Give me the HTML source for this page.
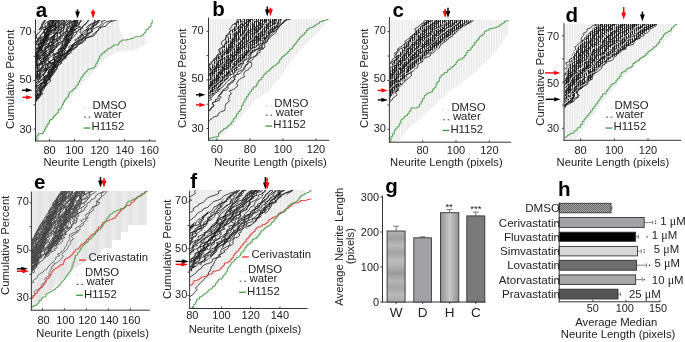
<!DOCTYPE html>
<html><head><meta charset="utf-8"><style>
html,body{margin:0;padding:0;background:#fff;}
svg{display:block;font-family:"Liberation Sans", sans-serif;will-change:transform;}
</style></head><body>
<svg width="685" height="342" viewBox="0 0 685 342">
<defs><pattern id="check" width="2" height="2" patternUnits="userSpaceOnUse"><rect width="2" height="2" fill="#a8a8a8"/><rect width="1" height="1" fill="#666"/><rect x="1" y="1" width="1" height="1" fill="#666"/></pattern>
<linearGradient id="vgrad" x1="0" x2="1" y1="0" y2="0"><stop offset="0" stop-color="#929292"/><stop offset="0.5" stop-color="#c8c8c8"/><stop offset="1" stop-color="#909090"/></linearGradient>
<linearGradient id="hstripe" x1="0" x2="0" y1="0" y2="1"><stop offset="0" stop-color="#b4b4b4"/><stop offset="0.1" stop-color="#a0a0a0"/><stop offset="0.2" stop-color="#b8b8b8"/><stop offset="0.3" stop-color="#a4a4a4"/><stop offset="0.42" stop-color="#bcbcbc"/><stop offset="0.5" stop-color="#b0b0b0"/><stop offset="0.6" stop-color="#9a9a9a"/><stop offset="0.7" stop-color="#b4b4b4"/><stop offset="0.8" stop-color="#a6a6a6"/><stop offset="0.9" stop-color="#bababa"/><stop offset="1" stop-color="#a8a8a8"/></linearGradient>
<clipPath id="c1"><rect x="36" y="20" width="124" height="120.5"/></clipPath><pattern id="s0" x="0.7" width="1.252" height="20" patternUnits="userSpaceOnUse"><rect width="1.252" height="20" fill="#f3f3f3"/><rect width="0.5" height="20" fill="#e6e6e6"/></pattern><clipPath id="c2"><path d="M47 15L44 20L36 35L20 50L0 85L30 110L35.5 103L40 97L45 88L51 78L57 68L64 59L72 50L80 42L90 32L99 23L103 19L107 15Z"/></clipPath><clipPath id="c3"><rect x="209" y="19" width="124.3" height="120.8"/></clipPath><pattern id="s1" x="0.3" width="1.653" height="20" patternUnits="userSpaceOnUse"><rect width="1.653" height="20" fill="#fafafa"/><rect width="0.5" height="20" fill="#dadada"/></pattern><pattern id="k1" width="2" height="20" patternUnits="userSpaceOnUse"><rect width="2" height="20" fill="#f4f4f4"/><rect width="1" height="20" fill="#222"/></pattern><clipPath id="c4"><rect x="389.9" y="20" width="125.3" height="121.7"/></clipPath><pattern id="s2" x="0.1" width="1.670" height="20" patternUnits="userSpaceOnUse"><rect width="1.670" height="20" fill="#fafafa"/><rect width="0.5" height="20" fill="#dadada"/></pattern><pattern id="k2" width="2" height="20" patternUnits="userSpaceOnUse"><rect width="2" height="20" fill="#f4f4f4"/><rect width="1" height="20" fill="#222"/></pattern><clipPath id="c5"><rect x="564.5" y="24" width="120.7" height="115.8"/></clipPath><pattern id="s3" x="1" width="1.685" height="20" patternUnits="userSpaceOnUse"><rect width="1.685" height="20" fill="#fafafa"/><rect width="0.5" height="20" fill="#dadada"/></pattern><pattern id="k3" width="2" height="20" patternUnits="userSpaceOnUse"><rect width="2" height="20" fill="#f4f4f4"/><rect width="1" height="20" fill="#222"/></pattern><clipPath id="c6"><rect x="31.9" y="191" width="122" height="118.7"/></clipPath><pattern id="s4" x="0.8" width="1.097" height="20" patternUnits="userSpaceOnUse"><rect width="1.097" height="20" fill="#ebebeb"/><rect width="0.5" height="20" fill="#e2e2e2"/></pattern><clipPath id="c7"><path d="M64 186L61.1 191L55.6 198.9L48.2 211.7L39 226.4L31.4 241.1L20 262L20 285L31.4 272.4L42.7 259.5L53.7 248.5L64.8 235.6L75.8 220.9L86.8 206.2L98 194L104 191L108 186Z"/></clipPath><clipPath id="c8"><rect x="190.1" y="190" width="121.4" height="118"/></clipPath><pattern id="s5" x="1" width="1.460" height="20" patternUnits="userSpaceOnUse"><rect width="1.460" height="20" fill="#f4f4f4"/><rect width="0.5" height="20" fill="#e0e0e0"/></pattern><clipPath id="c9"><path d="M243 185L237.5 190L226.4 197L208 211.7L189.6 226.4L175 240L175 282L189.6 272.4L200.7 265L215.4 254L230.1 241.1L244.8 230.1L259.5 219.1L274.2 206.2L288.9 193.4L294.5 190L300 185Z"/></clipPath></defs>
<rect width="685" height="342" fill="#fff"/>
<g clip-path="url(#c1)">
<path d="M35 20L118 20L120 30L124 40L140 38L146 34L147 44L134 50L116 52L106 58L95 70L82 84L70 98L60 110L50 124L42 136L38 141L35 141Z" fill="url(#s0)"/>
<g transform="scale(8.0,1)">
</g>
<path d="M-34.1 144l0.7-1.5 1.2-1.5 1.4-1.5 1.8-1.6 0.4-1.3 1.9-1.1-1.6-1.1 4.1-1.9-0.1-1.6 2.4-1.2-0.1-1.1 0.2-1.2 0.9-1.4 1.4-1.5-1-1.6 0.4-1.5 0.1-1.3 4.8-2 0-1.7 0.5-1.3 1.5-1.1-1.8-1.7 3.1-1.4 0.7-2 0.5-1.2-2.9-1.9 3.5-1.4-0.5-1.1 0.1-1.2 0.3-1.1 5.7-1.8-0.1-1.1 0.9-1.1 1.3-1.8 1.8-1.4-0.5-1.2-0.4-1.6-0.1-1.2 1.7-1.2 1.5-2-0.2-1.9-1-1.2 3.9-1.6 1.4-1.1 0.1-1.3 0.2-1.8 1.8-1-0.7-1.1 0.6-1.6-2.2-1.4 3.8-1.5 1.9-1.6-0.1-1.1 1.8-1.9-0.3-1.2 2.3-1.8 0.6-1.9 0-1.9 0.4-1.1 2.3-1 0.7-1.7 1.6-1.3-1.3-1.3 1.2-1.2 0.6-1.2 2.8-1.5-0.5-1.3 2.7-1.9 1.8-1.3 2.4-1.5 1.4-1.3 2.2-1.6 2.3-1.9 0.1-2 0.1-1.6 1.9-1.1 1.5-1.9 1.4-1.7 0.8-1.6 0.6-1.5 0-2-0.9-1.1 1.8-1.9 1.3-1.7-0.4-2 1.3-1.3-0.2-1.9M-27.9 144l-2-1.6 0.8-1.6 3.5-1.6-2.1-1.1-0.9-1.9 1.7-1.7 4.6-1.6 1.4-1.4 0.6-1.8-0.4-1 0.5-1.2 0-1.7 2.6-1.9 2.6-1.3 0.8-1.7 2.1-1.2 2.8-1.6 0.1-1.5-1.1-1.6-1.9-1.2 3.2-2-0.3-1.8 2.7-1.4-2.2-1.1 2.3-1.8 2.7-1.8 0.1-1.1 0.8-1.5 1.9-1.4-0.7-1.6 1.5-1.9 0.8-1.9 1.1-1.1 3.3-1.8 0.4-1.6 0.1-1.3-0.1-1.2 3.4-1.4-0.3-1.2 1.7-1.2 0-1.4-1.4-1.7-0.8-1.9 2.7-1.7 2.5-1.2-2.2-1 1.8-1.2-0.2-1.2 3.3-1.6 0.5-1.6-0.7-1.8 4.5-1.9 1.6-1.7-2.6-1.1 2-1.9-2-1.4 1.1-1.8 0.5-2 2.8-1.2 2.4-1.7-0.8-1.7 4.8-1.2-1.4-2 2.5-1.5 1-1.9 2.3-1.9 2.5-1.4 1.8-1.6-0.6-1 5-1.8 1.4-1.2 0.4-1.3-0.6-1.2 0.6-1.5-1.4-1.7-0.8-1.9 3.3-1.1 0.7-1.2 2-1.8-1-1.6 2.2-1.6-0.1-1.3 4.5-1.9 2.9-1.2M-26.5 144l2.6-1.6 2.8-1.5 4-1.6-0.6-1.5 0-1.4-1.7-1.5 3-1.7 1-1.4 1.5-2-0.4-1.4-1.8-1.2 3.3-1.9 0.6-1.4 2-1.6 2.6-2 1.4-1-0.3-1.2 2.1-1.3-1.1-1.4 0.1-1.7-0.4-1.1 1.2-1.2 0-1.5 2.2-1.5 1.6-1.5 1.6-1.6-2.1-1.7 1.5-1.6 2.2-1.8 3.7-1.8-0.3-1.9 1.9-2 3-1.2-1.2-1.1-0.4-1.3-0.8-1.1-0.8-1.8 3.1-1.1 0.8-1.4 0.5-1.2 4.2-1.7-2.7-1.1 1.1-1.5-0.6-1.7 2.2-1.2 1-1-1-1.6 1.4-1.1 2-1.2 3.5-2 0.2-1.9 0.6-2 0.5-1.4-0.7-1.5-0.3-1.5 2.5-1 1.7-1.7 0-1.5 0.7-1.7 1.8-1.2 3.9-1.5 0-1.8 1.6-1.7-1.1-1.4-2.1-1.6 3.9-1.8 4.4-1.3 0.2-1.8-0.2-1.8 5.1-1.9 1.9-1.7-1.1-1.4 3.4-1.7 1.5-1.4-0.8-1.1 3.1-1.6 2.2-1.2-1.1-1.4-0.8-1.6 0.8-1.4 0.7-2 0.4-1.8 4.7-1.9 1.2-1.8M-21.7 144l1.1-1.2 1.7-1.4 1.4-1.9-3.2-1.5 2.4-1.6 0.5-2 0-1.1 2.6-1.6 1.6-1.9 0.5-1.2 1.9-1.4 4.4-1.7 0.7-1.4-1.4-1.5-0.1-1.3 0.4-1.6 1.3-1.8 2.5-1.3 0.5-1 0.6-1.2-0.3-1.9 5.8-1.7 0.9-2 0.4-1-1.2-1.5 1-2 2.8-1.9-3.7-1.7 3.4-1.9 2.8-1.6 1.6-1.4 1.4-1.2-0.1-1.1-0.9-1.5-0.7-1.2-0.6-1.6 3.4-1.6 3.5-2-1-1.2 2.4-1.1-1.7-1.6 0.8-1.4 3.2-1.6-1.5-1.5-0.7-1.2 4.8-1.3-0.3-1.9 1.3-1 0.6-1.4 1.8-1.7 0.7-1-1.1-1.1-0.7-1.6 0.7-1.4 1.8-1.4 1.8-1.7 0.3-1.1-0.3-1.8 0.1-1.2 2.2-1.5 4.2-1.3 1.4-1.7-0.1-1.5 2.5-1.8-0.1-1.4 1.4-1.1 0.5-1-0.4-1.6 2.6-1.3 3.2-1.8 2-1.6 0-1.1 4.1-1.7 1.1-1.3 1.4-1.7 1.6-1.4 1.2-1.6 2.9-1.9-2.3-1.4 0.3-1.8 2.1-1.4 1.5-2-0.4-1.3 0.1-1.4 2.5-1.4-1.8-1.2M-17.6 144l0.7-1.8 1.4-1.8 1.7-1.9 1.6-1.5-2.3-1.5 1.2-1.7 4.4-1.8 1.9-1.8 2.3-1.1 1.3-1.9-1-1 0.3-1.8 1.3-1.6 2.2-1.8 0.7-1.5-0.8-1.4 1.1-1.9 0.2-1.6 1.4-1.7-1.1-1.4 1.8-1.8 0.5-1.8 5.9-1.9-1.5-1.6 1.4-1.5-0.8-1.5 4-1.4 3.2-2 0.5-1.3 1-1.5 0.4-1.3 0.1-1.3-1.1-1.1-0.7-1.2 0.1-1 3.1-1.9 1.8-1.1 1.2-1.2 0-1.2-1.1-1.2 1.5-1.2 2.4-1.8-1.8-1.3 1.2-1.5 4.1-1.2-2-1.4 3.1-1.5-0.1-1.3 3-1-1.2-1.4-0.4-1.5 1.7-2 1.4-1.7 1.3-1.4 1.5-1.4-1.4-1.6 2.4-1.2 2-1.2-1.1-1.9 2-2 0.6-1.3 1.7-1.7 2.6-1-0.9-1.9 1.8-1 4-1.1-2.6-1.5 3.6-1.6 1.4-1.9 4.4-1.4 3.3-1.9 1.1-1.2-0.9-1.5 0.9-1.9 0.7-1.3 1.5-1.3 0.6-1.5 0-1.6 0.2-1.1 3.4-2 1.2-1.8 0.9-1.4 1.6-1.7 3-1.5 2.3-1M-14.3 144l0.8-1.6 2.5-1.6-0.4-1.3 2.5-1.6 1-1.3 2.4-1.3-2.1-2 0.4-1.3 2.5-1.8 1.1-1.1 0.7-1.7 0.1-1.4 1.2-1.8 1-1.2 2.2-1.2 1.4-1.1-0.8-1.9 2.3-1.6 1.6-1.8-0.7-1.3 2.8-1.5 0.8-1.7 1.6-1.9-1.3-1.6 0.8-1.1 3-1.6-0.7-1.1 2.9-1.8 0.2-1.8 0.8-1.8 0.3-1.9 1.3-1.5 0.3-1.1-2.4-1.6 3.8-1.7 1.3-1.9 2-1.7 1.6-1.2 0.4-1.6 0.1-1.9 0.8-1.4 2-1.9 2.4-1.2-0.7-1.5 0.8-1.6 4.5-2-0.9-1.8 0.2-1.8 1.6-1.3 0.1-1.6 2-1.8 2.1-1.1 1.5-1 3.7-2-2.2-1.6 2.4-1.8-2.6-1.3-0.2-1.1 0.9-1.2 2-1.3 2.3-1.6 2.5-1.3-0.2-1.5 2.9-1.1 3-1.7 3-1.6-2.3-1.4 2.5-1.7 1.2-1.8 0.1-2 3.2-1.8-0.1-1.4 3.2-1.6-0.3-1.5 2.4-1.5-0.2-1 3.3-1.7-0.9-1.6 0.9-1.8 3.1-1.1-1.4-1.1 2.2-1.4 0.2-1-0.4-1.3M-10.8 144l1.7-1.1 3.2-1.9-0.2-1.8 1-1.5-0.1-1.7 2-1.6 0.8-1.8-2.5-1.1 1.7-1 1.7-1.2 2.8-1.1 1.7-1.9-0.7-1.4 1.9-1.5 1.5-1.9-2.3-1.3 3-2 2.2-1.5 2.7-1.9 1.8-1.9 2.8-1.4 0.8-1.4 2.5-2-1.8-1.2 0-1.9 2.5-1.1 1.4-1.3 1.7-1.9-2.2-1.1 2.7-1.7-0.5-1.1-0.1-1.2 3.1-1.2 0-1.2 2.6-1.8-2.1-1.4-1.4-1.5 1-1.3 5.2-1.6-0.6-1.3 0.4-2-0.8-1.4 1.3-1.1 1.3-1.6 2.5-1.8-0.2-1.1 3.1-1.2-1.2-1.3 0.8-1.9 2.7-2 0.8-1.7 1.9-1.4-0.9-1.2 0.1-1.6 0.5-1.6 0.3-1.8 2.4-1.8-1.5-1.7 2.5-1.2 3.6-1.8 2.8-1.2 0.7-1.5-1.3-1.8 1.2-1.2 2.7-1.6 3.8-1.5 1.5-1.7 1.6-1.6 0-1.1-0.4-1 2.2-1.5 1.9-1.2 1.4-1.9-0.8-1.6 1.7-1.2 1.8-1.2 2-1.3 0.4-1.6 1.7-1.6 1.7-1.1 0.3-1.3 0.4-1.1-0.3-1.8 1.3-1.1 3.1-1.2 3.6-2M-4.9 144l2.3-2 1.9-1.7 0.1-1.1 3.2-1.1-1.1-1.4 1.5-1.1 2.1-1-0.4-1.7 0-1.3 2.3-1.2 1.2-1.5-0.7-1.3 0.9-2 0.7-1.4 2.6-1.7 1.2-1.6-1.6-1.9 0.5-1.5 3-1.4 0.4-1.7 1.1-1.3 2.5-1.5 1.1-1.2 1.8-1.4-3.7-1.4 4.5-1.6 1.9-1.9 2-1.1-0.2-1.7 1.6-1 0.3-1.2 2.6-1.9 0-1.7 1.7-1.2-1.3-1.9 3.2-1.7 1.5-1.9 0-1.4 1-1.1-0.5-1.8 2.2-1.5 0.6-1.2 1.2-1.1 1.3-1-2-1.3 1.7-1.1 0.5-1.7 3.2-1.7-0.2-1.2 1.4-1.7-2.2-1.4 3.2-1.2-0.3-1.3 1.5-1-0.9-1.1 0.4-1.8 1.7-1.9 4.1-2-0.4-1.2-0.2-1.9 2.7-1.9 3.2-1.1 0-1.4 1.3-1.4-0.1-1.3 1.6-1.2 0.8-1.4 2.3-1.7 2.6-1.2 1.7-1.4-1.3-1.2 1.1-1.5 4-1.7 1.3-1.4 0.5-1.1 1.7-1.4 0.1-1.6 2-1.3-0.7-1 4.8-1.6-0.1-1.2 0.4-1.5 3-1.6 0.6-1.6 1.9-1.9-0.6-1.7 1.2-1.4 3.2-1.8M-2.8 144l3.7-1-1-1.2 1.3-1.3 2.2-2 1.5-1.2 0.8-1.7 1-1.6 1-1.4 2.8-1.6-1-1.6 0.4-1.8 1.5-2 3.3-1.8 0.3-1.4-0.7-1.6 3-2 0.8-1.6 0.5-1.5 1.3-1.3 1.1-1.8 1.6-1.2 2.2-1.3 2.3-1.2 0.6-1 0.9-1.7-2-1.1 2.8-1.5 2.8-1.2-2.2-1-1-1.3 2.5-1.4 2-1.7 3.4-1.3 0-1.4-2.2-1.8 0.1-1.5 3.4-1.7 1.5-1.8 0.1-1.4 1.5-1.6 1.6-1.1 4-1.5-2.6-1.2-1-1.7 2.5-1.4 1.5-1.9 0.7-1.7 1.7-1.1 0.7-1.8 1.6-2 0.8-1-1-1.5 1.5-1.3 2-1.8-0.2-1.4 2-1.6-2.9-1.4 0.9-1.7 2.5-1.2 5-1.2 2.5-1.2 0.9-1.5 0.6-1 1.6-1.6 1.8-1.2-1.4-1.3 1.4-1.2 3.7-1.1 1.1-1.3 0.5-1.1 2.5-2 1-1.2-0.9-1.4 1.5-1.8 2-1.5 0.7-1.7 1.4-1.9 3.9-1.9 1.2-1.8 1.6-1.8 1.2-1.1 2-1.2 1.6-1.7 0.3-1.3 0.9-1.2 3.5-2 1-1.8M2.2 144l0.1-1.8 2.6-1.8-3.1-1.1 1.8-2 4.2-1.2 3.7-1.9 0.4-1.3-0.8-1.4 3.4-1.8-0.3-1.3 0.1-1.3 1.8-1.9 2.1-1.4 1.8-1.7 3.1-1.5 0.4-1.7 0.7-1.2 0.2-1.3 1-1.5 0.1-1.4 3.4-2 1.2-1.2-0.2-1.7 2.3-1.1 0.7-2-1.1-1.2 2.8-1.2-0.7-1.3-1.5-1.3 0.1-1.2 6.4-1.1-0.8-1.7 2.5-1.2 2.5-1.6-2.1-1.6 0.4-1.5 1.2-1.9-0.6-1.7 2.6-1.4 1.4-1.4 2.8-1.5 1.9-1.5-0.2-1.5-2.6-1.6-0.2-1.1 4.5-1.5 0.2-1.3 2.3-1.8 0.2-1.8 1.9-1.1-0.3-1.3-1-1.8-0.5-1.9-1.4-1.7 3.6-1.1 2.9-1.9 1.5-1.8-0.5-1.4 2.3-1.2 2-1.3 1.8-1.6 1.1-1.8 2.6-1.8 2.5-1.8 0.2-1.9 3.5-1.8 2.3-1.1-1.1-1.1 4.7-1.8 0.8-1.1 2.4-1.9 1.1-1.6 0.9-2-1-1.2 0.5-1.7 1.9-1.2 0.9-1 1.7-1.3 4.1-1.3 0.8-1.6 0.3-1.2 1.3-1.7 1.8-1.1 1.1-1.9 1-1.2" fill="none" stroke="#1c1c1c" stroke-width="0.85" stroke-linejoin="round"/>
<g clip-path="url(#c2)">
<path d="M12.1 144l2-1.4-0.7-1.2 0.2-1.8-0.1-1.4 2.7-1.9 0.8-1.4 0.2-1.6 2.1-1.2 0.2-1.9-1.9-1.7 3.4-1.4 0.2-1.7 0.5-1.1 1.3-1.4 3.2-1.9-0.5-1.3-1.1-1.3 3.8-1.4 2.4-1.2-2-1.5 3.2-1.8-0.8-1.6 0.7-1.9-0.4-1.1 2.4-1.7-1-1.7 4.2-1.9-1.4-1-0.3-1.4 0.6-1.5 3.5-1.6 4.8-2-2.3-1.3-1.2-1.9-0.5-2 0.2-1 2.4-1.7 2-1.2 0.5-1.4-1.3-1.1 2.8-1.1-0.8-1.2-0.1-1.7 2.5-1.3-1.1-1.7 1.5-1.2 1.7-1.8 1.7-2 0.5-1.3 0.3-1.6 1.3-1.7 0.2-1.3 1.3-1.6 2.3-1.1 1-1.3 0.3-1.8 1.7-1.1-2-1.2 1.7-1.4 3.1-1.9 1.2-1.2-1.7-1.9 0.7-1.6 2.5-1.9-0.4-1 1.4-1.2-1.7-1.7 1.1-1.1 1.1-1.1 3-1.3-0.3-1.9-0.1-1 1.1-1.3 1.6-1.1-0.3-1.5 3.4-1.7-2.6-1.5 2.5-1.5-0.5-1.3 1.1-1.8 2.3-1.4-0.7-1.5 2.1-1.4 0.3-1.1 0.1-1.5 0-1.5 1.7-1.1M-8.7 144l2.9-1.5-3.7-1 3.4-1 1.6-1.6-0.5-1.6-0.2-1.4 2.8-1.6-1.9-1.3 1.3-1.7 1.6-1.1 0.9-1.2-2.1-1.8 3-1.4 0.3-1.3 0.5-2 0.6-1.8 2.4-1.9 0.3-1.8 0.5-1.7-0.6-1.1 0.5-1.9 5-1.6 0.2-1.8 2.3-1.6-0.8-1.4 3.2-1.7-1.8-1-2.1-1.8 2.2-1.4 0-1.4 1.2-1.4 1.5-1.7 0.9-1.8-0.1-1.7 0.5-1.1 2.6-1.3-0.4-1.9-1-1.3 2.5-1.8 1.6-1.1-1.3-1.1-0.5-1.4 3.3-1.9 0-1.5-0.3-1.8 1.2-1.1 0.3-1.6 0.7-1.2 1.9-1.3-0.6-1.6 1.2-1.6 0.2-1.8 2.9-1.5-0.3-2 2.9-1.2-0.4-1.3-1.5-1.2 1.9-1.1-0.3-1.7 0.1-1.5 0.7-1.9 0.5-1.9 2.4-1.3 2.3-1.7 1.3-1.9-0.5-1-0.9-1.6 3.5-1.3 3.1-1.8 1.3-1.8 0.1-1.2-2.9-1.2 0.3-1.1-1.5-1.8 1-1.9 0-1.7 5.3-1.7 1.7-1.3-2-1.3 2.7-1.2 0.2-1.3 0.2-1.3 1.3-1.4-0.1-1.3 1.8-1.5M17.2 144l-1.1-1.5-0.5-1.8 2-1.9 1.8-1.8 2-1.9 1-1.4-0.2-1.4 0.7-1.4-2-1.5 2.2-1.6 3.2-1.9 2.7-1.1-1-1.1 2.5-1.9 1-1.1-0.8-2 3.3-1.1 0-1.6 0.2-1.6-0.4-2-1.2-1.8 3.8-1.5 1.4-1.2-0.6-1.5 2.3-1.2-0.9-1.7 1.9-1.1-2.9-1.5 1.3-1.5 1.7-1.2 3.1-1.7 4.4-1.9-1.2-1.9 0.7-1.9 0.3-1.5 0-1.6-0.5-1.6 3.5-1.9 1.8-2 2.2-1 1.6-2 1.6-1-0.6-1.7-2.5-1.5 0.3-1.8 3.6-1 1.4-2-0.9-1.8 1.5-1.4 0.5-1-0.4-1.6 0.2-1.5 3.4-1.5 0.8-1.2-0.5-1.1-1.7-1.3 2.3-1.3 0.5-1.3 0.5-1.5 2.1-1.2 0.1-1.3 0-1.3 3.6-1.6-0.1-1.8 0.8-1.8 1.1-1.2 2.4-2-1.9-1.4 4.1-2 1.5-1.4 1.6-1.8-0.4-1.3-1.6-1.3 1-1.6-0.4-1.8 0.1-1 1.7-1.1 2.3-1.9 1.8-1.9 1.9-1.9-0.2-2-0.2-1.1-2.3-1.2M-28.1 144l-2.3-1.5 3.4-1.3 2.3-2 1-1 1.5-1.1 0.3-1.3 1-1.5-1.9-1.6 0.7-1.5 2.9-1.9 1.1-1.1 0.7-1.3-2.5-1.5 1.3-1.2 3.5-1.3 2.3-1.8-0.2-1.6-0.1-1.8 1.6-2 3.5-1.9 0.1-1.4 0.3-1.1 1.1-1.7 1-1.2 0.3-1.8-0.5-1.5-0.4-1.2 1.2-1 1.6-1.3-0.1-1.6 2.6-1.6-1.3-1.4 3.9-1.5-1.4-1.5 0.7-1.3 1.8-1.9 4.4-1.9 0.3-1.8 1.3-2 0.5-1.3 1.5-1.2 1.2-1.6 1.9-1.3-2.2-1.1-1.2-1.6 2.5-1.5-0.6-1.3-0.5-1 1.5-1.6 0.6-1.7 1.5-1.5-1.4-1.4-0.9-1.3 5.1-1.5 1.9-1.2 0.7-1.8-0.4-1.9-0.4-1.5 2.8-2-0.2-1.5 1.8-1.8 0.6-1.5 1.8-1.2 2.2-1.9-3.3-1.9 3-1.7-0.6-1.8 3.4-1.8 3.1-1.3-0.1-1.2 0-1.5 1-1.4-1.1-1.9 1.5-1.9 1.1-1.7 3.9-1.1-0.7-1.3-0.6-1.2-0.8-2 3.7-1.6 2-1.1 0.5-1.8-2-1.9 3.7-1.6M-3 144l2.1-1 2.1-1.3-0.2-1.6-2.2-1.5 1.1-1.3 2.1-1.7 1.7-1.7-0.3-1.9-0.1-1.9 4.5-1.6-0.4-2-1.5-1.3 0.6-1.5 1.2-1.9-1.5-1.5 2.2-1.2 0.1-1.2 0.8-1.4 2.3-1 0.8-1.6-0.4-1.9-0.2-1.4-2.2-1.3 3.2-1.1 0.5-1.4-0.6-1.6 5.1-1.6-1.2-1.3 2.7-1.5-0.2-1.2 1.2-1.8 0.5-1.5-0.3-1.3-1.5-1.3 0.6-1.8 0.1-1.4 3.4-1.5 2.1-1.9 0.9-1.9 0.3-1.3-0.2-1.7 1.1-1.4 0.7-1.6-0.7-1.6 1.2-1.7 1.1-1.7 2.4-1.1 0.4-1-1.2-1.1 1.8-1.1 1.6-2-1.2-1.6 1.7-1.3 0.3-1.3 1.6-1.2-1.1-1.4 1.8-1.4-0.1-1.8-0.3-1.7 1.9-1.5 0.1-1.4 2.9-1.4 0.2-1.3-1.3-1.5 0.1-1.9 2.2-1.9 1.5-1.9-0.6-1.7 0.9-1.8 3.7-1.9-0.7-1.7-0.5-1.6 1.4-1.2-0.6-2 1.6-1.4 0.9-1.4 1.1-1.7 2.7-1.3 0.8-1.4 0-1.9-2.2-1 0.5-1.9-0.1-1.4 1.1-1.7M7.4 144l-0.9-1.5 3.5-2 2.1-1.4 0.7-1.7-0.7-1.5-0.5-1.6 1-1.6 0.4-1.9 0.1-1.8 2.5-1.4 1.9-1.5 1.7-1.5-0.6-2 0-1.3-0.3-1.3-0.1-1.7-1.3-1.4 1-1.3 3.1-1 0.2-1.4 0.1-1.3 2.2-1.8-0.1-1.2 2.7-1.1 1-1.8-2.7-1.2 1.1-1.1 1.6-1.8-0.2-1.7-0.4-1.7 3.8-1.2-0.7-1.5 2.1-1.8-3.2-1.6-0.8-1.2 1.8-1.2 1.6-2 0.2-1.3 2.5-1.9 0.7-1.9 0.2-1.3 2-1.7 3.6-1.9-1.5-1.2 1.1-1.7-0.3-1.1 0.2-1.8 0.3-1.6 0.5-1 2.8-1.4-0.1-1.8 0.4-1.1 0.7-1.7 0-1.2 2.8-1.7-1.5-1.3 1-1.6-0.2-1.3 1.7-1.3 1.5-1.3 0.1-1.6 2.2-1.2 1.2-1.5-1.9-1.5 3.3-1.8-1.9-1.6-1.3-1.5 0.2-1.4 2.8-1.5-1.7-1.5 1.5-1.9 2.6-1.2 0.5-1-0.2-1.8 0.1-1.2 2.5-1.9-1.3-1.7 0.2-1.7 2.1-1.6 4.3-1.9-0.7-1.8-0.1-1.1 4.1-1.5-2.4-1.5M-11.6 144l0.7-2-0.3-1.4 1.7-1.6 1-2-0.3-1.4-1.8-1.6-1.8-1.2 3.1-1.6-0.6-1.2 2.3-1.4 0.7-1.6 0.5-1.2 1.1-1.6 1.3-1.8 2-1.3-1-1.1 0.2-1.7 3.3-1.7-0.2-1.8 0-1.7 0.1-1.2 0.5-1.2 1.5-1.4-0.5-1.3 1.3-1.8 2-1.6 1.4-2-0.4-1.3-0.2-1.9 2.2-1.2 0.3-1.5-0.9-1.2 0.1-1.9-0.1-1.2 0-1.3 3.8-1.7-1.3-2-1.2-1.3 1.1-1.8 1.3-1.4 0.4-1.4 0.7-1.1 0.2-1.9 2-1.2 1.2-1.6-0.3-1.5 0.8-1.5-1.4-1.2 1.3-1.2 0.7-1.9 1.5-1 2.2-1.9-0.2-1.6-2-1.7 1.9-1 0.1-1.2 3.7-1 0-1.4 2.2-1.1-0.3-1.6 0.2-1.9-0.2-1.3 0.6-1.2 0.7-1.6 0.7-1.2 1.3-1.4-2.1-1.1 0-1.4 3-1.5 0.2-1.2 2.9-1.3-0.9-1.6-3.6-1.4 0.7-1.1 1.2-1.4 0.1-1.7 2.9-1.9 0.8-1.3 1-1.8-1.7-1.9-0.7-1.2 3.9-1.8 2.7-1.1-0.7-1.8-2.7-1.4-0.2-1.9M-10 144l-1-2-0.1-1.1 2.8-1.1 2.9-1.8 0.6-1.3-0.7-1.3 0.2-1.5 2.5-1.8 0.3-1.4 1.8-1.7 2.7-1.2-0.6-1.5-0.2-1-0.3-1 2.3-2 2.5-1.7 0.4-1.2-0.7-1.5-1.8-1.9 1.5-1.4 2.9-1.4-1.2-1.7 2.1-1.1 2.2-1.8 0.5-1.6 2-1.2 0.3-1.2-1.4-1.7 0.9-2 1.8-1 1.3-1.5 0.4-1.8-0.1-1.9 3.3-1.4 1.7-1 0.7-1.2 0-1.1 1.8-1.5 1.6-1.8 1.1-1.4 1.2-1.7-2-1.9 0.7-1.9 2.5-1.6 0.5-1.8 0.7-1.6 1-1.5-0.6-1.3 0.6-1.5 2.8-1 2.2-1.7 0.6-2-0.8-1.5 1.7-1.5-0.3-1.9 0.2-1.5 2.8-1.3 2.5-2 0.4-1.1 0.9-1.7 1-1.4 0.5-1.6-1.1-1.3 2.2-1.4-0.1-1 0.6-1.9 1.3-1.1 1.3-1.9 0.6-1.7-0.7-1.2 2.3-1.1 1-1.9 2-1.8 2.5-1.1 0.3-1.4 0.6-1.9-0.8-1.1 0-1.6 2-1.9 0.6-1.2 1-1.9 0.7-2 0.8-1.7 2-1.9M4.9 144l1.8-2-0.2-1.5 2-1.3 2.5-1.8-2.5-1.3 2.3-1.7 0.9-1.5 0.6-1.2-1.5-1.8 1.5-1.4 2.8-1.3 3.5-1.6-2-1.2-1.7-1.6-0.8-1.8 0.6-1.9 1.5-1.4 0.8-1.4 1.1-1.4 0.6-1.4 2.6-1.8-0.9-1.8 1.1-1.4 0.7-1.4 2.4-1.1-2.4-1.3 2.8-1.3 1.8-1.7 1.8-1.9 1-1.7 1-1.2-0.8-1.5 0.3-1.2 2.3-1.3 2.2-1.7 0.1-1.8 0.1-1.4 0.6-1 0.2-1.8 0.3-1.5 0.7-1.6 1.1-1.4 1.9-1.4 0-1.9 0-1.8 0.8-1.9 0.3-1 0.7-1.1 3.5-1.4 3.4-1.6 0.9-1.9-2.1-1.7 0.2-1.4-2-1.2 0.1-1.5 2.8-1.7-1.3-1.7 1.1-1.9 1.9-1 1.4-1.2 0.4-2 2.5-1.4-0.2-1.6 3-1.3-0.3-1.9 0.1-1.5 0.7-1.1 0-1.3-0.9-1.8 0.5-1.4 2.2-1.5 2.4-1.2 0.9-1.7 0.5-1.2 0.1-1.5 0.7-2 0.3-1.9 1.7-1.8 1.9-2 2.5-1.8-0.2-1.9 0.5-1.2 2.4-1.2-2.7-1.5M-18.5 144l-0.5-1.8 0.3-1.4 2.3-1.4 0.3-1.4-0.8-1.4 2.3-1.5 1.5-1.4 1.3-1.4 0.5-1.4 0.9-1.9 0.1-1.4 0.4-1.3 1.6-1.6-0.1-1.9 1.3-1.1 0.3-1-0.4-1.7 2-1.8 0.9-1.3 0.4-1.8-0.7-1.4-1.3-1.4 2.5-1.2 3-1.9-0.6-1.9 3.1-2 3.4-1.2-0.7-1.8-0.1-1.4-0.8-1.8-0.4-1.9 0.6-1.9 0.9-1.3-2.2-1.3 3.9-1.6 1.7-1.8 0.8-1.7 0.2-1.4 0.7-1-1.1-1.4 0.7-1.6 3.1-1.3 0-1.3-0.6-1.5 1.4-1.1 0-1.3 1.1-1 3.2-1.5-0.7-1.3-0.6-1.5 0.1-1.1-0.9-1.8 0.7-1.3-1-1.8 2.3-1.8 1.3-1.9-0.8-1.5 0.5-1.5 1.4-1.8 4.2-1.9 0.9-1.6 0.4-1.6-0.1-1.5 1.3-1.3 0-1.6 0.4-1.1-0.9-1.8 1.5-1.3 0.8-1.2 2.7-1.7-1.9-1.3 0.4-1.1-1.2-1.1 1.9-1.9 1.4-1.5 3.4-1.3 1.7-1.9-1.9-1.2 1-1.6-0.5-1.1 2.1-1.5-2.6-1.5 0.1-1.9 2.9-1.9 0.1-1.2M-11.7 144l5.1-1.3 0-1 0.4-1.8 1.1-1.8 0.1-1.2 1.2-1.8-0.8-1.1 3.2-2-0.8-1.5 0.7-1.7-1.2-1.3 0.8-1.5 0.5-1.7 2.4-1.1 0.4-1.2 4.1-2-1.5-1.8 1.5-1.9-1.6-1.1 2.9-1.7-2.2-1 1.3-1.1 0-1.9 0.1-2 3.1-1.6 0-1.7 2.9-1.1 0.3-1.9-1.7-1.5-0.1-1.2 3.1-1.5 2.5-1.1 0.2-1.3 0.7-1.2 2-1.7 0-1.9 0.4-1.9 0.6-1.6-1.2-1.3 3.6-1.4 1-1 2-1.7-1.5-1.6 3.4-1.8-0.9-2 2.4-1.5-0.1-1.6-0.7-1.9-0.1-1-1.5-1.8-0.3-1.6 3.9-1.9-2.7-1.4 3.4-1.9 2.2-1.3 2.7-1.4 0.2-1.3 1.7-1.7 0.8-1.4-1.2-1.1 0.4-1.8 2.1-1.3 0.5-1.6 1.8-1.2 0.5-1.9-1.4-1.3 1.5-1.2 2.3-1.6 0.7-1.3 0.7-1.8-1.7-1.6 1.9-1.8 0.5-1.2 3.7-1.7-3.6-1.8 0.2-1.1 1.6-1.6 3.4-1.2 0.1-1.2 0.7-2 1.4-1.7 0.9-1.3 1.8-1.6-1.5-1.3M4.4 144l1.9-1.3 0.7-1.5 3.8-1.1 1.5-1.1-0.6-1.8 0.3-1.7 2.2-1.1-2-1.5 3.2-1.5 0.1-1 2.1-1.5-1.6-1.1 0.5-1.8-0.1-1.7 0.2-1.6 2.6-1.3 1.9-1.3-0.3-1.7 1-1.4 1.3-2 2.9-1.7-0.5-1.1 2.2-1.1 0.4-1.7 0-1.9 1.4-1.2 1.7-1.2 0-1.4 1.2-1.4-0.2-1.8 0.9-1.5 0.9-1.6 2.9-1.9 0.2-1.3 1.2-1.6-2.2-1.3 4.2-1.1-0.8-2 1.8-1.5 0.8-1.9-0.2-1.1 1.3-1.9 1.6-1.3 0.6-1.2-1.4-1.5-0.3-1.1 3.2-1.5 1.4-1.8 0.8-1.3-0.6-1.4 3.1-1.7 0.2-1.6 2.6-1.7-1.2-1.2-0.7-1.2 1.5-1.6 0.3-1.1-0.4-1 4-1.1-0.9-1.9 1.8-1.4 0.6-1.7 1-2 0.7-1.1 1.2-1.1-1.3-1.5 0.9-1.1 0.6-1.1 0-1.6 0.2-1.8 1.9-1.2 2.5-1.5 2.1-1-1.2-1.8 3.6-1.5-1.2-1.8 1.5-1.8 1.9-1.1-3.7-1.7 3.2-1.3 3.8-1.5-2.7-1.7 3-1.9 0.4-1.6-0.7-1.1-1.4-1.5 2.2-1.1 1.9-1.5M-29.5 144l-1.8-1.5 4.5-1.4 1.3-1.6 1.1-1.4 1-1 0.9-1.2 0.2-1.1-2.1-1.8-0.3-1.6 1.4-1.1 4.4-1.6-0.3-1.7 0.1-1.2 2.7-1.4-2.9-1.6 3.4-1.2 0.9-1.5 0.9-1.9 1.1-1 1-1-2.9-1.2 0.6-1 1.4-1.6 1.7-1.9 0.1-1.6 1.6-1.3 0.3-1.9 2.7-1.7 0.1-1.9 1.1-1.6 3-1.3 1.6-1.1-0.2-1.3-0.2-1.1-0.3-1.7-1.3-1.3 4.6-1.8 2.3-1.9-0.4-1.9-0.7-1.6 0.4-1.4 1.4-1.6 3.2-1.8 0.2-1.8 0.6-1.3 1.4-1.5-1.3-1.5-0.7-1.6 1.4-1.5 1.8-1.6 2-1.4 2-1.9-0.1-1.6-0.1-1.5 1.6-1.8 0.8-1.1 1.8-1.2 1.6-1.2 0.4-1.2-1.6-1.6 0-1.5 1.2-1.6 3.1-1.7 0-1.2-0.8-2-0.6-1.6 1.6-1.3-0.1-1.3 3.5-1.8 4.8-1.2-2-1.4-0.2-2 0-1.1-0.7-1 1-1.7 0.1-1.7 3.5-1.6-0.7-1.7 1.5-1.5 0.5-1.1-0.2-1.5 1.7-1.9 2.1-1.5 2.8-1.4 2.7-1.2 0.3-1.7M27.4 144l3.1-1-1.4-1.5-0.6-1.6 1.1-1.3 1.2-1.5 0.1-1.5-1.4-1.5 1.4-1.6 3.6-1.3-0.2-1.3 1.2-1.5 0.5-1.7 0.8-1.5 1.6-1.2-1.2-1.4 2.3-1.3-1.6-1.6 2.6-1.8 2.8-1.3-0.1-1.3 0.1-1.3-0.4-1.7 2.2-1.2 0.2-1.9-0.2-1.4 2.9-1.5-2.3-1.6 1.3-1.7 2.2-1.1 1.2-1.1 1.3-1.8 1.2-1.2 0.9-1.5 0.3-1.1 1.8-1 0.7-1.5-1-2-0.7-1.6 2-1.9 0.8-1.4 4.3-1.5 2.1-1.4-3.3-1.2 1.5-1.3 2-1.6 0.9-1.2 0-1.5 0-1.7 1.4-1.6-3.6-1.3 1.9-2 3.2-1.2 0.9-1.1 0.7-1 0.3-1.1 1.2-1.2 0.7-1.8 1.9-1.7 0.2-2 0.5-1.5 3.1-1.7-1.6-1.3 2.5-1.8 1.5-1.5-0.5-1.1 1.1-2 2.6-1.4-2.7-1.5 0.9-1.7 2.1-1.2 3.5-1.6-0.9-1.3 0.2-1.6 2.7-1.7-1.4-1 1.5-1.2 1.2-1.7 2.3-1.3-1.6-1.6 2.3-1.4 0.3-1.8 0.9-1.5-0.1-1.2 4.7-1.5 0.8-1.7 1.1-1.2-0.5-1.2 0.5-1.9M25.9 144l-1.6-1 2.7-1.8 1.2-1.8 0.7-1.8 2.2-1.8-1.1-1.6 0.2-1-1.3-1.2 1.3-1.5-0.6-1.6 1-1.4-1-1.9 2.1-2 2.3-1.8-1-1.5 3.4-1.3 1.6-1.2-1.9-1.6 0.6-1.5 0.3-1.2 3.5-1.9-0.8-1.3 1.9-1.4 0-1.7-2-1.8 3.2-1.7 0-1.5-0.3-1.6 3.5-1.4-1.7-1.6 0.4-1-2.7-1.3 2.8-1.1 3.8-1.9-0.8-1.3 0.6-1-0.2-1.3-0.4-1.9-0.9-1.9 1.3-1.2 1.6-1.3 1.6-1.5-0.4-1.7 1-1.1 1.4-1.6 0.2-1.6-0.5-1.9-1.2-1.8 1-1.1 0.2-1.3 1.8-2 5-1.7 0.5-1.4-0.4-1.2-1.8-1.9 1.3-1.6 2.5-1.4-0.7-1.4 0.1-1.2 2.4-1.1 0.2-1.8 1.6-1.4-1.4-1.6 1.6-1.3-0.6-1.9 2.7-1.2-1.1-1.2 1.3-1.7 1.2-1.4-0.8-1.3 1.1-1.4 0.4-1.1-0.9-1.7 3.8-1.5-0.9-1.7 3.1-1.8-2.7-1.4 1.9-1.6 0.5-1.4 2.5-1.6-1-1.1-2.8-1.4 1.8-1.6 0.3-1.2 0.2-1.6 2.7-1.4M-22.3 144l1.1-1.3 2.7-1.7 1.4-2 0.7-1.7-0.7-1.5-1.3-1.1 2.1-1 2-1.2 0.6-1.3 0.7-1.5 1.1-1.8 1.3-1.7 1.2-1.1 1.3-1.3-1.6-1.8 1.1-1.3 1.4-1.1-0.3-1.8-0.4-1.1 2.4-1.2 3.9-1-1.6-2 0.7-1.6-1-1.4 0.7-1.2 0.8-1.7 1.5-1 2.3-1.8 0.4-1.5 3.5-1.5-0.4-1.3 0.2-1.1 3.2-1-1.3-1.5-1.4-2 1-1.1 0.4-1.4 0.9-1.7 1.2-1.3 0.8-1.5 1.1-1.4 1.3-1.3 2.2-1.7 2.3-2-0.1-1.6-1.5-2 0-1.3 3.5-1.1 0.6-1.4 3-1.8-1.9-1.8 1.2-1.1 3.1-1.7-0.6-1.5 0.2-1.5 1.6-1.2 0.6-1.8 1.1-1.6 0.7-1.8 0.7-2-0.3-1.1 1.7-1.2 1.6-1.3 1.5-1 0.1-1.7 0.3-1.9-1.7-1.4 3.6-1.7 1.3-1.5-1.2-1.3 1.6-1-0.6-1.6 2.2-1.2 1-1.7 1.4-1.7 1-1.3 1.8-1.8 1.2-1.4 0.3-1.8 0.2-1.1 2.8-1.9-1.4-1.2 2.6-1.7 0.8-1.3 1.9-2 0.8-1.7M21.2 144l-2.9-1.9 3.7-1.6 1.4-1.6 0-1.9-1.2-1.9-0.7-1.5 2.6-1.8 2-1.6 0-1.9 0.6-1.8 1.1-1.6 2.3-1.7-0.7-1.7 1.6-1.7 1.7-1.5-0.9-1.2 1.5-1.7-0.4-1.6 0.8-1.8 1.6-1.7-2.5-1.1 0-1.3 2-1.8 2.3-1.2 0-1.1-1.5-1 0-1.5-0.2-1.1 1.1-1.3 2.3-1.2 2-1.4-0.6-1.6-0.4-1.6 1-1.2 0-1.6 1.8-1.8-0.8-1.9 2-2-0.5-1.2 2-1.7 1.2-1.1-2-1.6 3.9-1.8-0.5-1.5 1.5-1.1 0.8-1.1-1.1-1-0.8-2 3.2-1.5 1.8-1.9 0.6-1.7 0.7-1-0.9-1.7 0.8-1 0.7-1.8 2-2-1.3-1.1-1.8-1.7 1.8-1.7 1.7-1.5 1.3-1.1-0.5-1.5 4.1-1-0.4-1.8 0.3-1.9-1.8-1.2 0-1.4 2.6-1.4 1.9-1.3-0.1-1.6-0.5-1.5 2.3-1.3-1.2-1.2 2.2-1.5-0.3-1-1.8-1.2 1.1-1.2 0.2-1.6 3-1-0.8-1.9 0.9-1.3 3.1-1.6 0.9-1.2 0.5-1.4 0-2M-13.9 144l0.2-1.2 1.2-1.6 1.4-1.7 1.8-1.9-2.5-1.2 0.2-1.3 1-1.6 2.1-1.6 2.1-1.1-0.2-1 0.8-1.9 3.4-2 2.7-1.6-2.4-1 1.1-1.3-0.1-1.1 0.6-1.4 0.8-1.5 3.8-1.9-0.5-1.5-1.5-1.7-0.4-1.8 3.3-1.4-0.6-1.1 1.3-1.8-2.1-1.2 2.1-1.6 1.2-1.9-0.8-1.8 3.8-1.7-0.3-1.6-2.1-1.6 1.8-1.3 0.7-1.2 2.1-1.7 2.4-1.6 0.6-1.6 0-1.4-0.6-1.1 2.3-1.7 0.9-1.6-0.3-1.6 0.3-1.6 3-1.9-0.2-1.9 3-1.6-4.7-1.1 2.9-1.2 4.4-1.9-3.1-1.3 2.2-1.7 3.7-1.6-2.5-1.1 1-1.9 3.2-1.8-1.1-1.3 3.9-1.8 1.4-1.9 0.4-1.8-0.4-1.9-1.1-1.1 0.7-1.2 2.7-1.3 1.6-1.2 0.7-1.8-4.5-1.1 1.7-1.4 1.7-1.5 1.1-1.9 1.1-1.8-0.3-1.5 2.2-1.9 1.2-1.6 1.5-2 1.2-1.4-1.5-1.8 0.4-1.1-0.6-1.2 0.8-1.1 1.2-1.1 2.9-1.3 2.2-1.2 0.9-1.9 0.5-1.7M-4.2 144l-1.3-1.6 0.3-2 1.7-1.1 2.3-1.6 0.7-1.2-0.3-1 2.7-1.9 1.7-1.5 0.5-1-1.9-1.2 3.1-1.6 1.7-1.1-1.6-1.3 1.9-1.6 0.4-1.9 2.2-1.3-0.1-1.7 1.5-1.2 1.3-1.4-0.8-1.8 0.3-1.5 0.9-1.4 2.9-1.7 1.2-1.3-0.4-1.3 1.7-1.5 0.2-1.1 1.6-1.2-0.8-1.8-1.8-1.1 1.5-1.2 3.6-1.9 1-1.8 0.2-1 0.6-1.4 0.9-1.3 1.3-1.1-0.3-1.3 1.3-1.2 0.1-1.5 1-1.2 5.6-1.7-3.6-1.7 4.2-2-0.5-1.6 0.6-1.6 3.5-1.5-4.7-1.8 3.5-1.2-0.1-1.1 3-1.2-0.9-1.7 3.8-1.7-0.5-1.3-1.7-1.7 0.7-1.6 2.1-1.9-0.4-1.8 0.5-1.2 2.2-1.1 4.3-1.4-0.9-1.8 0.9-1.5 0.4-1.7 1.2-1.3 0.8-1.6-1.5-1.1 2.4-1.8 1.3-1.4 0.2-1.7 1.7-1.1-1.1-1.2 1.5-1.8 0.3-1.9-0.3-1.9 3.8-1.8-0.6-1.5 2-1.8 1.2-1.8 0.3-1.6 0.9-1.7 1.3-1.9 0.5-1.8-0.3-1.4 3.5-1.8M-0.8 144l1.2-1.6-0.4-1.4-1.5-1.3 2.3-2 4-1.9-2.8-1.8 3.3-1.7 1.6-1.5 1.3-1.1-0.8-1.2-0.6-1.1 1.5-2 0.7-1.6 1.6-1.1-0.2-1.6 0.6-1.5 2.1-1.5 0.7-1.2 0.8-1.8 2.3-1.4 0.5-1.3 0-1.6 0-1.7 3.4-1.3 1.4-1.7 0.9-1.5-0.2-1.6 0.8-1.6 0.8-1.8 1.9-1.7 0.7-1.2 0.8-1.6 1-1.9-1.1-1.9 1.7-1.8 3-2-0.5-1.9-0.4-1.4 1.2-1.1 2.5-1.6-1.2-1.7-0.6-1 3.4-1.2 2.2-1.9 0.9-1.4-0.3-1.4 0.7-1.8 3.6-1.6 1.4-1.7 0.3-1.9-0.8-1.4 6.4-1.6-3.5-1.7 0.7-1.4 0.2-1.3 2-1.7 1.4-1 1.4-2-1-1.8-1.3-1.2 3.7-1.5 0.4-1.1 1.4-1.1 1.1-1.5 0.6-1.2 0.8-1.9 1.4-2-0.3-1.2 1.8-1.9 0.6-1.6 3.3-2-1.8-1.3 3.8-1.8-1.4-1.9 1.4-1.8-1.6-1.4 3.5-1.6-0.6-1 2.6-1.5-1.4-1.4 1.7-2 0.2-1.7M19.6 144l2.6-1 0.3-1.3 2-1.7-1.2-1.8-1.1-1.1 0.3-1.3 4.3-1.7 2.5-2-0.7-1.8-0.6-1.8 2-1.8 2-1.9 1.6-1.7 2.1-1.8 3-1.7 0.3-1.2 1.4-1.6-0.1-1.2-0.6-1.8 2.4-2 1.5-1.5-1.5-1.9 1.3-1.3-0.4-1.8 3.9-1 2.2-1.9-0.2-2-1.4-1.3-0.1-1.1-1-1.8 2.2-1 1.7-1.2 3.4-1-1.6-1.1 1.9-1.8 0.8-1.9 2.7-1.3-0.6-1.8-0.1-1.5-0.9-1.4 2.3-1.7-1.6-1.4 2.1-1.6 2.3-1.2 2-2 3.1-1.4-3-1.7 1.2-1.3-0.2-2 0.5-1.5 0.5-1.6 0.7-1.2 1.8-1.7 2.4-1.8 2.3-1.2-0.9-2 1.8-1.9 2.3-1.8-1-1.2 2.4-1.3 1.2-1.5 2-1.5-0.6-1.1-0.5-1.2-0.6-1.4-0.1-1.5 3.4-1.6-0.3-1 1.5-1.6 1.4-1.5-2.6-1.7 2.1-1.7 2.2-1.7 0-1.2 3-1.2-2.6-1.9 1.2-1 1.5-1.5 3.7-1.6 2.1-1.6-0.6-1.4-0.2-1.8 1.2-1.9M-5.4 144l-1.4-1.8 0-1.6 1.3-1.2 2-1.4-0.8-2-0.2-1.8 1.4-1.4 2.3-1.9 0.4-1.9-0.1-1.7 3.5-1.4-1.6-1.7 1.8-2 0-1.8 1.9-1.8 2.6-1.6 1.1-1.3 0.7-1.7 1-1.2-2.8-1.3 0.6-1.6 1.9-1.7-0.2-1.4 2.4-1.7 3.4-1.9 2.7-1.9-0.1-1.2-2-1.1-0.5-1.2-0.6-1.6 1.3-1.5 1.9-1.6-1.2-1.7 0.2-1.9 2.5-1.1-0.9-1.1 2.6-1.2 0.9-1.9 2.7-1.5 1-2 1.1-1.6-0.5-1.4 1.5-1.9-0.6-1.4 0.7-2 0.8-1.1 0.6-1.5 2.5-1.3-0.1-1.9 0.9-1 4.5-1.4-1.7-1 1.1-1.5-1-1.4 1.9-1.5-2.1-1.2 1-1.6 0.3-1.7 1.9-1.9 0.3-1.2 2.4-1.4 0.9-1.2-0.8-1.5 2-1.6 1.2-1.2-0.3-1.5-2-1.9-0.2-1.2 2.9-1.3-1.3-2 2.3-1 0.6-1.4-0.9-1.5 2.7-1.9 0.2-1.7 4.2-1.5 2.3-1.9-0.1-1.9 2.2-1-1.3-1.5 1.7-1.4-2.4-1.5 2.4-1.7M-4.5 144l2.2-1.5 1.4-1.8-0.4-1.3 2.3-1.5-0.6-1-1.1-1.6 0.5-2 1.7-1.3 0.6-1.3 0.6-1.7-0.5-1.9 1.5-1.1 2.6-1.6-1-1.8 3.6-1.6-1.4-1.7 0-1.5 2.3-2 0.1-1.3 0.5-1.3-1.8-1.1 1.9-1.7 0.4-1 2.3-1.6-1-1.5-1.9-1.4 1.1-1.6-0.7-1.8 3.6-1.7 1-1.5 2.6-2 2-1.7 0.5-1.4-0.8-1.6 3.6-1.5-0.9-1.8 2.9-1.6-4.2-1.5 2.7-1.6-0.7-1.5 2.1-1.3 0.2-1.4 1-1.4-0.3-1 0.3-1.9 0.6-1.3 2.6-1.3-1-1.7 3.6-1.1 0.6-1-2.4-1.3-0.3-1.6 2.3-1.3-1.3-1.6-1-1.2-0.5-1.6 1.5-1.5 3.7-1.8 0.2-1.4-0.3-2 1-1.8-0.5-1.6 1.8-1.2 3.7-1.4 0.3-1.8 2.6-1.8-1.2-1.1 0.7-1.3 0-1.9 1.2-1.8 1.2-1.7 1.9-1.7-0.3-1.2-0.1-1.8 0.4-1.4 2.7-1-2.1-1.7 1.7-1-0.1-1.7 0.1-1.8 0.6-1.2 2.1-1.7 1.5-2 1.1-1.4M-14.7 144l0.7-1.8-0.5-1.6 3-1.4 1.7-1.4 2.4-1.6-0.2-2 0.4-1.6 0.6-1.5-0.7-1.5 0.8-1.8-0.1-1.6-2.1-1.4 1.1-1.6 3.4-1.4-0.1-1.8 1.7-1.1-0.1-1 0.5-1.4 0.6-1.4 0.4-2 1.1-1.1-0.9-1.2 1.1-1.7 1-1.1 0-1.7-3.4-1.2 2.4-1.8 3.6-1.3 1.7-1.4-0.2-1.4-1.5-1.9 2.8-1.5 0.5-1.4-1.1-1.4 4.4-2 1.8-1.7-2.5-1.7 1.5-1 1.8-1.7-0.6-1.8-1.3-1.7 2-1.4-1-1.2 1.7-1.1 1.7-1.5 1.1-1.8-0.5-1.4 3.3-1.6 1-1.3 1.5-1.9-0.4-1.9-1.6-1.7 2.3-1.9 1.8-1.9-1.1-1 1.3-1.9 1.2-1.7 1.4-1.4-1.3-1.6 1.7-1 1.5-1.4-0.7-1.2 3.6-1.2-1.5-1.4-1.3-1.3 4-1.9 1.7-2-2.1-1.1 2.4-1.9 2.2-1.4-1.2-1-0.4-1.9 0.2-1.2-0.3-1 0.6-1.3 4-1.8 0.7-1.9 0.9-1.4 0.6-1.3 2-1 0.1-1.6 0.4-1.2 1.8-1.5-1.8-1.4 0.6-2M-4.5 144l0.3-1.5-0.3-2 2.1-1.7-0.6-1.9 3.1-1.5 0.3-1.9-1-1.4 1.6-1.5 2.1-1.8 0.2-1.8 0.7-1.5 1.9-1.9 0.8-2-1-1.1 1.4-1.3 1.9-1.4 0.3-1.3 1.2-1.2 0.1-1.9 0.9-1.5 0.3-1.3 1.6-1.8-1.1-1.9-0.2-1.8 0.7-1.5 2.5-1.4-0.7-1.1 3.5-1.7 1.3-1 0.6-1.5 0.6-1.2 2.1-1.6 1.9-1.7-1.4-1.1 1.4-1 0.8-1.2 2-1.3 2-1.4-0.6-1.4-0.9-1.5-2.7-1.1 2.8-1.5 0.2-1.3 0.5-1.5 1.2-1.7-0.9-2 3.7-1.9-0.4-1.8 2.8-1.2 3.5-1.4-0.7-1.1-0.6-1.2 2.1-2 2.7-1.2-1.8-1.8 2.1-1.7 0.8-1.7 2.1-1.2-0.5-1.2-0.7-1.4-0.2-1.2 0.7-1.3 0-2 2.1-1 2.4-1.3 1.2-1.2 1.1-1.1 1.6-1.7-1.3-1.3 1.4-1.5 0.6-1.6 0.8-1.6-0.4-1.3-0.2-1.1 2-1.1-1.2-1 0.6-1.3 0.8-1.9-0.6-1 1.6-1.2 1.1-2 1.5-1.7-0.1-1-0.7-1.7 4.6-1 1.6-1.8 2.3-1.3M-27.3 144l1.2-1.3 1.6-1.5 0.9-1.1-0.2-1.7 1.9-1.3-1.2-1.5-0.7-1.8 0.6-1.1 0.2-1.8 0.6-2 1.5-1.5 0.3-1.3 1-1.7 6-2-1.7-1.6-1.3-1.8-0.9-1.8 2-1.7 1.6-1.2 0.5-1.6 1.1-1.6-0.9-1.2 1.3-1.4 1.4-1.5 0.8-1.7 0.5-1.4 1-1.6 1.7-1.5 1.4-2-1.7-1.1-0.1-1.5 1.4-1.1-0.6-1.7-0.5-1.2-0.8-2 1.1-1.2 1.4-2-0.5-1.1 2.7-1.4 0.9-1.8 0.8-1.1 1.8-2-1.7-1.2 1.7-1 1.5-1.6 0.4-1.3-0.9-2 1.2-1.3 1.1-1.3 1.3-1.7-0.1-1.4 0.7-1.7-0.2-1.3 3.5-2 1.7-1.6-0.1-1.7-1.7-1 2.8-1.5-0.1-1.2-0.9-1.2 2.3-1.7-1.1-1 0.2-1 2.3-2-1.8-1.1-1.6-1 1.1-1.9 2.7-1.8 0-1.6 0.3-1.6 1.8-1.1-2-1.7 4.1-1.6-0.5-1.7 6.5-1.4-2.3-1.1-5.1-1-1-1.4 3-1.3 1.1-1.3 0.3-1.4 4-2 0.2-1.9 1.5-1.2-2.2-1.5 0.6-1.8M-24.1 144l0.3-1.1 2.3-1.8 0.3-1.7 1.4-1.8-0.1-1.2 0.2-1 0-1.7 0.7-1.2 0.7-1.4 2.6-1.6 0.6-1.8 1.7-1 2.1-1.1 0.6-1.9-0.6-1.7 2.3-1.6-0.3-1.4 0.3-1.9 3.9-1.3 0.4-1.4-2.7-1.2 2.6-1.7 0.2-1.5 0.5-1.7-0.6-1.4 0.5-1.2 0.8-1.7 1.5-1.1 0.6-1.9 1.2-1.8 1.7-1.2 3.2-1.2-1-1-1.4-1 0.8-1.6 1.9-1.8 0.6-2 0.3-1.4 1.4-1.3 0.6-1.2 2.7-1.2 0.3-1.3 0.9-1.9-0.4-1.5 1.5-1.9 0.6-1 0.2-1.3-1.1-1.5 2.6-1.6 2.3-1.7 0.7-1.3-0.2-1.4 1.1-1.2 2.3-1 0.8-2 0.6-1.6 2-1.5-0.3-1.3-1.1-1.3 0.9-1 3.9-1.5-1.7-1.7 0.6-1.4 0-1.5 2.4-1 1.3-1.4 0.9-1.5 2.2-2-2.9-1.4 1.4-1.3 0.2-1.4 1.7-1-1.4-2 2.7-1.1-1.1-1.6 2.2-1.4-0.2-2 0.7-1.9 3.1-1.4 1.7-1.9-0.8-1.4-0.1-1.3-0.2-1.6 2-1.6 1.4-1.4 1-1.7-1.5-1.3M2.5 144l-0.3-1.2-2-1.2 1.8-1.4 2.3-1.9 0.6-1-1-2 2.4-1.9 4.2-1.3 0.3-1.9-0.1-1.4 0.6-2 2.9-1.6-0.6-1.3-2.6-1.2 1.7-1.5 1.7-1.6 1.7-1.2-2.8-1.3 2.8-1.3 0.9-1.2-2.3-1.3 2-1.3 2-1 1.3-1.6 2.1-1.8-1.5-1.5 0.9-1.7 2.4-1.9 0.8-1.8 1.5-1 0.9-1.1 0.4-1.2 3-1.8-2.9-1.5 0.5-1.6 0.2-1 1.7-1.5 1.7-2 2-1.6-0.3-1.6 2-1.5 3.2-2-0.1-1.5-1.9-1.9 2-1.1-0.7-1.2-0.1-1.5-0.4-2 1.3-1.6 3-1.2 0.3-1-0.1-1.5 1.6-1.4 2.1-1.1-0.8-1.2-0.4-1.6 0.7-1.8 3.5-1.5-0.9-1.6-0.3-1.2-2.2-1.8 2.7-1.1 2.1-1.6 0.7-1.9-0.4-1.6-0.2-1.7 1.7-1.1 1.7-1.5 1.2-1.6 3.6-1.9 1.4-1.7 2-1.9-1-1.6-1.5-1.5 2-1.3-0.5-1.8 1-1.5 2.8-1.7-1.7-1.7 2.3-1.3 0.7-1.1 2.2-1.5 1-1.7 1-1.5-1-1.5M-6.7 144l1-1.3 1.5-1.7-0.2-1.3-1.4-1.9 0.7-2 2.1-1.7 5.4-1.9 0.8-1-1.7-1.2-0.7-1.5 3.1-1.4 0.3-1.1-1.2-1.1 2-1.7 1.5-1.5 1.6-1.1-1.7-1.1-1-1.9-0.6-1.7 1.5-1.2 2.6-1.8-0.8-2 1-1.9 0.6-1.6 2.5-2 1.8-1.1 2.8-1-1.9-1.2 0.3-1.4 0.3-1 0.3-1.3 0.5-1.1 0.2-1.6 0-1 1.4-1.9 0.5-1.2 4-1.1-1.4-1.4 0.8-1.2 1-1.5 0.6-1.3 0.5-1.4 3-1.4-2.2-1.6 0.2-1.9 1-1.6-0.4-1.1 1.7-1.8 1.6-1.7 2.6-1.5-0.2-1.5 3.2-1.9-1.4-1.5 0.5-1.4-2.1-1.4 0.7-1.7 1.6-1.3 1.7-1.2 5.1-1.1-0.3-1.2 2.1-1.7 0.5-1.3 0.5-1.7-1.1-1.7-1.9-1 2.2-1.8 0.1-1.4 3.9-1.9-0.6-1.9 2.1-1.1-2.3-1.2 2.5-2-2.3-1.9 3-1.1 2.9-1.1 0.2-1.4-2.7-1.4 0-1.4-2.3-1.6 3.5-1.4 3.1-1.6 1.5-1.7 3-1.6-1.8-1.6 0.4-1-0.5-1.5-0.6-2M2.5 144l4.1-1.9 0.6-1.1 0.7-1.7-0.3-1.5 0.4-1.6 1.8-1.1 2.9-1.2-2.8-1.1-1.5-2 2.9-1.9 1.5-1.1-1.1-1.6 1.6-1 4.1-1.6 1.2-1.1 0.6-1.5-3.7-1.8 2.1-1.8 4-1.5-0.8-1.5 0.4-1.4-0.7-1.8-0.5-1.9 4.6-1.8 2.4-1.5 1.5-1.8-0.4-1 2.3-1.9 0.1-1.6-0.9-1.4 2.9-1.6-0.4-2 2.5-1.4-2.4-2 2.1-2 1.5-1 0.6-1.5 3-1.6 1.3-1.7-1.3-1.4 0.7-1.1 2.9-1.3-0.6-1.5 2.2-1.8-1.8-1.4 1.3-1.5 2-2-1.2-1.1 3.6-1.3 1.4-1.9 0.3-1.4 1.3-1.7-2.4-1.8 2.3-1.2 1.1-1.4 1.9-1.4 1-2-2.5-1.9 7.5-1.8-1.9-1-0.3-1.3 1.4-1.7 1.6-1-0.1-1.3 1-1.1 3.2-1.4 0.7-1.3 1.5-1.4-0.3-1.2-3-1 3.6-1.9-0.6-1.5 0.6-1.9 1.1-1.8 3.3-1.1-0.9-1.5 2-1.3-0.2-1.5 0.3-1.1-1-1.8 2.1-1.7 1.3-1.2 2.1-1.8-1.7-1.7 1.7-1.3M10.2 144l2.8-1.7 0.5-1.5-0.4-1.8 0.4-1.3 1.3-1.4 2.3-1.9 0.7-1.6-0.1-1.6-0.7-1.8 3.1-1.6 2.2-1.2-3.9-1 2.2-1.5 1.5-1.8 1.2-1.5 0.9-2 0.6-1.9 4.2-1.7-1.1-1.6-0.3-1.4 1.5-1.9 2.4-1.1 0.3-1.5 0-1.6 2.7-1 2.5-1.9 1.3-1.8-0.6-1.8-0.9-1.6 0.6-1.1-1.7-1.2 3.8-1.4 1.8-1.7-2.2-1.1-0.5-1.2 2.3-1.9 1.6-1 2.1-1.8 3.1-1.4-0.4-1.1-1.5-1.2 0.1-1 2.6-1.4 0.4-1.6 0.8-1.9 0.1-1.4-1.9-1.6 2.7-1.8 2.5-1.5 1.9-2 0.2-1.6-0.2-1.3 2.3-2-0.1-1.4 1.3-1.8 1.1-1.1-0.5-1.3-1.2-1 4.8-1.4-0.1-1.3-0.4-1.7 1.7-2 0.7-1.8 1.7-1.8-1.3-1.1 0.3-1.7 1.3-1.7 0.2-1.2 3.7-1.9 1.8-2-0.4-1.4 0.4-1.5 1.3-1.4-0.9-1.9 4.2-1.9 3.7-1.6-3.3-1 2.1-1.6-0.2-1.3 1.9-1.2-1.1-1.6 2.5-1.6-0.7-1.5-0.8-1.5M8.7 144l1.1-1.6-0.4-1.3-0.1-1.3 1.1-1.5-0.3-1.1 2.3-1.1-1.4-1.8 1-1.8 0.2-1.4 0.4-1.2-0.8-1.9 1.4-1.6 2.4-1.1 2.3-1.6-0.2-1.3-1.3-1.5 1.3-1.8-0.5-2 0.6-1.2 2.5-1.5-2.4-1.6 1.8-1.2-0.6-1.5-1.3-1.2 1.1-1.4 2.3-1.5 1.6-1.9 3.6-1.9-1-1.5 0.8-1.5-0.5-1.9 1.6-1.8-2-1.2 0.7-1.5 0.4-1.3 1-1.6 2.4-1.8-1.8-1.2 0.7-1.2 0.1-1.9 2.6-1.5 1.1-1 0.5-1.6 1.3-1.9-1-1 3.3-1.7 1.3-1.2-0.6-1.9-1.9-1.4-1.5-1-0.6-1.6 1.2-1.6 3.9-1.3 2.4-1.1 1-1.4-0.4-1.2-2.6-1.7 2-1.3-2.4-1.7 5.4-2-0.6-1.2 2.3-1.4 0.1-1.6-0.1-1.7 0.2-1.8 1.8-1.2 1.4-1.6 0.9-1.4 0.1-1.6-1.5-1.2 5.7-1.3 0.6-1.5-1-1.8 0.7-1.2-1.1-1.4-1.3-1.3 0.9-1.1 3.4-1.2 0.4-2-1-1 2.8-1.8 0.2-1.5-0.5-1.4 0.4-1.8 1.8-1.8 0.4-1.9M-13.4 144l-1.1-1.2 0.8-1.1 0.1-1.4 0.8-1.9-0.3-1.4 1.5-1.6 1.1-1.2 4.2-1.3 0.1-1.9-2.2-1.5 1.8-1.8 3.6-1.4-2.7-1.3 2.1-1.6 0.2-2 0.4-1.5 0.3-1.4 2.3-1.6 4-1.4-0.9-1.6-1.3-1.7 1.2-1.7-0.5-1.4-0.1-1.6 2.5-1.5 1.8-1.8 1.2-1.1 1.3-1.5 3.1-1.2-0.9-1.5-1.6-1.1 0.4-1.2 0.1-1.9 0.8-1.2 2.9-1.3 1.6-1.3 1.1-1.8 1.8-1.3-0.9-1.4 0-1.4 1.2-1.4 0.6-1.6-0.2-1-0.3-1.9 3.6-1.9 1.3-1.3 2.1-1.3 1.2-1.5-0.8-1.4 1-1.2 3-1.9-1.7-1.3 1.1-1.4 0.1-1.4 0.1-1.3-0.3-1.6 0.5-1.7 3.2-1.4 2.5-1.2 0.2-1.7-0.6-1.8-1.1-1.8 3.9-1.1 1.6-1.5-0.5-1.9-0.7-1.4-0.2-1.7 1.3-1.8-1-1.2 3-1.6-1.2-1.2 5.9-1.5 0.1-1.7-1-1.2 0.2-1.6 3.9-1.8-3.2-1.6 1.1-1.6 1.4-1 4.2-1.9-0.8-1.2 1-1.6 1.8-1.8 2.7-1.9-0.4-1.8M18.8 144l-0.4-1.2 1.7-1.4 1.5-1.2 1.2-1.2 0.7-1.4 0.3-1.1 1-1.1 1.8-1.3-0.4-1.1 0.9-1.5 1.3-1.9 0.2-1.7-0.1-1.2 2.2-1.9 0.5-1.8-1.7-1.8 1.3-1.3-1.7-1.7 1.8-1.4 0.3-1.9 0.6-1.4 1.6-1.2 0.6-1.4 0.3-1.5 0.8-1.6 0.7-1.2 2-1 3.2-2 0.3-1.7-1.9-1.9-0.2-1.5 0.8-1.5 1.9-1.6 3.8-1.8-1.3-1.6-0.8-1.2 0.7-1.9 0.1-1.7 2.3-1.9 2.4-1.5 0.6-1.4 0.1-1.1-0.9-1.2 0.7-1.5 1.9-1.5-1-1.9 0.4-1.8 1.7-2 0.9-1.8 0.4-1.8-1.1-1.6 4.1-1.2-0.9-1.3 1.3-1.5 1.7-1.6 2-1.2-0.4-1.6 1.4-1.9-0.2-1.1 0.7-1.9-0.5-1.5-0.2-1.7 0.3-1.5 2.2-1.2 1.1-1.5 1.2-1.2-0.8-1-0.2-1.6-0.7-1.5 0.8-1.9-0.7-1.8 1.9-1.3 2.7-1.6-0.1-1.4 1.8-1.2 0.8-1.6-0.5-1.1 0.3-1.6 0.6-1.8 2.2-2-0.5-1.9 1-1.6 1.6-1.3 1.1-1.4M-9.3 144l1.1-1.4-1.7-2 3.3-1.9 1.9-1.9-0.1-1.1 0.3-1.2 1.2-1.9-0.5-1 1.4-1.1-0.5-1.6-0.8-1.4 2.9-1.9-1.3-1.1 2.9-1.7 0.8-1.7 0.9-1.2 2.1-1.6-1.1-1.6 0.9-1.3-2.9-1.5 1.7-1.7 2.2-1.9-1.4-1 4.2-1.6 1.2-1.4 2.1-1.7-2.4-1.7-0.7-1.4-0.1-1.3 0.6-1.7 3.2-1.8 1.6-1.7 0.2-1.2-0.5-1.8 1.6-1.2 2.6-1.9-0.6-1.7 1.2-1.7 3-1.5 3.7-1.7-1.8-1.5-0.2-1.3-0.8-1-0.9-1.3 1-1.2 2.6-1.7 0.9-1.3 2.6-1.8 0.9-1.7 0.4-1.1-0.1-1.7-0.1-1.2 3.4-1.9 0.7-1.8-0.9-1.7 3.2-1.9-1.6-1.6-0.2-1.9 1-2-0.1-1.1 0-1.5 3.2-1.5 1.6-1.2 2.8-1.6 0.2-1.7 1.2-1.2-1.3-1.1 1.7-2-0.6-1.1 0.9-1.9 1.4-1.1-0.7-1.3 0.5-1.1 0.8-1.7 0.9-1.5 3.2-1.7 2.1-1.1-2.2-1.8 0.5-1.9 1.5-1.5 0.5-1.9 0.3-1.7-0.7-1.8M8.8 144l1.3-1.6-2.4-1.1 0.6-1.2 1.2-1.3-3.1-1 5.2-1.4-0.1-1.2 2.8-1.1-0.8-1.1 1.2-1.7 3.9-1.1 0.9-1.8-1-1.6-0.2-1.2 0.4-1.4-0.2-1.5 2.5-1.1 0.4-1.4 2.4-1.8-0.2-1.5 0.3-1.8 1-1.2 1.4-1.4 0.9-1.9 1.5-1.8-0.6-1.3 2.8-2 0.7-1.3-1.3-1.8-2.4-1.9 5-1.7 0.1-1.2 1.1-1.5 4.5-1.8-1.8-1.1-0.7-1.7 0.9-1.2 1.1-1.4 0.4-1.4 2.7-1.5-0.2-1.1 1.1-1.7 0.5-1 1.2-1.8 1.1-2-0.7-1.4 2.9-1.8 1.3-1.5-1-1.1 1.4-1.2 0.3-1.6 1.5-1.5-0.4-1.2 1-1.7 2.7-1.6 0.6-1.8 0.9-1.3-1.9-2 0.8-1.7 2.6-1.1 0.9-1.3 3.7-1.8-0.1-1.6-1.2-1.6 2.9-1.4 0.6-1.9 1.5-1.5-0.8-1.2-0.4-1.2 1.6-1.1 3.1-1.3-1-1.4-0.8-1.3 1.4-1.6-0.7-1.3 0-1.2 0.3-1.3 1.8-1.9 0.6-1.8 2.7-1.8 2.4-1.5 1.3-1.1 0.7-1.7-1.9-1.1 3.7-1.4 0.5-1.7 0.1-1.2M-26.8 144l3.1-1.6-1.3-1.5-0.1-1.4 1.6-1.8 0.7-1.5-1.1-1.3 2.9-1.2 1.7-1.5 1-1.4-0.8-1.4-0.1-1.2 1.6-1.5-2.6-1.4 2.1-1.4-2.4-1.6 2.3-1.6 1.3-1.9 2-1.2 1.8-1.8 1.1-1.9-0.5-1-0.9-1.3 2.1-1.9-0.2-1.2 4.1-1.5 0.8-1.3 0.6-1.3-0.2-1.6-1-1.1-1-1.9 2.5-1.9-0.7-1.3-0.1-1.7 2.3-1.2 2.1-1.2 1.3-1.9-0.2-2 0.9-1 0.4-1.1-1.2-1.4 0.5-1.2 0.3-2 2.3-1-0.3-1.4 1-1.5 3.7-1.5 0.6-1.6-2.2-1.8 0.2-1.1 1.7-1.6 1-1.2-0.6-1.4-0.3-1.4 3.2-1.5-1.6-1.8 3.3-1.8 2.8-1.4-2.7-1.3 1.1-1.5-0.4-1.9 1.2-1.3-0.6-1.9 1.2-1.9 1.2-1.6-0.1-1.6 4.1-1.4-0.2-1.5 2.1-1.6 0-1.1-1.2-1.2-1.9-1.7 2.8-1.4 0-1.6-2.1-1.1 1.2-1.1 2-1.8 0.8-1.4 1.4-1.2 0.5-1.4 1.6-1.3 1.5-1.7 1.1-1.7 0.4-1-2.6-1.2 3.6-1.1 0.8-1-2.2-1.6M-7.9 144l2.2-1.8 1.1-1.5-0.8-1.4 0.4-1.9 1.4-1.2 0.9-1.9 0.4-1.1 2.6-1.9-2.5-1.1 1.5-1.5 4-1.7-0.4-1.3-2.1-1.3 1.1-2 2.1-1.8-0.8-1.7 2.2-1.9 0.2-1.2 2.5-1.4 0.3-1.8-0.1-1.3-1.4-2 1.6-1.6 1.6-1.9 3.3-1.2 2.2-1.5 0.6-1.5 2.6-1.6-2.4-1.9 1.3-1.5 1.7-1.1-0.4-1.4 0.3-1.8-1.8-1.6-0.4-1.2 1-1.3 3.7-1.4 1.3-1.5-0.7-1.2-1.8-1.2-1.3-1 0.9-1.1 1.1-1.8 1-1 5.5-1.4 1-2-2-1.7-0.2-1.2 0.8-1.9 2.5-1 1.4-1.1-0.1-1.5 0.7-1.8-0.6-1.6 2.1-1.9 2.3-1.6 0-1.7 0.3-1.2 2-1.4-1.5-1.2 0.2-1.6 5-1.7-1-1.9 0.9-1.8 1.6-1.1-1.9-1.9 1-1.6 0.8-1.2 2.4-1.2 0.6-1 0.5-1.5 1.1-1.8-1-2-0.5-1.2 2-1.4 0.5-1.4 1.1-1.2 1.7-1.8 1.5-1.3 0-1.7 0.4-1.4 0.2-2 0.7-1.2-0.6-1 3.1-1.6M-6 144l-1.2-1.6-0.8-1 2.8-1.9-1.5-1 2.6-1.3 3.6-1.3-0.1-1.4 1.9-1.1-0.8-1.5-1.5-1.2 1.8-1.5 2.8-1.8 0.7-1.3-0.3-1 1.9-1.8-1.1-1.6-0.7-1.5 2.5-1.7 0.3-1.8 1.3-1.5-0.5-1 2.6-1.9 2.5-1.5-0.8-2-0.1-1.9 1.5-1.7-1.8-1.8 3.1-1.6 3.4-1.8-0.5-1.9 0.4-1.2-0.6-1.9 1.3-1.8 0-1.2 1.1-1.6 2.4-1.9 0.8-1.9 1.1-1.8 3.7-1.6-1.3-1.2 1.4-1-2.8-1.1 5.3-1.6-2.8-1.9 2-1.9-0.5-1.7 1.6-1.8-1.2-1.9 4.2-1.7-1.5-1.9-0.1-1.2 2.5-1 2.8-1.3-3.5-1.5 2.7-1.5 1.8-1.9-1.6-1.3-1-1.5 1.8-1.4 0.5-1.4 2.4-1.2 1.2-1.8 0.1-1.8 1.3-1.5-1.3-1.3-0.5-1.3 3.4-1.3-1.5-1.7 2.4-1.4 1.2-2 2-1.7 1-1.8 2.3-1.9 1.1-1.9 2.4-1.6-2.4-1.2 1.1-1.1-0.3-1.9-0.8-1.9 3.2-1.2 1.8-1.6 1.1-1.1 3.4-1.4M7.2 144l-1.2-1.8 1.4-1-1.7-1.4 2.6-1.2-0.1-1 1-1.1-0.5-1.1 1.7-1.3 2.3-1.7 0.6-1.5 1.5-1.2-0.5-1.5-0.4-1.9 0.9-1.5 1.8-2-0.8-1 1.1-2 1.5-1.4-1.1-1.8 3.5-1.9 1.6-1.7-1.7-1.1 0.9-1.6 3.5-1.9-0.7-1.5-0.3-1.6 1.2-1.6 0-1.2-0.4-1.8 0.5-2 1.7-1 0.2-1.3 3.3-1.6 0.4-1.3-0.9-1.8 0.1-1.8 1.4-1.9 0.1-1.5-0.3-1 1.8-1.6 0.9-1.8-1.9-1.1 0-1.5 3.6-1.9 1.5-1-0.7-1-2.5-1.6 2-1.8 2.5-1.5-1.8-1.5 0.7-1.3 0.1-1.8 3.8-1.6 3-1.6-0.4-1.7 0.5-1.2 1.2-1.6 1.3-1.4-0.5-1.2 2.1-1.9 1-1.7 0.7-1.8-1.1-1-1.7-1.3 1-1 2.6-1.7 1.4-1 1.7-1.1-1.5-1.6 1.4-1.4 0.8-1.3-3-1.6 2.3-1.7 0.5-1.4 1-1.1-2.3-1.1 1-1.4 0.7-1.1 0.9-1.4 3.6-1.9-1.2-1.1 0.8-1.4 0.4-1.1 1.6-1.7 1.4-1.3-0.4-1.2 0.4-1.2-1.6-1.9M-5.3 144l0.9-1.9 0.2-1.4 1.3-1.5 1.2-1.2 0.4-1.4 1-1 1.8-1.1-2.1-1.6-0.3-1.4 0.6-1.6 3.8-2-0.9-1.2-1.3-1.2 0.1-1.1 2.1-1.6 0.4-1.8 4-1.7 0.2-1.2 2-1.9-1.7-1.8 0.7-1.5 3.3-1.8 0.2-1.5 0.5-1.6-0.3-1.5 1-1.9 2.5-1.3-0.7-1.8-0.3-1.1-1.5-1.4 3-1.9 2.3-1.6 1.2-1.9-1.2-1.1 1.3-1.6 1.3-1.2 0.5-1.6 0.8-1.4-0.5-1.6 2.7-2 0.2-1.2 0-1.4 2.8-1.2-0.1-2 1.1-1.6 0.2-1.2 1.1-1.6-1-1.8 0.1-1.6 0.8-2 1.4-1 3.8-1.5-1.9-1.7-0.4-1.2 1.6-1.4 2.2-1.8 0-1.2 0.7-1.6-2.3-1.4 2.9-1.9 0.5-1.1-1.2-1.7 1.6-1.1 0.8-1.1-0.9-1.9 0.5-1.4 1.2-1.9-0.8-1.3 2.5-1.4 4.4-1.4 1.7-1.5-0.1-1.5 0.7-1.3-1.5-1.2 1.6-1.7 2.6-1-1.3-1.1-0.1-1.4 0.1-1.9 2.1-2 0.9-1.9-0.1-1.3-2.2-1 0.6-1.5 4-1.1 2.1-1.6M-15 144l0.5-1.8-0.2-1.6 1.4-1.4-2.3-1.7 1.2-1.1 2.4-1.9 0.3-1.4 3.7-1.6 0.2-1.5 0.5-1.1-0.8-1.4 1.7-1.4 4.7-1.3-1.1-1.2 0.7-1.9 1.6-1.8 2.1-1.5-0.8-1 0.4-1.4 0.2-1.7 1.2-1.2 1.1-1.7-1.8-1.2 4.6-1.1 2.7-1.1-1-1.6-1.5-1.5 2.3-1.8-0.3-1.2 2.6-1.1-2.2-1.1-1-1.8 0.7-1.4 6.8-1.8 0.9-1.6 0.7-1.7-0.1-1.4 0.2-1.7 1.9-1.5 1.1-1.2-2.8-1.4 1.4-1.2 0.9-1.2 1.5-1-0.2-1.5 3.1-1.5 0.1-1.1 1.2-1.1 4.1-1.9-2.3-1.7-0.5-1.6 1.7-1.3-1.4-1.9 3.3-1.3-0.2-1.3 0.2-1.5 3.8-1.2 1.5-1.1-1.7-1.9 2.1-1.3 1.5-1.9 4.9-1-2.2-1.8 3.6-1.6-3.2-1.7 0.3-1.3 1-1.4 0.7-1.3 1.6-1.1 1.5-1.1-1.5-1.5 3-2-0.9-1.6-0.6-2 3.5-1.4 0.1-1.5 1.4-1.2 0.1-1.3 4.1-1.5 0-1 2-1.1-2.1-1 0.6-1.2 1-1.3 1.3-1.3 0.7-1.7 0.5-1.2 0.9-1.8 4.8-1.9M16.5 144l0.2-1 0.7-1.3 0.7-1.3 0.4-1.2 1.9-1 1.7-1.5-0.4-1.1-1.1-1.2 1.1-1-1-1.6 3-1.5-2.2-1.8 1.3-1.5 0.5-1.9 2.8-1.5 0.9-2 3.4-1.3 1.9-1.4-2.1-1.6 0.7-1.3-2-1.9 1.7-1.6 3.5-1.3-2.4-1.1 0.7-1.1 0.4-1.8 0.1-1.5 1.5-1.6 2.8-1.3 0.5-1.9-2.3-1.6 2.3-1.1 0.6-1.2 1-1.1-1.1-1.8 2-1.2 2.4-1.9-0.4-1.2 0.4-1.3 2.4-1.7 1.9-1.8-1.3-1.8 1.6-1.6 0.7-1.3 0-1.1 2.8-1.7-2.3-1.5 0.7-1.7 0.1-1.4 2.9-1.6-1.3-1.1 1.9-1.8 3-1.3-0.8-1.6 1.1-1.5 1.4-1.3 0.2-1.5 0.6-2-0.2-1 2.4-2-0.4-1.3 2.2-1.6-0.1-1.9 0.1-1.9 3.1-1.9 1.6-1.9 0.7-1.9-0.9-1.6 1.5-1.8-1.4-1.9-1.1-1.6 4.4-1.4 1.4-1.1-0.6-1.8 1.3-1.9-1.7-1.3-0.3-1.6 3.7-1.3 0.8-1.4 0.1-1.8 0.2-1.6-0.7-1.2 1.2-1.9 0.8-1.1 2.7-1.2M0.5 144l0.5-1.1 1.1-1.3 1.1-1.1 1.4-1.4-0.2-1.7 1.9-1.3-0.8-1.4 0.8-2 1.8-1.2-0.8-1.1-0.1-1.1 1.1-1.4-1-1.3 2.9-1.4-1.1-1.9-2.3-1.4-2.6-1.4 0.9-1 4.1-1.7-0.1-1.1 0.6-2 4.7-1.5-1.4-1.1 0.5-1.3 2.5-1.9-1-1.7-1.4-1.7 2.7-1.6 2-2-2.7-1 2.5-1.5 1.7-1-1.3-1.9 1.9-1.8 1.1-1.8 0.1-1.1-2.8-1.5 0.3-1.3 2.4-1.2 2.4-1.7 0.7-1.6 3-1.3 1.6-1.2 0.1-1.9 2.8-1.7-2.9-1-2-1.1 1-1.4 0.4-1.2 4.7-1.5-1.3-1.4-2.3-1.8 1.1-1.8 2.1-1.5 0.2-1.7 3.5-1.1-1.6-1.3 0.6-1.1 2-1.3-0.5-1.6-0.3-1.1-1-1.6 0.6-1.8 1.2-1.4 1.6-1.1-0.5-1.1-0.4-1.5 3.2-1-0.4-1.2 1-1.5 2-1.9-1.5-1 1.7-1.7 1.5-1.6-1.2-1.9 0-1.1 0.2-1.8 2.1-1.5 0.3-1.7 0.6-1.8 2.1-1.7-1.5-1.6-0.9-1.3 4.3-1.3-0.1-1.9 2.1-2-0.5-1.6M-0.3 144l0.8-2 4.3-1.9 0.7-1.2-2.4-1.1-1.6-1.2-0.2-1.3 1.9-1.8 1.2-1.7 2.2-1.3 1.9-1 4.2-1.9-0.3-1.9-4.1-1.9-0.9-1.1 1.5-1.4 2.2-1.6 1.1-1.9 1.3-1.3 2.5-1.8-0.2-1.1 0.6-1.8 0.3-1.5 2.7-1.4 0-1.9-0.6-1.4 2.3-1.1-0.2-1.4 1.7-1.9 0-1.5-1.3-1.3 2.3-1.3 2.6-1.3 0-1.1-0.2-2-1.2-1.3-2-1.2 2.4-1.9 3.8-1.5-0.1-1.5-1-1.4 3.4-1.7-0.4-1.5 2.2-1.4 2.3-1.3 0.8-1.4-0.7-1.3-1.6-1.6-0.1-1.2 2.3-1.2 1.9-1.4 1.2-1.8-0.2-1.7 0.2-1.2 1.3-1.2 0.8-1.8-0.4-1.9 0.8-1.1 3.4-1.2-0.7-1.4 1.1-1.3-0.7-1.3 1-1.5 0.6-1.4-1.5-1.6 2-1.8 2.2-1.9 3.2-1.2 0.8-1.1-0.5-1.5 0.7-1.5-0.5-1.1-1.5-1.4 0.7-1.5 3.7-2 0.5-1.3 1-1.9-0.5-1 2.1-1.6 1.4-1.2 2.1-1.8-0.8-2 1.2-1.3 2.1-1.1-2.3-1.2-0.5-1.9 2-1.6M15.7 144l0.8-1.7 1.9-1.2 2.7-1.5 3.3-1.9-2.2-2 0.4-1.9 0-1.8 1.2-1.9 1.4-1.9 1.4-1.1 0.2-1.4 0.6-1.3 1.7-1.8-3.8-1.1 2.4-1.8 0-1 0.8-1.1 5.4-1.9-3.7-1 0.1-1 2.1-1.2-3.4-1.9 3.2-1 4.2-1.5 1.9-1.9-3.5-1.1 4-1.6-1.9-1.4-0.2-1.8-1.8-1.1 0.7-1.1 0.5-1.3 3.3-1.8 4.1-1.5 1-1.2-0.2-1.8 0.1-1.7 0.3-1.4-0.4-1.1-0.4-1.1 1.2-1.1 1.2-1.5-2-1.4 1.7-1.3 3.4-1.4 0.8-1.7 0.6-1.6 1.9-1-2.4-1.4-0.3-1.1 2.1-1.4 0.8-1.4 0.6-1.1 0.7-1.1 1.5-1.2-1.9-1.1 0.1-1.3 0.5-1.7 1.4-1.9 2.3-1.5 1.5-1.1 0.9-1.3-1.2-1.5-2.1-1 3.2-1.9 4.7-1.5-1.7-1.1 0.2-1.8 2.2-1.5 0.8-1.2 3.5-1.9-1-1.4-3.1-1.4 1.7-1.8-0.5-1.9 1.7-1.4 3.6-1.8-1.7-1.2 0.3-1.8 3.5-1.1-1-1.3-1.7-1.9 2-1.9 1.7-1.1 0.1-1.5 0.7-1.7 0.7-1 1-1" fill="none" stroke="#1c1c1c" stroke-width="0.85" stroke-linejoin="round"/>
</g>
<path d="M-47.5 144l0.6-1.4 2.2-1.5 1.3-1.2 2.8-1.4 1.2-2 1.3-1.1 0.1-1.7 3-1.9 2.9-1.3 3.8-2-0.3-1.9 1.5-1.3 3.2-1.4 4.4-1.8 1.8-1.6 0.8-1.8 3.5-1.7-0.2-1.3 1.9-1.4 1.8-1.9 4.4-1.7 1.5-1.6 2.8-1.7 2-1.9 1.4-1.9 2.8-1.1 0.7-1.7 2.6-1.2 5.5-1.9 0.6-1.1 0.7-1.4 1.3-1.1 2-1.1 1-1.3 3-1.6 0.6-1.9 2.4-1.4 0.6-1.3 0.8-1.3 4.4-2 1.2-1.7 3.3-1.7 5.1-1.7-0.8-1.1 3-1.8 1.5-1.4 0.2-1.2 2.6-1.5-2.6-1.2 2.5-1.1 3.2-1.1 3.8-2-2.8-1.8 4.5-1 3.2-1.1 4.5-1.8 1.6-1.3 0.1-1.6 2.3-1.8-0.2-1.3-0.7-1.2 6.3-2 2.5-1.9 1.8-1.4 0.7-2 3.1-1.6 1.7-1.6 1.2-1.4 2.1-2 5-1.9 1.7-1.3 1.5-1.1 1.1-1.3 3-1.9 0.3-1.5 0.4-1.3 6.9-1.4 0.9-1.8 1.9-1.3 1.2-1.1 5.3-1.6 5.9-2 5.6-1.3 4.6-1.2" fill="none" stroke="#1c1c1c" stroke-width="0.8" stroke-linejoin="round"/>
<path d="M-60.9 144l0.4-1.3 3.5-1.8 5.1-1.1 1.8-1 2.6-1.3-0.8-1.2 1.5-1.6 2.9-1.4-1.2-1.6 4.1-1.6 2-1.9 3-1.5 2.6-1.8 3.2-2 2.1-1.8 3.1-1.8 2.8-1.6-0.1-1.6 4.1-1.9 1.4-1.9 6-1.3-2.4-1.3 2.9-1.1 2.9-1.9 0.1-1.4 3.7-1.8-0.3-1 2.4-1.5 4.9-1.9 2.7-1.2 1.2-1.7 2.4-1.7-0.8-1.2 1.1-1.6 6-1.2 1.3-1.1 1.4-1.1 0.5-1.4 1.1-1 4.1-1.2 1.6-1.3 0.3-1.5 4.9-1.5 1.3-1.2 0-1.6 4.4-1.9 2.1-1.4 2.7-1.3 2-1.7 3.9-2-1.7-1.2-1.1-1 1.3-1.1 2.4-1.4 6.1-1.8 2.6-1.8 2.1-1.7 2.6-1.8 3.1-1.9 4.4-1.9 1.1-1.3-0.8-1.7 3.8-1.8 1.6-1.2 1.6-1.1 0.4-1.7 5.3-1.9 1.5-1.8 2.1-1.4-1.2-1 2.4-1 6.9-2 0.1-1.3 2.1-1.2 0-1.5 2.4-1.9 1.7-1.7-0.1-1.1 2.1-1.8 1.8-1.7 1.3-1.4 5.1-1.3 3.6-1.8 0.7-1 6.9-1.4" fill="none" stroke="#1c1c1c" stroke-width="0.8" stroke-linejoin="round"/>
<path d="M-19.9 144l-0.1-1.2 1.9-1.3-1.2-1.2 1.7-1.6 0.6-1.8 4.6-1.4 0.5-1.6 0.8-1.9 1.1-1.1 3.2-1 0.1-1.4 2.4-1.2 2.5-1.5 1.6-1.6 1.5-1.4-1.9-1.1 1.4-1.9 3.2-1.6 4.9-1.6 0.7-1.8 0.8-1.1-1.2-1.1 2-1.8 1.8-1.7 2.3-1.9 3.5-1.4 1.5-1.9-0.4-1.1-0.5-1 3.3-1.2 2.4-1.5-0.2-1.3-1.3-1 2.8-1.4 3.7-1.4 0.5-1.7 2.4-1.8-0.9-1.3 3.7-1.3 0.2-1.2 2.1-1.5 2.1-1 3.2-1.6 0.6-1.5-0.2-1.2 1-1.3-0.5-1 2.7-1.4 1.6-1.4 0.8-1.9 3.5-1.5 1.4-1.5-0.2-1.1 0.7-1.2 2.6-1.2-0.1-1.2 1.2-1.7 1.3-1.2 3.2-1.8 0.9-1.3 2.4-1.5 0.3-1.3 0.5-1.6 3.2-1.5 1.3-1.9-0.6-1.2 1.4-1 1.5-1.3 3-1.7 0.4-1.1 2.7-1.8 2.1-1.7-0.3-1.6-0.3-1.9 4.8-1.3 2-1.4 0.8-1.4 1.6-1.7 1.4-1.4 0.9-1.8 2.4-1.3 4.1-1.7 1-1.3 2-1.5-1.3-1.8 3.6-1.1 3.3-1.6-1.1-1.3 2.7-1.8" fill="none" stroke="#1c1c1c" stroke-width="0.8" stroke-linejoin="round"/>
<path d="M-8.3 144l0-1.7 2.1-1.9 2.6-1.5 0.4-1-0.1-1.4 2.3-1.9 2.5-1.9 2.2-1-0.9-1.1 1.3-1.7 3-2-1.5-1 4.5-1.5 4.6-1.6-0.2-1.6 0.3-1.9 0.3-1.3 3.6-1.8 0.7-1.8-1.9-1.4 2.5-1.6-0.2-1.2 1.9-1.9 2-1.2-0.7-1.5 2.5-1.4-0.5-1.2 2.6-1.4 1.3-1.2-1.1-2 2.4-1 1.8-1.3-0.4-2 2.5-1.4 0.8-1.5-1.3-1.5 4.3-2 2.7-1.6 0.3-1.3 0.1-2 5.4-1.1-2.3-1.2-1-1.1 3.1-1.2 1.5-1.5 2.6-1.2 1.6-1.2 2.4-1.9-2.1-2 2.7-1.9-0.1-1 2.5-1.1 0.7-1.4 0.7-1.7 1.6-1.4 1.1-1.7 1-1.4 2.2-1.7 2.4-1.8 0.7-1.9 1.3-1.2 1-1.8 0.3-1.3 0.4-1.4 2-1.1-1.3-1.4 1.8-1 2.3-1.8 3.3-1.8 1.7-1 2.7-1.3 2.7-1.7 0.2-1.1 0.4-1.1 1.3-1.1 4.8-1.4-1.1-1.2-0.6-1.2 2.1-1.8 0.1-1.5 0.5-1.2 2.6-1.1 2.6-1.5-0.5-1 2.4-1.7 1.3-2 1.9-1.5" fill="none" stroke="#1c1c1c" stroke-width="0.8" stroke-linejoin="round"/>
<path d="M5.1 144l0.7-1.6 2-1.8 2.7-1.7-0.2-1.1 0-1.3 1.8-1.8-0.2-1.7 0.1-1.2 1.2-2 1.3-1.8 1.7-1.2 2.8-1.9 1.6-1.6 2.3-1-0.8-1.9 0.7-1.5 1-1.8-0.8-1.8 2-1.3-0.6-1.3 4-1.9 2.6-1.2-1-1.1 1-1.8 1.2-1.4 1.3-1.1-0.2-1.3-0.9-1.1 1.9-1.2 2.2-1.7 0.2-1.3-0.4-1.2 2.3-1.3 2.6-1.6-1-1.1-0.5-1.5 1.3-1.2 0.7-1.4 3.7-2 0.2-1.5 1.1-1.1-1.3-1.2 1.1-1.4 3.2-1.9 0.9-1.8 1-1.5 1.6-1.5-0.8-1.7 3.1-1.7-1.1-1 3.1-1.8-0.4-1.2 0.4-1.9 4.1-1.6-0.4-1.5 0.5-1.3 1.8-1.1 2-2-1.7-1.2 0.2-1.9 1.9-1.2 3.7-1.9 1.1-1.5-0.4-1.9 1.1-1.4 4.8-1.7 1.1-1.9-1-1.5 2.4-1.6 1.9-1.8-0.3-1.2 3.6-1.9 3.1-1.5 0-1.3 1.5-1.6 2.1-1.5 0.8-1.1 1.2-2-0.2-1.6 2.5-1.5 2.4-1.9 2.2-1.7-0.6-1.8 1.2-1.1" fill="none" stroke="#1c1c1c" stroke-width="0.8" stroke-linejoin="round"/>
<path d="M33.2 144h1.3v-2.1h1.2v-2.4h1.3v-3.9h1.2v-2h1.3h1.2h1.3h1.2v-2h1.3v-2.1h1.2v-2.7h1.3v-2.3h1.2v-1.5h1.3v-3h1.3v-0.6h1.2v-0.8h1.3v-2.3h1.2v-0.9h1.3v-1.4h1.2v-1h1.3v-3.7h1.2v-0.1h1.3v-1.3h1.2v-3.1h1.3v-2.8h1.2v-2h1.3v-1.9h1.2v-1h1.3v-3.1h1.2v-2h1.3v-0.7h1.2v-0.9h1.3v-1.5h1.2v-0.7h1.3v-2.2h1.3v-1.2h1.2v-2.6h1.3v-2h1.2v-2.6h1.3v-1.5h1.2v-2h1.3v-1.2h1.2v-1.4h1.3v-1.6h1.2v-0.9h1.3h1.2v-0.6h1.3h1.2v-0.7h1.3v-1.3h1.2v-2.8h1.3v-2.3h1.2v-2.5h1.3v-2.9h1.3v-1.4h1.2v-1.6h1.3h1.2v-1.8h1.3v-0.5h1.2v-1.6h1.3v-0.8h1.2h1.3v-1.2h1.2v-0.6h1.3v-1.5h1.2h1.3h1.2h1.3v-1.5h1.2v-1.6h1.3v-0.9h1.2v-0.9h1.3h1.2h1.3h1.3v-0.6h1.2h1.3v-0.3h1.2v-0.6h1.3h1.2v-0.8h1.3v-0.9h1.2h1.3h1.2v-0.2h1.3h1.2v-1h1.3v-0.4h1.2v-1.5h1.3v-1.2h1.2v-2.8h1.3v-0.3h1.2v-1.7h1.3v-1.2h1.3v-3.2h1.2v-3.6h1.3v-1.9h1.2v-3.4" fill="none" stroke="#3d9a3d" stroke-width="0.9"/>
</g>
<line x1="35.5" y1="19.3" x2="35.5" y2="141.5" stroke="#333" stroke-width="1"/>
<line x1="35" y1="141" x2="156" y2="141" stroke="#333" stroke-width="1"/>
<line x1="33.5" y1="129.1" x2="35.5" y2="129.1" stroke="#333" stroke-width="0.9"/>
<line x1="33.5" y1="104.8" x2="35.5" y2="104.8" stroke="#333" stroke-width="0.9"/>
<line x1="33.5" y1="80.5" x2="35.5" y2="80.5" stroke="#333" stroke-width="0.9"/>
<line x1="33.5" y1="56.3" x2="35.5" y2="56.3" stroke="#333" stroke-width="0.9"/>
<line x1="33.5" y1="32" x2="35.5" y2="32" stroke="#333" stroke-width="0.9"/>
<text x="31.7" y="34.8" font-size="11" text-anchor="end" fill="#222" >70</text>
<text x="31.7" y="82.9" font-size="11" text-anchor="end" fill="#222" >50</text>
<text x="31.7" y="132.9" font-size="11" text-anchor="end" fill="#222" >30</text>
<line x1="49.5" y1="141" x2="49.5" y2="139" stroke="#333" stroke-width="0.9"/>
<text x="49.5" y="153.7" font-size="11" text-anchor="middle" fill="#222" >80</text>
<line x1="74.5" y1="141" x2="74.5" y2="139" stroke="#333" stroke-width="0.9"/>
<text x="74.5" y="153.7" font-size="11" text-anchor="middle" fill="#222" >100</text>
<line x1="99.6" y1="141" x2="99.6" y2="139" stroke="#333" stroke-width="0.9"/>
<text x="99.6" y="153.7" font-size="11" text-anchor="middle" fill="#222" >120</text>
<line x1="124.6" y1="141" x2="124.6" y2="139" stroke="#333" stroke-width="0.9"/>
<text x="124.6" y="153.7" font-size="11" text-anchor="middle" fill="#222" >140</text>
<line x1="149.7" y1="141" x2="149.7" y2="139" stroke="#333" stroke-width="0.9"/>
<text x="149.7" y="153.7" font-size="11" text-anchor="middle" fill="#222" >160</text>
<text x="99.8" y="166.1" font-size="11.2" text-anchor="middle" fill="#222" >Neurite Length (pixels)</text>
<text transform="translate(13.7,79.3) rotate(-90)" font-size="11.4" text-anchor="middle" fill="#222">Cumulative Percent</text>
<text x="35.8" y="16.6" font-size="20.5" text-anchor="start" font-weight="bold" fill="#000" >a</text>
<line x1="77.5" y1="9.4" x2="77.5" y2="12.1" stroke="#000" stroke-width="1.5"/>
<path d="M75.1 11.6L79.9 11.6L77.5 18.6Z" fill="#000"/>
<line x1="93.1" y1="9.4" x2="93.1" y2="12.1" stroke="#f00" stroke-width="1.5"/>
<path d="M90.7 11.6L95.5 11.6L93.1 18.6Z" fill="#f00"/>
<line x1="22" y1="90.2" x2="26.4" y2="90.2" stroke="#000" stroke-width="1.4"/>
<path d="M25.9 88.1L25.9 92.3L32.4 90.2Z" fill="#000"/>
<line x1="22.5" y1="97.3" x2="26.6" y2="97.3" stroke="#f00" stroke-width="1.4"/>
<path d="M26.1 95.2L26.1 99.4L32.6 97.3Z" fill="#f00"/>
<text x="92.5" y="108.7" font-size="11.4" text-anchor="start" fill="#222" >DMSO</text>
<rect x="84.2" y="107.4" width="1" height="1" fill="#9c9"/><rect x="88.7" y="107.4" width="1" height="1" fill="#9c9"/>
<text x="94" y="117.8" font-size="11.4" text-anchor="start" fill="#222" >water</text>
<rect x="84.2" y="116.6" width="1.7" height="1.1" fill="#454"/><rect x="88.7" y="116.6" width="1.7" height="1.1" fill="#454"/>
<text x="91.5" y="130.3" font-size="11.4" text-anchor="start" fill="#222" >H1152</text>
<rect x="83.6" y="127.4" width="6.8" height="1.3" fill="#3d9a3d"/>
<g clip-path="url(#c3)">
<path d="M208 19L326 19L326 24L318 32L305 45L295 56L282 75L268 92L255 100L245 112L236 122L226 132L216 141L208 141Z" fill="url(#s1)"/>
<path d="M243.5 14L239.5 19L231.6 31L223.5 47.2L215.5 60L211 66.4L197.5 90L197.5 108L206 100.2L215.4 90.6L228.2 77.7L241.1 63.2L253.9 50.4L266.8 37.5L278.1 24.6L281.3 19L284.5 15Z" fill="url(#k1)"/>
<g transform="scale(8.0,1)">
</g>
<path d="M163.6 143.3l-0.4-1.1 0.9-1.1 2.5-1.8-0.2-1.7 0.8-1.6 0.7-1.2 2.1-1.9 1.1-1 0.5-1.7-0.9-1.3 3-1.1 1.7-1-0.7-1.1 1.7-2 0.4-1.4 0-1.2 2.5-1.1 1.1-1.7 0.6-1.8-1-1.4 2.1-1.5 2.5-1.4 0.5-2-0.1-1.9-0.2-1.4 1.1-1.7 0.6-1.2-0.9-1.4 2-1.5 1.9-1-0.2-1.5 0.3-1.3 2.4-1.7 0.1-1.1 1.1-1.7 0.8-1.1 2.3-1.6-0.6-1.1 1.1-1.2 2.2-1.5 0.1-2 1.6-1.1-0.5-1.2 1.1-1.8 0.6-1.3 0.6-1.7 1.6-1-2.2-1.1-0.1-2 3.7-1.5 1.5-1.8 0.6-1.8 0.6-1.5 0.8-1.5 1.3-1.9 2.5-1.9 2.2-1.9 1.8-1.3-0.4-1.7 1.2-1.7 1.5-1.2 0.3-1.7 0.4-1.9 1.2-1.4 2.5-2-1.7-1.6-0.3-1.9 0.8-1.8 3.1-1.9 0.2-1.8 0.8-1.4 1.2-1.7 1.2-1.7 2-1.9-1.4-1.9 2.4-1.6 0-1 0.6-1.4 4.6-1.7-0.3-1.5 0.4-1.6 0.6-1.7 2.1-1.4 0.7-1.3M163.8 143.3l0.4-1.3-0.4-1.7 2.1-1.9 1.8-1.5 1.9-1.4 2.1-1.4-1.5-1.2 3.3-1-0.5-1.4 1.2-1.4 1.3-1.2-0.6-1.7-1-1.2 2.2-1.8-1.4-1.3 2.9-1.8-0.9-1.3 1.5-1.3 0.2-1.7-0.6-1.6 1.9-1.7 3.9-1.3 0.2-1.5 1.8-1.1-0.3-1.2 0.7-1.1 0.7-1.8 4.2-1.6 1.4-1.4-2.5-1.3-0.6-1.1 0-1.6 1-1.8 2.9-1.3 0.3-1.4 2.2-1.4 1.3-1.8 1.2-1.2 0.3-2 1-1.9 1.6-1.8-0.3-1.8 2.8-1.3 2.3-1.8-0.3-1.2-0.1-1.3 0.7-1 1.3-1.7 0.6-1.3 1.1-1.4 0.1-1.8 0.6-1.7-0.2-1.5 2.4-1.7-0.2-1.8 1.9-1.5 0.6-1.6 2.5-1.5 0.6-1.7 3.9-1.5-1.2-1.9-1.7-1.7 0.9-1.4 3.4-1.7 1.5-1.9 0.8-1.1 0.6-1.1 0.5-1.2-0.2-1.1-0.2-2 1.9-2-1.9-1 3.5-1.2 0.3-1.2 0-1.8 2.4-1.3 2.3-1.2 1.5-2 0.9-2-2.4-1.3 3.4-1.3 0.2-1.7 1.1-1 2.7-1.7 0.9-1.9-0.3-1.4M165.3 143.3l0.1-1.2-0.3-1.6 0.9-1.2 0.8-1.4 1-1.6 1.6-1.9 0.2-1.4 1.1-1.1-0.6-1.2 0.7-1.6 1.2-1.3-0.7-1.4 5.9-1.3-0.5-1.5 1.1-1.4 0.1-1.2 2.1-1.3 0.5-2 2.1-1.6-1.4-1.4 1.1-1.1 2.2-1.7 1.5-1.8 0.6-2 0.2-1.4 1.7-1.3-0.1-1.2 0.3-1.6 0.5-1.5-0.6-2 3.4-1.4 0.3-1.4 3.5-1.8-1.5-1.2 1.5-1.5 0.1-1.7 0.6-1.3 4.4-1.3 0.9-1.8 2.8-1.4-1.3-1.2-0.3-1.8 1.5-1.3 1.1-1.4 0.6-1.1 0.9-1.3 1.4-1.8-1.2-1.4 1.9-2 1.3-1.1 3.5-1.9-1.1-1.9 0.6-1.2 1.7-1.9-0.3-1.8-0.8-1.3 1.8-1.1 3.1-1.6 3.4-1.9-0.1-1.6 0.7-1.5 0.3-1.4 1.6-1.9-1.2-1.5 1.3-1.9-0.5-1.5 1.8-1.4 4.3-1.9 0.7-1.6 1.3-1.6 0.1-1.4 0.7-1.8-0.7-1.8 2.8-1.6-0.6-1.4 2-1.3 1-1 2.2-2 1.4-1.1-0.4-2 1-1.8 2.1-1.9 0.6-1.4 0.9-1.7M165.3 143.3l1.4-1.8-1.7-1.2 1-1.8 1.5-1 0.9-1.6 1.7-1.5 0.1-1.4 2.7-1.6 3.1-1.5-0.9-1.3-0.6-1.9 3.5-1 1.3-1.4-1-1.7 2.6-1.2 1.6-1-2.9-1.2 2.2-1.7 1.1-2-0.3-1.9 4.2-1.3 1-1.9-0.8-1.7 0.8-1.2 1.7-1 1.4-1.9-1.2-2 1.3-1.4 0.6-1.8-1.5-1.9 2.4-1.6 1.9-1.5 2.2-1.5 1.8-1.4-0.2-1.1 0.7-2 0.4-1.7 1.6-1.4 3.9-1.2-0.6-1.7 1.8-1.6 1.3-1.2-0.6-1.3 0.2-1.2-1.3-1.8 2.3-1.1 2.8-1.1-0.1-1.7 3-1.6 2.7-1.5-0.1-1.9 0.7-1.5 0.6-1.3-0.7-1 0.4-1.2 4.5-1.9-0.6-1.7 0.9-1.8 0.9-1.1 2.1-1.9 2.4-1.2 0.1-1 0.6-1.7 0.6-1.2 2.1-1.4-1.7-1.6 0.9-1.1 1.6-1.8 1.6-1.9 0.5-1.9 1-1.2 0.8-1.9 0.1-1.2 0.1-1.7-0.8-1.2 1.1-1.8 3.2-1.5 1.2-1.9 1.8-1.9 0.6-1.3 1.6-1.7 0.1-1.8 1.8-1.5 0.6-1 2.5-1.2M163.2 143.3l0.2-1.9 3.2-1.7 3.1-1.7 1.1-1.1-1.1-1.5-0.8-1.8 1.1-1.3 3.3-1.1 0.2-1.8 1.9-1.3 0.9-1.8 0.9-1-2.3-1.1-0.8-1.1 2.2-1.4 2.9-1.4 0.1-1.1 1.7-1 2.5-1.2-0.3-1.9 1.2-1.9-0.1-1.1 1.1-2-0.4-1.1 1.9-1.8 1.5-1.2 1.5-2 0.8-1 0.8-1.8 2.5-1.1-0.8-1.2 1.3-1.2 0.5-1.1 1.3-1.1 2.9-1.5 0.9-1.8 1.1-1.7 0-1.4 2.8-1.4 0.6-1-1.4-2-2.2-1.1 5-1.9 0.4-1.6-1.1-1.6 2.5-1.6 0.1-1.5 2.9-1.6 1.4-2-0.1-1.7-0.1-1.2 2.2-1.7 1.6-1.1 1.8-1.6-1.8-1.2 1.2-1.4 0.9-1.2 1.3-1.5 1.2-1.2 1.1-1.9 0.8-1.5-0.2-2 3-1 1.7-2 1.7-1.8 3.1-1.5-0.8-1.5 0.1-1.7 3.2-1.7 0.5-1.7-0.6-1.8 0.9-1.2 1.4-1.2 0.9-1.9-0.4-1.1 2.4-1 1.1-1.5-0.5-1.1 1.7-1.1 0.9-1.7 0.9-1.6 2.8-1.7 0.2-1.2 3.1-1.2-2.6-1.5 2.3-1.9 0.2-1.7M162.9 143.3l-0.3-1.6 2.9-1.4-0.7-1.1 3.5-1.5 1.6-1.6 0.7-1.3 2.7-1.5 1.6-1.3-0.8-1 1.6-1.6 2.9-1.9 1-1.8-1.4-1.5-0.6-1.2 3.3-1-0.8-1.4-0.9-1.6 1.8-1.1 2.1-1.8 2.4-1.6-0.2-1.9 0.7-1.8-0.9-1.3 1.6-2 0.8-1.1 2.5-1.9 3.1-1.4-0.8-1.4 1.1-1.7 0.6-1.3 1.7-1.2-0.3-1.3 2.3-1.7 1-1.7 1.3-1.2-1-1.8 3.6-1.6 1.9-1.1 1-1.6-0.3-1.4 0.2-1.7 0.2-1.4 1.6-1.9 0.7-1.7-0.3-1.9 0.6-1.2 2.8-1.3 0.5-1.1 2.9-1.2-1.3-1.2 2.2-1.7 2.2-1 0.3-1.6-0.6-1.6-0.7-1.2 2.9-1.3-0.1-1.8 1-1.7 3.1-1.3-0.9-1.5 0.9-1.7 3-1.3 0.3-1.5 4.1-1.6-1.1-1.6 0.8-1.2 0.1-1.6 2-1.5-0.5-1.1-0.1-1.4 3.5-1.2 0.3-1.3-0.1-1.1 1.2-1.9 1.2-1.7 2.1-1.1-2-1.2 1-1.4 2.3-2 2.3-1.8 0.7-1.4 2.4-1.6 1.5-1.3 1.1-1.6 1.4-1.6 2.1-1.4 0.1-1.5M163.3 143.3l0.6-1.4 0.6-1.3 0.5-1.2 1.8-1.9 1.7-1.9 0.5-1.8 2.5-1.6-2-1.1 3.8-1.8 0.5-1.3 1.9-1 0.1-1.1-0.8-1 2.2-1.9 4-1.7 2.2-1.9 1.9-1.8-1.6-1.7 4.8-1.7-0.6-1-1.5-1.5 0.4-1.3 0.7-1.5 2.9-1-0.3-1.4-0.2-1 2.9-1.5 0.3-1.7 2.6-1.4 0.4-1.8 1.4-1.6-0.2-2 3.9-1.9-1.5-1.4 3-1.3-1-1.6 3-1.6 0.3-1.1 1-1.5 2.1-1.1 0.1-1.4-1.3-1.1 3.1-2 1-1.7-0.7-1.6-0.8-1.1 2.3-1.5 3.3-1.4 1.1-1.7-0.9-1.4 2.8-1.6 2.8-1.3 1-1.5-1.6-2 0.4-1.7 1.9-1.8 3.2-1.6 0.8-1.7 1.7-1.4-1-1.9 0.7-1.3 0.3-1.3 3.9-1.3 1.7-1.3 0-1.3 2.1-1.5 1.2-1.9 0.8-1.8 1.6-1.8 0.8-2-0.3-2 2.6-1.3 0.3-1.1 0.2-2 1.7-1.4-0.2-1.9 1.7-1.8 1.1-1.1 1.3-1.6 1-1.4-0.2-1.1 2.5-1.2 0.6-1.8 2-1.4 2.8-1.8M164.1 143.3l-0.7-2 1.2-1.5 1.8-1.7 0.7-1.1 2.2-2 1.8-1 1-1.7 0.9-1.9-0.6-1.1 1.7-1.3-0.7-1.3 2.2-1.2 2.4-1.3 0.5-1.1 2.2-1.9 0.4-1.5 0.9-1.9 1.9-1-0.6-1.1 0.9-1.9 1.5-1.4 2.4-1.2 0.4-1.5 0.4-1.5 1.5-2 0.6-1.7 3.1-1.1 2.2-1.7-0.8-1.6 0.9-1.9 2.2-1.5-1.1-1.3 1-1.8 3.4-1.9 0.6-1.9 0.4-1.2 1.4-1.8 2.1-1.6 0.8-1.4 0.2-1.5 2.3-2 2-1.4 0.8-1.1 1.3-1.6-0.7-1.1 0-1.3 1.7-1.8-0.2-1.3 0.5-1.5 0.5-1.7 4.2-1 4.1-1.5 0.8-1.5 1.1-1.9-0.5-1.3 0.7-1.3 0.3-1.5 0.7-1.1 2.3-1.2-2.2-1.9 0.4-1.5 4.6-1.7 0-1.7-1.3-1.5 2.1-1.3-1.1-1.2 2.9-1.4-0.6-1 2.7-1.8 2-1.1 0.3-1.4 1.7-1.8 4.8-1.1-3-1.4 2-1 0.7-1.4-0.1-1.7 1.4-1.2 1.4-2-1.1-1.2 1.8-1.4-0.5-1.3 2-1.4 1.1-1.6 0.3-1.7 2.3-2M163.4 143.3l-0.6-1.7 1.4-1.1 0.4-1.1 2.3-1.9 2.8-1.4 0-1.1 2.9-1.6 1.1-1.7 1.5-1.9 0.4-1.5-0.6-1.4 2.7-1.1-1.3-1.7 0.5-1.2 0.8-1.3 2.9-1.3 0.9-1.7 1.6-1 1.1-1.3 0.2-1.9 0.9-1.2 2.1-1.5 1.5-1.4 1.2-1.2-0.5-1.7 1.2-1.3 1.9-1.2 1.1-2 0.7-1.7 2.6-1.9-0.5-1.1 3.5-1.1 1.6-1.8 0.3-1.7 0.1-1.5 2.5-1.1 0.4-1-1-1.4 3.4-1.3-0.2-1.2 0.6-2 3.3-1.9 0.1-1.2 0.2-1.2 0-1.7-0.7-1.2 1.3-1.3 3.6-1.8 2.1-1.1 0.9-1.2 0.7-1.6 1.8-1.8-2.3-1.2 0.7-2 3.3-1.7 1-1.3 2.6-1.3 2-1.7-1.4-1.1 2-1.8-2.5-1.2 1.9-1.9 3.3-1.2-0.2-1.2 2.6-1.3 0.4-1.6 2-1.6 1.8-1.3 0.7-1.4 3.1-1.7 0.5-1 1.2-2 0-1.3 1.1-1.7 1-1.8 1.1-1.9 0.6-1.4-0.6-1.3-0.9-1.7 2.6-1.3 1.9-1.1 2.1-1.8-0.4-1.3 1.6-1.8 2.6-1.9-0.2-1 1.7-1.5M164.8 143.3l0.2-1.8 0.8-1.4-0.4-1.9 2.5-1.4 0.9-1.6 1.9-1.9-0.8-1.2 0.2-1.4 1.8-1.2 2.4-1.6-0.2-1.2 1.6-1.1 2.7-1.6 4.1-1.5 1-1.9-0.5-1.2 3.5-1-2.2-1.2 2.5-1.1 0.4-1.5-1-1.4 1.6-1.7 0.1-1.2 2.4-1.7 1.2-1.6 2.1-1.4 1.7-1.1-0.2-1.8 1.4-1.9 1.6-1.8 1.7-1.6 0.6-1.2 1.2-1.8 2.7-1.9 2.5-1.1-1.1-1.1 0.5-1.4 1.3-1.4-0.7-1.9 1.8-1.2 3.9-1.4-0.8-1.1 1.2-1.7 2.1-1.4 2.6-1.9 0.1-1.1 1.5-1.2-0.1-1.9 0.7-1.2 0.6-1.3 2.9-1.8-2.7-1.4 1.2-1.5 3.2-1.4-0.3-1.4 2.1-1.8 1.9-1.3 1.5-1.3-0.2-1.1 1.5-1.1 0-1.9 2.2-1.4 2-1.7 2.6-1.5-2.2-1.5 3-1.1-1.2-1.6 2.2-1.5-0.1-1 1.1-2 2.4-1.9-0.1-1.9 3.1-2-1.6-1.5 2.1-1.1 2.3-1.7 2.6-1.8 2.1-1.1-0.5-1.9 0.3-1.9 0.5-1.1 1.9-1.9 0-1.3 1.7-1.9 2.1-1.3 1.6-1.7M162.3 143.3l1.4-1.6 1.2-1.8 2.7-1.1 2.1-1.9 2.2-1.7-1.6-1.6 4.2-2-0.4-1.1-0.6-1.3 2.3-1.5-0.1-1.9 0.4-1.9 1.5-1.1 5.4-1.1 0.9-1.4 1.8-1.4 2.7-1.9-1.3-1.3 2-1.7 0.1-1.4 1-2 1.1-1.5 3.3-1.2 0.8-1.7 1-1.4-0.3-1.1-0.3-1 1.8-1.7-0.6-2 2.4-1.1 2.4-1.7 3.4-1.5-0.9-1.4 1.7-1.7 1.3-1.5 1.3-1.4 1.2-1.3 1.9-1.7-0.5-1 0-1.5 1-1.8 3.5-1.1 0.8-1.3 0.5-1.7 1.1-1.9 0.1-1.6 1.4-1.7 1.9-1.8 1-1.9 1.9-1.8 4.2-1.2 0.3-1.2-1.6-1.3-0.4-1.6 2.6-1.2 0.2-1.2 1.9-1.8 2.3-1.2 0.6-1.5 0.7-2 2.1-1.5-0.2-1.4 2.3-1.6 1.1-1.1 0.5-1.2 2.1-1.9 0.3-1 1.4-1.6 0-1.9 1.3-1.8 1.1-1.6-0.6-1.2 1.6-1.1 2.7-1.8 2.7-1.8 1.1-1.5 0.7-1.5 4.7-1.8 0.3-1.8-3-1.8 1.3-1.8 0.9-1.3 1.4-1.4 1.2-1.7M163.7 143.3l1.4-1.3 0.8-1.6 2.2-1.9 0.7-1.4 0.2-1.3 1.1-1.2 3.1-1.9 1.4-1.5-0.6-1 1.3-1.9 2.5-1.7-0.1-2 1.2-1.2 0.8-1.1 2.4-1.5 0.8-1.1 1.8-1.1-0.2-1.7 3.3-1.8 0.1-1.7 1.3-1.6 1-1.3 4.1-1.9 1.8-1.9-0.5-1.8 1.8-1.6 0.2-1.2-1.8-1.1 4.8-1.6-0.1-1.3 0.6-1.6 1.5-1.7 0-1.4 2.4-1.2 1.6-1.3 1.9-1.9 0.6-1.7-0.6-1.4 4-1.6 1.7-1.5-0.1-1.3 0.3-1.1 2.9-1.1 1.2-1.5 1.1-1.1-2.1-1.6 2-1.3 0.1-1.1 1.4-2 2.8-1.6-0.3-1.7 0.6-1.2 1.9-1.7 3-1.5 0.2-1.7 3.1-1.1-0.1-1.2 0.6-1.7 0-1.3 2.2-1.1 1.7-1.3 1.1-1.2 0.1-1.4 0.5-1.1 1.4-1.2 0.1-1.8 1-1.6 2.2-1.6 1.8-1.5 3.3-1.2 0.2-1.7 0.5-1.7 1.7-1.8-0.4-1.2 4.1-1.6 0.1-1.8-0.4-1.1 3-1.3-1.7-1.1 2.6-1.5 1.2-1.8 0.3-1.5 1.6-1.8 1.3-1.5 0.2-1.1 1.5-1.4 1.3-1.2M162.7 143.3l1.2-1.7 1.5-1.1-0.1-1.8 1.9-1.4 0.7-1.7 3.1-1.3 2.9-1.9 0.7-1.6 1.5-1.2-0.2-1.5 2.2-1.6 1.1-1.4 1.7-1.6 0.2-1.2 0.8-1.4 1.8-1.3 1-1.9 1.7-1.3 3-1.9 1.9-1.6 2.6-1.2-0.2-1.8-2.1-1.9 1.5-1.7 0.7-1.9 3.3-1.3 0.4-1.6 1.1-1.4 1.2-1.2 2.3-1.6 3.2-1.9 3.4-1.7 1.1-1.1 1.7-1.2-0.4-1.3-1.2-1.1 2.4-1.3-1.1-1 2.9-1.8 2.4-1.9-0.6-1.3 2.2-1.3-0.6-1.6 0.7-1.7 2.6-1.6 1.4-1.2-1.3-1.3 1.6-1.6 1.9-1.1-0.2-1.3 3.7-1.6 0.8-1.9-0.1-1.4 2-1.9 1.9-1.2 3.6-1.7-0.1-1.9 1.6-1.2-0.1-1.4 1.9-1.3 0.4-1.8 1-1.2-1.5-1.5 3.3-1.7 1-1.6 2.1-1.3 1.5-1.6-0.7-1.1 2.6-1.4 2-1.7 2.9-1.7-0.4-1.2 0.8-1.7 0.9-1.2 0.8-1.6-0.9-1.4 3.2-1.4 2.7-1.7-1.4-1.8 3-2-0.3-1.1 1.9-1.1 1.9-1.5 0.9-1.5 1.2-1.3-0.8-1.1M162.8 143.3l0.5-1.4 2.4-1.8-0.5-1.9 1-1.9 1.5-1.1-1.2-1.2 0.8-1.8 2.6-1.5 3.2-1.8 2.7-1.6 2.7-1.4 1.3-1.1 2.5-1.9 0-2 0.4-1.4 0.7-1.9 2.3-1.7 3.7-1.8 1.2-1.8 4.1-1.5 2.2-1.9-1.5-1.1 1.3-1.5 0.9-1.1 2.1-1.2 1.8-2 1.4-1.7-1.2-1.5 3.3-1.4 0.5-1.2 0.8-1.9 2.4-1.6-3.5-1.4 4.6-1.8-0.1-1.2-0.1-1.3 0.8-1.1 2-1.4 3.5-1.7 2-1.8 0.8-1.8 0.1-1.4 3.6-1.3 0-1.5-0.3-1.3-0.9-1.9 2.9-1.9 5.4-1.7 1.7-1.8 2.2-1.9-1.1-1.7-0.8-1.4 1.7-1.8-0.2-1.6 0.7-1.8 3.7-1.7-0.5-1.9 4-1.2-1.6-1.5 2.7-1.7 2.6-1.3 2.4-1.4-0.8-1.3 2.8-1.7 2.1-1.1 1.4-1.5 1.5-1.8 2.3-1.7 0.2-1.6-0.3-1.6 1.6-2 1.6-1.8 0.4-1.2 0.5-1.1 0.6-1.6 3.3-1.7 1.3-1.6 0-1.1-0.1-1.4 1.5-1.3 1-1.9 2.9-1.1M161.7 143.3l2.1-1.2 1.1-1.7 2.5-1.3 1.1-1.5 2-1.8 1.3-1.6-1.2-1.3 2.5-2 1.8-1.6 3.6-1.8 1-1.3-1.5-1.2 2.4-1.8 1.5-2 2.1-1.7 0.4-1.4 0.8-1.5 1.6-1.6-0.5-1.6 0.3-1.3 1.6-1.4 5-1 2.8-1.9 1.5-1.5 1.5-1.5-0.8-1.7 1-2 1.9-1.4 2.7-1.9-0.4-2 4.5-1.7 1-1.8-0.6-1.6 1-1.2 2.8-1.6 2-1.3-0.3-1.1 3.3-1.5 0.2-1.3 1.2-1.1 1.4-1.8 0.9-1.6 0.9-1.5 1.3-1.2-0.3-1.2 2.6-2 1.5-1.7 0.9-1.9 2.1-1.2 0-1.4 0-1 1.1-1.4 1.3-1.6-0.7-2 4.2-1 3.4-1.3 1.2-1.4 0.7-1.3 2.2-1 2.6-1.7 0.9-1.6-0.1-1.5 0.3-1.4 0.3-1.7-0.1-1.3 0.7-1.7 1.1-1.9 3.6-1.9 3.5-1.8-0.9-1.6 1.4-1.1 2.1-1.7-1.6-1.3 0.5-1.9 4-1.9 0.4-1.4 0.8-1.8 4.2-1.1 3.5-1.8-2.9-2-2.1-1.7 2-1.2 0-2M164.1 143.3l-1.1-1 4.4-1.2-1.4-1.4 1.1-1 0.4-2 3.4-1.9 2.1-1.5 1.4-1-0.2-1.4 1.5-1.4-2-1.2 1.7-1.8 1.8-1.1 3.8-1.2-0.5-1.5 2.6-1.7 3.9-1.8 0.1-1.9 1.5-1.7 1.4-1.9-0.1-1.8 2.6-1.6 1.9-1.4 1.4-1.9 3-1.3 0.3-1.6 2.3-1.6 3.5-1.2-1.3-1.4 0.9-1.2 0.1-1.8 1.8-1.1 0.1-1.8 3.7-1.1 2.4-1.8-1.6-1.2 0.2-1.5 2.8-1.6 2.3-2 2-1.6 0.8-1.1 2.2-1.7 1.1-1.3 0.8-2 1.9-1.5 2.4-1.8-0.4-1 2.2-1.9 0.9-1.3-0.3-1.8 1.7-1 1.1-1.3 0.6-1 0.5-1.7 1-1.1 2.1-1.6 2.1-1.2 1.9-1.9-1.6-1.4 1.3-1.4 2.5-2 2.2-1.2-0.8-1.2 1.9-1.8 1.1-1.3 1.7-1.4-0.1-2 1.3-1.4 3.7-1.4 3.5-1.4-1-1.1 1.8-1.3 0.4-1.1 0.4-1.9 1.5-1.3 1.1-1.6 1.4-1.2 0.9-1.5 2.2-1.4 1.1-1.9 1.3-1.5 0-1.7 0.2-1.8 0.7-1 0.6-1.2 2.6-1.1 1-1.9M161.3 143.3l3.4-1.2 2.6-1.5-0.2-1.8 3.7-1.7 0.2-1.1 0-1.5-0.2-1.7 2.5-1.9 2.5-1.8 3-1.4 0.3-1.3 0.1-1.7 4-1.2 1.3-1.6 2.8-1.3 2.3-1.2 0.7-1.9 0.5-1.4 0.9-1.5 0.4-1.1 1.3-1.6 0.2-1.1 4.1-1.5-0.1-1.3-1.1-1.8 2.3-1.9 3.6-1.4 3.3-1.8 2.8-1.9-2.2-1.3 1.2-1.5 3.2-1.5 2.3-1.6 0.4-1.9-0.6-1.2 0.8-1.2 2.4-1.6-1.1-1.2 2.7-1.8 2.5-1.4 0.7-1.8 2.9-1.8 0.3-1.8 1.1-1.8 3.6-1.7-1-1.4 2-1.5 3-1.6 0.2-1.8 1.7-1.5 0.1-1.2 1.4-1.9 1.2-1.8 0.6-1.7 2-1.2 4.1-2 0.3-1 2.4-1.4 0.5-1.7 0.5-1.5 1.2-1.8-0.1-1.2 1.6-1.6 1.4-2 1.7-1.2-1-1.3 4.1-2 2.9-1.7-2.9-1.2 4.4-1.1 0.3-1.9-0.2-1.4 4.6-1.1 0.3-1.6 1.4-1.8 0.1-1.6-0.2-1.1 2.5-1.4 1.5-1.6 1.7-1.8 1.5-1 0.3-1.7-0.1-1.9M161.6 143.3l1.5-1.6 2-1.7 3.2-1.3 1-1.3-1.9-1.9 3.8-2 1.5-1.2-0.4-1.1 0.7-1.5 2.7-1.9 2.4-1.5 1.5-1.9 3.6-1.8 0.6-1.8 2.1-1.6 0.2-1.3 3.4-1.1 2-1.3 0.8-1.2 2.9-1.7-1.4-1.8 0.3-1.9 5.2-1.4 1-1.2-0.2-1.1 1.9-1.5 0.9-1.3-1.1-1.1 1.1-1.6 1.5-1.8 2.9-1.1 3-1.8 2.5-1.6 0.7-1.5-0.8-1.2 2.7-1.8 0.9-1.4-0.1-1.5 1-1 1.5-1.2 1.2-1.4 1.7-1.6 1.8-1.6 3.2-1.6 0.4-1.9-0.4-1.3 3-1.7 1.7-1.4-1.2-1.5 1.5-1.1 1.8-1.4 0.6-1.2 3.6-1.8 1.1-1.5 3.3-1.8 0.9-1.8 0.2-1.7 1.6-1.6 0.8-1.5 1.4-1.9 2.4-1.9 2-1.7 1.2-1.6-0.3-1.8 1.7-1.4 2.5-1.8 0.9-1.9 2.9-1.4 2.1-1 0-1.7 0-1.1 1.9-1.3 2.5-2-0.4-1.5 0.4-1.1 1.8-1.5-0.1-1 4-1.5 1.3-1.8 0.4-1.2-1.2-1.3-0.4-1.9-0.2-2 2.5-1.2M161.3 143.3l1.6-1.1 2.6-1.2 1-1.7-1.3-1.2 2.8-1.3 1.9-1.2 2-1 0.4-2 2.1-1.2 3.5-1.3-0.9-1.4 0.1-1.4 1.2-1.8 1.5-1 2.7-1.9 3.6-1.7 0.5-1.8-0.6-1.2 2.9-1.5 1-1.8 0.5-1.5 2.1-1.7 2.9-1.5 1.6-1.5 1.2-1 0.6-1.7 2-1.6 0.6-1.7 0.9-1.7 3.8-1.6-0.7-1.5 4.6-1.4 1.5-2 1.3-1.4 0.4-1.2-0.5-1.4 3.4-1.3 2.6-1.7 0.9-1.4 1.1-1.7 3-1.9-0.1-1.2 1.1-1.6 1.5-1.2 2.2-2 2.4-1.2-0.6-1.5-1.9-1.5 3.9-1.7 1.6-1.4 2.3-1.8-0.6-1.5 1.4-1.9 1.4-1.9 2.1-1.5 1.7-1.8 2.5-1.7-1.1-1.2 1.4-1.1 2.4-1.4 2.3-1.6 2.1-1.7-1.2-1.2 2.1-1.1 2.5-1.7 3.6-1.6-1.9-1.6 1.9-1.6 1.5-1.3-0.5-1.6 2.7-1.7 1.9-1.4 2.2-1.4-0.8-1.8 2.9-1 0.1-1.3 3.8-1.4 0.9-1.9-1.2-1 1.1-1.7 3.3-1.3-1.1-1.2-0.1-1.6 2.1-1.8 0.4-1.5 2.2-1.4M159.8 143.3l4.2-1.6-1-1 3.1-1.1 3-1.8 1.4-1.1-1.4-1.9 3.3-1.5 4.3-1.9 0.6-2 2.8-1.6-0.8-1.4 2.9-1.6 1.3-1.4 2.2-1.5 0.7-1.8 1.9-1.4-1.4-1.3 4.3-1.7 0.2-1.4 1.3-1.4 1.8-1.6 1.1-1.2 1.8-1.6 2.9-2 1.3-1.9-0.8-1 3.4-1.2 1.7-1.9 0-1.3 2.2-1 0.1-1.3 2.6-1.2 2.5-1.6-0.2-1.5 1.6-1 0.6-1.5 2.6-1.4-0.3-1 3-1.4 0.1-2 1.2-1.6 2-1.9 1.2-1.5 2.6-2 0.3-1.5 1.8-1.5-0.4-1.6 2.9-2-1.8-1 5.5-1.4 0.9-1.5 0-1 1.7-1.3 3.2-1.1-3-1 1.3-1.2 4-1.8-0.2-1.4 0.5-1.5 2.7-1.6 1.3-1.3 0.7-1.1-0.3-1.3 2.7-1.2 0.7-1.7 4-1.1 0.3-1.4 2.1-1.9 1.6-1.7 1.1-1.8 1.5-1.2 1.1-1-0.9-1.2 2.8-1.7 0.1-1.5 1.8-1 1.2-1.7 3.4-1.9 2.5-1.3 0.5-1.9-1.5-1.8 4.1-1.5-1.7-1.6-0.2-1.5 3.1-1.8 1.2-1 2.4-1.9M161.4 143.3l2.3-1 1.9-1.5-1.9-1.9 4.2-1.8 2.1-1.3 2.9-1.7 0.5-1.7 0.4-1.9 2.1-1.5 1.1-1.1 1.8-1 0.9-1.7-0.2-1.6 4.3-1.5 3.3-1.9 1.6-1.6-0.7-1.6 2.5-1.5 3.1-1.5 3.2-1.9 3.3-1.9-0.3-1.1 1.1-1.9 1.6-1.3-0.5-1.5 1.7-1.7 1.7-1.3 1-1.4 2.9-1.5 0.5-1 0.8-1.5 2.8-1.9 1.3-2 2.2-1.5 2.5-1.2-0.3-1.2-1.4-1.6 1.3-1.2 3.8-1.9-1.6-1.5 4.2-1.8 2.3-1.4 0.7-1.8-1.4-1.1 5.6-1.8 2.6-1.6-0.9-1.3 2.1-1.2 0.5-1.9 1.5-1.5 1.8-1-0.6-1 3.2-1.3 0.2-1.5 1.4-1.3 1.9-1.9-0.6-1 1-1.4 2-1 2.1-1.6 0.6-2 2.6-1.7 2.8-1.2 3-1.8-1.1-1.6 1.8-1.3 2.8-1.2 2.6-1.6-1.1-1.5 0.4-1.4 0.6-1.1 2.4-1.6 0.9-1.7 1.2-1.3 2.7-1.4 0.9-1.4 1.1-1.6 1.4-1.9 2.1-1.1-1.1-1.3 0.6-1.5 1.6-1.8 0.5-1.9 2.3-1.9-1.2-1.1M162.2 143.3l2.2-1.2 0.8-1.8-0.5-1.1 3.2-1.9 1.8-1.1 2.2-1.9 0.8-1.7 3.3-1 0.7-1.9 2.9-1.2 1.4-1.9 2.3-1.9 1.3-1.5-2.3-1.6 2.3-1.4 2.4-1.8 0-1.8 1.4-1.5 4-1.8 2.7-1.3 2.6-1.2 0.7-1.5-0.1-1.6 0.2-1.2 3-1.4 3-1.2 2.7-1.9 1.9-1.1 2.6-1.6-1.6-1 2.4-1.8 1.8-1.9 0.6-1.3 3.7-1.9-0.6-1.2 2.8-1.5 0.6-1.2 1.8-1 0.7-1.3 1.6-1.2 0.6-1.4 1.9-1.9 2.2-1.3 0.2-1 2.2-1.6 1.7-1.1-0.4-1.6 0-1.4 0.9-1.2 2.1-1.3 3-1.6 1.8-1.2-0.2-1.8 1.9-1.5 0.1-1.4-0.3-1.5 3.2-1.8 2.9-1.5-0.6-1.1 1.8-1.2-1-1.7 2.9-1.8 1.3-1.7 5.1-1.5 3.1-1.1-0.5-1.1 0.7-1.7 1.1-1.2 3.9-1.8 0.5-1.7 0.6-1.2 0.6-1.9 2-1.8 1.2-1.7 1.6-1.4 1.8-1.3 2-1.9 0.1-1.7-0.2-2 1.4-1.6 2-1.3-0.2-1.2 0.5-1.5 1.9-1.7 0.4-1.4 4.2-1.4" fill="none" stroke="#1c1c1c" stroke-width="0.8" stroke-linejoin="round"/>
<path d="M163.6 143.3l0.1-1 4.4-1.3 0.1-1.5 2.2-1.9 0.9-1.3 0.1-1.9-0.2-1.5 3.2-1.3 0.3-1.6-1-1.9 0.9-1.9 1.4-1.9 0-1.4 3.2-1.2-1.6-1.8-0.2-1.2 2.4-1.1-0.6-1.7-0.4-1.5 2.2-1.1 1.8-1-1-1.5 5.2-1.8-0.6-1.5 2.8-1.4 0.7-1.7 0.6-1.3 0.7-1.1 0.8-1.6 0.6-1.2 1.7-1-0.2-1.5 0-1.3 0.9-1.4 3.1-1.4 0-1.4 0.3-1.6 3.4-1.5-0.6-1.2 1.7-1.6-0.5-1.1-0.3-1.4 2.4-1.4 0.1-1.3 2.4-1.8 0.1-1.6 0.3-1.8-0.9-1.1 3.7-1.4 0.6-1.1 0.6-1 1.6-1.5 1.6-1.4-1-1-0.1-1.5 2.6-1.2-0.3-1.5 1.4-1.4 2.9-1.6 0.6-1.3-0.1-1.2-0.2-1.1 2.2-1.9 1-1.4 1-1.1-1.5-1.2 1.5-1.1 1.2-2-0.1-1.7 3.4-1.8 0.8-1.7 0.2-2 2-1.4 0.1-1.4 0.1-1.9-0.3-1.5 2-1.2 2.2-1.1 0.6-1.7-0.4-1.8 1.1-1.6 1.7-1.2 0-1.3 3.3-1 0.3-1-0.6-1.5 0.1-1.2 1-1.1 1.1-1.8M163 143.3l2.9-1.3-1.2-1.4 0.4-1.4 3.3-1.1 1-1.1 2.6-1.7-3.1-1.4 3.3-1 0.1-1.8 1.9-1.9 1.8-1.5 2.4-1.4 1.1-1.1-0.4-1.9 1.8-1.7 2.1-1.7 1.6-1.3 1.4-1.6 0.1-1.5-0.5-1 1.3-2 1.6-2 2.3-1.9 1.8-1.1 0.5-1.8 1.2-1.5 1.2-1.2-0.4-1.3 2.1-1.5 0-1.1-0.4-1 3.2-2 1.8-1.9-0.4-2 1.8-1.7 2.4-1.9-0.5-1.4 2.9-1.2 0.5-1.4 1.7-1.3-1.6-1.9 3.4-1.4-0.2-1.3 1-1.8 0.9-2 2.3-1.1 1.1-2 2.3-1 1.9-1.5-0.9-1.6-0.8-1.2 3.3-1.9 1.3-1.7 1.2-1.4-0.4-1.4 1.1-1.7-0.2-1.2-2.2-1.1 4.4-1.4 1.4-1.3 2.5-1.9 0-1.6 1.3-1.6 2.2-1.6-0.3-1.7 1.5-1.3 0.3-1.4 3.2-1.7 0.9-1-0.2-1-0.4-1.6 2.7-1.4 2-1.5 0.1-1.6 1.3-1.1 0.7-2 0.4-1.6 1.3-1.8 2.6-1.9-1-1.8 1.8-1.1 3-1 0.1-1.6 0.6-1.8 0.8-1.3M161.3 143.3l3.3-1.7 2.5-1.9 0.8-1.9 0.7-1.6 0.2-1.1 1.5-1.8 3.9-1.5 0.5-2 2.1-1.2-0.3-1.3 2.6-1.6 1.2-1.1 1.7-1.3-1.4-1.6 2.9-1.2-0.3-1.4 1.3-1.7 2.1-1.9 3.8-1.6 2.3-1.1 0.8-2 0.9-1.4 0.1-1.8 3.3-1.8-0.8-1.6 0.9-1 4.3-1.9-2.5-1.2 3.4-1.8 3.6-1 0.5-1.7 0.8-1.5-0.3-1.1 0.3-2 3.2-1.9-0.6-1.5 2.6-1.7 0.8-1.1 2.4-1.1 1.2-1.3 1.5-1.3 1.6-1.4 0.7-1.6-1.4-1.4 2.6-1.4 1.6-1.3 1.6-1.2-0.8-1.1 2.1-1.5 2.6-1 0-1.1 0.9-1.1 2-1.3-0.6-1.5 1.3-2 1.2-1.7 2.7-1.5 1-1.9-0.9-1.5 1.7-1.1 3.2-1.2 0.3-1.1 2-1.6 2.3-1.8 0.5-1.6 0-1.7 1.1-1.6-0.8-1.4 2.2-1.7 2.9-1.8 0.8-1.8 1.2-1.8 1.7-1.3 1.9-1.6 2.9-1.9 0.2-1.1 1.8-2 1.4-1.8-0.1-1.9 4.2-1.4-0.8-1.3-0.3-1.5 0.5-1.1-1.4-1.3 1.2-1.9M164.1 143.3l-0.3-1.3 2.4-1.3 0.6-1.3 2.2-1.9-1.1-1.3 1.4-1.2 2.2-2 1.7-1.9 1.9-1.6 1.2-1.4 1.6-1.4 2.3-1.8 1.1-1.2 0.4-1.7 4.5-1.6-1-1.9 3.7-1.6 2.5-1.9 2.2-1.9 2.4-1.6 1.9-1.7 3.2-1.7-2-1.8 2-1.3 1.8-1.8 0.8-1.7 1.8-1.4-1.5-1.6 3.6-1.5 3.4-1.2 0.1-1.2-0.2-1.4 4.2-1.4-1.7-1.4 3-1.6-0.9-1.4 2.7-1.4 0.1-1.7 2.4-1.5 2.7-1.1 0-1.5 0.4-1.1 3.4-1.9 1.6-1.5 0.4-1.5 1.5-1.5-0.6-2 3.6-2 1.3-1.7 3-1.9 0.3-1.6 3.2-1.5 1.1-1.6 1-1.1 1.8-1.3 1-1.3 0.7-1.5 2.1-1-0.5-1.4 2.4-1.7-0.1-1.5 5.9-1.4-1.2-1.6-0.7-1.3 2.6-1.4 1.3-1.4 5.3-1.7-2.4-1.3-0.5-1.1 2.2-1.7 2.7-1.5-1-1.7 1.2-1.5 1.8-2 2.3-1.8 2.2-2 3.7-1.6 0.4-1.4-0.5-1.5 1.5-1.9 1.2-1.7-1.1-1.5 0.1-1.5" fill="none" stroke="#fff" stroke-width="0.8" stroke-linejoin="round" opacity="0.9"/>
<path d="M181.8 143.3l1.8-1.3 1.4-1.1 3.2-1.6 1.1-1.3 3.3-1-0.1-1.7-0.5-1.4 1.2-1.1 3-1.9 3.2-1.7 1.8-1.9 1.5-1.9 1.2-1.6 1.7-1.2 2.9-1 1.5-1.8 2-1.1 1.3-1.7 4.7-1.2 0-1.8 2.4-2 4.5-1.6-0.6-1 1.2-1-0.6-1.7 0.8-1.3 0.1-1.5 2.6-1.7 0.9-1.9-0.7-1.2 0.4-1.5 0.7-1.1-0.5-1.1 2.1-1.3-0.4-1.6-1.6-1.6 4.5-1.6 2-1.8 1.9-1.4-0.3-1.3-1.1-1.7 1.7-1.3-0.2-1.1 1.6-1 2.2-1.6 2.9-1.5-0.8-1.9 0.5-1.6 0.4-1 0.8-1.2 3.1-1.2 0.5-1.4 2.5-1.8 0.2-1.8 0.3-1.4-2.7-1.4 2.7-1.5 1.3-1.9 0.9-1.7 3.2-1.5-0.6-1.2 3.4-1.8-0.6-1.8 1.6-1 2.8-1.3 1-2-0.7-1.5 0.8-1.8 2.1-1.3 0-1.9 2.7-1.4 0.2-1 1.6-1.3 2.1-1.7 2.2-1.7 0.3-1.1-0.2-1.7 1.7-1.3 1.1-2 2.2-1.4 0.9-1.3 2.7-1.9 1.3-1.7 0.8-1.4 2.8-1.7 1.5-1.7" fill="none" stroke="#1c1c1c" stroke-width="0.8" stroke-linejoin="round"/>
<path d="M192.6 143.3l1.6-1.1 0-1.4 2.6-1.7 0.7-1.9-2.1-1.4 0.4-1.4 2.7-1.5 1.1-1.2-0.4-1.8 2.5-1.1 0.5-1.1 1.9-1.8-0.1-1.2-0.3-1.4 1.3-1.8 0.4-1.4-0.8-1.9 0.9-1.5-0.5-1.5 0.8-1.1 1.5-1.1-0.4-1.6 3.3-1 0.9-1.4 0.6-1.8 2.2-1.8-1.3-1.6-0.1-1.1 3.4-1.7-0.7-1.2 2.9-1.1 0-1.9 0.6-1.6 2.8-1.2 0.5-1.6 0.3-1.4 1.6-1.9 3-1.6 0.3-1.5 0.8-2 5-1.7 0.4-1.5 1.6-1.4-1.3-1.4 0.8-1.7 2-1.5 3.4-1.1 1.6-1.7 1.4-1.5 1.6-1.6 0.6-1.9 1-2 2.1-1-1.5-1.5 1.5-1.9 1.7-1.3 1.1-1.5-0.2-1.4 0-1.4 0.7-1.7 3.3-2 0.9-1.3 4.4-2-0.3-1.3 1.1-1.5 1.8-1.2 0.1-1.6 1.8-1.4 1.2-1.3-1-1.9 2.9-1.7 0.9-1.4 0.8-2 1.2-1.1 3.9-1.9 1.5-1.8 3.7-2 0.2-1.6 3.3-1.5 0.2-1.7 3.1-1.6-0.5-1.6 1.3-1.6 2.4-1.4" fill="none" stroke="#1c1c1c" stroke-width="0.8" stroke-linejoin="round"/>
<path d="M179.4 143.3l1.8-1.8 0-1.6 5.4-1.2 0.5-1.6 0.3-1.7-0.6-1 1.2-1.3 3.9-1.4-0.4-1 0.8-1.2 1.8-1.6 1.7-1.9-0.2-1.6 1.2-1.3 2.3-1.6 3.7-1.3 0.1-1.4 1.3-1.8 1.4-1.5 0.4-1.2 2.4-1.8-0.2-1.1 1.3-1.6 1.4-1.6 2.7-1.7 0.1-1.4-1.6-1.8 2.3-1.4 4.8-1.4 0.2-1.8 1.9-1.4-2.5-1.3 1.4-1.8 0.5-1 1.1-1.9 4.8-1.4 2-1.7-1.2-1.2 1.2-1.2 1.1-1.4 0.8-1.9 1.1-1.2 3.1-1.7 0-1.1 0.4-1.6 0.6-1.7 2.1-1.8-0.6-1.1 2.6-1.3 3.8-1.5-0.3-1.3 1.7-1.3 0.1-1.6 2.4-1.2 1.3-1.9-1-1.1 0.5-1.2 1.2-1.1 3.2-1.5 3.1-1.9 1.3-1.7 0.1-1.4 1.6-2 4.4-1.7-1-1.7-0.2-1.3 0.3-1.6 0.5-1.4 0-1.6 1.5-1.6 2.7-1.2 1.5-1.3 0.8-1.8 0.3-1.5 3-1.8 4.1-1.8 1.7-1.6 0.6-1.6 1.4-1.7 2.3-1.8 0.6-1.2 2.6-1.9 4.1-1 3.5-1.7 2.7-1.2-0.7-1.1" fill="none" stroke="#1c1c1c" stroke-width="0.8" stroke-linejoin="round"/>
<path d="M201.9 144.2h1.7v-1.6h1.6v-2h1.7v-0.7h1.6v-1.1h1.7v-0.9h1.6v-0.1h1.7v-0.7h1.6v-0.1h1.7v-0.4h1.7v-3.4h1.6v-1.6h1.7v-1.2h1.6v-1.6h1.7v-0.6h1.6v-1.4h1.7v-1.7h1.6v-1h1.7v-2.5h1.6v-2.9h1.7v-1.7h1.6v-3.1h1.7v-2.3h1.6v-2h1.7v-4.1h1.6v-3.5h1.7v-2.9h1.7v-2.7h1.6v-2.4h1.7v-2.4h1.6v-2.1h1.7v-2.1h1.6v-1h1.7v-2.4h1.6v-3.1h1.7v-1.3h1.6v-2.1h1.7v-2.4h1.6v-1.6h1.7v-1.8h1.6v-0.8h1.7v-1.8h1.6v-1.5h1.7v-1.5h1.7v-0.8h1.6v-1.5h1.7v-1.3h1.6v-2.9h1.7v-2.4h1.6v-1.2h1.7v-1.3h1.6v-1.4h1.7v-1.9h1.6v-1.8h1.7v-1.1h1.6v-2.6h1.7v-1.9h1.6v-2.2h1.7v-2.1h1.7v-2.5h1.6v-1.2h1.7v-1.2h1.6v-2.1h1.7v-2.2h1.6v-1.7h1.7v-1h1.6v-0.3h1.7v-0.9h1.6v-1.3h1.7v-1.2h1.6v-0.3h1.7v-2h1.6v-0.2h1.7v-0.9h1.6v-0.2h1.7v-0.7h1.7v-0.8h1.6v-0.7h1.7v-2.3" fill="none" stroke="#3d9a3d" stroke-width="0.9"/>
</g>
<line x1="208.5" y1="17.5" x2="208.5" y2="140.8" stroke="#333" stroke-width="1"/>
<line x1="208" y1="140.3" x2="329.3" y2="140.3" stroke="#333" stroke-width="1"/>
<line x1="206.5" y1="128.5" x2="208.5" y2="128.5" stroke="#333" stroke-width="0.9"/>
<line x1="206.5" y1="104.2" x2="208.5" y2="104.2" stroke="#333" stroke-width="0.9"/>
<line x1="206.5" y1="79.9" x2="208.5" y2="79.9" stroke="#333" stroke-width="0.9"/>
<line x1="206.5" y1="55.6" x2="208.5" y2="55.6" stroke="#333" stroke-width="0.9"/>
<line x1="206.5" y1="31.3" x2="208.5" y2="31.3" stroke="#333" stroke-width="0.9"/>
<text x="203.7" y="34" font-size="11" text-anchor="end" fill="#222" >70</text>
<text x="203.7" y="82.4" font-size="11" text-anchor="end" fill="#222" >50</text>
<text x="203.7" y="132.3" font-size="11" text-anchor="end" fill="#222" >30</text>
<line x1="216.8" y1="140.3" x2="216.8" y2="138.3" stroke="#333" stroke-width="0.9"/>
<text x="216.8" y="152.5" font-size="11" text-anchor="middle" fill="#222" >60</text>
<line x1="249.9" y1="140.3" x2="249.9" y2="138.3" stroke="#333" stroke-width="0.9"/>
<text x="249.9" y="152.5" font-size="11" text-anchor="middle" fill="#222" >80</text>
<line x1="282.9" y1="140.3" x2="282.9" y2="138.3" stroke="#333" stroke-width="0.9"/>
<text x="282.9" y="152.5" font-size="11" text-anchor="middle" fill="#222" >100</text>
<line x1="316" y1="140.3" x2="316" y2="138.3" stroke="#333" stroke-width="0.9"/>
<text x="316" y="152.5" font-size="11" text-anchor="middle" fill="#222" >120</text>
<text x="270.5" y="165.7" font-size="11.2" text-anchor="middle" fill="#222" >Neurite Length (pixels)</text>
<text transform="translate(185.8,78.3) rotate(-90)" font-size="11.4" text-anchor="middle" fill="#222">Cumulative Percent</text>
<text x="212.3" y="16.2" font-size="20.5" text-anchor="start" font-weight="bold" fill="#000" >b</text>
<line x1="267.3" y1="6.5" x2="267.3" y2="10" stroke="#000" stroke-width="1.5"/>
<path d="M264.9 9.5L269.7 9.5L267.3 16.5Z" fill="#000"/>
<line x1="270.5" y1="7.7" x2="270.5" y2="9.7" stroke="#f00" stroke-width="1.5"/>
<path d="M268.1 9.2L272.9 9.2L270.5 16.2Z" fill="#f00"/>
<line x1="196" y1="94.8" x2="199.5" y2="94.8" stroke="#000" stroke-width="1.4"/>
<path d="M199 92.7L199 96.9L205.5 94.8Z" fill="#000"/>
<line x1="196" y1="104.9" x2="199.8" y2="104.9" stroke="#f00" stroke-width="1.4"/>
<path d="M199.3 102.8L199.3 107L205.8 104.9Z" fill="#f00"/>
<text x="274.2" y="106.7" font-size="11.4" text-anchor="start" fill="#222" >DMSO</text>
<rect x="265.9" y="105.4" width="1" height="1" fill="#9c9"/><rect x="270.4" y="105.4" width="1" height="1" fill="#9c9"/>
<text x="275.7" y="115.8" font-size="11.4" text-anchor="start" fill="#222" >water</text>
<rect x="265.9" y="114.6" width="1.7" height="1.1" fill="#454"/><rect x="270.4" y="114.6" width="1.7" height="1.1" fill="#454"/>
<text x="273.2" y="128.3" font-size="11.4" text-anchor="start" fill="#222" >H1152</text>
<rect x="265.3" y="125.4" width="6.8" height="1.3" fill="#3d9a3d"/>
<g clip-path="url(#c4)">
<path d="M389 20L508 20L508 34L495 53L472 75L450 91L430 110L408 129L398 142L389 142Z" fill="url(#s2)"/>
<path d="M430.5 16L427 20.5L416.7 30.5L405 45.5L396.3 57.5L391.5 65L377.5 88L377.5 112L386.9 104.7L389.2 99L394.9 91.4L400.6 84.7L404.4 80L411.7 69.1L426.4 56L441 44.2L455.6 32.5L470.2 22.3L471.7 20L474.5 16Z" fill="url(#k2)"/>
<g transform="scale(8.0,1)">
</g>
<path d="M339.5 145.2l-0.2-1.8 1.8-1.2 1.9-1.3 2-1.7 1.2-1.2-2.1-1.3 2.6-1.6 0.4-1 1.8-1.9 1.5-1.8-1.6-1.8 2.3-1.9 0.5-1.9 1.5-1.4-0.4-1.5 0.8-1.3 2.1-1.1 2.4-1.9-2.7-1.7 2.4-1.5 1.1-1.7 2-1.4 1.8-1.6-1.1-1.2 2-1.4-0.1-1.1 1.3-1.3 0.6-1.2 1.7-1.6-0.4-2 3.2-1.9 1.7-1 2-1.9 0.4-1.6 1.2-1.9 0.5-1.9-0.3-1.8 0.8-1.4 0.6-2 1.3-1.6 0.4-1.6 0.5-1.6 1.2-1.7 1.3-1.3 2.2-1.7 0.6-1.1 1.3-1.7 0.4-1.5 0.8-1.5 1-1.3 1.2-2 0.4-1.1 2.1-1.6-0.8-1.1 1.7-1.9 0.1-1 2.9-1.9-1.1-1.5 1.9-1.3-1.7-1.1 2.7-1.7 0.7-1.3-0.4-1.2 2.1-1.6 2.7-1.3 0.8-1.2 1.6-1.4 0.9-1.1-0.9-1 2.6-1.8 2.7-1.5 0.1-1.4 2-1.1 2.5-1.9 1.2-1.2-0.5-1.3 0.6-1.1-1.2-1.4 3.9-2 0.5-1 2-1.8 2.8-1.3-0.2-1.2 1.2-1 3.5-1.1-0.8-1.5 2-1.8M339.7 145.2l-0.3-1.9 3-1.6 0.3-1.5 2.7-1.6-2-1.2-0.6-1.1 2-1.5 2.8-1.3 0.5-1.1 2.7-1.1 0.2-1.1 3.6-1.7-4.2-1.8 0.1-1.4 0.7-1.7 2.3-1.3 1-1.3 1-2 2.1-1.8 1.5-1.5 0.8-1.2 1.7-1.4 0.5-1.8-2.2-1.9 4.7-1.7 0.7-1.5 2.6-1.9 0.6-1.6 1.4-1.4-0.4-1.2 0.7-1.8 2-1.2 1.1-1.3-1.1-1.9 1.5-1.8 0.8-1.3-0.7-1.4 4.5-2 0.3-1.1 0.8-1.8 0.9-1.5 0.8-2 2.2-1.6-0.2-1.2 0.6-1.5 0.5-1.7 1.5-1.1-1.6-1.7 3.3-1.7 3-1.1-1.5-1.8 0.4-1.9-0.2-1.6 2.2-1.6 2.3-1.7 2.7-1.6 0.8-1.7 0.8-1.5-1.9-1.3 0.7-1.9 2.4-1.4-0.7-1.9 3.7-1.3 3.1-1.7-0.5-1.4-0.1-1.1 2.3-1.8 3-1.8 0.5-1.4 1.1-1.5 0.4-1.3 0.6-1.1 2.8-2 1.6-1.2 0-1.2 2.5-2 1.2-1.1 0.1-1.1 2-1.1 0.7-1 0.9-1.3 3.1-1.5-0.2-1.7 2.3-1.7-1.5-1.2 0.8-1M339 145.2l2.5-1.8 2.4-1.4 0.1-1.4 1.6-1.6 1.1-1.6-0.1-1.7 0.2-1.1 0.9-1.8 1.6-2 3.2-1.2 1-1.3 0.5-1.1-0.8-1.7 0.7-1.7 0.6-1.3 2.1-1 1.5-1.9 1.2-1.8-0.3-1.8 1.6-1.1-0.2-1 1.2-1.2 2.7-1.9 0.9-1.7 2.5-1.8 1.4-1.5 2-1.7-1.4-1.6-0.9-1.7 1.7-1.9 1.1-1.6 1.5-1.8 0-1.3 1.8-1.6 1.7-1.4-0.8-1.5 0.3-1.8 2.6-1.8 1.2-1.7-1.4-1.5 2.6-1.6 2.3-1.4 1-1.5 0.4-1.4-1.2-1.7 2.4-1.2 0-1.7 2.1-1.1 1.6-1.4-1.1-1.6 3.5-1.4 1-1.4-0.3-1.8 0.8-1.8 1.8-1.2 1.2-1.9-1.5-1.6 3.5-1.5 3.4-1.5 1.2-1.7 1.1-1.2 1.4-2 0.3-1.8 1.2-1.9 0.7-1.2 0.2-1.9 2.2-1.2-0.9-1 1.8-1.6 4.1-1.9-0.8-1.7 1.7-1.2 2.9-1.5 1.6-1.1 1.2-1.5 1.7-1-1.3-1.1 0.8-1.9 3.2-1.6 1.8-1.7 1.9-1.6 1.5-1.2 1.3-1.6-1.1-1.5M339.6 145.2l-0.5-1.2 1.9-1.6 2.4-1.4 1.9-1.8 1-1.2 0.9-1.7-0.2-1.7 1.3-1.5 2-1.5 0.8-1.8 1-1.8 0.2-1.6 1.8-1.4 1.1-1.7 2-1.9 3-1.4 0.6-1.1-1.6-1.4 0.2-1.9-0.8-1.2 1.5-1.5 0.6-1.7 3.3-1.9 1.4-1.4 0.6-1.9 3.4-1.7-1.4-1.6 2.8-2 1.8-1 0-1.6 0-1.8 1.6-1.5 1.8-1.5 1.5-1.4 0.9-2-0.1-1.5-0.4-1 1.7-1.6 1.9-1.7 3.8-1.6-0.7-1.1-1.2-1.1 3.1-1.8-2.2-1.7 2.5-1.1 1.7-2 0.9-1.8 0.3-1.7 0.5-1.9 1.6-1.5 2-2 0.8-1.1 2.2-1.8 1.6-1.9-1.5-1 2.6-1.7 3.9-2-0.8-1.1-0.7-1.1 0.6-1.8 2.2-1.6-0.7-1.1 3.1-1.8 1.4-1.2 0.4-1.2 1.5-1.3 1.7-1.6 1.5-1.4 1.9-1.2 1.8-1.7-0.2-1.4 0-1.4 2.1-1.2 0.3-1.2-0.3-1.1 2.5-1.2 1.1-1.8 1.4-1.6 1.6-1.6-0.6-1.4 2.7-1.1 4.4-1.2-0.6-1.8 3.4-1.9 1.5-1.1M338.6 145.2l2.5-1.5-1.5-1.2 1.1-1.5 1.6-1.4 2.3-1.3 2.6-1.8 0.2-1.3 1.5-1.4-0.2-1.1 1.7-1.4 1.1-1.2 1.8-1.6 0-1.3 1.7-1.6 1-1.6 0.1-1.5 2.1-1 1-1.2 1.2-1.1 2-1.8 0.1-1.2 0.6-1.2-1.9-2 1.1-1.3 1.8-1.1 0.9-1.4 1.5-1.8 1.2-1.4 4.3-1.6 1-1.3-0.8-1.6 1.9-1.4-1.3-1.5 1.6-1.3-1.2-1.6 1.1-1.9 1.9-1.3 3-1.3 2.9-1.5-0.3-1.1 1.6-1.8 0.2-1.9-0.6-1.4 0.2-2 2.6-1-1.9-1.5 2.3-2 0.6-1.7 4.2-1.9-1.2-1.1 1.9-1.3 0.8-1.3 0-1.5-1.9-1 3.1-1 3.4-1.1-1.3-1.5 0.8-1.3 3.5-1.6 0.2-1.5 0.2-1.4 2.8-1.8 0.3-1.8 1-1.9 1.2-1.1 0.9-1.7 2.6-1 1-2 3-1.6 0.7-1.3 2-1.4 0.1-1 1.4-1.9 2-1.2 0-2 1.2-1.5 1.9-1.6 0.1-1.7-0.8-1.1 2.4-1.6-0.2-1.3 5.6-1.9 1.9-1.3 2.2-1.6 2.1-1.3-0.1-1.5 1.4-1.1 3.2-1.5-0.6-1.2M340 145.2l2.1-2 1.7-1.3 1.3-1.6 1.6-1.5-0.5-1.4-1.1-1.2 0.9-1.5 1.9-1.4 4.3-2 0-1.6-0.4-1.1-0.9-1.1 0.7-1.7 3.6-1.7 0.5-1.4 2.5-1.2-0.5-1.6 2.5-1.7 0.9-1.3 1.2-1.4 0.4-1.5 1.4-1.6 3-1.1-1-1.4-0.2-1.5 1.6-1.7 0.7-1.4 3.8-1.4 2.6-1.7-0.1-1.7-0.9-1.2-0.5-1.5 2.5-1.9-0.1-1.4 3.4-1.8-1.4-1.6 0.8-1.9 2.4-1.1 1.3-1.5 2.1-1.5 0.2-1.1-0.1-1.9 1.9-1.5 2.4-1.2 0.4-1.2 3.9-1.5-1.3-1.4 1.1-1.3 0.8-1.2 1-1.1-0.9-1.9 1.3-1.2 2.3-1.7-1.7-1.2 1.5-1.5 0.6-1.3 1.4-1.1 1.3-1 0.3-1.7 1.4-1.1 1.3-1.8 3.5-1.6-1.5-1 1.1-1 2.1-1.9-0.5-1.1-0.5-1.7 2.5-2 2-2 1-1.2 2-1.6 5.5-1.3-0.7-1.7 3.8-1.5-1.4-1 1.8-1.9 1.1-1.3-2-1.3 2.8-1.2 1.7-1.6 2.8-2 1.1-1.9 4.5-1.5 2.6-1.7-0.6-1.3-0.9-1.1 1.9-1.2 2.3-1.6M339.4 145.2l0.9-1.5 0.3-1.3 1.7-1.7 2.3-1.6-1.7-1.4 1.1-1.9 5-1.8 0.5-1.4 2.1-1.9 1.5-1.5-0.7-1.2 0.5-1.2 3.2-1.7 1.5-1.3 1.8-1.9 1.7-1.7 0.6-1.3-0.2-1.1-0.5-1 1.4-1.6 2.4-1.4 0.3-1.2 2.4-1.2-1.4-1.1 4.7-1-0.4-1.3 2.1-1.5 0.5-1.2 1.2-1.7 1.3-1.3 1.1-1.5-0.5-2 0.9-1.7 1.8-1.8 1.9-1.8 1.6-1.3 1.8-1.6-2.6-1.1 0.6-1.2 3-1.9 0.6-1.7-1.8-1.5 2.3-1.4-0.1-1.8 1-2 2-1.2 0.9-1.5 2.3-1.6 0.3-1.7-0.1-1.6 3.3-1.7 0.1-1.8 1.2-1.2 1.4-1.9 0.1-1 0.8-1.1 3-1.8 1.9-1.1-1.1-1.2 2.5-1.6 1-1.4 0.5-1.2-0.1-1.4 1.2-1.9 0.9-1.3 0.6-1.2 0.9-1.3 3.3-1.6 1.8-1.1 2-1.1 2.7-1.8-1.1-1.2 2.4-1.6 0.9-1.2-0.1-1.6 0.9-1.2 2-1.5-0.8-1.4 3.2-1.4 2.1-1.6 2.3-1.1-0.5-1.1 2.9-1 1.4-1.6 1.4-1.6 2.1-1.7-1-1.4 3.4-1.9M338.3 145.2l3.5-1.5 0.6-1.8 1.2-1.3-1.6-1.9 1.3-1.8 3.4-1.7 2.4-1 1.3-1.4 3.3-1.1 0.2-1.4 0.4-1.7-1.7-1.4 2.2-1.7 1.4-1.2-0.3-1.6 3.7-1.5-0.1-1 1.3-1.9 1.1-1.8 2.1-1.9 0.5-1.8 3-1.1 1.5-1.5 0.3-1.7 0.2-1.3 1.4-1.8 1.5-1.5 1.8-1.5-0.7-2 0.1-1.7 2.1-1.3 2.4-1.6 0.9-1.4 0.8-1.4 0.5-1.7 1.7-1.1 1-1.7 0.3-1.7 1.1-1.4 0.2-1.9 2.7-1.9 1.9-1.5-0.5-1.9 2.2-1.6 1.5-1.3-0.6-1.2 0.6-1.3 2.5-1.1 0.2-1.2 1.5-1.6 1.6-2 0.5-1.7 1.9-1.7 0.3-1.2 2.3-1.6 2.8-1.3 0.7-1.5 2.3-1.1 0.7-1.6 0.2-1.5 0-1.1 0.6-1.2 0.8-1.6 0.4-1.8 2.8-1-0.1-1.5 3.2-1.4 3.5-1.7-1.3-1.8 3-1.7 0.2-1 0.8-1.8 3-1.9 2.8-1.4 1.9-1.1-0.7-1 0.7-1.7 0.9-1 3.2-1.7 1.2-1.7 1.4-1.9 1-1 2-1.8-1.4-1.4 3.3-1.3 1.3-1.6M338.7 145.2l1.1-1.3-0.6-1.4 1.8-1.4 2.5-1.5 3-1.8 0.5-1.5 1.5-1.7-0.2-1.9 3.8-1.8 0.8-1.6-0.4-1.2 1.8-1.3 3.8-2-1-1.3 2.6-1.5 0.3-1.6 2.9-1.2 0.2-1.5 1.4-1.8 2.9-1.4-2-1.9 2.7-1.8 0.4-1.2 1.1-1.1 3.8-1.9-1.9-1.5 0.8-1.1 0.1-1.3 1.4-1.8 2.5-1.9 3.8-1.7 0.2-1.9 0.6-1.2 0.5-1.7 0.1-1.7 3.1-2 0.2-1.7 4.6-1.8-1.3-1.3 1.4-1.4-1.2-1.8 3.7-1.3-0.2-1.4 2.7-1.1 0.5-1.2-2-1.1 3.5-1.4 1.2-1.9 0-1.1 0-1.9 2.1-1.2 0.5-1.6 1.6-1.5 0.2-1.8 1.8-1.8 1.2-1.4 2.6-1.3 1.1-1.8 1.1-1.5 2.3-1.7-0.9-1.1 2.6-1.9 2.8-1.9 1.4-1.4 2.7-1.8 1.4-1.3 0-1.6 2.1-1.8 0.6-1.9 2.2-1.2 0.4-1.3 2.3-1.9 1.2-1.5 2.1-1.1-0.6-1.5 3.3-1.3 2.2-1.3 2.4-1.1 1.6-1.2 1.1-1.3-0.6-1.7 3.1-1.3 0.6-1.4-1.6-1.8 1-1.7M338.9 145.2l-0.3-1.3 3.1-1.6 0.5-1.9 4.1-1.7 1.9-1.2-0.4-1.9 2.4-1.5 0.1-1.9 2.7-1.8 3.1-1.2-0.7-1.5 2-1.3 0.4-1.3-0.1-1.5 2.5-1.2 2.5-1.4 1-1.5 0.2-1.3 0.6-1.8-0.6-1.2 4.4-1.4-1.4-1.7 1.9-2 4.3-1.9 0-1.2 1-1.5 1.2-1.9 1.6-1.5 0.6-1.6 3.1-1.3-0.3-1.5 0.8-1.9 0.5-1.6 4-1.8-2-1.6 1.3-1.2 1.5-1.4 1.1-1.6 2-1.6-0.7-1.7 0-1.7 3-1.1 0.3-2 0.6-1.7 1-1.4 3.5-2 1.4-1.6-0.2-1.9 1.5-2 1.1-1.9-0.6-1.5 3.1-1.6 1.2-1.9 1.9-1.9 0.6-1.2 1.5-1.1 1.2-1.5 2.5-1.8 1-1.6 1.2-1.3 1.1-1.8 1.1-1.3 1.7-1.9 2.5-1.7 1.7-1.6 0.8-1.5 3.3-1.3 1.6-1.7 2-1.5 0.5-1.7 1.7-1.8 1.4-1.9 3.3-1.2 1.3-1.3 2.4-1.4 2.2-1 0.9-1.3 1-1.7 0.2-1.7 2.5-1.1 1.9-1.8-1.5-1.1 3.1-1.3M341.2 145.2l3-1.8-1.6-1.2 2.1-1.9 1.8-1.7 0.8-1.5 2.4-1.3 0.8-1.9 0.6-1.8 1.8-1.2 4.9-2 0.7-1.5-1.5-1.3 0.8-1.5 0.7-1.3 1.6-1.8 1-1.1 3.8-2 2.7-1.8-0.2-1.2 1.7-1.2 1.6-1.2 0.5-1.8 1.6-1.8 3.1-1.8-1-1.1 2.2-1.5-2.2-1.6 2.6-2 1.6-1.5 0.3-1.9 0.6-1-0.2-1.7 1-1.3 0.5-1.2 0.1-1.5-0.4-1.8 1.7-1.7 3.3-1.3 2.3-1.3 0-1.1 3.2-1 0.4-1.1-0.6-1.8 1.8-1.4 0.9-1.7-0.7-1.6 0.5-1.3 1.6-1.5-0.1-1.9 1.7-1.5 2.8-1.4 1.1-1.8 2-1.7 2.5-1.9 0.6-1.9 1.5-1.2 1.4-1.6 1.9-1.6 4.1-1.9 0.9-1.1 0.7-1.2 1.2-1.3 0.6-1.4 2.4-1.8 0.8-1.3 2.7-1.7 1.6-1.8 0.3-1.6-0.1-1.6 2.4-1.4-0.8-1.4 3.3-1.6 2.8-1.9 0.2-1.3 2.3-1.5 1.1-1.4 3.9-1.5 2.7-1.8 0.6-1.3-0.1-1.1 1.2-1.7 2.8-1.8-0.6-1.8-0.3-1.3M339.2 145.2l-0.5-1.3 2.5-1.4-1.5-1.3 5.4-1.7-0.9-1.1 2.8-1.5 3.5-1.8-0.8-1.9 2.2-1.1-0.6-1.2 2.4-1.5 0-1.6 1.2-1 2.8-1.8 1.9-1.6 1-1 0.4-1.5 1.3-1.9 0.4-1.3 2.1-1.4 2.9-1.4 1.3-1.4 1.9-1.5 1.4-1.4 4-1.6 1.4-1.3-1.8-1 3.5-1.1 1.3-1.7-2.5-1.6-1.2-1.5 2.3-1 2.4-1.7 0.5-1.2 0.9-1.8 2-1.1 2-1-2.2-1.1-0.3-1 1-1.2 1.5-1.8 1.5-1.3 3-1 1.6-1.9 2.3-1.9-0.3-1.8 0.1-1.4 0.7-1.2 0.6-1.2-0.5-1.7 0.4-1.7 1.2-1.9 2.2-1.8 2.7-1.2 1.8-1.9 0.9-1.4 2.3-1.7 1.4-1.3 2.8-1.7 0.4-1.3-1.2-1.4 2.1-2 1-1 1.7-1.7 1.9-1.9 2.1-1.1 2.3-1.6 2.1-1.7 0-1 2.1-1.2 3-1.4-2.5-1.5 1.7-1.1 2-1.3 2.9-1.9-0.7-1.2 4.5-1.9-0.1-1.7 3-1.6 3.6-2 0.7-2-0.6-1.4 3.8-1.9 1.9-1.8 1.4-1.5 0-1.8 2.5-1.8M336.5 145.2l2.6-2 4.2-1.9 1.4-1.7 2.5-1.8-0.2-1.4 2.2-1.1-0.3-1.9 1.9-1.3 3.1-1.7 2.1-1.2 0.6-1.4-2.6-1.6 2.7-1.1 4.5-1.9 0.9-1.5 2.5-1.3 0.8-2 2.4-1.6 1.7-1.3 1.6-1.4 1.3-1.3 0.7-1.3-0.2-1.4 3.1-1.2 2.8-1 0.7-1.6 1.7-1.8-0.9-1.6-0.9-1.9 1.1-1.5 2.5-1.9 0.8-1.7-0.8-1.7 3.6-1.2-0.8-1.7 2-2 0.9-1.9 2.7-1.7-0.4-1 0.8-1.3 0.7-1 1.2-2 2.9-1.2 0.5-1.2-0.2-1.6 0.1-1.4 3.9-2 0.1-1.6 1.3-1.8 1.7-1.9 1.1-1.8 0.1-1.1 3.8-1.8-0.8-1.2 0.4-1.3 2.3-1.9 0.7-1.1 1.2-1.6 3.8-1.7-0.5-1.5 0.1-1.8 1.9-1.4-0.8-1.5 3.7-1.8 3.1-1.7 3.9-1.2 0-1.6 4.3-2 1.7-1.9 0.3-1.3 1.9-1.7-0.1-1.1 0.9-1.6 4.6-1.7 1.6-1.9-0.6-1.1 3.2-2 3.2-1.3 0.9-1.9 0.6-1.4 4-1.6-1.2-1.6 0.1-1.4M339.4 145.2l-0.5-1.1 3.6-1.9 0.1-1.3 2.7-1.8-1-1.6 4.6-1.8 0.6-1.4 1-1.1 3.6-2-1.4-1.1 0.4-1.4 2.6-1.4 0.3-1 4.8-1.3 1.4-1.5 1.7-1.8 1.8-1.7-0.8-1.1 1.8-1.1 2.4-1.3 0.1-1.1 0.7-1.7 3.3-1.8 1.6-1.2 1.5-1.5-1.4-1.5 3.7-1.8 1.3-1.8-0.5-1.5-0.3-1.4 3-1.3 1.2-1.4 1.3-1.4 0.8-1.9 2.6-1.5 0.7-1 0.4-1.7 0.8-1.2 1.2-1.4 0.3-1.1-0.3-1.8 2.3-1.8 1.2-1.9-0.9-1.4 2.2-1.1 1.2-1.3 1-1.8 1.6-1.5 0.8-1.3 2.7-1.7-1.3-1-0.2-1.6 1.8-1.4 0.1-1.8-0.1-1.2 3.6-1.3 2.4-1.2 0.5-1.7 3.9-1.6-1.2-1.2 3.8-1.7 1.6-1 0.8-2 1-1.6 0.2-1.2 1.3-1.7 3.2-1.6 3.4-1.9 2.8-1.9 2-1.1 2.3-2 0.2-1.6 0.4-1.5 2.6-2 1.6-1.1 2.9-1.4 0-1.2 2.1-1.9 2.4-1.4 0.9-1.3 2.1-2 3.6-1.6 3-1.3-1.3-1.6 0.9-1.4-0.1-1.1 1-1.4M338.5 145.2l0.2-1.1 3.4-1.9 0-1 3.3-1.5 0.3-1 2.3-1.2 0.4-1.5-0.1-1.6 1.4-1.4 0.9-1 3.3-1.8 2.1-1.3 1.2-1.6 1.9-2 1.3-1.4 2.4-1.9 2.7-1.9 1.1-1.8 3.3-1.5 1.4-1.9 1.3-1.8-0.1-1.9 2.3-1 1.7-1.3 2.3-1.5 3.2-1.9 0.7-1.2-1.3-1.6 0-1 1.5-1.4 0.3-1.8 1.3-1.8 1.5-1.3-0.4-1.7 1.1-1.1 1.1-1.4-0.1-1.4 2.8-1.3 1.5-1.5 1.9-1.3 3-1.4-1.7-1.2 3.2-1.4-1.8-1 2.1-1.4-0.8-1.2 1.2-1.3 1.1-1.1 1.7-1.7 0.4-1.4 0.8-1.8-1-1.3 2.1-1.7 1.9-2 3.4-1.7 1-1.2-1.2-1.5 1-1.2 3.7-1.3 2.2-1.7 2.1-1.6-0.4-1.6 3.4-1.5 2.8-1.9 1.1-1.3 1.8-1.4-0.9-1.3 2.9-1.6 4.4-1.1 0-1.2 0.4-1.2-0.5-1 2-1.9 2.5-1.5 2.6-2-0.9-1.9 2.1-1.7 4.6-1.9 0.9-1.1 1.4-1.3 4.2-1.7 0.8-1.8 2.6-1.6 2.8-1.6 1.1-1.9-1-1.2 2.1-1.7M337.5 145.2l1.8-1.9 5-1.8 1.6-1.6 0.3-1.6 3.1-2 0.4-1.7 2.2-1.9 2.6-1.9 1.4-1.7-0.5-2 3.6-1.6 0.8-1.6 3-1.8 2.5-1.7 0.4-1.1 3.2-1.9 1.6-1.4 2.7-1.8 1.5-1.6 1.2-2 2.2-1.4-0.7-1.3 4.4-1.2 1.7-1.1 0.2-1.1-0.1-1.8-0.7-1.8 1.2-1.5 3.2-1.7 1.2-1.8-0.1-1.1 2.1-1.3 0.8-1.7 3.4-1.8 0.2-1.4 0.1-1.9 1.6-1.3 0.9-1.3 0.5-1.6 1.1-1.7 4.9-1.2 0.5-1.3-1.4-1.2 0.4-1.9 0.2-1.1 0.2-1.4-0.5-1.5 1.7-1.8 1.7-1.7 0.7-1 1.1-1.5 1.6-1.6 1.9-1.3 3.5-1.3 1.5-1.9 1.6-1.8 3.1-1.7 1.3-1.6 1.9-1.1-0.1-1.5 1.1-1.8 2-1.9 1.2-1.3 2.6-1.5 3.6-1.9 0.2-1.2-0.3-1.6 2.7-2 1.4-1.9 1.5-1.4 4.8-1.9 2.5-1.9 0.1-1.2 1.4-1.2 0.6-1.4 2.1-1.5 4.5-1.6 1.5-1.9-0.3-1.6 1.1-1.2 2.2-1.1 1.7-1.3-0.1-1.3M338.6 145.2l2.4-1.1 0.4-1.1-0.3-1.5 1.8-1.3 2.3-1.1 1.1-1.7 3.3-2 2.3-1.2 2.8-1.8 0.6-1.2 0.6-1-1.3-1.3 2.4-1.9 1.3-1 3.3-1.6 0.5-1.8 1.3-1.4 4.1-1.7 2.1-1.7 1.3-1 1.6-1.9 3.3-1.6 1.9-1.2 1.6-1.1-3-1.2 4.1-1.8-1.5-1.9 2.1-1.1 2.3-1.1 0.2-2 0.4-1.2 1.6-1.1-1.4-1.2 1.4-1.3 2.5-1.6-1.4-1.5 0.6-1.2 0.5-1.2 3.2-1.4 0.8-1.5 2.5-1.1 0.8-1.5 1.3-1.7 2-2 1.9-1.6 0.4-1.9-0.4-1.4 0.9-1.5 1.8-1.9 1.5-1.8 3.4-2-1.3-1.7 0.9-1.2 2.3-1.3 3.1-1.6 2-1.7 2-1.7-2.7-1.4 1.9-1.6 2.2-1.1 1.8-1.3 0.6-1.6 0-1.4 4.5-1.5 1.1-1.3 0.2-1.3 3.9-1.8-0.1-1.2-0.7-1.3 3.5-1.3 2.7-1.1 2-1.6 0.8-1.5 2.1-1.9 2.4-2 1.9-1.7 1.2-1.1 2.2-1.2 3.1-1.8 2.1-1.4 0.2-1.7 4.5-1.2 0.9-1.5 0.8-1.2-0.5-1.5 2.2-1.5 0.7-1.9 2.4-1.7M337.5 145.2l2.3-1.5 2.4-2 4-1.7 0.2-1.7 1.8-1.2 0-1.4 0.7-1.6 3.3-1.5 1.2-1.8 3-1.6 0.9-1.4 2-1.2 3.2-1.3-0.8-1.1 4.4-1.3 1.3-2 0.7-1.4 0.2-1.5 3.2-2-0.7-1.2 2.6-1.2 2-1.3 0.5-1.4 3-1.1 1.3-1.1 0.8-1.3 3.4-1.6-1.2-1.3-1.2-1.8 2.4-1.6 2.6-1.1-0.8-1.5 0.8-1.4 2.1-1.6 0.4-1.1 1.8-1.8 0.5-1.2-0.7-1.4 1-1.8 2-1.3 0.4-1.4 2.8-1.9 1.8-2 0.6-1.5 3.1-1.7 2.6-2 0.6-1.8 0.4-1.2 1.7-1.9-0.8-1.2 0.9-1.9-1.5-1.3 2.1-1.7 2.7-1.6 2.7-1.4 0.7-1.7 3-1.9 1.3-1.8 1.1-1.3 0.6-2 1.8-1 3.4-1.5 4-1.7 0.6-1.2 1.8-1.9 1.3-1.1 1.7-1.8 3.3-1.2 1.1-1.6 2.1-1.6 1-1.1 1.9-1.4 0.3-1.1 2.1-1.4 2.2-1.9 1.9-1.6-0.3-1 3.6-1.7 0-1.8 2.4-1.4 2.7-1.9 0.8-1.7 2.2-1.5 1.6-1.5 0.9-1.1 0.1-1.1M339.9 145.2l2.2-1.8 0.1-1.6 1.9-1.2 2.3-1 0.5-2 2.2-1.8 1.5-1.8 0.8-1.4 2.2-1.6 1.4-1.5 4.1-1.5 1.9-1.1 3.5-1.6-0.2-1.9 2.3-1.5 2.1-1.4 2.6-1.5 0.5-2 1.3-1 2.2-1.3 0.1-1.8 1.7-1.5 2-1.8 2.6-1.3 4.4-1.8-0.8-1.1-0.4-1.4 1.5-1.9 0-1.6 0.4-1.6 1.5-1.9 3-1.6 0-1.3 3.5-1.6-0.3-1.2 0.2-1.1 1.8-1.9 1.5-1.3-0.3-1.4-1.2-2 1.8-1.1 2.1-1.9 0.4-1.2 2.3-1.5 1.6-1.5 2.7-1.9-0.3-1.6 0.6-1.4 0-1.3 1.7-1.7 0.6-1.8 2.7-1.5 1.1-1.2 2.9-1.8 1.3-1.4 0.6-1.4 2-1.8 2.9-1.9 1-1.2 3.1-1.9 2.3-2 1.1-1.1 0.8-1.3 2-1.6 1.2-1.2 2.2-1.8 1.7-1.1 1.4-1.9 3.2-1.5 1-1.6 2.4-1.8 1.2-2 2.7-1.7 5.2-1.9 1.7-1.5 0-1.3 2.7-1.8 1.6-1 2.5-1.2 1.7-1.8 1-1.6-1.7-1.8 2.7-1.9M337.1 145.2l1.9-2 1.4-1.4 5.4-1.8 0-1.4 1.9-1.2 1.4-1.4 1.9-1.1-0.4-1.1 1.2-1.2 1.9-1 1.7-1.3 3.1-1.6 1.7-1.9 1.8-1.5 0.9-1.2 1.7-1.6 1.6-1.2 3.2-1.6 1.4-1 0.9-1.3 1.4-1.2 1.7-1.8 3.4-1.8 1.5-1.9 2.1-1.7 1-1.4 1.5-1 2.8-1.2-0.5-1.9 0.8-1.3 0.4-1.6 3-1.4-2-1.2 0-1.3 1.9-1.8 1.1-1.1 1.4-1.1 1.1-1.4 3.7-1.7 0.1-1.1-0.1-1.2 0.1-1.5 0.5-1.1 1.7-1.4-0.5-1.2 1-1.6 1.6-1.3 1.3-1.5 1.2-1.6 2.5-1.7 1.9-1.5-1.9-1.6 3.2-1.6 0.3-1.7 3-1.8 2.2-1.2 1.1-1.6 5.5-1.6-1.2-1.2-0.9-1.6 1.7-1.2 2.4-1.6 1.7-1.5 3.1-1.7-1.4-1 0.6-1.1 4.2-1.8-0.8-1.5 3.9-1.8 3.6-1.8 1.2-1.3 2.6-1.7 1.7-1.6 1.5-1 1.6-1.5-1.5-1 5.4-1.9 0.2-1.4 0.5-1 2.3-1.5 2.8-1.1 0.5-1.7 2.7-1.8 5.8-1.1 0.8-1.9 0.1-1.7 2.4-1.7-0.5-1.5 1.8-1.7M338 145.2l1.1-1.8 0.6-1 3.7-2 3.8-2-1.6-1.3 2.8-1 3.4-1.5 0.8-1.5 1.1-1.3 2.8-1.8 1.9-1.4 1.6-1.7 2-1.9 2.9-1.9 2.1-1.4 3.7-1.7 0.8-1.2 1-1.9 2.9-1.5 1.9-1.3-0.5-1-0.3-1 1.4-1.3 1.5-1.1 2.9-1.3 0.2-1.3 2.3-1.6 3-1.3-0.4-1.7 0.3-1.6 1-1.9 0.7-1.1 1.9-1.7 0.8-1.1 2.3-1.9 0.4-1.1 2.1-1.5 0.9-1.3-0.5-1.4 3.3-1.5 1.7-1.2 0.8-1.6 1.2-1.9 0.7-1.6 1.1-1.2 1.1-1.8-1.5-1.5 2.2-1.6 3.2-1.2-0.3-1.4-0.4-1.4 1.9-1.7 1.7-1.2 2.4-1.9 0.8-1.1 4-1.9 0.4-1.6 0.5-1.1 0.7-1.6 3.1-1 0.4-1.4-0.3-1.4 5.3-1.7 1.6-1.1 1-1.7 3.7-1.9-0.9-1.1 0.7-1.9 1.5-1.5 2.9-2 3.6-2 0.4-1.3 1.8-1.4 3.3-1.9 3.1-1.5 1.5-1.2 1.4-1.3 3.6-1.1 0.3-1.2 2.2-1.9 3.5-1.8 1.3-1.7 2.6-1.7 1.3-1.6 0.9-1.7 0.7-1.1M336.9 145.2l0.5-1.2 2.7-1.7 0.3-1.2 3.5-1.1 2.9-1.3 2.1-2 1.1-1.9 2.8-1.5 2.6-1.8 2.9-1.6 3-1.3 2.1-2-0.8-1.4-0.6-1.7 2.3-1.7 5.5-1.4 1.3-1.4 1.2-1.3 0.9-2 2.3-1.6 1.7-1.3 0.8-1.4 1.3-1.1 3.4-1.1 2.6-1.5 1.6-1.5 1.9-1.8 0.9-1.9 0.9-1.6 1.9-1.1-0.1-1.4 2.7-1.8 2.1-1.7-0.9-1.1-0.6-1.9 2.6-1.1-0.1-2 0.7-1.9 0.3-1.3 3.2-1.9 2.1-1.8 1.7-1.9 2-1.4 1.7-1.9 1.6-1.1-0.2-1.5-0.1-1.7 2.4-1.6 0.4-1.7 3.7-1.6 0-1.3 0.3-1.1 0.8-1.8 3.8-1.9 0.4-1.6 1.5-1 2.6-1.5 3.5-1.7-0.8-1.3 2.9-1.1 1.5-1.2 0.6-1.5 2.1-1.5 3-1.3-0.7-1.2 1.7-1-0.2-1.1 2.5-1.3 1.8-1.3 2.7-2 1.2-1.9 3.8-1.8 0.2-1.2 1.9-1.3 2.1-1.9 0.8-1.7 1-1.3 2.1-1.2 2.1-1.7 4.2-1.7 4-1.9 2-1.5 0.8-1.6 0.6-1.6 1.4-1.1" fill="none" stroke="#1c1c1c" stroke-width="0.8" stroke-linejoin="round"/>
<path d="M340.3 145.2l2.4-1.9-0.7-1.2 2.4-1.6 0.3-1.4 1.5-1.3 0.7-1.1 0.1-1.9 1.1-1.8 2.6-1.4 2.9-1.4 0.2-1.8-0.3-1.6 0.8-1.4 1.1-1.4 2.9-1.2-1.3-1.4-1.1-1.4 2.8-1.4 0.7-2 3-1.7 1.7-1.1 0.6-1-0.4-2 2.3-1.4-0.4-1.3 2.5-1.5 0-1.2-0.1-1.7 1.4-1.7 0-1.1 1.2-1.1 2.6-1.7-1.2-1.2 1.6-1.5 0.1-1.5 2-1.8 1.5-1.1 2.2-1.1 0.6-1.4 1.8-1.8 1.2-1.3-0.3-1.6 0.7-1.9 2.6-1.5-0.9-1.9 0.3-1.1 2.8-1.6-1.1-1.8 2.1-1.1 0-1.7 0.4-1.5-0.7-1.2 2.6-1.8 0.6-1.3 2.9-1.8 0.5-1.4 2.1-2 0.6-1.6 2.2-1.2 1.3-1.9 0.9-2 1.4-1.9 0.8-1.3 0.3-1.2 1.2-1.2 2.9-1.5 0.8-1.1-0.1-1.4 0-1.6 4.1-1 0.9-1.2 0.9-1.7 0.6-1.1-0.6-1.4 2.3-1.8 2.8-1.7-2.1-1.2 2.5-1.3 1.9-1.2-0.1-1.9 2.8-1.2 3.2-1.5 0.8-1.4 3.9-2-1.4-1.4 2.5-1.5 0.6-1.1M340.2 145.2l-1.3-2 2.7-1.4 3.6-2 1.8-1.4 1.4-1.1 0.5-1 0.7-1.3 1.7-1.2 1.9-1.7-2.7-1.5 2.9-1.8 2-1.1 2.5-1.5 0.6-2 2.8-1.6 1-1.6 2.1-1.9 3-1.8-0.9-1.3 2-1.7-0.6-1.9 2.1-1.2 1.6-1.2 2-1.4 1.8-1.8-0.9-1.5 1.8-1.4 0.8-1.8 0.2-1.2 2.6-1.2 2.1-1.9 0-1.5 2.3-1.8 0.9-2 1.3-1.7 2.1-1.7-1.4-1.3-0.6-1.4 1.7-1.2-1.2-1.8 1.6-1.1 1.2-2 2.9-1 0.8-1.5-0.3-1.8 1.2-1.2 1.5-1.9 0.9-1.3 1.3-1.5-0.9-1.7 2.3-1.3 2-1.1 0-1.1 1.5-1.7 0-1.1 3-1.2 0.4-1 1.4-2 2.3-1.4 1.3-1.8 1.1-1.3 1.1-1.4 2.1-1.4 1.4-1.4 3.5-1.2-0.7-1.6 1.3-1.5 0.2-1.8 2.4-2 1.6-1.4 1.4-1.5 3.4-1.7 1.8-1.8 0.7-1.8 0.3-1.3 1.2-1 1.9-1.2 4.1-1.8 3.6-1.7-1.5-1.7 3.5-1.9 1.2-1.6-0.6-1.5-0.6-1.1 4.4-1.4M338.8 145.2l1.8-1.7 1.1-1.6 2.5-1.8 3-1.6 0.7-1.6 2.4-1.8 1.2-2-0.5-1 1-1.8 4.7-1.5 1.5-1.7 1.2-1.2 2.3-1.8 1.3-1 1.9-1.3-1.1-1.5 2.4-1.7 2.5-1.4 0.5-1.9 3.3-1.5 1.8-1.8-1-1.6 3-1.5 2.7-1.9 2.7-1.9-0.5-1.5 2.1-1.3-0.9-2 0.2-1.5-0.4-1.1 2-1.7 3.8-1.9-0.5-1.7 0.7-1 1.6-1.8 1.3-1.7 0.8-1.2 2.5-1.2 1.2-1.9 6.7-1.7-2-1-1.9-1.8 2-1.2-0.7-1.2 0.3-1.3 2.4-1.5 1.6-1.4 2.1-1.1 0.2-1.4-0.7-1.1 1-1.9 1.5-1.8 2.3-2 1.2-1.4 2.6-1.6 1.5-1.2 3.8-2 0.7-1.6 0.3-1.2 2-1.3 1.5-1.3 0.9-1.6 1.6-2 2.3-1.6 1.3-1.7 1.4-1.2 3.5-1.9 0.3-1.6 2.2-1.4-1.9-1 3.2-1.3 1.6-1 0.6-1.7 3.5-1.2 1.4-1.6 1-1.8 4.1-1.1 1.3-1.2 2.8-1.8 1.9-1.1 1.2-1.9 1.3-2-0.3-1.2 3.2-1.4 0.5-1.3M337 145.2l2.3-1.4 1.8-1.9 1.4-1.6 1.2-1.1 2.7-1.2 2.2-1.2 1.3-1.6 3.1-1.6 2.8-1.8-0.8-1.8 3.7-1.2 2.2-1.6 1.3-1.6 1.6-1.3 2.5-1.7 3.1-1.4 0.9-1.1 1.3-1.2 0-1.6 2.1-1.6 0.9-1.3 1.8-1.3 1.1-1.2 4.5-1.9 1.6-1.2 0.4-1.7 2.3-1.9 2.8-1.9-1.2-1.8-0.1-1.4 3.8-1.9-0.4-1.5 1.6-1.3-0.5-1.4 2.2-1.5 0.5-1.9 1-1.4 1.9-1.6 3.2-1.6 3.1-2-1-1.5-1.7-1.1 0.3-1.2 4.8-1.7-0.6-1.6-0.3-1.9-0.4-1 3.2-1 0.9-1.4 1.6-1.1 3.5-1.6 1.7-1.9-0.2-1.9 1.2-1.7 3.4-1.5 2-1.8 1.6-1.8-0.6-1.1 2.3-1.6 2.2-1.9 2-1.8 3.8-1.4 0.5-1.2 3.8-1-0.3-1.9 1.5-1.2 1.6-1.9 1.8-1.1 0.3-1.6 1.3-1.1 2.6-1.4 3.1-2 1.8-1.6 1.8-1.6 1-1.4 2.5-1.3 2.9-1.1 3.7-1.9-0.2-1.1 1.9-2 1.8-1.8 1.2-1.5 4-1.7 0.9-1.2 0.4-1" fill="none" stroke="#fff" stroke-width="0.8" stroke-linejoin="round" opacity="0.9"/>
<path d="M387.5 181.6h1.7v-39.7h1.7v-5.2h1.6v-2.7h1.7v-3.9h1.7v-2h1.7v-1.5h1.6v-3h1.7v-3.9h1.7v-1.3h1.6v-2h1.7v-1h1.7v-1.9h1.6v-2.4h1.7v-3.2h1.7h1.7h1.6h1.7v-1h1.7v-2.7h1.6v-2.6h1.7v-3.1h1.7v-3h1.6v-1.4h1.7v-1h1.7v-0.7h1.7v-0.5h1.6v-2.8h1.7v-1.4h1.7v-4h1.6v-2.2h1.7v-4.2h1.7v-1.9h1.6v-1.1h1.7v-1.7h1.7v-0.3h1.7v-2.6h1.6v-0.8h1.7v-1.5h1.7v-1.3h1.6v-1.4h1.7v-2.5h1.7v-2h1.6v-1.1h1.7h1.7v-1.7h1.7v-1.8h1.6v-2.9h1.7v-2.2h1.7v-0.6h1.6v-2.3h1.7v-2.2h1.7v-2.8h1.6v-1.7h1.7v-1.9h1.7v-2.5h1.7v-0.8h1.6v-1.7h1.7v-2.6h1.7v-0.8h1.6v-0.5h1.7v-1.5h1.7h1.6v-0.6h1.7v-0.3h1.7v-0.6h1.7v-0.5h1.6v-1.6h1.7v-1.1h1.7v-0.9h1.6v-1.7h1.7v-0.2h1.7v-1.5h1.6v-0.8h1.7v-0.4h1.7v-0.4h1.7v-1.2" fill="none" stroke="#3d9a3d" stroke-width="0.9"/>
</g>
<line x1="389.4" y1="17" x2="389.4" y2="142.7" stroke="#333" stroke-width="1"/>
<line x1="388.9" y1="142.2" x2="511.2" y2="142.2" stroke="#333" stroke-width="1"/>
<line x1="387.4" y1="129.3" x2="389.4" y2="129.3" stroke="#333" stroke-width="0.9"/>
<line x1="387.4" y1="104.9" x2="389.4" y2="104.9" stroke="#333" stroke-width="0.9"/>
<line x1="387.4" y1="80.5" x2="389.4" y2="80.5" stroke="#333" stroke-width="0.9"/>
<line x1="387.4" y1="56" x2="389.4" y2="56" stroke="#333" stroke-width="0.9"/>
<line x1="387.4" y1="31.6" x2="389.4" y2="31.6" stroke="#333" stroke-width="0.9"/>
<text x="386" y="34" font-size="11" text-anchor="end" fill="#222" >70</text>
<text x="386" y="82.4" font-size="11" text-anchor="end" fill="#222" >50</text>
<text x="386" y="132.3" font-size="11" text-anchor="end" fill="#222" >30</text>
<line x1="422.6" y1="142.2" x2="422.6" y2="140.2" stroke="#333" stroke-width="0.9"/>
<text x="422.6" y="154" font-size="11" text-anchor="middle" fill="#222" >80</text>
<line x1="456" y1="142.2" x2="456" y2="140.2" stroke="#333" stroke-width="0.9"/>
<text x="456" y="154" font-size="11" text-anchor="middle" fill="#222" >100</text>
<line x1="489.4" y1="142.2" x2="489.4" y2="140.2" stroke="#333" stroke-width="0.9"/>
<text x="489.4" y="154" font-size="11" text-anchor="middle" fill="#222" >120</text>
<text x="446.4" y="165.7" font-size="11.2" text-anchor="middle" fill="#222" >Neurite Length (pixels)</text>
<text transform="translate(368,78.3) rotate(-90)" font-size="11.4" text-anchor="middle" fill="#222">Cumulative Percent</text>
<text x="392.6" y="16.6" font-size="20.5" text-anchor="start" font-weight="bold" fill="#000" >c</text>
<line x1="445.1" y1="9" x2="445.1" y2="11.6" stroke="#f00" stroke-width="1.5"/>
<path d="M442.7 11.1L447.5 11.1L445.1 18.1Z" fill="#f00"/>
<line x1="448" y1="7.8" x2="448" y2="11.6" stroke="#000" stroke-width="1.5"/>
<path d="M445.6 11.1L450.4 11.1L448 18.1Z" fill="#000"/>
<line x1="377.7" y1="90.4" x2="381.9" y2="90.4" stroke="#f00" stroke-width="1.4"/>
<path d="M381.4 88.3L381.4 92.5L387.9 90.4Z" fill="#f00"/>
<line x1="377.7" y1="99.9" x2="381.9" y2="99.9" stroke="#000" stroke-width="1.4"/>
<path d="M381.4 97.8L381.4 102L387.9 99.9Z" fill="#000"/>
<text x="451.4" y="110.7" font-size="11.4" text-anchor="start" fill="#222" >DMSO</text>
<rect x="443.1" y="109.4" width="1" height="1" fill="#9c9"/><rect x="447.6" y="109.4" width="1" height="1" fill="#9c9"/>
<text x="452.9" y="120.4" font-size="11.4" text-anchor="start" fill="#222" >water</text>
<rect x="443.1" y="119.2" width="1.7" height="1.1" fill="#454"/><rect x="447.6" y="119.2" width="1.7" height="1.1" fill="#454"/>
<text x="450.4" y="132.7" font-size="11.4" text-anchor="start" fill="#222" >H1152</text>
<rect x="442.5" y="129.8" width="6.8" height="1.3" fill="#3d9a3d"/>
<g clip-path="url(#c5)">
<path d="M565 24L672 24L672 34L660 46L645 58L630 70L618 84L606 98L594 114L584 128L576 139L565 139Z" fill="url(#s3)"/>
<path d="M602.5 19L597.5 24L585.9 35.5L577.1 47.2L568.3 69L552.5 95L547.5 125L561.5 109L565.8 103.7L572.1 101.6L575.3 95.3L578.5 90L586.9 82.6L597.4 70L610.1 59L630.5 44.3L645.2 32.6L656.9 24L660.5 20Z" fill="url(#k3)"/>
<g transform="scale(8.0,1)">
</g>
<path d="M520.3 143.3l-0.2-1.9 1.6-1.3 3.5-1.7-0.4-1.3-0.2-1.8 1.6-1.1 3.4-1.3 0.1-1.3-1.8-1.1 0.9-1.6 0.8-1.6 0.9-1.2 1.5-1.2-1.8-1.9 4.4-1.5 2-1.6-1.4-1.1 0.7-1.6 0.5-1.1 0.8-1.9 1.5-1.4 1.5-1.2-0.7-1.1 2.5-1.9 1.1-1 1.9-1.7 0.9-1.1-0.5-1.5-0.6-1.4 0-1.5 2.4-1.1 1.3-1.5 3.6-1.9 0.6-1.1 1.2-1.6-1.5-1-2.1-1.4-0.5-1.4 1.5-1.2 3-1.3 2.9-1.5-0.1-1.3 0.9-1.3 0.2-2 1-1.9 1.2-1.4 1.3-1.1 1-1.2 3-1.3-2.7-1.2-0.4-1.3 1-1.8 3-1.6 0.8-1.9-0.8-1.8-1-1.4 4.2-1.6-0.6-1.7 3.5-1.6 0.7-1.3-1.2-1.3 0.9-1.3 0.7-1.7-0.1-1.1 1.8-1.6 0-1.3-0.7-1.4 1.8-1.4 1.3-1.2 2-1.7 1.6-1.2-0.4-1.7 0.3-1.9 1.2-1.7 1.5-1.4-1.2-1.2 3.9-1.9 0.3-1.1-0.1-1.5 3.6-1.1 1.5-2 3.9-1.9-1.7-1 2.6-1.8 2.7-1.4M522.6 143.3l0.6-1.8-0.3-1.5 1.4-2 0.3-1.2-0.5-1 2.7-2 5.1-1.9 0.3-1.9-1.2-1.5 1-1.3 0.4-1.2 1.8-1.9-0.9-2 2.4-1.5 0.1-1.9-0.3-1.1 2.8-1.8-0.3-1.4-1.2-1.4 5-1.2 1.1-1.5-0.1-1.4 0.8-1.2 0.8-1.2 3.2-1.3 0.6-1.1-1.5-1 0.6-1.7-0.2-1.7 2.1-1.5 3.3-1.6 0.7-1.7 1.4-1.7-1.1-1.4 0.4-1.7-0.9-1.4 2.2-1.3 1-1.2 1.2-1.8 2.6-1.3-0.5-1.1 0.7-1.6 0.1-1.6 2.4-1.4 1-1.8 0.3-1 1-1.1 2-1.6-0.1-1.4 0.2-1.5 0.4-1.3 0.4-1.9 1.3-1.8 1.3-2 1.1-1.3 1.4-1.9 1.4-1.8 0.6-1.1-0.5-1.4 2.5-1.6 1.2-1.4-0.1-1.8-0.2-1.8 1.3-1.9 2.5-1.2 0.4-1.5-0.4-1.5 2.4-1.2-0.2-1.8 1.3-1.1 0.9-1.5 1.9-1.3 1.2-1.4 1.3-1.5 2.2-1.7 0.4-1.9 4.2-1.4-2.4-1.3 4-1.7 3.1-1.7 0.8-1-0.1-1M522.4 143.3l1.2-1.5-1.8-1.9 3.3-1.5 3.6-1.4 0.1-1.3-1.2-2 1.9-1.7 0.7-1.9 0.7-1.6 0-1.2 2.8-1.3 2.9-1.1-1.3-1.3-0.3-1.2 0.8-1.2 1.3-1.8 0-1.6 3.8-1.6 0.7-1.2 0-1.8 3.1-1.8-0.4-1.5 1.5-1.5-0.6-1.2 1.4-1-0.4-1.8 4.1-1.6-0.3-1.9 1.3-1.5-0.6-1.2 4.1-1.6-0.2-1.3-0.5-1.5 1.5-1.5 1.5-1.8 0-1.2-0.5-2 2.2-1.9-0.1-1.4 2-1.3 0.6-1.7 2.4-1.5 0.4-1.8-0.4-1.9 3.5-2-0.4-1.4 1.7-1.4-0.3-1.8 0.9-1.3 1.2-1.8-1.3-1.3 1.9-1.8 0.9-1.9 0.7-2-1.2-1 3.8-1.9 1.3-1.6-0.3-1 1.1-1.3 0.4-1.3 1.5-1.5 2.5-1.1-0.6-1.1 0.2-1.2 1.6-1.5-0.1-1.5-0.1-1.8 0.1-1 4.8-1.6 0.5-1-1-1.1 2-1 2.5-1.7 1.2-1 2.3-1.7-1.2-1.4 3.9-1.2 0.7-2 2.7-1.4-0.2-1.8 2.1-1.5-0.2-1.3M524 143.3l0.6-1.3 0.6-1.2-1.1-1.3 2.9-2 0.2-1.5-1.5-1 4.9-1.5 0.7-2 0.2-1.1 0.5-1-2.6-1.8 1.8-1.6 2.8-1.1 2.7-1.4 1.9-1.6 0.4-1.4-0.5-1.8 0-1.7 0.5-1.7 3.6-1.9 0.9-1.9 2.8-1.3-1.2-1.6 1.6-1.1-0.4-1.4 2.9-1.9 1.2-1.2 0.9-1.9 1-1.5 0.4-1.5-0.5-1.2 0.6-1.3 1.2-1.6 1.1-1.8 0.4-1.5-0.7-1.1 2.3-1 2.5-1.6 0.2-1.4 1.8-1.6 1.7-1.7 0.9-1.5 1.2-1.5 1.2-1.8 2.1-1.6-2.2-1.2 2.2-1.1 0.1-1.6 1-1.4 0.6-1.2 1.1-1.5 2.9-1.9-2.3-1.2 0.2-1.8 3.1-1.5-1.9-1.7 3.6-1.5 1.5-1.8 1.8-1.2-1.7-1.4 2.1-1.6 0.5-1.3 0.2-1.4 1.1-1.2 1.4-1.9 0.1-1-0.1-1.9 4.2-1.8 2.3-1.2-0.2-1.1 2.4-1.6 0.4-1.6 1.8-1.4-0.7-1.9 1.1-1.5 2.4-1.1 2.3-1.7-0.1-1.2 1.7-1.2-1.1-1.3 3.4-1.8 1.8-1.5 2.6-1.3M523.6 143.3l0.5-1.2 0.4-1.4 0.7-1 3.4-1.6 0.3-1.6 1.7-1.5 0.3-1.9 1.4-1.3 0.8-1.5 1.7-1.7 1.2-1.3 0.7-1.9-2.2-1 2.6-1.1 0.5-1 4.1-1.2 0.3-1.4-0.2-1.3 0.4-1.1 2.2-1.8-1.8-1.1 1.6-1.6-0.3-1.8-1-1 1.8-1.4 3.5-1.1-0.3-1.3 1.8-1.7 2.4-1.7-1.6-1.6 2.3-1.5 0.8-1 1.4-1.8 1.7-1.1-0.6-1 1.7-2 0.3-1.5 0.8-1.3 1.4-1.9 0.7-1.2 1.4-1.3 1.1-1.9 1.1-1.1 2.3-1.7 1.5-1.9-2.5-1.3 1.8-1.5 4.7-1.3-3.4-1.2 3.6-1.9 0.4-1.3 1.3-2 0.1-1.4 0.5-1.5-0.4-1.1 3.2-1.2 1.5-1.5-1.2-1.2 1.2-1.5-0.5-1.3 0.4-1.7 1.4-1.9 0.5-1.5 3.9-1.8 0.8-1.1 1.8-1.1-1-1.1-1-1.4 1.1-2 3-1.6 0.6-1.2 1.7-1.9 2.7-1.4-0.6-1.4 1.2-1.7 2.6-1.6-1.3-1.1 1.4-1.8 5.7-1.6-1.1-1.2 1.8-1.5 0.4-1.4 1.9-1.8 1.9-1.3 2.2-1.8M524.4 143.3l-0.5-1.6 0.8-1.4 1-1.1 0.8-1.5 2.7-1.5 0.7-2 0.8-1.7 1.3-1.3 2.1-1.9-1.8-1.8 2.5-1.5 0.2-1.2-0.8-1.6 1.6-1.3 1.9-1.3 3-1-0.1-1.5 0.5-1.7-0.3-1.3 0.6-1.5 1.4-1.2 1.2-1.6 0.6-1.1 3.7-1.7 0.4-1.9-0.4-1.7 2.8-1.5 4.6-1.9 1.6-1.2-3.9-1.3 0.1-1.8 0.6-1.8 0.2-1.3 1.2-1.1 1.4-1.4 2.5-1.8 1.4-1.9-1.2-1.2 2.1-1.7 2.2-1.4 0.8-1.8 1.9-2 0.4-1.4 0.3-1.1 2.2-1.2 1.5-1.4-1.2-1.3 2.9-1.1 1.6-1.3 0.8-1.5 1.5-1.1-1.8-1.5 1.2-1.2 1.5-1.7-0.1-1.1-0.7-1.3 3.1-1-1.4-1 0.7-1.2-1.1-1.7 4-1.2 1.1-1.6 1.3-1.9 0.7-1.9-0.5-1.7 1.8-1.2 2.1-1.3-0.1-1.4 1.5-1.3 2-1.8 0.4-1.6 0.2-1.1 0.6-1.2 0.3-1.8 1-1.3 3.4-1.1 0.1-1.3 3.6-1.4 3.7-2-0.6-1.3 4.6-1.9-0.4-1.6 1.5-1.7 3.6-1.9M523.6 143.3l-0.1-1.9-1.5-1.1 3.6-1.7 0.6-1 3.8-1.3 0.1-1.4 2.9-1.8 1.1-1.6 0.1-2 1.7-1.3-0.5-1.5 1.2-1.4-0.9-1.1 0-1.3 4.4-1.4 0.2-1.7 2.4-1.6 0.1-1.6 0.3-1.9 2.4-1.7 0.4-1.7-0.2-1.3 1.5-1.7-0.2-1.3-1-1.1 2.8-1.8 0.8-1.8 4.3-1.8-0.1-1.4 1.1-1.1 1.8-1.5 4-2-0.2-1.3 0.9-1.9 1.8-1.3-3.9-1.4 2.8-1.8 1.9-1.7 1.3-1.3 2.7-1.8-1.7-1.4 0.7-1.1 2.4-1.5 0.8-1.1 0.9-1.2 0.7-1.5 3.4-1.1-0.2-1.5-0.6-1.9 0.2-1.7 1.7-1 3.1-2-1.5-1.2 2.3-1.6 1.5-1.7 0.7-1.7-0.4-1.7-0.3-1.8 1.6-1 1.8-1.2-0.6-1.7 3.3-1 1.7-1.5 0.3-1.6 1.8-1.9 0-1.5 0.6-1.7 2.3-2 1.3-1.2 0.8-1.7 4-1.7-0.3-1.5 1.4-1.6 0.9-1.9 5.4-1 1.4-1.7 0.3-1.1 1.8-1.3 0.8-1.1 0.6-1.5 0.5-1 2.6-1.6M524.9 143.3l2.3-1.9 1.9-2 1.5-1.1 0.1-1.3-1.6-1.7 1.2-1.5 1.8-1.7 0.8-1.6 1.7-1.3 2.5-1.8 1.3-1.7-0.8-1.8 2.4-1.2-0.1-1.3 0.6-1.5 1.6-1.7 1.3-1.8 1.7-1.8 0.8-1.8 0.3-1.6 1-1.3 2.9-1.2 0.2-1.1 0.7-1.1-1.9-1.1 2.4-1.5 2.8-1.4 0.3-1.3 2.3-1.7 0.9-1.2 1.3-1.3 1.1-1.2 1.8-1.8-1.5-1.2-0.7-1 1.5-1.1 1-1.5 1.3-1.7-1.1-1.1 3.4-1.4 2.4-1.8-0.7-1.2 0.5-1.4 0.7-1.2 1.6-1 1.6-1.4-0.9-1.6 2-1.5 1.5-1.1 1.7-1.6 1.5-1 0.2-1.8 1.1-1.4 0.5-1.2-1.3-1.5 1.8-1.5-0.7-1.5 0.4-1.5 3.2-1.8 1.8-1.8 0.7-1.1 1.9-1.1 0.2-1.5-0.8-1.4 2.3-1.6-1.2-1.2 2.5-1.5 1.7-1.5 2.9-1.4 0.3-1.1 0.9-1.3 1.5-1-0.1-1.4 2.2-1.8 0.8-1.7 1.6-1.3 2.5-1.5 1.8-1.6 2.6-1.3 3.4-1.6-0.4-1.8 1-1.8 2.9-1.9 1.6-2M524.4 143.3l3.6-1.6 1.1-1.2 1.5-1.3 0.9-1.2-0.9-1.1 0.8-1.1 0.1-1.9 1.4-1.2 2.5-1.7 0.5-1.5-1.1-1.5 3.4-1.1 0.7-1.7 0.6-1.1-0.5-1.3 1.2-1.2 1.8-1.1-1.9-1.3 1-1.8 0.4-1.9 2.7-1.6 3-1.5 0.4-1 1.7-1.8 1.1-1.2 1.5-1.6-0.3-1.7 1.7-1 0.4-1.5 0.9-1.7 2.7-1.5-1.4-1.5 2.4-1.9 2.1-1.9 0.2-1.3 1.5-1.6 1.8-1.7 0.8-1 0.8-1.5 2.6-1.6-3.1-1.5 2.6-1.6 1.5-1.1 0.1-1.9-1.8-1.2 3.7-1.8 4.1-1.8-0.8-1.7 0.9-1-0.4-1.1 1.7-1.1 1.2-1.3 2.3-1.8 0.7-1.9-0.3-1.6 2-1.5 2.7-1.6 1.8-1.4 0.2-1.3 1.1-1.6 1.6-1.9 2.4-1.9 1.7-1.5-2.1-1.7 0.9-1.8 1.8-1.4 1.6-1.4 2.1-1.5 2.2-1.9 1.1-1.9-1.2-1.3 3.8-1.6 2.9-1.9 1.5-1.2 2.5-1.8 1.1-1.7-3.3-1.6 0.9-1.2 4.3-1.6 3.5-1.6 1.1-1.6 1.9-1.5M525.1 143.3l0-1.3 1.5-1.6 1.1-1.8 4.7-1.2 0.1-1.9-0.2-1.1 1.5-1.7 0.7-1.6-1.1-1 3.9-1.8 0.1-1.3-1-2 1.8-1.6 1.5-2 1.4-1 1.4-1.1 2.7-1.9 0.2-1.1 2.5-1.5 0.9-1.4 0.3-1.3-0.5-1.9-0.2-1.2 3-1.9 0.4-2 0.8-1.5 4.3-1.1 2.6-1.7 2.6-1.7 0.7-1.8-1.7-1.6 0.8-1.2-1.5-1.5 1.2-1 3.3-1.7 2.7-1.8 0.1-1.3 0.4-1.3-0.4-1.4 3.7-1.7-2.3-1.3 2.6-1.5 2-1.6 0-1.5 3.1-1.8-1-1.3 2.5-2 1.3-1.6 1.8-1.2-1-1.4 0.7-1.3 1.5-1.2 2.1-1.1 0.7-1.3 0.2-1.8 0.6-1.6 2.2-1.1 0.8-1.8 2.7-1.8-0.8-1.6 2.9-1.9-0.7-1.5 1.9-1.1 1-1.8 1-1.2 3.3-1.8 0.1-1 5-2 0.7-1.5 1.1-1.9 2.1-1.5 1.5-1.9 1-1.7 3.5-1.1-1.6-1.5 0.8-1.5 3.2-1.3 2.5-1.3 2-1 1.4-1.1 0.4-1.1-1.7-1.2 1-1.8M527.2 143.3l-1.5-1.5 2.4-1.7 2-1.8 0.3-1.5-0.5-1.3 4-1.7 3.8-1.8 0.5-1.1 1-1.3-1.3-1.8-1.6-1.2 3.2-1.1-0.2-1.3 2.8-1.3 1.8-1.4-1.5-1.2 1.1-1.5 2.6-1.4-0.2-1.7 3.8-1.7 0.9-1.3-2-1.5-1.1-1.8 3.3-1.6 2.9-1.6 2.5-1.6-0.2-1.9 4.6-1.7-0.9-1.4-0.1-1.6-0.1-1.6 0.9-1.2 1.3-1.2 0-1.8 4.5-1.8 1.4-1.7 1.1-1.1 0.4-1.9 0.6-1.6 2.3-1.9-0.6-1.7 2.3-1.1 1.5-1.5-1-1.2 0.7-1.2 2.3-1.4 0.8-1.4 3-1.8 0.7-1.1 2.1-1.5 0.3-1.1 0.7-1.6-0.3-1.3 0.7-1.5 1.7-1.1 2-1.3 0.4-1.5-0.4-1.1 0.6-2 2.4-1.2 2.1-1-1.9-1.7 2.7-1.2 2.3-1.3 2-1.1 0.3-1.3 1.4-1.4 2.1-1.2 1.3-1.3-1.4-1.9 1.4-1.2 0.4-1 2.6-1.3 3.5-1.2 1.3-1.7 0-1.1-0.6-1.3 5.7-2 0.2-1.2 1.1-1.1 2.9-1.9 0.6-1.5 2.4-1.1 1.5-1.8 0.8-1.3M529.2 143.3l-0.6-1.7 2.2-1.4 0.1-1.4 1.5-1.1 0-1.9 0.9-1.8 2.9-1.6-0.6-1.2 1.9-1.8 2.1-1.3 3.2-2 0.3-1.8 0.7-1.1 1.6-1.3-1.6-1.3 1.9-1.9 0.4-1.1 1.8-1.9-2.2-1.2 3-1.8 0.4-1.7 2.1-1.1 3.2-1.8 1.1-1.2 2-1.3 0.4-1.8 0.9-1.5 2-1 1.4-1.7-0.1-1 0.1-1.8 3.9-1.6-2.1-1.9 2.1-1.6-0.3-1.4 2.1-1.5 0.3-1.5 3.5-1.5 0.6-1.1 2.7-1.8 0.8-1 0.9-1.1 1.5-1.5-0.3-1.2-0.5-1.3-0.1-1.7 2.9-1.6 1.9-1.9 1.5-1.4 0.8-1.9 0.6-1.2 2.4-1.2-1.1-1.8 0.7-1.3 2.6-1.8 1.5-1.4 0.7-1.5 0.3-1.8 1.3-1 1.3-1.5 0.3-1.4 2.8-1.5 1.7-2 2.3-1.2 0.6-1.4 1.6-2 1.6-1.7 2.4-1.2 1.2-1.3 0.5-1.8-2.5-1.5 4-1.9 2.4-1.1 3-1.8 1.5-1.2 1.4-1.7 1.9-1.1 0.5-1.6 2.3-1.2 2.6-2 1.1-1.2 3-1.2M527.9 143.3l0-1.4 2.6-1.9-0.9-1.4 1.4-1.4 0.6-1.9 3-1.2 0.9-1.3-1.5-1.8 1.5-1 1.1-1.1 2.3-1.6 0-1.4 2.3-1.6 2.6-1.7 0.1-1.8 3.1-1.4-0.3-1.2 2.5-1.9 0.3-1.5 0.8-1.2-0.6-1.1-0.8-1.5 1.5-1.8 2.2-1.7 2.1-1.4 2.8-1 0.8-1.5 2.3-1.6 1.7-1.3 2.8-1.3-2.2-1.7 1.4-1.5 3-1.2-0.2-1.1-2.3-1.7 1.4-1.2 4.2-1.7-0.8-1.5 1.3-1.6 0.5-1 2.6-1.1-0.5-1.2-0.6-1.3 2.6-1.9 2-1.2 4.1-1.3-2.1-1.1 0.8-1.5 1.1-1.3 3.3-2 0.9-1.5 2.2-1.8-1.7-2 1.6-1.6 0.6-1.1 1.4-1.4 1.2-1.4 3.5-1.8 1.7-1.3-0.2-1.4 0.8-1.7-0.1-1.2 3.1-1.3 0.1-1.8 1.8-1.8 0.7-1.1 3.7-1.5 0.9-1.6 1.2-1.7 2.6-1.4 0.3-1.2 2.7-1.2-0.3-1.3 2.8-1.5 2.3-1.7 0.3-1.4 2.1-1.9 2.1-1.7 3.3-1.5 1-1 1.1-1.9-0.2-1.3 1.1-1.1 3.7-1.7M528.1 143.3l1.3-1.8 0-1.3 1.6-1.5 0.3-1.4 3.2-1.8 1.9-1.4 1.3-1.4 1-1.1 0.5-1.1 1-1.3 1.6-1.8-0.7-1.7 0.5-1.2 0.9-2 3.4-1.8 1.4-1.7 1.8-1.7 2.6-1.7 0-1.3 1.1-1.1 0.1-1.1 0.6-1.2 0.9-1.6 2.6-1.6-1.3-1.5 1.6-1.9 4.5-1.9 1.5-1.6 1.8-1.6 1.7-1.9 1.8-1.6-0.1-1 0.7-1.4 1.3-1.6-0.8-1.9-0.5-1.8 0.6-1.9 2.9-1.3-0.5-1.2 1.6-1.6-0.8-1.5 5.6-1.2-2.1-1.6 0.3-2 1.7-1 2.6-1.8 2.4-1.9 0.1-1.5 3.6-1.3 0.2-1.7 0.5-1.3 2.8-1.8 1.9-1.4 0.8-1.1 0.9-2 0.4-1.2-0.4-1.1 3.3-1.6 4.2-1.2 1.9-1.3 1.8-1.5 0.3-1.2-0.9-1.1-0.3-1.9 0.4-1.1 3-1.5 1.7-1.7 2.9-1.2 1.8-1 0.1-1.8 1.2-1.6 2.1-1.4 0.2-1 3.1-1.7 3.4-1.6 3.1-1.2 0.6-1.3-0.1-1.4 1.6-1.6 4.3-1.3 0.8-1.5-0.9-1-0.2-1.4M527 143.3l3.5-1.9 0.2-1.3 0.3-1.1 2.1-1.6-0.5-1.6 0.8-1.6 1.2-1.2 2.2-1.7 1.2-1.9 3-1.5 0.9-1.9 1.1-1.5 2.3-1.6 0.4-1.8 0.9-1.3 1.7-1.9 0.8-1.8 2-1.2 3.2-1.7 0.4-1.3 1.1-1.4 1.6-2-0.8-1.4 3.5-1.4-0.8-1.9 4.6-1.4-0.9-1.3 0.3-1.5 1.5-1.3 2.4-1.5 0-1.3 0.8-1.9-1-1.5-0.5-1.5 5.3-1.4 3.1-1.3-0.1-1.8 0.9-1.5 1.9-1.5-0.3-1.6 2.1-2-0.5-1 3.5-1.6 2.4-1.9-0.9-1.3 1.1-1.7-0.7-1.9 1.4-1.8 1.1-1.4 3.2-1.4 0.5-1.8 1.1-1.4 2.2-1.5 0.7-1.7 1.5-1.8 1.6-1.8 2.2-1 2.5-1.1 2.3-1.8 0.3-1.9 2-1.9 1-1.8 2.9-1.2 3.3-1.4-1.7-1.3 6.2-1.9-0.8-1.5 3.7-1.7 0.7-2 0.6-1.6 2.6-1.2 1-1.9 3.1-2 3-1.9 1.6-1.6 1.4-1.4 1.4-1.2-0.9-1.7M528.6 143.3l-0.3-1.1 5.1-1.8-0.6-1.5 0.2-1.4 3-1.4 2.4-1.9-0.9-1.8-0.4-1.1 1.2-1.5 3.3-1.7 1.2-2 2.9-1.2-0.5-1.3-1.3-1.1 2.3-1.8 0.2-1.5 0.4-1.2 3.2-1.3 0.2-1.1 2.4-1.4-0.1-1.1 0.4-1.9 3.1-2 1.2-1.1 0-1.8 1-1.3 1.7-1.8 1.8-1.1 2.3-1 3.2-1.4 1.1-1.6-0.4-1.6 0.3-1.7 0.5-1.4 0.9-1.4 1.1-1.7 3.5-1.6 1.9-1.4 0.6-1.7 0.8-1.5 0.4-1.3 1.4-1.4 0.6-1.6 0.6-1.4 2.1-2 0.8-1.6 1.8-1.7 1.2-1.9 0.8-1.5 1.3-1.4 3.3-1.7 2.7-1.6 0.5-1.8-0.1-1.5 1.6-1.5 2-1.1 2.7-1.3 1.4-1.9-0.1-1.8 2.2-1.1 0.4-1.6 1.1-1.4 1.8-2 1.5-1.8 3.9-1.9 4-1.4 1-1.6 2.5-1.5 1.1-1 2.9-1.6 0.1-1.9 1.9-1.5 3.3-1.6 1-1.2-0.5-1.3 0.6-1.3 1-1.1 2.5-1.8 1.1-1.6 4-1.3-0.7-1.2 3.8-2M530.8 143.3l0.3-1.9 1.2-1.3 0.9-1.4 1.8-1.2 0.4-1.5 2.7-1.3 0.6-1.9-1-1.4 2.9-1.9 0.7-1.1 0.5-1.4 0.4-1.5 0-1.8 3.7-1.4-1.4-2 1.9-1 3.6-1.9 1.6-2 0.7-1.9 0.1-1.1 2.7-1.4 1.3-1.4 0.1-1.3 0-1.3 2.2-1.4 0.6-2 3.8-1 2.9-1.7 2.2-1.9-0.4-1.2 1.4-1 1.1-1.8 1.7-1.7-1.3-1.2-1.3-1.1 3.1-2 2.5-1.6 1.3-1.8 3.2-1.7 2.7-1.9 0.7-1.8 0.6-1.4 0.3-1.2 0-1.7-0.4-1.2 2.3-1.5 1.2-1.4 1.7-1.8-0.3-1.8 1.6-1.7 3.5-1.5 1.9-1.4 2.4-1.9 2.1-1.2-0.4-1.1 2.4-1.3 1.8-1.2-0.1-1.3 1.8-1.6 2-1.7 1.9-1.9 3.8-1.5 1.1-1.1-1.9-1.1 3.1-2 1.7-1.8 1.3-1.1 4.6-1.8 1.3-1.8 0.9-1.1 0.2-1.2 0.6-1.3 2.2-1.8 3.2-1.6 1.7-1.3 0.5-1.2-0.3-1.6 2.3-1.1 3.7-1.5 1.1-1.7 1.5-1.4 3-1.8M529.2 143.3l2.2-1.1 0.2-1.3 0.5-1.8 0.4-1.3 3.2-1.5-0.4-1.3 2-1.2 3.1-1.1 2.4-1.1 0.4-1.9 0.4-1.4 2.2-1.9 0.4-1.3-0.7-1.5-0.6-1.7 1.9-1.7 0.9-1.8 2.3-1.8 1.8-1.6 3.3-1.4 1.2-1.7 2.2-2 2.7-1.7-0.5-1.3 1-1.9 0.7-1.8 4-1.1 0.5-1.8 2.4-1.9-0.1-1.5 2.2-1.9 0.9-1.6 2.1-1.6-0.6-1.4 1.5-1.5-0.2-1.2 3.8-1.7-0.2-1.7 0.1-1.3 1.4-1.7 3.1-1.2 0.6-1.6 2.8-1.7 2-1.4 0.1-1.8 0.6-1.5 0.1-1.1-1.7-1.1 3-1.1 0.2-1.9 0.4-1.1 4.8-1.8 0.9-1.6 1.2-1.7 1.7-1.2 1.2-1.9-0.5-1.4 3.9-1.8 3.5-2 2.9-1.8 4.3-1.5-0.9-1.5 0.9-1.5 3.1-1 1.9-2 2.9-1.7 2.9-1.1 0.1-1.4 1.5-1 1.5-1.4 1.7-2-1-1.4 3.1-1.8 1.7-1.8 2.1-1.4 4-1.2 2.2-1.6 0.5-1.9 2.7-1.7-0.1-1.7M531.4 143.3l-0.1-1.8 3.4-1.8 2.1-1-0.2-1.8 0.1-1.2 0.5-1.5 1.3-1.3 0.3-1.4 2.7-1.2 0.6-2 3.9-1.5 1.1-1.1-0.8-1.4 2.2-1.8 1.8-2 3-2 2.4-1.9 1.1-1.7-1.7-1.5 3.5-1.7 1.5-1.4 1.8-1.6-0.9-1.1-0.2-1.7 3.6-1.4 1-1.5 3.6-1.6 1.5-1.6 0.8-1.1-0.6-1.1 2.6-1.5-1.4-1.8 1.6-1.4 2.3-1.2-0.5-2 2.1-1.7 2.3-1.8 3.4-1.9 1.1-1.6 1.6-1.1 1.2-1.9 0.2-1.6-0.3-1.5 3-1.6-0.2-1.9 0.1-1.1 3.1-1 3-1.4-2.5-1.9 1.4-1.6-0.4-1.9 2.9-1.7 1.2-1.4 2.4-1.6 2.2-1.7 2.9-1 1.2-1.2-0.2-1 4.8-1.5 0.6-1.1 1.8-1.1 0.7-1.4 4.3-1.7 1.4-1.7 0.4-1.9 2.3-1.4 1-1.7 1.3-1.7 3-1.3 2.8-1.5 0.1-1 3.1-1.8 4.6-1.1-1.2-1.9 0.9-2 3.1-1.6 1.1-1.9 3.2-1.1 1.2-1.2 2.1-1.5-1.5-1.8M530.4 143.3l2.1-1.2-0.6-1.5 4.2-1.5 0.5-1.8 0.2-1.5 1.6-1.3 2.8-1.9-1.2-1.2-0.1-1.1 3.6-1.4 1.9-1.9 4.3-2 0.1-1-0.2-1-0.4-1.7 0.3-1.5 1.2-1.8 3.2-1.2 2.7-1.4 0.1-1.5 0.8-1.2 1.1-1.7 3.1-1.8 0-1.7-1.1-1.4 3.9-1.1 1.6-1.9 2.1-1.4 2.9-1.9 0.9-1.1 1.6-1.5 0-1.8-1.5-1.9 1.8-1.9 0.3-1.5 3.8-1.1 2.1-1.2 0.8-1.1 0-1.1 1.8-1.1 0.1-1.5 2.8-1.6 2.1-1.2 0.7-1.8 1.5-1.9-0.6-1.7 0.1-1 2.5-1.8 2.3-1.3 2.4-1.9 3-1.8-0.6-1.3-1.1-1.3 0.8-1.7 4.8-1.4 1.4-1.2-2.2-1.7 4.3-1.8 2-1.9 2.5-1.7 3.4-1.2 2.3-1.7 2.2-1.2 1.9-1.2 0.5-1.9 0.9-1-0.1-1 2.2-1.9 2.7-1.5 2.2-1.7 1.4-1.1 2.4-1.6 3.7-1.8 1.3-1.4 3.4-1.2 0.7-1.5 0.4-1.3 0.7-1.4 1.7-1.3 1.6-1.4 2.3-2 0.3-1.3 0.9-1.9M531.6 143.3l1.3-1.3 2.6-1.9 1.4-1.1 0.3-1.2 1.9-1.4 0.6-1 2.5-2 0.2-1.1 1-1.2 1.1-2 0.1-1.1 2.6-1.3 0.9-1.6-0.3-1.6 1.9-1 1.8-1.3 2.4-1.7 0.6-1.6 1.4-1.2-0.8-1.3 0.2-1.8 0.9-1.4 1-1.5 1.5-1.8 4.5-1.6 3-1.4-1.5-1.6 2.9-1 5.7-1.7-0.6-1.1 0.4-1.9 0.1-1.3 0-1.7 0.5-1.7 1.5-2 0.8-1.8 2.2-1.6 1.2-1.9 2.4-1.5 0.5-1.8 4.1-1 0.3-1.5 2.1-1.7 0.3-1.7 0.5-1.7 1.6-1.2 1.6-1.6-0.7-1.2 0.9-1.7 1.3-1.4 2.5-1.8 1.5-1.2 3.6-1.7 0.6-1.2 1.8-1 2.8-1.7-0.9-1.4 2.3-1.7-0.2-1.1 4.7-1.7 0.5-1 1-1.1 3.1-1.4 1.1-2 1.8-1 0.9-1.1 2.4-1.8 3.4-1.8 0.7-1.1 1-1.6 3.6-1.7 0.2-1.7 1.2-1.9 4.3-1.3 0.4-1.1 0.7-1.3 2.7-1.1 2.1-1.1 0.4-1.1 4.2-1.6 2.5-1.8-0.9-1.8 2.1-1.6 0.1-1.7M533.8 143.3l2.2-1 0.5-1.5 0.1-1.2-0.8-1.1 1.8-1.3 3.2-1.7-1.1-1.1 2.9-1.5-1.5-2 4-1.8 0.9-1.2 1.4-1.3 1.9-1.9 0.7-1.3 3.2-1.6 1.9-1.1 0.3-1.7 0-2 1.7-1.7 1.7-1.5 0-1.7 3-1.9 1.8-2 0-1.6 1.8-1.1 1.1-2 3.7-1.4 1.4-1.3 0-1.3 1.7-1.5 0.5-2-0.2-1.1 0.5-1.5 0.5-1.3 2.9-1.1-0.3-1.2 4.3-1.3 0.4-1.2 0.8-1.9 1.3-1.1 0.3-1.5 1.7-1.5 2.3-2 2.6-1.7 1.2-1.3 1.8-1.8 1-1.4 0.2-2 2.6-2 0.4-1.1 0.8-1.4 1.1-1.5 1.2-1.3 4.2-1.8-0.2-1.4 2.2-1.6 1.4-1.8 2.9-1.3 2-1.5 4.2-1.3 1.1-1.9 1.4-1 4-1.7-1.3-1.1 0.6-1.5 5-1.5 1.4-1.7 1.8-1 3.7-1.2-0.3-1.8 2.1-1.8 2.4-1.6 1.7-1.9 2.2-1.2-1.4-1.2 2.4-1.1 5.1-2 0.4-1.5 3.9-1.8 3-1.3-0.2-1.4-0.8-1.2M531.8 143.3l1.7-1.2 4.7-1.7 1.6-1.6 0.3-1.8 0.9-1.8 1.1-1.5 1-1.4 2.9-1.6 0.8-1.6 0.3-1 2.3-1.9 1.2-1.7-0.7-1.7 0.8-1.9 3.9-1.3 2.6-1.8-0.9-1.3 1.4-1 0.9-1.7 2-1.8 3.1-1.6-0.9-1.8 2.2-1.4 0.3-1.8 1.7-1.3 0.8-1.6 3.8-1.1 0.4-1.2 0.9-1.7 5.4-1.3-0.5-1.5-0.5-1.7 0.4-1.4-1.4-1.2 0.4-1.1 2.3-1.2 2.5-2 2.1-1.5 2.7-1.8 0.8-1.6 1.5-1.7 3.9-1.3-0.6-1.7-0.9-1.9 1.7-1.6 1.3-1.2 1.8-2 0.7-1.3 2.3-1.9 2-1.1 2.5-1.8 1.6-1.3 0.9-1.7 1.4-1.2 1.4-1.8 2.7-1.8 2.6-1.5 3-1.3-0.3-1.8 2.9-1.3 3.1-2 2.6-1.1 2.1-1.8 1.7-1.7 1.6-1.6 3.1-1.3 0.9-1.9 5.8-1.4-2.6-1.4 0.2-1.3 2.7-1.5 1.6-1.4 1.9-1.1 3-2 0.5-1.6 3.3-1.2 3.3-1.6 2.5-1.4 2.7-2-0.2-1.7M533.5 143.3l1.1-2 3-1.7 1.6-1.7 1.2-1.7 0.5-1.7 1.8-1.9 0.6-1.6 0.1-1.1 1.9-1.2 1.3-1.2 0.7-1.1 1.8-1.3-0.6-1.1 2.3-1.2 2.1-1.5 0.4-1.9 1.3-1.2 2.6-1.3 0.9-1.1 0-1.7 1-1.7 1.4-1.4 2.2-1.7 2-1.9 1.3-1-0.2-1.4 3.8-1.2 2-1.4 2.8-1.6 0.1-1.2 2.3-1.2 0.7-1.9 2-1.1-2.5-1.8 0.3-1.1 1.1-1.8 1.1-1.4 2.4-1.3 2.4-2 3.1-1.5 0.5-1.5 0.1-1.6 2.6-1.6-0.3-1.2 2.2-1.4-0.1-1.5 0.5-2 4.3-1.6 1.4-1.4 2.2-1.5 1.1-1.2 0.1-1.4 0.8-1.4 2.6-1.2 1.1-1.2 1.4-1.2 4.1-1.2 1.9-1.7-0.6-1.3 3.2-1.5 0.1-1.5 2.7-1.1 1.4-1.5 1.9-1.8 3.6-1-0.9-1.6 1.9-1.4 6.2-1.7 0.3-1.3 0.8-1.1-0.5-1.5 4.1-1.5 0.8-1.5 5.2-1.8-0.5-1.3 3.6-1.4 1.4-1.2 0.8-1.1 1.1-1.7 3.3-1.7 2.4-1.6 0.5-1.2 0.4-1.2-1.2-1.5 5.8-1.1" fill="none" stroke="#1c1c1c" stroke-width="0.8" stroke-linejoin="round"/>
<path d="M519.9 143.3l2.1-1.9-0.7-1 3.4-1.6 1-2 0.1-1.9 1.4-1.1 2.1-1.8 0.2-1.7 1.1-2-2.2-1.2 1.5-1.8 0.6-1.2 1.4-1.3 1.8-1.7 1.5-1.9 0-1.1 0.7-1.3 0.2-1.4 2.1-1.6 2.1-1.8 3-1.5-1.7-1.4 0.8-1.2 4.2-1.3-0.7-1.7 0.6-1.9 0.6-1.9 1.3-1.9 1.8-1.3 1.7-1.8-0.5-1.1 1.2-1.8 0.3-1.5 2.2-1.1 0.9-1.7 0.2-1.5 0.2-1 1.1-1.8 3.3-1.9 1.6-1.7-0.1-1.4 0.9-1.2 3.2-1.4 0-2 0.4-1.3-0.6-1.6 0.8-1.2 0.5-1.9 0.1-1.8 0.2-1.6 1.7-1.1 0.5-1.3 3.4-1.7-0.8-1.2 0.1-1.8-0.3-1.5-0.2-1.2 1.8-1.1-0.5-1.1-0.4-1.8 3.2-1.5 0.3-1.5 0.8-1.9 2.4-1.5 0.7-2 2.1-1.1 1.7-1.3-0.1-1.1-0.5-1.5 0.5-1.8 3.5-1 0.4-2 0-1.6 3-1.5 3-1.9 0-1.1 2.2-1.1 1.7-1.9 0.8-1.6 4-1.4 1.2-1.5M527.4 143.3l-0.7-1.6-0.4-1.1 1.2-1.7 1.1-1.9 0.6-1.2 1.7-1.3-1-1.2 1.2-1.6 3.4-1 0.5-1.1 1.2-1.1 1.4-1.6 0.8-1.6-0.4-1.2 0.7-1.2 3-1.9 0.5-1.8 2.5-1.4 2.2-1.1 0.9-1-1.8-1.1 0.3-1.4 2.9-1.5 1.2-1.1-2.9-1.2 1-1.1 3.1-2-0.2-1 0.2-1.1 3.6-1.1 2-1.2 0.4-1.1 2.3-1.9 0.9-1.5-1.5-1.4 0.7-1.5 1.3-1.1 2.3-1.5 1.9-2 0.6-1.7 2-1.7-2.7-1.5 3-1.8 2.2-1.2 0-1.2-0.4-1.1 1.7-1.8 0.6-1.1 2.4-1.7 1.7-1.2 1.6-1.2-0.2-1.4-1.1-1.3 5.3-1.8 0.7-2 0.4-1.5 0.1-1.6 0.1-1.1 4.2-1.7 0.2-1.1 0.7-1.5 0.9-1.8 0.6-1.1 0.9-1.7 0.4-1.3 0.8-1.6-0.2-1.4 3.9-1.1 1.9-1.7 2.1-1.1 1.3-1.8 0.2-1.5 0.5-1.1-0.3-1.2 1.2-1.4 1.9-1.2-0.4-1.2 3-1.9 3.2-1.9 3.1-1.4 1.4-1.9 0-1.7 1.6-1.8 2.8-1.7 1.4-1.5 4.2-1.8M529.3 143.3l1.9-1.1 3-1.5-1.9-1 2.3-1.6 1.6-1.9 0.1-1.5 2.2-1.9 1.9-2 0.8-1.7 0.9-1.8 2.2-1.3 2.7-1.4-1.3-1.1 1.5-1.6 0-1.1 0.8-1.5 2-1.2 2.9-1.1-1-1.7 3.8-1.8 0-1.3 0.9-1.2 0.7-1.2 1.4-1.1-0.6-1.8 4-2 1.8-1.1 3.5-1.9-1.3-1.8 2-1.4 0.1-1.6-1.4-1.9 3.8-1.5 0.5-1.3 1-1.7 1.3-1.7-0.4-1.5 2.1-1.7 1.1-1.3 1.4-1.3 0.1-1.7 1.7-1.9 3.5-1.3-0.1-1.6 0.7-1.9 0.5-1.8 3-1-1-1.5 4.4-2 1.8-1.1-0.7-1.3 3.1-1.8 0.7-1.4 0.8-1.5 2.7-1.9 1-1.5 0.7-1.4 4.5-2 1.1-2 1.2-1.3 3.9-1.2-0.6-2 1.5-1.1 1.2-1.8 2.6-1 1.6-1 1.6-1.9 1.6-1.6 1.1-1.6 2.5-1.2 2.3-1.4 1.4-1.5 1.9-1.8 1.7-1.2 2.3-1.2 0.2-1.9 3.3-1.4 2.4-1.5 0.9-1.9-0.4-1.9 3.9-1.7M531.8 143.3l0.8-1.7 0.3-1.7 2-1.5-0.7-1.8 2.2-1.2 1.7-1.1 2-1.7 0.6-1.9 2.5-1.8 1.2-1.7 0.6-1 2.8-1.8 2.1-1.1 0.9-1.6 1.1-1.6 2.7-1.8 1-1.9-0.8-1.7-1-1.8 1-1.4 2.7-1.5 1.6-2 4.1-1.7-0.2-1.9 2.6-1.4 2.2-2 2.7-1.5-2.1-1.5 4.2-1.6-1.9-1.8 2.7-1 2-1.9 0.8-1.3 2-1.7-0.8-1.1 2.7-1.1 2.9-1.3 2.7-1.5 0.2-1.6 1.2-1.4-0.8-1.3 0.4-1.6-0.7-1.1 2.1-1.4 2.9-1.8 3.9-1.5 1.2-1.1-0.4-1.5 3-1.5 2.2-1.6 0.9-1.8 2.8-1.3-1.3-1.9 2.2-1.3 0.6-1-0.4-1.9 5.4-1-1-1.5 3.9-1.7 2.9-1.9-1.3-1.3 3.6-1.4 1.8-1.2 0-1.3 2.8-1.2 0.6-1.7 1.9-1.3 0.3-1 0.3-1.3 6-1.8-1-1.1 0.1-1.1 4.1-1-0.5-1.8 2.9-1.1 2.2-1.9 2.5-1.3-0.2-1.2 2.2-1.2 1.1-1.7 2.8-1.5 0.9-1.1 2-1.4" fill="none" stroke="#fff" stroke-width="0.8" stroke-linejoin="round" opacity="0.9"/>
<path d="M558.7 143.7h1.7v-1h1.7v-2.9h1.7v-2.3h1.6v-0.6h1.7v-1.6h1.7v-0.8h1.7v-1.2h1.7h1.7v-2.3h1.6v-0.7h1.7v-2.4h1.7v-0.7h1.7v-2.7h1.7v-2.9h1.7v-2.5h1.7v-2.1h1.6v-1.5h1.7v-2.4h1.7v-2.3h1.7v-2.4h1.7v-2.3h1.7v-2.2h1.7v-2.6h1.6v-2.1h1.7v-2.5h1.7v-2.8h1.7h1.7v-2.7h1.7v-1.9h1.6v-2.3h1.7v-2.3h1.7v-1.1h1.7v-0.7h1.7v-2.7h1.7v-1.8h1.7v-2.1h1.6v-3.5h1.7v-1h1.7v-0.7h1.7v-2h1.7v-1.2h1.7v-0.1h1.7v-1.3h1.6v-3h1.7v-1.2h1.7v-1.1h1.7v-0.8h1.7v-1.9h1.7v-1h1.6v-1h1.7v-1.2h1.7v-1.9h1.7v-1.9h1.7v-1.3h1.7v-1.1h1.7v-1.5h1.6v-1.2h1.7v-1.7h1.7v-2.2h1.7v-2.9h1.7v-2.4h1.7v-2.4h1.7v-1.7h1.6v-0.8h1.7v-0.8h1.7v-1.1h1.7v-2.5h1.7v-1.9h1.7v-1.3h1.6v-1.4h1.7v-0.7h1.7v-1.1h1.7v-2.3" fill="none" stroke="#3d9a3d" stroke-width="0.9"/>
</g>
<line x1="564" y1="23.2" x2="564" y2="140.8" stroke="#333" stroke-width="1"/>
<line x1="563.5" y1="140.3" x2="681.2" y2="140.3" stroke="#333" stroke-width="1"/>
<line x1="562" y1="128.3" x2="564" y2="128.3" stroke="#333" stroke-width="0.9"/>
<line x1="562" y1="105.2" x2="564" y2="105.2" stroke="#333" stroke-width="0.9"/>
<line x1="562" y1="82.1" x2="564" y2="82.1" stroke="#333" stroke-width="0.9"/>
<line x1="562" y1="58.9" x2="564" y2="58.9" stroke="#333" stroke-width="0.9"/>
<line x1="562" y1="35.8" x2="564" y2="35.8" stroke="#333" stroke-width="0.9"/>
<text x="559.2" y="39.6" font-size="11" text-anchor="end" fill="#222" >70</text>
<text x="559.2" y="87.1" font-size="11" text-anchor="end" fill="#222" >50</text>
<text x="559.2" y="131.6" font-size="11" text-anchor="end" fill="#222" >30</text>
<line x1="580.6" y1="140.3" x2="580.6" y2="138.3" stroke="#333" stroke-width="0.9"/>
<text x="580.6" y="153.8" font-size="11" text-anchor="middle" fill="#222" >80</text>
<line x1="614.3" y1="140.3" x2="614.3" y2="138.3" stroke="#333" stroke-width="0.9"/>
<text x="614.3" y="153.8" font-size="11" text-anchor="middle" fill="#222" >100</text>
<line x1="648" y1="140.3" x2="648" y2="138.3" stroke="#333" stroke-width="0.9"/>
<text x="648" y="153.8" font-size="11" text-anchor="middle" fill="#222" >120</text>
<text x="612.9" y="166.3" font-size="11.2" text-anchor="middle" fill="#222" >Neurite Length (pixels)</text>
<text transform="translate(543.8,76) rotate(-90)" font-size="11.4" text-anchor="middle" fill="#222">Cumulative Percent</text>
<text x="565.6" y="21.9" font-size="20.5" text-anchor="start" font-weight="bold" fill="#000" >d</text>
<line x1="623.7" y1="7.1" x2="623.7" y2="12.9" stroke="#f00" stroke-width="1.5"/>
<path d="M621.3 12.4L626.1 12.4L623.7 19.4Z" fill="#f00"/>
<line x1="642.4" y1="11.6" x2="642.4" y2="15.1" stroke="#000" stroke-width="1.5"/>
<path d="M640 14.6L644.8 14.6L642.4 21.6Z" fill="#000"/>
<line x1="545.1" y1="72.9" x2="554.6" y2="72.9" stroke="#f00" stroke-width="1.4"/>
<path d="M554.1 70.8L554.1 75L560.6 72.9Z" fill="#f00"/>
<line x1="545.8" y1="99.3" x2="554.6" y2="99.3" stroke="#000" stroke-width="1.4"/>
<path d="M554.1 97.2L554.1 101.4L560.6 99.3Z" fill="#000"/>
<text x="614.5" y="108.7" font-size="11.4" text-anchor="start" fill="#222" >DMSO</text>
<rect x="606.2" y="107.4" width="1" height="1" fill="#9c9"/><rect x="610.7" y="107.4" width="1" height="1" fill="#9c9"/>
<text x="616" y="117.8" font-size="11.4" text-anchor="start" fill="#222" >water</text>
<rect x="606.2" y="116.6" width="1.7" height="1.1" fill="#454"/><rect x="610.7" y="116.6" width="1.7" height="1.1" fill="#454"/>
<text x="613.5" y="130.3" font-size="11.4" text-anchor="start" fill="#222" >H1152</text>
<rect x="605.6" y="127.4" width="6.8" height="1.3" fill="#3d9a3d"/>
<g clip-path="url(#c6)">
<path d="M31 191L147 191L147 225L128 225L128 232L121 232L121 240L112 240L112 248L104 248L98 256L85 262L72 270L60 282L48 292L40 300L33 310L31 310Z" fill="url(#s4)"/>
<g transform="scale(8.0,1)">
</g>
<path d="M-6.1 313.2l0-1.2 3.3-1.9-0.3-1.7 1.1-1.9-0.1-1.3 0.3-1.7 1.5-1.3 2.2-1.8-2.1-1.2 0.5-2 1.4-1.4 2.6-1.4 1-1.4 1.9-1.6-1.2-1.4 2.4-1.8 0.3-2 0.6-1 1.3-1.9 0.3-1.7-0.4-1.5 2.1-1.9 0.9-1.1 1.5-1.4-1.1-1.4 2.6-1.5 3.2-1.4-1.9-1.2 2.7-1.3-1-1.9 1.6-1.1 0.7-1.9-1.3-1.1-0.5-1.5 3.9-2 0.6-1.7 1.4-1.9 1.7-1.9 1.6-1.5 0.7-2 0.5-1.8-1.7-1.6 2.4-1.6 1.1-1.7 1.2-1-0.2-1.3 0-1.4 1.1-1.6-0.4-1.3 2.9-1.8-1.4-1.9 1.3-1 0.7-1.4 2.4-1.6 2.1-1.9 2.1-1.4-1.2-1.3-0.7-1.3 0.4-1.3 2.9-1.1 3.3-1.7 0.4-1.1-1.7-1.4 1.9-1.9 1.2-1.3-0.6-1.8 1.3-1.9 1.3-1.4 1.2-1.7-0.5-1.2-0.3-1.6 0.3-1.6 2-1.4 0.4-1.2 1.5-1.1 1.3-1.6 2.2-1.7 0.3-1.8 4.7-1.9-0.4-1.7 1.3-1.1 1-1.3M-7.5 313.2l1.2-1.7 0.3-1.6 0-1.2-0.4-1.8 3-1.5 0.4-1.2 2.9-1.8 1-1.4-0.5-1.9 2.5-1.5-0.9-1.5 1.7-1.6-1.6-1.4 3.9-2 1.1-1.3 0.6-1.3 2-1.9 2.5-2-0.5-1.6 0.6-1.4 1-1.5-0.4-1.8-0.1-1.4 0-1.2 1.1-1.9 3-2 0.5-1.6 1.3-1.2-0.4-1.8 2.1-1.7 0.5-1.6 4.1-1.5 1.8-1.2-2.7-1.1 1.2-1.9 0.4-1.5 3-2 2.1-1.2 3.9-1.2-2.7-1.6-0.6-1.8 2.1-1.6 0.4-1.8-0.4-1.7 2.6-1.4-1.5-1.7-0.7-1.4 5.1-1.3 1.3-1.7 0.7-1.2 0.7-1.7 2.2-1.1-0.5-1.7-0.6-1.2 0.1-1.3 1.3-1.2 2.1-1.8 0.4-1.5 2.7-1.7-0.3-1.5 1.6-1.8-1.3-1.6 4.2-1.8 0.7-1.2-1-1.4 2.3-1.6 0.1-1.6 2.3-1.6 0.5-2 1.1-1.8 2-1.9-1.2-1.4 2.4-1.1-0.3-1.1 2.6-1.6 1-1.6 0.5-1.8 1.9-1.4 1.8-1.8 0.8-1.3 3.3-2M-9.2 313.2l2.9-1.5 2.4-1.8-0.5-1.5-0.9-1.5 1.9-1.4 3.7-2 2.6-1.9-1.7-1.7 2.5-1.5 1.4-1.2 0.6-1.9-0.7-1.9 1.3-1.8 0.1-1.2 1.8-1.2 0.2-1.4-0.4-1.8 2.9-1.6 2.4-1.4-0.7-1.7 0.4-1.7 0.9-2 2.6-1.9 1.2-1.2-1-1.1 0.4-1.2 1.1-1.4 0.8-1.7 3.9-1.6-3.9-1.9 3.4-1.4 1.6-1.2-0.1-1.8 2.8-1.7 2.5-1.5-0.2-1.6 0.4-1.2 2.5-1.4 1.3-1.6-1.5-1.8 1.9-1.4 1.2-1.9 0.6-1.2 1.2-2 1.4-1.3 0.5-1-0.1-1.7-0.3-1.7 1.7-1.1-0.7-1.7 5.2-1.2-1.7-1.4-1.4-1.4 1.6-1.4 3.4-1.6-0.5-1.4 1.2-1.9 0.7-1.5 0.5-1.3 2.6-1.8 0.7-1.6 1-1.2-1-1.3 1.1-1.5 0.3-1.5 4.6-1.2-1.6-1.4-1-1.4 2.1-1.6 1.9-2 0.9-1 0.6-1.3 3.1-1.6-1.4-1.3 1-1-0.7-1.9 1.1-1.1 0.9-1.9 3.2-1.9-1-1 0.8-2 0.9-1.2 5.3-1.5M-8.8 313.2l2.8-1.9 1-1.2 1-1.9 0.1-1.9 3.7-1.6 3-1.7 0.2-2-1.2-1.9 2.1-1.1 1-2 0.6-1.1-1-1.1 1.3-1.2 0.5-1.9-0.6-1 1.2-1.3 1.5-1.2 1.8-1.7 1.7-1.9 2.5-1.9 1.4-1-0.3-1.8 3-1.4-0.1-1.6-0.3-1.1 1.1-1.7 1.4-1.3 1.7-1.3 0.1-1.1 2.9-1.9-1.6-1.7 3.7-1.4-1.5-1.4 0.9-1.5 1.8-1.7 1.9-1.3 0.6-1.4 2.3-1.1-1.7-1.4 1.7-1.2-1.7-1.6 2.9-1.2 2-1.4-1.9-1.8 1.8-1.9 2.3-1.2 0.8-1.7 0.1-1.2 1.7-1.8 2.7-1.9-0.1-1.7-0.6-1.7 1.6-1.6 2.7-1.9 1-1.1 0-1.8 1.8-1.9 1.2-1.8 0.7-1.3 5.3-1.8-0.3-1.2-0.9-1.6 1.8-1.8 0.6-1.1 0.7-1.2 0.3-1.3 2.6-1.9 0.6-1.8 1-1.9-0.1-1-0.2-1.8 2.3-1.7 0.9-1.8 4.5-1.3 0.3-1.8 0.5-1.6 0.5-1.8 1.6-1.9 3.9-1.9-1.3-1 1.5-1.5 1.8-1.5M-8.5 313.2l-1-1.4 3.5-1-1-1.5 1.8-1.3 1.3-1.4 1.7-1.6-0.7-1.1 1.3-1.4 1.9-1-0.1-1.3 3.3-2 0.3-1.2 1-1.1-0.9-1.3 3.4-1.3 1.8-2-0.1-1.8 3-1.3 0.9-1.6 1.1-1.7 1-1.7-1-1.9 2.1-1.2-2-1.1 3.4-1.2 1.5-1.5 1.4-1.8 2-1.2-1.1-1 1.1-1.3 2-1.7 1.7-1.4 1.7-1.7-0.3-1.4 0.9-1.3 0.4-1.2 1.4-1.1 1.8-1.9 1.3-1.9-0.6-1.3 1.2-1.1 0.1-1.3 2.9-1.6 0.6-1.3 1.6-1.7 1.9-1.6 2.2-1.5 0.5-1.5 2.1-1.6 1.9-2-2-1.3 0.5-1.5 3.3-1.8 2.7-1.8-0.9-1.8 0.8-1.5 1.9-1.5 0-1.5 1-1.9-0.4-1.4 3.7-1.4 1.7-1.8 0.6-1 0.3-1.5-0.5-1.7 0.6-1.7 2.1-1.7 4.7-1.9-1.9-1.9 0.8-1.3-1.4-1.5 3.8-1.9 2.7-1.7 1.4-1.2 1.1-1.1 1.5-1.3-1.7-1.4 0.6-1.4 3.5-1.6 0.6-1.6 3.8-1.3 3.1-1.7-1.6-1-0.2-1.6-0.9-1.2M-7.6 313.2l3.1-1.5 0.6-1.9 3.2-2-0.9-1.3 1.5-1.1 0.7-1.2-0.5-1.2 2.9-1.9 0.5-1.1 2.1-1.4 1.7-1.3 1.8-1.6 1.3-1.2 0.4-1.7 1.1-1.6-2.1-1.1 0.8-1.5 1.3-1.7 1.6-1.8 2.2-1.9 1.6-1.6 0.1-1.7 1.5-1.4-1.9-1.4 1.9-1.4 3.3-2 0.8-1.5 2.1-1.2 1.7-1-0.6-1.8-2.1-1.7 1.3-1.9 6-1.2 2.5-1.9-1.1-1.8 1.1-1.2-0.1-1.2 1.9-1.1-1.2-1.4 3.3-1.1 2.8-1.6 1.4-1.3-1.2-1.1 0.5-1.9 2.8-1.9 0.6-2 3.5-1.2 0-1.1 0.4-1.5 0.9-1.3-1-1.1 1.4-1.5 1.4-1.9 1.4-1.1 1-1.1-0.3-1.5-0.1-1.5 1.8-1 2-1.7 2.2-1.7-0.5-1.2-1.4-1.4 4-1.6-1.6-1.5 2.2-1.7-0.6-1.9 2.5-2 3.9-1.9 3.3-1.6 1.5-1.9-2.2-1.8 2.9-1.7 0-1.3-1.3-1.5 0.4-1.6 2.2-1.5 0.1-1.2 1.8-2 1.1-1.8 3-1.5 2.8-1.6-1-1.3 0.8-1.7M-5.1 313.2l2-1.9-0.1-1.5 0.1-1.7-0.8-1.3 2.2-1.5 2.8-1.6 2.8-1.7 1.2-1.7 2-1.5 1.2-1.5 2.5-1.6 1.2-1.3-0.9-1.4-0.2-1.4 1.5-1.1 2.2-1.1 0.8-1.4-2.4-1.3 4.4-2-1-1.2-1.3-1.9 3.2-1.5 1.2-1.7 1.6-1.3 0.8-1.8 1.3-1.2 2.6-1.5 1.2-1 1.3-1.1 2.6-1.7-2.9-1.4 0.8-1.4 1.1-1 2-1.4 0.3-1.2 2.2-1.4-0.1-1.3 3.1-1.3 3.4-1.9-0.8-1.8 0.8-1.6 1.4-1.6 3.7-1.9-1.3-1.6 4.6-1.9-0.3-1.7 1.9-1.9 1.2-1.2 1.1-1.9 3-1.8-1.7-1.7 1.6-1.6-0.5-2 3.7-1.3 0.9-1.5-1.1-1.9 1.7-1.2 1.2-1.4 0.9-1.1 1.5-1.7 0.7-1.8 0.8-1.6 1.7-1.9 2.2-1.7 1.7-1.3 3-1.4 0.7-1.4-0.6-1.2 1.5-2-2.1-1.5 2.8-1 2.5-1.7 0.7-1.7-0.3-1.7 0.7-2 2.3-1.8 1.2-1.1 1.8-1.4 2.3-1.1 1.6-1.3 2.4-1.9 1.6-1.7-0.9-1.1M-6.6 313.2l0.3-1.1 0.9-1.4 2.5-1.4 0.8-1.8 0.5-1.4 3.3-1.9 0.5-1.3-1.4-1.2 3.5-1.1 1.1-1.5 0.8-1.7 0.9-1.1 2.6-1.4 1.2-1.2 1.9-1.9 0.2-1.9 1.5-1.6 1-1.5-0.7-1.3 1-1.1 1.9-1.2-0.2-1.2 2.1-1.5 1.5-1 1.4-1.2-1.2-1.4 2.2-1 3-1.2 0.1-1.3 1.2-1.8-0.4-2 0.9-1.4 2.2-1.9-0.4-1.1 1.2-2 2-1.6 2.8-1.4 1.7-1.1 1.1-1.9 3.6-1.4 1.9-2 0.4-1.1 0-1.5 1.4-1.4 1.8-1.9-0.1-1.5 1.4-1.7 0-1.5 0.6-2 1.6-1.6 1-1.2 1.4-1.9 4.7-1.8 0.4-1.1-0.5-1.4-0.7-1.1 3.1-1.5 1.3-1.7-0.1-1.8 3.7-1.4-0.6-1.1 2.8-1.7 0.5-1.1 1.1-1.1-0.8-1.9 0.3-1 1.4-1.8 1-1.4 2.2-1.1 0.1-1.5-1.2-1.7 4.9-1.3-0.8-1.7 1.9-1.9 3.6-1.6-1.9-1.1 2.9-2 4.7-1.9-0.9-1.2-1.5-1.9 2.3-1.6 3.8-1.5 4.6-1.9-2.9-1.3 2.3-1.5M-5.6 313.2l2.1-1.7 1.5-1.7-0.5-1.7 2.5-1.4-0.5-1.7 0-1.9 5.2-1.6 0.8-1.1 1-1.7 1.1-1.9 1-1-0.4-1.5 0.3-2 3.8-1.4 0.3-1.4 2.9-1.5 2.4-1.6 2-1.2 1.3-2 2.7-1.9 0-1.8-0.6-1.8 0.7-1.4 1.3-1.8 4.7-1.9-0.6-1.7 2.4-1.3 0.8-1.5 0.8-1.3 2.2-1.2 0.5-1.5 0.5-1.9 0.9-1.2 0.7-1.1 2.2-1.3 1.6-1.3-1.1-1.7 3.2-1.3 1.9-1.2 0.9-2 0.3-1.9 3.2-1.1 1.4-2-0.1-1.3 1.4-1.5 1.7-1.5 1.5-2 1.3-1.9 3.8-1.5 0.3-1 0.5-1.6-1.5-1.1 1.1-1.5 1.8-1.2 2.1-1.6 2.8-1.3-3-1.2 0.9-1.9 0.4-1.4 2.4-2-0.6-1.5 2-1.5 3.3-1.7 1.8-1.8 1-1.1 1-1.8-0.9-1.1-0.7-1.9 1.9-1.4 2-1.4 0.3-1.1 4.3-1.6 1.4-1.5 1.2-1.7 1.7-1.4 0.8-1.9 0.2-1.3 4-1.6 1.2-1.3 2.7-1.9 1.5-1.3 1.4-1.7M-6.5 313.2l3-1-2.2-1.2 2.8-1.3 2.3-1.1 2.8-1.2 1.2-1.8 0-1.6-0.6-1.6 3.4-1.9 0.8-1.5 3-1.6-2.6-1.2 3.1-1.4 0.6-2 1.4-1.2 2.7-1.5-1.3-1.6 6.5-1.9 0-1.3 1.2-1.3 1.2-1.8 3-1.4 1.1-1.7 0.1-2 1.5-1.2 1.9-1.9 4.1-1.9-0.4-1.6 0.3-1.8 2.8-1.8-0.7-1.8 2.5-1.6 0.2-1.4 2.5-1.1 1.5-1 0.8-1.6 1.9-1.2 2.9-1.8 0.4-1.7 1.8-1.8 4.1-1.4-0.5-1.6 2.9-1.2-1.2-1.2-0.3-1.2 3.4-1.3 2.1-1.9 1.6-1.5-1.6-1.4 3.5-1.7-2.9-1 0.7-1.2 3.9-1.1-1.9-1.7 3.5-1.8 1.9-1.8 1.4-1.5 0.1-1.7 0.5-1.6 4.5-1.5-0.4-1.7 1.2-1.9-0.5-1-2-1.3 2-1.9-0.2-1.1 3.7-1.4 2.4-1.2 1.9-1.5-0.7-1.3 2.7-1.9 0-1.9 0.7-1.6 2.8-1.1 0.7-2 3.9-1.6 0.8-2 0.4-1 2.2-1.4 4.3-1.8 1.6-1.7 2.7-1.3 0.2-1.7" fill="none" stroke="#444" stroke-width="0.8" stroke-linejoin="round"/>
<g clip-path="url(#c7)">
<path d="M30.7 313.2l-2.2-1.6 1.7-1.2 0.4-1.5-1.2-1.7 2.3-1.2 0.4-1.8-0.3-1.2 4.5-1.6-1-1.3-0.1-1.1-0.8-1.3 2.5-2-1.3-1 3-1 0.2-2-0.3-1.4-0.1-1.3-2.1-1 2.4-2 0.1-1.7 0.4-1.4 3.4-2-2.6-1.4-0.1-1.8 0.7-1.2 0.4-1.2 0.4-1.4 2.8-1.1-0.6-2 2.9-1.2-0.6-1.5-1-1.7 1-1.4 2.3-1.5 1.1-1.9 1.6-2-2.2-1.6 0.8-1.3 0.3-1.3 1.2-1.8 2.3-2-3.3-1.8-0.1-1.3 2.2-1.5 0.8-1.6 2.4-1.7 0.3-1.6 4.6-1-0.9-1.9-1-1.2-2.7-1.5 0.2-2 0.6-1.5 1.3-1.1 2.4-1.3-0.3-1.1 0.9-1.7 1.9-1.5 0.1-1.8 1.6-1.7-0.3-1.6 0.6-1.2-1.6-1 0.1-1.3 0.9-1.5 0.3-1.9 0.4-1.9 2.5-1.4 0.6-1.6 1-1.9 0.2-1.1 0.3-1.4 0.5-1.8 1.1-1.5-2.3-1.6 3.2-1.2-1-1.8-0.6-1.4 2.2-2 0.1-1.6-0.5-1.4 0.3-1.2 1.1-1.4 4.7-1.7M13.4 313.2l-0.1-1.4-1.2-1.4 1.9-1.1 0.1-1.3 2.3-1.6 1.4-1-0.4-1.8 0.1-1.5 0.9-1.3 3.7-1.8-2.1-1.4 0-1.1 1.2-1.2 0.5-1.9 0.4-1.9 1.6-1.4 1.9-1.3-0.1-1.2-1-1.2-0.7-1.4 1.3-1.9 2-1.1-0.5-1.4 1.7-1.5 1.1-1.3-0.3-1.5 0.7-1.6 0.2-1.4 0.7-1-0.4-1.3 1.5-1.3-1-1.4 0.7-1.7 3.3-1.8-1.2-1.9 1.7-1.4 2.3-1.4-2.3-1.9 2-1.7 0.3-1.7 0.9-1.8 0.1-1.4 0.9-1.8 1.3-1.3 0.3-1.6 1.6-1.2-0.5-1.7 1-1.7 0.9-1.2-1.3-1.9 0.9-1.7 0.6-1.1 0.5-1.5 2.1-2 0.3-1.3-1.6-1.3 1.8-1.1 1.5-1.2 0.8-1.9 0.4-1.1-1.6-1.5 2.6-1.4-0.5-1.5 0.5-1.9-0.6-1.9 0.4-1.7 3.9-1.6 0.7-1.3-1.3-2 1.7-1.9 0.7-1.5-1.1-1.4 0.9-1.3 1.3-1.8-1.1-1.5 3-1.3 1.9-1.7 0.2-1.3 0.7-1.4 0.7-1.6-1.2-1.9 0.7-1 3.2-1.2-0.4-1.4 4.4-1.8M6.4 313.2l2.3-1.1-0.2-1.9 0.7-1.2 0.2-1.3-2.5-1.6 0.8-1.4 2.5-1.7 1.3-1.7 0.3-1.7 2.2-1.3 0-1.7 0.3-1.8-0.4-1.4 0.6-1.2 1.1-1.8-0.2-1.7 1.2-1.7 2.8-1.7-0.8-1.8-0.1-1.5 1.2-1.9-0.3-1.4-0.8-1.5 2-1.1-0.2-1.6-0.1-1.9-0.6-1.7 1.8-1.8 3.4-1.2 0.6-1.2 0.9-1.8 1.4-1.8-1-1.2-0.4-1.4 2.4-1.1 1.8-1.2-2-1.5-0.3-1.6 0.6-1.1 1.2-1.1 1-1 1.9-1.5 2.8-1.6-0.9-1.6 2.9-1.5-2.7-1.5 0.1-1.4-0.2-1.8 1.7-2 0.5-2 0.5-1.6 2.4-1.4 0.4-1.7 0.1-1.6 0.5-1.4 0.3-1.5-0.1-1.5 1-1.1 1-1.8 3.6-1.9 0.7-1.8-1.4-1.3-1.7-1 0.4-1.1 1.1-1.2 1.4-1.9-0.7-1.2 2.5-1.1-1.7-1.3-0.8-1.1 2.4-1.5 0-1.3 1.3-1.3-2.9-1.8 3.4-1.4 0.4-1.5 1.6-1.6 1.2-1.1-0.6-1.6 0.8-1.6-0.3-1.6 1.2-1.3-0.5-1.6 1.2-1.2 0.5-1.1M-7.2 313.2l2.6-1.8 1.6-1.8 2.2-1.6 2-1.7-0.4-1.9-0.9-1.8 0.4-1 0.5-1.3 0.6-1.8 0.4-1.7 1.6-1.7 1.5-1.2 0.2-1.8 1.1-1.9 1.6-2 1.9-1.9-0.4-1.5-1.3-1.3 1.1-1.1 2.1-2 0-1.2-1.7-1.9 3.4-2 1.7-1.4-1-1.3 2-1.5-1-2 0.3-1.3 3.2-1.5 2.4-1 0.2-1.3 0.2-1.2-0.1-1.1 3.1-1.1 1-1.3-2.7-1.3 1.5-1.8-0.9-1.1 0.1-1.3 0.8-1.8 1-1.7 0.1-1.6 1.3-1.2-1.3-1.4 2.5-1 1.6-1.4 1.1-1-0.8-1.1 0.9-1.1 0.8-1.5 1.6-1-0.4-1.3 2.2-1.5-1.2-1.3 1.8-1.8 1-1.8 0.8-1.7 0.8-2-0.3-1.3 3.2-1.2-2.6-1.3 4.1-1.3 0.2-1.8 0.7-1.7 0.2-1.1 2.8-1.7 0.1-1.9-0.7-1 1.4-1.9 0.3-1.9 2-1.3 0.6-1.8 1.2-1.7-0.3-1.3 3.1-1.4-0.7-1.8-0.5-1.4 4.7-1.3-0.6-1.4-0.3-1.2 1.6-1.6 3.5-1.2-0.9-1.1-1.3-1.4-0.3-1.1M3.9 313.2l-0.3-1.2 2.3-1.7-1.2-1.2 3.2-1.6 0.2-1.4-0.6-1.1 3.4-1.3-1.6-1.1 2.5-1.4-3.4-1.1 4.6-1.2 0.8-1.1-1-1.9 0.3-1.6 2.1-2 0.2-2-0.5-1.3-1.2-1-0.2-1.8 2-2 0.4-1.4 0.8-1.1 1.7-1.7 2.1-1.7-0.1-1.2 1.5-1.5-1.9-2 2.4-1.9 0.2-1.2 3.1-2 0.1-1.9 1.7-1.6-0.9-1.7 2.8-1.6-0.3-1.6-0.7-2-0.4-1.1 1.7-1.3 3-1.9-1.7-1-3.2-1.6 3.9-1.6-0.9-1.7 1.2-1.6-0.9-1.8 1.9-1.1-0.9-1.4 3.1-1 2-1.2 2.2-1.8-0.3-1.1 0.3-1.8-1.1-1.9 1.7-2-0.9-1.2 2.9-1.5 1.7-1.6-0.6-1.5 0.8-1.8 1-1.2 2.5-1.8 1.1-1.9 0.2-1.2 4-1.6-2.7-1.4-1.9-2 0.1-1 1.8-2 0-2-0.1-1.5 0-1.5 2.9-1.6-0.5-2 1.4-1.6 0.1-1.7 0.7-1.2 3.5-1.6-2.6-1.7 2.6-1.9 0.4-1.3 1.8-1.7-0.3-1.4M17.2 313.2l3-1.3 1.4-1.4-1.5-1.2 0.9-1.8 3-1.1-1.9-1.3 1.9-1.8 1.3-1.2-2.1-1.8 2.4-2 0.5-2 1.9-2-0.7-1.7 3.7-1.9 0.4-1.5 0.4-1.2 0.3-1.9-0.4-1.1 1.3-1.4 0.5-1.8 2.7-1.6 0.3-1.2-1.1-1.4 0.3-1.3-1.5-1.3 3.4-2 0-1.4-0.8-2 0.9-1 1.9-1.5 2.8-1.7 1.4-1.8-1-1.3 0.4-1.3-0.2-1.2 2.1-1.9-0.5-1.3 1.7-1.2 2.7-1.8-0.2-1.3 0-1.9 0.6-1.8 0.1-1.3 2.7-1.2-1.1-1 1.7-1.4 1.6-1.8 1.4-1.2 2.2-1.2-0.5-1.6 0-1.5-2-1.1-0.5-1.4 1.9-1.2 1.9-1.8-0.1-1.2 3-1.9 0-1.5 1.1-1.8-0.4-1.8 1.1-1-0.6-1.9 0.8-1.5-0.5-1 0.2-1.6 1.3-1.2 1.5-1.2 0.8-1.7 0.1-1.4-1.2-1.1 1.7-1.7 1-1.8 2.9-1.8 1.5-1.6-0.9-1.7 1.3-1.5 0.3-1.7 0.4-1.8 1.3-2 1.6-1.4 0.8-1.2 0.1-1.1-0.1-1.8M19.4 313.2l-1.1-1 0.8-1.2 0.5-1 1.3-1.8 1-1.2 0.4-1 2-1.3-0.9-1.2 0-1.4 0.4-1.9 1-1.1 0.4-1.1 2.1-1.8-0.2-1.9-0.2-1.2 3.2-1.7-0.5-1.6 2.2-1.3 0-1.4-0.5-1.4 0.5-1.1-0.1-1.5 2.3-1.2 1.5-1.5 2.3-1.4-4-1.8 0.3-1.8 0.9-1.2 3.6-1.3-0.9-1.5 0.5-2 5.3-1.6 0.8-1.9-1.4-1.8 0.4-1.4 1-1.3 0.1-1.9-0.6-1.8 1.9-1.2 1.1-1.7-0.3-1.1 0.8-1.5 1.6-1.1 0-1.1-0.9-1.4 1.9-1.3 0.7-1.2 0.7-1-0.6-1.5 1.5-1.5 1.8-1.7-1-1.8 1.1-1.1 0.9-1.1 2.5-1.6-1.9-1.1-0.8-1.7 1.3-1.6 0-1.6 2.5-1.7 0.7-1.4 2.6-1.4-0.4-1-0.1-1.5 1.1-1.8 2-1.6-0.5-1.9 1.5-1.3-0.3-1.7 3.2-1.3-1.5-1.4 2-1.8 0.1-1.2 3.2-1.9-2.7-1.2 0.3-1.1 1.6-2 2.8-1.5-2-1.9 1.6-1.2 1-1.2 0.5-1.4-0.3-1.8 1.8-1.9 2.2-1.2-0.4-1.5M4.3 313.2l0.9-1.6 1.6-1.5 1.8-1.3-0.1-1.3 1.8-1.9-1.8-1.8 1.7-1 2.7-1.2-0.1-1.3 0.2-1.6 1.6-1.7-0.6-2 0.1-1.9-1-1.7 0.5-1.1 1.1-1.9 2.4-1.2 1.3-1.6 2.7-1.8 0.3-1.5-0.9-1.1-0.4-1.8 0.3-1.4 4.2-1.7 0-1.3 0.8-1.6 1.8-1.6 3.4-1.6-2.4-1 0-1.8 0.5-1.1-1.8-1.5 1.9-1.1 1.5-1.9 0.2-1.3 1.4-1.9 0.8-1.5 0.3-1.1 0.8-1.1 0.7-1-0.9-1.8 1.5-1.6 1.1-1.1 1.5-2 3.5-1-0.6-1.6 0.1-1.2 2.9-1.4 0.2-1.3 1.2-1.2-4.1-1.6 1.1-1.1 1.9-1.1 1.2-1.1 1.8-1.5 1.4-1.1 0.6-1.8 2.2-1.3-1.2-1.6 0.3-1.7 2.1-1.3 3.6-1.5-2.5-1.3 3.3-1.7-0.4-1.5-1.1-1.5 0.3-1.9 0.8-1.3 0.6-1.3 2.1-1.6 0.1-2 1.2-1.5 3.8-1.6-3.6-1-0.8-1.5 1-1.3 2.8-1 2.9-1.8-2.1-1.1 2.6-1.5 1.7-1.1 0.5-1.6-0.1-1.8 0.4-1.4 0.8-1.1-1-1.2 2-1.6M18.3 313.2l0.6-1.2 0.6-1.4 0.9-1 0.3-1.3-0.3-1.4 0.9-1.2 2.7-2 0.5-1.4-3-1.6 1.8-1.9 0.8-1.2-2-1.1 3.2-1.7-0.4-1.4 0.3-1.7-0.2-1.2-0.1-1.8 1.8-1.6 1.8-1.3 3-1.3-0.9-1.2 0.7-1.2-0.2-1.9-0.2-1.2 0.7-1.2 1-1.4 0.4-2-1.8-1.2 1.3-1.2 1.2-1.4-0.7-1.1 2-1.5 0.9-1.3 1.4-2 2.4-1.8-2.5-1.1 0.9-1.4-0.7-1.4 2.1-1.1 0.9-1.7 0.1-1.8-0.8-1.1 1.6-1.9-1.2-1.2 1.2-1.6 1.2-1.5 2-1.7 1-1.3-0.8-1.9 0.9-1.8 0.5-1.3 0.3-1 0.2-1 1.9-1.5-1-1.6 1.1-1.9-1.6-1.2-0.8-1.1 1.5-1.8 2.1-1.3-0.4-1 2.3-1.5-0.6-1.5 0.4-1.5 0.8-2-0.1-1.6 1.4-1.9 1.1-1.4-1.1-1.6-0.1-1.8 0.5-1.2 1.7-1.7-0.4-1.5 2.3-1.4 2.4-1.7 0.5-1.2 0.2-1.3 0.8-1.1 2.3-1.4-1.7-1.8 0.3-1.8-0.2-1.6 1-1.3 3.4-2-0.3-1.8-1-1.1M9.9 313.2l1-2-2.2-1.4 0.3-1-0.5-1.3 0.3-1.1 2.2-1.8 1.3-1.8 0.9-1.6 0.4-1.6 2.1-1.2 1.1-1.3 0.5-1.8-1.4-1.5-1.2-1.5 4.3-1.9-0.7-1.7 3.8-1.4-3-1.2 3.6-1.8 1.1-1.3-1.7-1.1 2.3-2 0.6-1.7-1.4-1.5 1.7-1.1 0.1-1.7 1-1.4 2.7-1.2-3.2-1.8 2.8-1.8-0.5-1.3-2.1-1.3 1.5-1.7 2.1-1.6 0.2-1.1 2.3-1.7-1.6-1.2 3.8-1.7 1.3-1.6-0.9-1.8 1.3-1.3 0.2-1.5 1.3-1-0.4-1.6 1.1-1 2.8-1.9 0.3-1.5 0.1-1.5-1.7-1.1 0.7-1.9 2.3-1.1-0.5-1.8 2.6-1.8 1-1.1 0.6-1.5-1.5-1.3 1.9-1.9-0.5-1-0.2-1.1 1.3-1.4 0.8-1.4 0.2-1.9 3.8-2 0.8-1-2.3-1.3 1.1-1.2-0.4-1.6 4.3-1.4 0.3-1.2 0.2-1.6-1.7-1.5 0.9-1.6 3.2-1.7-1.7-1.8-0.2-1.9 3-1.9 3.5-1.8 0.9-1.7-2.4-1.7 2.7-1.5 0.2-1.6 2.1-1.7-1.5-1.2-1.7-1.4M22.3 313.2l-1.7-1.8-1.5-1.4 3.6-1-1.4-1.6 3.1-1.9-0.6-1.9-2.3-1.6 3.7-2 0.6-1.5 3.2-1 2.1-1.5 0.3-1.6-0.4-1.9-0.2-1.3 1.5-1.5 2.2-1.6-2.6-1.2 1-1.2 1.9-1 0.7-1.5 0.6-1.4-0.1-1.6 0.6-1.4 0.8-1.4 0.3-1.3 1.9-1.3 1.6-1-1.5-2 0.1-1.9-0.2-1.8 4.3-1.2 1-1.7-2.6-1.2 0.8-1.4-0.7-1.1 3.7-1.2 0.5-1.3 0.8-1.4-0.3-1.6 1.1-1.7 0.1-1.4-0.5-1.7 2.3-1-1-1.6-1.1-1.5 1.6-1.7 3.4-1.3 1.1-2 1.4-1.4-1.9-1.1 2.4-1.9 0-1.9 4-1.2 0.2-1.2-0.7-1.6-0.6-1.5-2-1.3 1.4-1.3 0.6-1.3 1.9-1.3-0.3-1 3.5-2 0.3-1.7 1-1.3 0-1.7-4.2-1.3 5.4-1.7-0.7-1.9 1.4-1.2 1.4-1.4 1.9-1.3 1.8-1.6-1-1.4 1.1-1.1 1.5-1.9 0.3-1.8 0.9-1.8 0-1.6 1.6-1.7-1.1-1.3 1.2-1.7 4.2-1.7-1.8-1.1 1.4-1.3-0.5-1.5M30.7 313.2l-0.2-1.8-1-1.6-0.2-1.7 2.6-1.1 1.3-1.9-0.6-1.8 3.7-1.6 1-1.1-1.3-1-0.4-1.4 2.3-1.8 1.3-1.9-0.4-2 2.2-1.5-1.8-1.6 2-1.6 0.4-1.2 2.3-2 0.8-1.4 0-1.1 0.2-1.5-0.1-1 1.1-1.7 3.5-1.6-1.1-1.9-0.3-1.7 2-1.9 2-1.1-1.7-1.4 2.3-1.1-2-2 3.3-1.4 2.2-1.3 0.3-1.1 1-2 0.7-1.2-0.1-1.4-0.4-1.6 0.7-1.9-0.1-1.1 1.4-1.9 2.2-1.3 0.9-1.1 1.2-1.6 2.2-1 0.7-1.5-2.5-1.1-0.4-1.5 1.2-1.4 2.8-1.3 1.6-1.1-1.9-1.8 3.5-1.9-1.8-1.7 1.6-1.2 1.4-1.9-0.3-1.8 2.5-1.2 0.4-1.6 1.2-1.7-0.1-1.9 1-1.4-0.8-1.9 3.1-1.7-2.6-1.3 3.2-1.7 1.5-1.8 0.2-1.7-1.1-1.2 3.3-1.7 1.5-1.9-1.6-1.6 2.5-2 1.7-1.8 1.7-1.9 0.4-1.6-0.6-1.9 0.1-1.4 3.9-1.5 2.2-1.8-1.5-1.6M-6.2 313.2l0.3-1.4 1.2-1.7-1.6-1.2 2.4-1.3-0.4-1.6 4.7-1.5-0.5-1.8 0.7-1.2 1.3-1.6 0.1-1.6 1.7-1.8-1.2-1.9 0.4-1.3 1.1-1.4 0.6-1.6 2.5-1.7 1.4-1.9 0.9-1.8 1.9-1.2-0.4-1.8-2.5-1 2.9-1.1-2-1 1.7-1.2 0.2-1.7-0.2-1 1.8-1.6 0.1-1.6 2.8-1.8 1-1.8 2.4-1.7 0.1-1.3 0.2-1.8 0.9-1.7 1.3-1.9 2-1.7-1.3-1.8 2.8-1.5-1.1-1.1 1.3-1.4 0.9-1.6-1.1-1.6 0.8-1.4 1-1.6 0.7-1.9 2-1.2 1.6-1.1 1.4-1.9-1.2-1.4 3.1-1.6-0.2-1.1 1.9-1.2 0-1.6 1.4-1.3 1.1-1.2-1.6-1.2-2-1.5 3.8-1.7 1.3-1.6 1.1-1.2 0.4-1.6-1.3-2 1-1.1 0.8-1.8 1.9-1.1-1-1 2.4-1.4 1.6-1.4-0.2-1.8 2-1.9 0-1.7-0.1-1 0.4-1.5 1.8-1-1.1-1.2 1.4-1.9 1.6-1.4 0.6-1.8-0.1-1.3 0.3-1.3 3.3-2 2.1-1.6 1.4-1.1 0.6-1.9M5.4 313.2l0.8-1.2 1.7-1.5 0.6-1.7-1-1 2.7-1 1.1-2-1.6-1.6 0.5-1.7 0.8-2 2.1-1.1 2.1-1.3 1.4-1.5-2-2 1.8-1.2 1.6-1.8 0.4-1.2-1.3-1.9 1.9-1.5 1.2-1.1 2.1-1.8 0.4-1.1 0.7-1.1 1.2-1.8-1.3-1.4 2.8-1.3 0.5-1.3 1.4-1.9 1.5-1.5 2.1-1.2 0.8-1.1-1.7-1.4-0.5-1 3.6-1.6 3.7-1.3-0.3-1.5-2.2-1.1-0.9-1.5 1.9-1.9 0.7-1.7 0.3-1.7-0.7-1.7 2.8-1.7 1.7-1.7 0.2-2 1.1-1.4 2.7-1.7-1.2-1.1 0.9-1.2-0.8-1-1-1.4 2.7-1.1-0.6-1.4 1.5-1.1 0-1.9 1-2 1.6-1.5 1.1-1.3 0.5-1.5 2.6-1.7-0.4-2 3.5-1.8-1.5-1.3 3.5-1.4 0.2-1.8 0.3-1.3 1-1.8-0.7-1.1 0.2-1.7 0.8-1.1 1.3-1.1-0.8-1.1 4.4-1.5 0.3-1.5-0.1-1.5 2.5-1.2-2.2-1.6 0.1-1.5 2.7-1.8 0.9-1.2 0.2-1.4-0.2-1.4 2.8-1.8 1-1.7-0.7-1.4 0-1.3-0.3-1.1M5.3 313.2l-1.1-1.4 2.7-1.4 0.1-1.1 1.9-1.8-1.1-1.6 0.9-1.4-1.6-1.5 0.7-1.2 2.8-1.8-1.2-1.4 0-1.2 1.3-1.2-1.8-1.4 2.5-1.7-0.7-1.1 1.6-1.3 1.7-1.2 1.1-1.5-0.3-1.5 0.6-1.8-1.2-1.3-0.5-1.9 4.4-1.2-0.9-1.8-2.6-1.6 2.8-1.4-0.9-1.5 0.1-1.5 3.2-1.6 0.8-1.7 1.1-1.3 0-1.7 2-1.5-0.1-1.8 0.5-1.5 0.7-1.3-2.1-1.2 1-1.7 3.3-1.8-2.1-1.6 1.3-1.2-0.1-2 2.3-1.7 0.7-1.1 3-1.4 1.2-1.1-2.4-1.6-0.9-1.5 0.3-1.8 1.9-1.4 1.3-1.4-2.1-1.6 2.6-1.6 0.3-1.9-0.5-1.9 1-1.8 1.2-1.9 1.8-1-0.7-1.8 0.7-1.2 1.5-1.8 0.8-1.2-0.9-1.4 1.4-1.5 0.6-1 2.2-1.2 0.3-1.4-1.1-1.5 1.9-1.2-1.8-1.8 1.6-1.6 1.2-1.4 0.6-1.8-1.7-1.7 2.3-1.3 0.6-1.1-0.6-1.6-1.1-1.2 2.6-1.2-0.8-1.1 0.2-1.9 0.5-1.8 1.1-1.9-0.6-1.2 3.7-1.5M6.1 313.2l-1.2-1.2 0.5-1.2 2.4-1.3-1.7-1.7 0.8-1.7 1-1.1 1.8-1.7 2.7-1.6-1.9-1.5 1.5-1.4 0.7-1.5 0.4-1.6 1.1-1.6-0.1-1.9-0.1-1.8 0.5-1.4 0.3-1.5-0.5-1 6.1-1.7 0-1.7 2.1-1.3-2.3-1.3 2.1-1.4-0.3-1.9-0.5-1.7 3.3-1.6 0.9-1.3-0.2-1.4 0.6-1.2 3.8-1.9-2.7-1.6 1.7-2-0.8-1.5 1.9-1.9 1.3-1.6-0.7-1.9 1.3-1.4 2.3-1.8 1.3-1.5-1.6-1.7-1-1 2.3-1.3 0.4-1.2 1-1.6 1.2-1.5 1.6-1-2.4-1.2 2.1-1.9 1.7-1.5-1.7-1 3.7-1.6-0.4-1.1-0.6-1.5 2-1.1 1.1-1.3-0.7-1.2-0.2-1.9 1.1-2-1.9-1.1 2.8-1.9 2.4-1.8-2.1-1.9 0.9-1.9 1.4-1.4 0.4-1.4-0.2-1.3 3.1-1.5 0.7-1.1 0.4-1.8-0.2-1.3-0.3-1.1 3.1-1-0.6-1.2 1.4-1.7 1.1-1.1-0.3-1-0.5-1.7 0.7-1.5 0.7-1.1-1.5-1.2 3.6-2 1.8-1.7 1.9-1.7 2.2-1.8-1.3-1.1M4.9 313.2l0.5-1.8-0.2-1.1 2.6-1.5-0.1-2 2-1.2 1.8-1.9-1.7-1.3 1.6-1.9 1.6-1.2 0.1-1.3 0.2-1.8-0.3-1.5 3.4-1.2 1.4-1.4-1.3-1 1.4-1.5 0.7-1.6-0.6-1.8 0.8-1.7 0.4-1.2-0.6-1.4 1.8-1.9-0.8-1.1 0.6-1.6-0.4-1.8 2.3-1.8 0.4-1.1 0.6-1.2 2.9-1.4 2.3-1.4-1.3-1.5 1.2-1.2 1.1-1.3-0.5-1.2 1-1.6 0.2-1.4-0.6-1.6 0.3-1.2-0.4-2 2-1.6 2.1-1.1 1-1.1 1.7-1.3-0.2-1.9 0.8-1.7 0.9-1.2-1.1-1.1 0.5-1.9 1.7-1.7 1.5-1.4 1.3-1.3 0.7-1.4 3.3-1.8-1.5-1.5 0.1-1.9 1.9-1.3-1.1-1.4-1.5-1.2-0.1-1.7 0.2-1.5 0.1-1.3 2.2-1.8 2.1-1 1.1-1.2-3.2-2 4.9-1.9 0.9-1.4 2.3-1.5 1.1-1.2 2.8-1.9-1.7-1.2-2-2-1.6-1.4 1.1-1.1 3.2-1.2 0.7-1.9-0.8-1.4 1.5-1.9 0.1-1.5 1.7-1.8-0.2-1.4 0.1-1.3 1.5-1.7 1.8-1.8M26.6 313.2l0.8-1.1 0.7-1.8-3-1.5 1.6-1.3 1.9-1.7 2.2-1.7 2.6-1.3-2.4-1.5 0.4-1.1 2-1.9-0.8-1.3 1.2-1.6-0.6-2-0.9-1.9 2.2-1.4 2.5-1.7-1-1.7 2.8-1.4 2.9-1.5 1.8-1-1.2-1.3-2.2-1.2 2.4-1.5 2.2-1-1.4-1.4 1.1-1.5 0.5-1.2-2.9-1 0-1.4 3-1.9 4.1-1.5-1.9-1.4-0.2-1.4 1.8-1.6 2.8-1.6 0.1-1.5-1.4-1.9-1.5-1.5 0.1-1.8 2.6-1.7 1.6-2 0.1-1.9 3.5-2-1.2-1.4-1-1-0.2-1.6-2.4-1.4 2-2-0.3-1 3.4-2 2.7-1.4-0.5-1.4-0.4-1.4-0.3-1.5 3.7-1.6-0.4-1.7 0.1-1.2-0.2-1.5 0.8-1.9 5.5-2-1.7-1.6-1.5-1.8-0.4-1.6 2.6-1.9 1.2-1.1 0.5-1.6-0.4-1.4 0.2-1.8 1.5-1.9-0.2-1.7-0.2-1.5 2.7-1-0.2-1.4-0.5-1.4 3.2-1 0-1.2-0.9-1.3 0.8-1.3 2.6-1.8 0.2-1.9-0.6-1.9 3.7-1.7M31.7 313.2l3.2-1.7-0.4-1.5 0.5-1.2-1.1-1.8-0.3-1.3 0.1-1.7 0.4-1.8 1.7-1.7 1.9-1.5-1.6-1.1 1-1.2 0.8-1.3-0.2-1.2 2.2-2 0.4-1.1 3.5-1.6-1.8-1.6-1-1.9 0.4-1.6 2.3-1.6 2.5-1.8 1.5-1.9-2.7-1.5 4.1-1.6 1-1.6-1.3-1.8 0.8-1.8 2.8-1.4 0.7-1.9-2.4-1.4 1.3-1.5 0.2-1.2 3.4-1.5 1.5-1.9 0.5-1.7-1.3-1.8-1.1-1.8 2.4-1.6 2.8-1.7-0.8-1.4 1-2 1.4-1.4 2.2-1.6 0.6-1.5-1.6-1.5 2.4-1.1 1.3-1.5-0.2-1 1-1.1 0.3-1.3 2.3-1.7 2-2-3.5-1.1 1.3-1.5-0.9-1.3 1.5-2 3.1-1-0.8-1.8 2.1-1.6-0.3-1.2-0.4-1.4-0.4-1.1 0.5-1.6 1.2-1.2 2.2-1.9 0.1-1.8-1.4-1.3 3-1.6-0.1-1.9 0.2-1.6 1.7-1.7-1.3-1.7 1.4-1.5 1.2-1.1 3.3-1.8 1.5-1.5 1.5-1.3 1-1.7-1.3-1.2-1.8-1.1 2.9-1.6-1.6-2M12.4 313.2l0.8-1.5 0.9-1.5 1.5-1.1-0.5-1.8 0.1-1 3.5-1.3-2.2-1.8-1.2-1.8-0.4-1.1 2.6-1 1.8-1.9-0.4-1.3 1.2-1.6 0.5-1.5 2.1-1.5 0.6-1.4 0.6-1.2 0.3-1.3 2.6-1.4-1.1-1.7 1.3-1.4-2.2-1.2-0.1-1.5 1.5-1.1 0.5-1.8-2.1-1.4 2-1.5 0.4-1.4 1.4-1.3 2.1-1.5-0.3-2-0.9-1.1 2-1.6-1.2-1.5 3.1-1.4 3.8-1.8-2.1-1.4 0.1-1.4 0.8-1.9 2.2-1.4 0.8-1.2-2.1-1.4-1.7-1.3 2.9-1.2 2.7-1.1-0.4-1.1-0.4-1.4 0.5-1 1.1-1.4-1.6-1.4 1.5-1.6-0.9-1 3.5-1.5-0.3-1.6 0.4-1.2 0.6-1.9 0.6-2 2.1-1.2-0.4-1.2-2-1.1 1.6-1.1-0.4-1 0.1-1.4 2.4-1.3 0.4-1.1-0.3-1.5-1-1 2-1.2-1.2-1.3 2.2-1 1.9-1.4 2.3-1.4-1.5-1.4-3.2-1.2-1.8-1.1 2.7-1.2 2.6-1.5 3.9-1.6-3.2-1.2 1.7-1.1-0.4-1.9 0.3-1.6 2.3-1.5 0.1-1.7 0.4-1.3-0.2-1.6 0.7-1.3 0.9-1.7 0.4-1.6 0.1-1.3M30.6 313.2l2.6-1.4-0.8-1.1 1.3-1.8-1-1.2 1.4-1.4 1-1.6 2.4-1.5 0.4-1.5-0.9-1.5 0.5-1.2-0.9-1.7-1.1-1 2.5-1.2 3.5-1.7-0.8-1.9-0.7-1.2-0.1-1.3 4-1.8 0.3-1.7 1.1-1.9 1-1.4-1.7-1.6-0.2-1.9 2.4-1.4 2.2-1.6-3.7-2-1.3-1.2 2.1-1.2 1-1.7-0.4-1.8 1.1-1.7 0.3-1.7 1.1-1.8 1.3-1.9 1.2-1.4 2.1-1.5-0.5-1.1-2.4-1.5 3.1-1.1-1.1-1.6 0.6-1.2 1.9-1.7 1.3-1.9 1.9-1.6-2.3-1-0.8-1.7 1.9-1.2 1-2 0.3-1.1 2.8-1.6-1.2-1.3 1.9-1.5 0.6-1.7-0.2-1.2 1.7-1.2-1.2-1.4 0.3-1.8 0.8-1.5 1.4-1.5-0.1-1-0.2-1.3 0-1.4-1.2-1.4 3.6-1 1.8-1.4-1.3-1.5-1.9-1.2 1.5-1.5 1.3-1.3-0.6-1.3 2.4-1.5-0.6-1.3 3.5-1.2-1.4-1.1 0.8-1.2 1.5-1 1.7-1.8-1-1.7 1.8-1.9 0.8-2-1.6-1.3 1.4-1.2-0.5-1.7-0.9-1.4 1.4-1.6 0.4-1.9M0.8 313.2l-0.9-2 0-1.1 2.5-1.2-1.9-1.9 2.8-1.7 2-1.5 2.2-1.3 0.8-1.4 0.6-1.7-0.9-1.5 1.9-1.5 0.8-1.6 1-1.3 0.4-1.1-1.1-1 0.9-1.6 0.3-1.5 0.3-1.4-0.2-1.5 0.2-1.1 1.9-1.1-1.6-1.3 2.3-1.6 2.2-1.7 3.2-1.5 0.1-1.2-1.5-1.3 0.8-1.7 1.6-1.6 1.8-1.5-0.4-1.5-0.2-1.4 3.9-1.9 0.2-1.8 0.2-1 0.6-1.7 0.5-1.2 1-1.1-0.9-1.5 2-1.8 0.5-1.1 3.8-1-0.5-1.8-2-1.6 1.9-1.6 1.7-1.7-0.6-1.1 0.2-1.6 1.7-2-0.6-1.3 2.7-1.4 0.1-1.9 1.2-1.4 0.7-1.7 1.1-1.6 1.5-1.9 1.4-1.8 1.3-1.9-0.2-1.4 1.3-1.4 0.5-1.8 3.4-1.9-1.9-1.6-2.4-1.4 3.3-1.5 1.7-1.8-1.1-1.2 2.7-1.4-1.3-1.4 1.3-1.7 2.5-1.7-0.2-1.2 0.9-1.4 1.1-1.1 2.3-1.9 0.1-1.5-0.5-1.4 1.3-1.9-1.2-1.1 4.9-1.5-0.6-1.7-1.3-1.1 0-1.8 4.1-1.4M10.7 313.2l0.5-1.7-1.2-1.6-0.3-1.3 2.3-1.9 2.6-1.4 0.9-1.5 0.5-1.6 0.3-1.2 1.3-1.3 2.8-1.8 0.1-1.2-0.1-1.7-0.2-2 2-1.9 0.1-1-0.7-1.5 2-1.6-1.5-1.2 4.8-1.3-1.6-1.6 2.3-1.4-0.6-1.1 1.7-1.9-0.1-1.7 0.1-1.2-0.9-1.3 0.3-1.1 1.8-1.1 1.4-2 1.3-1.1 0.8-1.2-0.6-1.6 1.8-1.3-1-1.5 0.5-1.5 1.3-1.3 1.3-1.8 0.3-1.1 1.9-1.4 0.1-1.2 1.1-1.6 1-1.8-0.9-1.2 1-1.2 3.4-1.1-2.7-1.4 0.9-1.6 0.8-1.9-0.3-1.9-0.6-1.1 3.8-1.5-1-1.1-0.9-1 1.8-1.4 2.8-1.9 2.3-1.4-0.7-1.7-0.8-1.3 1.7-1.1 0.8-1.2-1.7-1.9-0.1-1.3 0.2-1.8 0.9-1.2 2.4-1.5 2.4-1.8 2.3-1.3-1.7-1.3 2.3-1.5-0.1-1.5 1.5-2-0.2-1.8-0.8-1.2 1.6-1.6-0.5-1.4 0.6-1.3 1.2-1.4-0.3-1.3 2.7-1.7-1-1.7-0.1-1.4 1.7-1.4 2.7-1.1 0.2-1.5 1.9-1.7 1.9-1.3M17.5 313.2l0.4-1.3 2-1.5-2.1-1.2 1.9-1.7 1.6-1.5 0.6-1.5-0.3-1.4 2.2-1.4-0.2-1.7 1.5-1.1 0.1-1.7 2.2-1.3 1.8-1.8-1-1 2.6-2 0-1.9 1.4-1.6 0.8-1.2-0.9-1.2 2.7-1.9 0.7-1.3 2.7-1.5-0.3-1.3-1.4-1.7 2.3-1.7 0.9-1.7 0.5-1.7-1.9-1 2.3-2 1.7-1.1-0.8-1.2 4.4-1.2-0.4-1.8-0.4-2-0.3-1.4 0.2-1.7 0.7-1.9 0-1-0.2-1.7 2.2-1.7 1.5-1.7 1.6-1.8 1.9-1.6-0.7-1.5 1.4-2 0.1-1.7 2.5-1.3 0.2-1.6 1.7-1.5-0.8-1.4 0.9-1.2 1.9-1.7 0.9-1.3-0.6-1.4 2.7-1-1.6-1.1 1.1-1.9 2.5-1.7 1.5-1.9-2.2-1.4 1.8-1.7 0.7-1.8-1.4-1.4 0.1-1.9 3.9-1.2 3.6-1.8 0.8-1.8 0.1-1.8 1.2-1.8 1.7-1.3 1.3-1.4 0-1.9-0.4-1 2-1.7 0.6-2 0.8-1.4 0-1.1 1.3-1.6 2.4-1.1-3.1-1 1.1-1.3 3-1.9 0.2-1.8M12.8 313.2l2.3-1.3 1.5-1.3-0.3-1.5 1.1-1.9-3.5-1.8 3-1.6 2.4-1.3 0.6-1.6-1.9-1.9 1.5-1.9 3.1-1.2 0.6-1.9-0.8-1.8 0.9-1.6 2.1-1 0.8-1.6 0.1-1.1-1.2-1.4-1.5-1-0.4-1.3 1.2-1.1-0.8-1.8 1.6-1.5 4.4-1.8 1.5-1.3-1.8-1.1 0.6-1.4 2.9-1.6 0.7-1.4-1.2-1.9 2.8-1.1-0.7-1.6 1.6-1 0.1-1.8-0.4-1.7 1.2-1.1 1.2-1.7-0.1-1.9 1.4-1 1-1.9 1.6-2 1.1-1.9 0.8-1.4 0.3-1.8 0.4-1.8 1.7-1.6-0.9-1.2 2.1-1.8-0.9-1.6 1.2-1.4 0.5-2-0.5-1.6 1.3-1-0.5-1.3 2.5-1.2-0.8-1.5 1.5-1.6 1.3-1.8 1.5-1.7 0.8-1.2-0.5-1.1-1-1.1 1.2-1.8 0-1.4 1.9-1-0.6-1.6-1-1 2-1.1 1.9-1.7 2.2-1.1-0.2-1.2-1-1.3-1.6-1.4-1.1-1.2 3.3-1.3 2.6-1.6 0.3-1.6 0.7-2 1.5-1.9-0.3-1.3 0.3-1.4 0.6-1.3 1-1.2 2-1.1-0.8-1.8M3.9 313.2l1.9-1.8 3.9-1.1-1.4-1.7 0-1.9 0.5-1.7 2.7-1.7 0.6-1.6 2.3-1.4 2.4-1.1-0.8-2-1.9-1.7 1.7-1.1-0.5-1.5 0.7-1.8 1.2-1.4 1.2-1.5 0.7-1.3 0-1.9 0-1.4 1.4-1.3 1.5-1.2 0.6-1.5 0.8-1.1 0.1-1.7 1.2-1 1.6-1.9 0.8-1.9 0.1-1.3 2.6-1.9-0.6-1.5-0.2-1.5 3.5-1.6 0.1-1.9-0.4-1.8 2.9-1.1-0.9-1.9 1.4-1.9-0.1-1.3 1-1.1 3-1.6 0.7-1.3 2.2-1.2-1.2-1.5 0.9-2-1-1.1 1.1-1.2 0.6-1.2-0.8-1.7-0.5-1.9 2.8-1.1 1.2-1.4 1.3-1.3-0.6-1.6 1.1-1.5 0.4-1.8-0.6-1.6 1.3-1.2 2.1-1.5-0.8-1.6 0.1-1.6 1.4-1.7 2.1-1.9 1-1.7-1-1.5 1.6-1.6 0-1.9 2-1.6 1.6-1.8 0.8-1.5 1.8-1.4-1.4-1.5 1.8-1.2-0.2-1.5-0.8-1.4-0.4-1.5 2.6-1.3-0.4-2 3.1-1.6-0.8-1.2 1-1 1.9-1.4 0.4-1.3-0.8-2M37.2 313.2l-0.2-1.1 1.8-1.5 0.3-1.8 1.6-1.9-1.3-1.5 1.3-1.1 2.4-1.8 4.4-1.6-2.4-1.9-0.1-1.6-1.3-1.7 0.5-1.8 1.8-1.9 2.6-1.5 1.5-1.2-1.7-1.5 1.8-1.1-1.6-1.5 2.1-1.4 0.3-1.6-2.4-1.2-1.4-1.8 1.4-1.6-0.2-1.1 2.5-1.2-0.8-1.1 2.2-1.3 1.3-1.8 1.7-1.3 0.2-1.6-0.6-1.9-2.3-1.6 2.2-1.6 0.9-1.1 2.1-2 0.2-1.9-0.3-1 0.9-1.2 1.4-1 0.2-2 2-1.5-2.1-1 0.7-1.7-2.6-1.8 3.4-1.7-0.4-1 3-1.2 3-1.8-0.7-1.7 3.4-1.9-0.1-1.1 0-1.7-1.6-1.8 1.4-1.6-1.8-1.7 1.9-2 2.5-1.2 1-1.8 0.3-1.6-1.4-1.3 2.9-1.4-2.2-1.2-0.8-1.5 2.7-1.7 0.2-1.3 1.3-1.7-1-1.7-1-1.2 1.5-1.4 1.4-2 1.3-1 0.4-1 1.1-1.3 0.5-1.1 1-1.7-0.2-1.1-0.2-1.5 0.1-1.1-1.2-1.8 1.9-1.2 2.3-1.3-2.7-1.8 1.1-1.1 0.6-1-1.4-1.5M-3.6 313.2l0.2-1.7 1.2-1.6 0.2-1.4-0.5-1.4 1.1-1.3-0.3-1.3 1.5-1.9 2.4-2 0.1-1.6-1.5-1.5 2.8-1.3-0.9-1.2-1.6-1.2 0.9-1.5 2.2-1.7 3.2-1.8 0.2-1.4 1.1-1.9-0.5-1.4 0.9-1.1 0.8-1.7 2.3-1.9 0.2-1.7 1.7-1.2 0.4-1.9 1-1.4 1.6-1.4-2.8-1.5 1.7-1.5-1.6-1.3 1.2-1.9 0.4-1.2-0.4-1.8 0.7-1.8 4.1-1.1 0.7-1.6-2.2-1.3 2-1.1 0.4-1.7 0.9-1.6 0.8-1.5 0.8-1.2 0.8-1.3 1.9-1.8-0.7-1.9 1.6-1.5-0.9-2 4.2-1.9-0.1-1.3-2.5-1.4 1.3-1.6 3.6-1.3-0.1-1.1-0.4-1.9-3-1.1 4.9-1.4 0.9-1.4 0.9-1.6 0.6-1.8-0.1-1.8 1.1-1.8-0.3-1.6 1.5-1.4 1.4-1.1-0.4-1.9 0.7-1.8 1.8-1.5 1.4-1.7 2.4-1.3-2.7-1 1.6-1.8-2-1.4 1.5-1.8 1.2-1.7-0.8-1.7 2.5-1.6 4.9-1.7-3.2-1.8 0.7-1.9 0.6-1.2 1.9-1.8-1.2-1.7M-1.5 313.2l4.1-2-0.3-1.1-1.4-1.3-0.7-1.1 0.4-1 0.9-1.9-0.6-1.2-0.3-1.4 2.3-1.9 2.2-1.9 1.3-2 1.5-1.5 1.4-1.4-0.6-1.7-0.1-1.5 0.1-1.7 0-1.2 2-1.4 1-1.5 2.3-1.7-4.4-1.2 1.1-1.7 2-1.6 1-1.3 3.1-1.5-1.8-1.5 1.2-1.3-1.6-1.1 1.2-1.5 1.8-1.8 1-1.2 0.4-1.7 2.6-1.5-0.4-1.8 1.5-1.2 0.6-1.1-2.2-1.1 2.2-1.6 2.3-1.5-3-1.6 0.3-1.9 0.9-1.7 2.3-1.2-0.7-1.3 1.1-1.3 0.7-1.9 2.6-1.4 1.6-1.7-0.9-1.2 0.4-1.9-0.1-1.7 0.5-1.2 1.8-1.9 1.5-1.9-0.4-1 2.2-1.9 0.9-1.6-1.4-1.5-0.1-1.7 1.2-1.8 1.8-1.6-0.3-1.9 3.7-1.5-0.9-1.3 2.1-1.7-0.2-1.7-0.7-1.7-0.2-1.4 1.6-1.7-0.8-1.4-0.4-1.4 1.3-1.9 0.4-1.9 0.7-1.9 1.2-1.6 1.8-1-0.2-1.9-0.3-1.1 1.3-1.5 0.5-1.3 2.8-1 0.4-1.6-0.5-1.9M10.3 313.2l0.3-1.7-0.9-1.8 1.8-1.3 0.5-1.1 1.5-1.1 3-2 0.3-1.2 0.2-1.8 0.4-2 1-1.3 0.5-1.1 1.5-1.1 1.5-1.5 0.1-1.1-0.2-1.4-1.4-1.3 2.2-1.8 0.3-1.2 0.5-1.2 0.2-1.5-0.8-1.2 3.1-1.2 2.9-1.9-1.6-1.5 0.4-1.8 0.8-1.5-1.5-1.4 0.9-1.9 1.3-1.7 1.3-1.8-0.1-1.1 1.3-1.7 4.1-1.4-0.9-1.6 3.7-1.9 0.4-1.7-3-1.5-0.5-2 0.4-1.7 4.5-2-3.3-1-0.3-1.8-1.1-1.3 2.2-1.4 2.3-1.4 2-1.8 3.2-1.7 0.3-1.2-1-1.5-1.4-1.7 0.3-1.4 1.3-1-0.5-1.2 3-1.8 1.8-1.9 0.7-1.2-0.3-1.4 0.3-2-0.1-1.4 0.3-1.8-0.2-1.9 3.2-1.1 1.4-2-0.1-1.5-1.3-1.6 3.1-1.7-1.3-1.3 0.1-1.3 1.7-1.4 0.9-1.9-0.3-1.1 0.4-1.4-2.9-1 4.7-1.7 2.5-1.7 4.1-1.7-2.5-1.4-0.3-1.7-1.3-1.9 1.8-1.1 0.8-1.4 0.4-1.8 1.4-2M23.6 313.2l-0.3-1.5 1-1.1-1.2-1.3 1.5-1.3 1.6-1.8 2.2-1.1-1.8-1.8 0.8-1.8 2.9-1.8 1.1-1.7 0.1-1.1 0.3-1.8 1.4-1.2 1.7-1.8-1.6-1.7 2.7-1.9-0.5-1.7 3.1-1.9-2.6-1.9 1.9-1.6 0.8-1.2 0.8-1.3 1.6-1.8-0.7-1.7 2.1-1.2-0.4-1.9 0-1.1 2.9-1.1 1.6-1.8 0.1-2 0.1-1.8-0.6-1 3.5-1.9-2.3-1.4 0.4-1.7 2.1-1.6 0.7-1 0.3-1.8 0.9-1.3 2.1-1.8 0.8-1.2 1.5-1.8 2.1-1.1-0.7-1.5-1.3-1.8-0.7-1 0.8-1.1 2.4-1.9-0.6-1.2 1.5-1.7 0.1-1.4-0.2-1.6 1.9-1.8 2.3-2-0.2-1.8 3.9-1.3-2.6-1.6 1.7-1.9-0.3-1.5 1.4-1.9 2.6-1.9 1.6-1.2-0.4-1.3-0.7-1.2 1.5-1.2 2-1.8 0.5-1.8-0.8-1.1 0.8-1-0.3-1.3 1.7-1.7 1.5-1.9-0.4-1.2 2.5-1.1 1-1.9-1-1.4 1.3-1.2 0.4-1.8 0.2-1.4 0.4-1.2 2-1.3 0.9-1.3 0.3-1M6.6 313.2l-0.5-1.5 2.8-2 0.7-1.1-1.4-1.1 0.7-1.8-1.3-1.1-1.1-1.3 1.1-1.6 3.5-1.5 1-2 2.1-1.8-0.5-1.3-0.4-1.6-0.1-1.1 1.8-1.4 0-1.2-1.4-1.5 3.3-2 1.3-1-0.1-1.7 0.2-1.1 1.7-1-1.1-1.1 0.7-1.8 0-1.4 1.3-1.6 2.9-1.8-2-1.8 1.4-1.6 3.3-1.5 1.3-1.5-2.3-1.5-0.4-1.8 0.6-1.2 0.6-1.3 1.4-1.8 1.5-1.9 1.5-1.2 0-1.7-2.6-1 0.8-1.2-0.3-1.5 0.4-1.4 3.8-1.6 1.3-1.1-1.3-1.1 0.1-1.5 0.6-1.7-0.6-1 2.1-1.6 1.4-1.9-1.8-1.6 1.5-1.5 2.6-1.7-1.7-1.5-0.2-1.1 0.9-1.3 1.4-1.4 1-1.1 2-1.7 0.9-1.7-0.9-1.8 1.7-1.1 0.4-1.3-1.1-1.1 1.8-1.9-1.4-1 0.2-1.9 3.2-1.7 1.9-1.5-0.4-1.9 0.8-1.8-0.8-1 0.4-2 1.9-1.8 0.2-1.5-1.4-1.5 2.3-1.3-0.9-1.1 0.6-1.6 0-1 0.8-1.3-1.1-1.4 2.4-1.7 1.6-1.4 0.9-1.1M20.3 313.2l2.5-1.1 2.3-1.2-0.7-1.3-1.3-1.6 0.7-1.8 0-1.6 2.8-1.5 0.9-1.7 1.3-1.4 0.1-1.8-0.8-1.9 4-1.9-0.2-1.2 0.5-1.1-2.6-1.1 1.9-1.5 2.5-1.6-0.3-1.6 2.1-2 0.3-1.1 0.1-1.5-0.2-1.1 0.7-1.4 2.1-1.3 0.2-1.2 0.1-1-0.3-1.3 2.9-1.1 2.1-1.4-2.1-1.8-0.1-1.4 0-1.3 2.9-2 0.5-1.1 0-1.3 0.4-1.1 1.7-1.2 0.1-1.6-1-1.2 0.7-1.4 2.8-1.5 0.5-1.2-0.4-1.6 0.7-1.9 0.9-1.7 0.1-1.5 1.8-1.7 0.1-1.7 1.8-1.7 0.5-1.4 2.5-1.1-0.1-1.9 2.5-2-1.1-1.5 2.1-1.5-2.3-1.7 3.5-1.3-2.2-1.3 0.1-1.9 3-1.5 0.8-1.4 0.2-1.6 1.1-1.9-0.4-1.3 0.5-1.2 3.4-1.6-0.7-1.7 0.6-1.1 0.7-1.1-0.9-1.4 1.2-2 1.1-1.6 1.1-1.2 0.7-1.9-1.7-1.6 0.1-1.2 2.6-1.7-1.4-1.7 3.5-1.7 1.2-1.7 1.5-1.8 1.1-1.6 1.8-2 3.7-1.9M-4.2 313.2l1.7-1.6 0.2-2 0.3-1.1 0.3-1.6 0.2-1.1 2.9-1.7-1.9-1.8-1.4-1.3 0-1.5 1.2-2 0.8-1.9 1.3-1.9 2.4-1.3-1-1.4-0.3-1.9 0.7-1.4-0.2-1.3-0.3-1.2-1-1 2.2-1.2 2.7-1.1-0.3-1.3 1.5-1.3-0.9-1.9 3.1-1.9-0.9-1.1 1.9-1.1 0.2-1.8 0.8-1.7 0.1-1.3-1.3-1.4-0.5-1.1 0.7-1.5 0.1-1.8 1.4-1.4-0.1-1-0.9-1.9 2.3-1.9 3.7-1.1-0.7-1.5 0.2-1.9 2.5-1.9-1.3-1.1 1.7-1.5 0.6-1.7-0.8-1.5 1.1-1.8 1.5-1-1.3-1.3 2-1.7 1-1.1 2-1.1-0.8-1.5 1.7-1.8-1.5-1 0.9-1.9 0.7-1.6 2-1.2 1.2-1.7-0.1-1-1.7-1.6 0.7-1.2 0.5-1.1 1.2-1.3 0.8-1.4 2-1.9 0.6-1.3 0.4-1.9 1.9-1.7 0.1-1.1-0.7-1.3-0.7-1.9-1.8-1.6 1.1-1.7 1.4-1.2 4.1-1.3-1.5-1.8-1.5-1 1.1-2 2.2-1.6 1.1-1.8 0.6-1.5-0.4-1.6 2.6-1.5 2.9-1.6M30.2 313.2l2.6-1.8 0.2-1.6 3.8-1.6-0.3-1.3-4.5-1.4-0.6-1.5 2.3-1.4 0.8-1.5-0.6-1.5 0.7-1.2-0.6-1.3 0.4-1.1 2.4-1.8 1.4-1.2-0.8-1.8 1.8-1.9 1.8-1.3 0.6-1.5 1-1.4-1.3-1.1 2.9-1.4-0.7-1.7-0.3-1.6-1.1-1.3 3.1-1.8-0.9-2 0.8-1.1 1.9-1 1-1.9-1.6-1.3 1.7-1.6 3-1.5-0.9-1.8-1-1.1 0.5-1.5 0.3-1.8 0.7-1.2-1.3-1.4 3-1.2 1.4-1.4 0.1-1.2-2.3-1.6 1.8-1.4-0.2-1 1.7-1.6 0.7-1.7 1.1-1.9 1-1.3 2.2-1.1-0.1-1.4 0.3-1.6-0.2-1.5 0.8-1.6-1.5-1.3 0.5-1.6 2-1.5 1.1-1.6 0.6-1.2-1.2-1.8 1.5-1.9 0-1.7-0.4-1.7 0.8-1.4 3-1.7 0.3-1.5 1.1-1.6 0.8-1.9 1.6-1.6-1.2-1.8-0.6-1.3 2.4-2 1.9-1.8-0.8-1.1-1.1-2 0.9-1-0.3-1.2-2.5-1 2.9-1.6 1.1-1.7 1.6-1.2 0.4-1.5 1.4-1 1.8-1.6 0.4-1-0.2-1.5M15 313.2l-0.7-1.8 4.4-1.8-1-1.5-1.1-1.2-0.6-1.7 1.1-1.5 0.6-1.7 3.9-1.6 1.1-1.9-0.2-1.1 0.3-1.3-2-1.3 3.5-1.1 1.3-1.8-2.3-1.6 2.5-1.3-0.7-1.5-2-1.4 1.6-1.5-0.9-1.7 2-1.8 0.1-1.9 2-1.9-1.1-1.3-0.2-1.3 2.3-1.7 1.5-1.6 0.4-1.5 2.2-1.3-2-1.2 3.1-1.8 0.5-1 0.5-1.2-0.7-1.5 1.8-1.9 1.7-1.7-0.8-1.5 1.1-1.5-3.9-1.4 3.3-1.6 0.3-1.7 1-1.3 2-2-1.1-1.2 0.3-1.1-0.2-1.3-0.9-1.3 1.4-1.6 1.3-1.7 0.3-1.8 0.4-1.5 1.7-1.4 2-1.3 0.5-1.7 1.9-1.8-1.3-1 0-1.2 1.5-1.8-0.9-1.4 1-1.6-0.7-1.2 1-1.1 1.1-1.1 0-1.9 2.5-1.9-0.8-1.1-1.3-1.5-0.2-1.4-1.4-1.8 2.2-1.9 2.5-1.3 1.1-1.9 0.6-1.4 0.6-1.7-0.5-1.4 2.6-1.6 1.1-1.1-1-1.5-0.6-1.1-0.1-1.9 0.1-1.1 1.5-1.8 1.7-1.9 0.5-1.7M12.5 313.2l0.7-1.1 1-1.2 1.2-1.8 1.3-1.8 0.1-1.9 0-1.2 3.6-1.9 0.1-1.9 0.5-1.6-0.4-1.1 0.1-2 0.4-2 0.8-1.2 0.6-1.1 1.8-1.9-1.3-1.2 1.7-1 0.6-1.4 4.2-1.9 0.9-1.4 2.1-2-0.6-1.9 1.6-1-1.5-1.8-1.7-1.1 1.2-1.9 1.2-1.7 1.1-1.9 2.3-1.3 0.1-1.5 0.5-1.9 0.8-1.3 1.1-1.8-0.8-1.9 1.2-1.5 2.5-1.3 1.3-1.1 1.8-1.7-0.2-1.4-0.4-1.9 1.4-1.9 2.8-1.8 2.1-1.5 0.3-1.3 1.6-1.3-0.9-1.8 2.1-1.7-1.5-1.1 3.3-1.2 0.5-1.7-1.5-1.5 0.9-1.3 2.9-1.4-1.8-1.2-0.6-1.9 0.8-1.5 1.7-1.6 0.1-1.5 1-1.6-0.3-1.3 3.3-1.8-0.3-1 2.6-1.5 0.8-1-0.9-1.5 0.5-1.6 0.9-1.4 3.4-1.7-2.2-1.4 2.4-1.7 0.5-1.7 1.6-1.8-1.4-1 2.5-1.9-0.8-1.4 4-2-1.2-1.4 1.2-1.2 0.8-1.6-0.3-1.2 0.9-1.3 3-1.6M24.4 313.2l-0.6-1.1 0.8-1.7-0.2-1.3 0.8-1.7 0.5-1.3 0.3-1.9 0.8-1.7 0-1.5 2.7-1.4 1.3-1.2-0.1-1.2 1.5-1.9 1.7-1.3-1.8-1.6 2.6-1.2-0.8-1.3 3.4-1.7 3.1-1.7-0.9-1.3 1.4-1.6-1.1-1.3-0.3-1.5 1.3-1.9-0.2-1.4 2.1-1.9-0.7-1.1 2.6-1.4-0.1-1.7 1.7-1.6-1.8-1.1 1.2-1.4 0.7-1.7 0.6-1.6 0.2-1.1 1.7-1.2 2-1.4 2.3-1.9-1.7-1.4 0.3-1.7 0.7-1.7-2-1.5 2.9-1.7 2.4-1.7 0.7-1.7-0.5-1 0.7-1.8 2.7-1.8 0.9-1.3 1.9-1.8-0.9-1.1 0.5-1.8 0.5-1.5 2.5-1.5 0-1.9-0.9-1.5 1.1-1.1 0.9-1.5 1.2-1.3 1.7-1.8-0.5-1.4 2.1-1.4 0.8-1.8-2.1-1.1 2.8-2 1.1-1.6-0.7-1.2 2.8-1.7 0.5-1.5 2.6-1.7 1.6-1.8 0.7-1.4-1.6-1.2 0.5-1.8 0.7-2 1.7-1.8-0.8-1 2.1-1.4 1-1.9 0.8-1.7-1.2-1.5 1.4-1.5 3.2-1.3-1.9-1.5M18.2 313.2l0.8-1.2 0.1-1.8 0.3-1.7 0.7-1.5-0.4-1.7 1-1.5 0.5-1.3 1.8-1.9 1.5-1.5 1-1.6 0.4-1.7 1.9-1.2-0.1-1.4-1.9-1.9 1.4-1.9-1.8-1.6 0.6-1.3 1.5-2 4.7-1.5 1.1-1.3 0.6-1.5 0.1-1.3 0.8-1.9 0.4-1.2 2.9-1.7-2.2-1.6 0.8-1.3 2.2-2 1.8-1.8 0.1-1.1-0.6-1.1 4.7-1.8 0.4-2 0.3-1.9-0.8-1.2 1.6-1.3 1.4-1.5-2.1-1.5 1.9-1.2 0.4-1.8 1.2-1.7 0.5-1.3 1.6-1.4 0.3-1.4 1.6-1.5 1.3-1.1 1.2-1 2.3-1.9-1.4-1.2 0.9-1.6 0.5-1.9-0.7-1.8 0.1-1.5 4.5-1.8-1.3-1.8-0.7-1.3 0.4-1.9 0.4-1.1 0.1-1.9 3-1.6 2.8-1.4 0.3-1.3-2.1-1.7 2.7-1.2 1.5-1.9 0.4-1.8 0.1-1.2 1-2 2-1.8 1.1-1.8-0.4-1.6 0-1.5 1.2-1.1 0.2-1.2 2.1-1.9 2.1-1.3 0.9-1.7-0.6-1 0.3-1.8-0.9-1.9 1.8-1.9M28.2 313.2l2.8-1.6-1.6-1.4-1.2-1.2 4.2-1.5-2.8-1.5 1.6-1.5 0.6-1.2 0.3-1.4 1.3-1.1 2.2-1.9-3.5-1.1 3-1.5-1.7-1.4 2.1-1.4 1.2-1.8 1.2-1.7 2.6-1.2-1.8-1.2 2.6-1.6-1-1.8-0.2-1.5-3.9-2 1.3-1.4 4.4-1.7 5.1-1.9 1.6-1.4-0.5-1.7 1.7-2 0.9-1.9-1.7-1.3-3.2-1.1 2.3-1.5 0-1.6 1.2-1.6 0.7-1 2.4-1.2-1.2-1.7-1.8-2 2-1.5-0.5-1.9 2.1-1.4 0.9-1.9 1.2-1.7 1.4-1.3 0.9-1.6 1-1.1-1.2-1.8 1.3-1.6 3.6-1.4-4.4-1.4 1-1.3 0.3-1.3 1-1.8-1.1-1.6 2.1-1.7-1.1-1.8 3.3-1.1 1.1-1.4 0.9-1.1-0.3-1.7 2.9-1.2-0.6-1.5-2.2-1.8 2.2-1.4-0.9-1 0.5-1.1 2.9-1.8 1-1.1-0.2-1.5-0.3-1.7-0.1-1 0.5-1.9 0.3-1.5 1.2-1.5 0.3-1.4 1.6-2 0.5-1 1.9-1.9-2-1.6 2.8-1-0.7-1.8 1.3-1.6-0.5-2 2.9-1.1M26.3 313.2l1.3-1.7 1.3-1.4-2.6-2 2.7-1.2 0.7-1.2-0.4-1.6-0.4-1.4-0.3-1.9 0.9-1.4 1.9-1.8-0.4-1.4 0.6-1.8 1.4-1.3 0.6-1.4 0.7-1.7-0.4-1.4 0.2-1.2 0.9-1.9 1.1-1.3-1.3-1.3 0.2-1.3 0.7-2 1-1.3 2.9-1.9 1.1-1.2-1.3-1 0-2 2.3-1.3-0.6-1.2 1.1-1.6 2.1-1.9-0.3-1.8 0.1-1.3 0.3-1.6 0.9-1.9 0.3-1.8 1.1-1.9-2-1.6 2.4-1.8 2.7-1.5 0.2-1.2-0.7-1.6 2.2-1.3 1.8-1.3 1.5-1.6-0.6-2-1.5-1.4 2.4-1.7 0.7-1.3 0.6-1.9-1.9-1.7 0.8-1.1-0.1-1.1 0.9-1.5 1.6-1.9-1.5-1.6 2.1-1.3 0.2-1.3 1.3-1.4 1.2-1.7 0.4-1.7-2.7-1.9 3.2-1 1.8-1.2 2.2-1.5 0.5-1.7-1.2-1.1 0.6-1.9 0.6-1.7-1.4-1.8 0.8-1 0.6-1.7 3-1.8 0.9-1.1-2.1-1.1 0.8-1.9 2.1-1.7 0.6-1.3 0.8-1.9-0.3-1.3 0.9-1.6 1.2-1.5M-7 313.2l0.3-1.4 0-1.7 1-1 1.3-1.5 1.4-1.9 1.2-1.2 1.4-1.9 0.6-1.8 2.1-1.7 0.4-1.8 1.4-1.4 0.2-1.3-1.2-1.9 3.6-1.4-1.7-1.5 2.8-1.1 1.1-1.7-1.7-1.1 1.1-1.9 0-2 1.1-1.2 1.1-1.1 1.2-1.1 0.7-1.3 0.7-1.8 1.6-1.2-2.1-1.2 2.6-2 1.9-1.3-0.2-1.4-2.1-1.2 1.2-1.5 1.5-1.7 2.4-1.9-0.2-1.6 0-1.1 1.4-1.8-0.6-1.2 1.8-1.3 4.6-1.6 0-1.9-0.1-1.1 1.1-1.5 0.4-1.2 1.3-1.4 1.9-1.2-0.6-1-1.4-1.6 0.1-1.3 0.8-1.1 1.8-1.4-0.6-1.8 1.1-2 2.7-1.7 1.8-1.6 0.2-1.9 2-1.1-1.3-1.3 2.4-1.2-1.7-1.1-1.2-1.9 2.4-1.9 2.3-1.2-0.6-1.1 2.2-1.4-0.3-2 1.9-1.3-0.5-1.1 3-1.9-0.4-1.2 1.5-2 1.6-1.1 0.4-1.7-0.1-1.7 1-1.6-0.7-1.2 2.9-1.7 1.1-1.7-0.9-1.1 2.5-1.2-1.3-1 0.5-1.3 0.7-1.9 2.4-1.9 1.7-1.5M-2 313.2l-3.1-1 2.8-1 0.2-1.3 1.9-1.6 1.8-1.2 1.6-1.4-2.2-1.9-0.6-1.2 0.5-1.7 3.5-1.8 0.2-1.2 1.5-1.5 0.5-1.2 2.5-1.6 1.5-2-0.8-1.3-1-1.8 1.8-1.8 1.4-1.2 0.3-1.4 0.3-1.8 1.7-2-0.5-1.9 0.5-1.1 1.3-1.9 1.9-1.8 2.4-1.7-1.1-1.7 2.3-1.6 2.2-1.5-0.5-1.4 1.5-1.6-0.1-1.6-1.7-1.1-0.9-1.8 1.9-1.7 1.4-1.5 3.3-1.1 2-1.6 0.9-1.4-0.4-1.5-0.3-1.4-0.1-1.8 0.9-1.3 0.1-1.3 0.6-1.3-1.3-1.8 2.5-1.2-0.2-1.6 4-1.3-0.8-1.7 1.4-1.2 1.2-1.8-1.1-1.9 1-1.2 1.3-1.6 0.9-1.4 0.3-1.3 1.2-1.5 0.4-1.6 3.5-1.3-2.6-1.8 1.5-2 1.8-1.1-2-1.8-0.4-1.3 1.5-1.3 0.7-1.1 1.4-1.6 1.8-1.1 0.1-1.9 1.1-2 2.5-2 1.4-1.6 1.8-1.7-1.8-1.1-3.4-1.5 3.3-1.4 1.7-1.7 0.7-1.6 4.9-1.1-0.4-1.1-0.9-1-0.9-1.8M14.9 313.2l0.6-1.2-1.3-1.3 2.9-2 0.1-1.5-0.1-1.7-0.1-1.5 2.9-1.3 2.7-1.2-0.4-1.7 0.5-1.5-0.8-1.9 1.4-1.4 1-1.2 0.5-1.6-1-1.9 0.5-1.3-0.9-1.5 0.4-1.9 1.8-2 1.2-1.9 1.8-1.4-0.6-1.5 3.2-2-1.1-1.5 2-1.4 0.6-1.8-2.6-1.1 3.4-1-3.5-1.1 1.9-1.2 0-2 3.2-1.2 0.5-1.1 0.5-2-1.1-1.4-0.3-1 2-1.6-0.8-1.1 0.5-1.3 0.4-1.9 0.9-1.1 1.3-1.6 0.3-1.6 0.5-1.2 0.8-1.4-0.5-1.7 1.6-1.2 2.3-1.5-0.1-1.3-0.2-1.3 0.8-1.6-2-1.8 1.4-2 1.6-1.9-0.1-1.5 1.9-1.7-1.3-1.3 1.4-1.7 1.4-1.1 2.3-1.7-1.6-1.3 2.3-1.8 0.5-1.7 1.9-1.6-1.4-2 0-1.7 0.3-1.6 1.5-1.1 1.1-2 2-1.8-1.4-1.4 1.7-1.1-1.1-1.9 1.2-1.8-1.3-1.6 1.7-1.1 0-1.1-1.6-1 3.5-1.9 0.2-1.1 3-1.9 0.3-1.3-1.8-1.2M19.2 313.2l0.6-1.8 0.2-1.9 0.2-1.1 0.6-1.9 1.3-1.6 2.5-1.6 2.4-1.8-0.8-1.5 3.9-1.7 0.3-1.6 1.5-1.9 0.1-1.5-1-1.2 1.9-1.8 0.5-1.4-2.8-1.1 4.2-1.5 1.6-2 0.5-1.3-1.1-1.8-0.2-1.7 2.3-1.8 1.5-1.9-1-1.4 0.2-1 2.4-2-0.8-1.6 2.3-1.8 1.1-1.2 0.8-1.9-1.7-1.5 1.1-1.9 0.7-1.3 2.3-1.6-0.1-1.7-0.2-1.3 4.7-2-0.2-1.4 0.1-1.5-1-1.6 1.9-1.7 2.5-1.5-0.8-1.2-0.7-1.9 0.5-1.8 3-1.7 2.7-1.6-1.6-2 1-1 2.4-1.8 1.6-1.8-1.6-1.5 1.5-1 0.4-1.1-2.1-1.4 3.9-1.6 0.6-1.7 0.9-1.4 0.6-1.9 1.5-2 2.8-1.3-1.1-1.5-1.3-1.7 4.1-1.5 0.2-1.4-1.8-1.2 3.3-1.5 1.6-1.9 0.8-1.4 0.2-1.2 1.3-1.3 2.1-1.6 1.5-1.8-2.6-1.3 0.2-1.8 2-1.8 0-2 0.2-1.3-0.2-1.2 1.2-1.4M24.4 313.2l2-1.4 1-1.1 0.2-1 0-1.9-0.2-1.7 1-1.8 1.4-1.7 2.3-1.4 0.4-1.7 2.2-1.5-3.3-1.4-0.3-1.9 2.1-1-0.3-1.7 0-2 1.4-1.9 2-1.9-1.7-1.8 2.2-1.6 0.3-1.9 0.2-1.8 2.6-1.9 0.1-1 1-1.6-0.3-1.8 1.2-1.6 2.5-1.1-2.7-1.3 0.2-1.8 1.6-2 1.5-1.3 0.4-1.2 1-1.3 0-1.1 2.1-1.5 0-1.4-2.8-1.3-0.6-1.7 3.2-1.1 0.7-1.5-0.2-1.2 1.9-1.7-0.8-1.8-3.2-1 2.9-1.9 3.2-1.7-0.8-1 0.9-1.6 0.8-1.3 0.2-1.9-0.5-1.4 0.7-1.8 0.1-1.5 2.4-1.6 0.1-1.7 2.1-1.8 2.5-2-1.7-1.1-0.1-1.8-0.2-1.3 0.5-1.4-0.8-1.6 2.1-1.7 0-1.3 1.7-1.4 1.9-2 1.7-1.1-2.1-1.8 1.5-1.7 2.9-1.8-0.1-1.1-1.5-1.3 1-1.3 1.5-1.6 0.8-1.9 0.6-1.7-0.3-1.6 1.8-1.6-1.2-1.1 0.9-1.1 1.4-1.9-1.1-1.9M37.1 313.2l-0.3-1.1 0.6-1.6 2.4-1.2 1.3-1.9-0.8-1.8 0.6-1.3-0.4-1.8 1.6-1 2.6-1.9-0.3-1.6 2.4-1.9-0.3-1.1 0-1.6 0.6-1.8 1.2-1.5-0.2-1.7 1.1-1.6-0.8-1.7 1.1-1.4-0.6-1.9 0.7-1.9 1.1-1.8 1.9-1.6-0.7-1.2 0.1-1.4 0-1.9 0.8-1.8 0.1-1.3 0.7-1.8 0.9-1.9 2.2-1.2-0.6-1.1-1.8-1.2 1.3-1.2-0.9-1.4 2.1-1.1 3.1-1.7-0.2-1.7-1.2-1.5 1.6-1.2-0.8-1.5 0.3-1.4 3-1.8-1.9-1.1 0.6-1 2.5-1.4-2-1 2.8-1.9-0.2-1.6 0.1-1.4-0.4-1.8 1.6-1.3-0.2-1.4 0.7-1.1-0.5-1.8 1.4-1.5 3-1.4 2.4-1.6-1.2-1-0.9-1.6-0.3-1.5-1.7-1.6-0.1-1.2 3.9-1.6 2.7-1.4-3.1-1.6 2.8-1 0.8-1.2 2.3-1.5-2.4-1.5 0.2-1.8-0.3-1.3 0.4-1.2 0.9-1.6 0.5-1.7 1.4-1.6 1.4-1.5-0.5-1.6 2.2-1.3 3.1-1.3-0.2-1.1-2.4-1.2 0.4-1.5-1.4-1.5 0-1.2M10 313.2l-0.1-1.5 0.8-1.5 2.1-1.2 0.6-1.8 2.5-1.3-2.3-1.3-0.4-1.1 2.8-1.1 1.8-1.4-3.1-1.4 2.1-1.5 0.4-1.5 1.2-1.4-1-1.6-1.1-1.5 2-1.1 4.6-1.7-1.1-1.9 0-2-1.7-1.7-1-1.5 3.1-1.2 1.2-1.7 1.1-1.5-0.9-1.8 0-1.9 2.2-1.6 1.3-1.1 0.9-1.6 0-1.3-0.4-1.7 2.7-1.1-0.3-1.1-1.2-1.9 2.6-1 1-1.4 2.3-1.7-0.8-1.8-0.7-1.9-0.2-1.7 0.2-1.9 2.3-1.8 0-1.8-0.6-2 3.1-1.1-1.8-1.3-1.9-1.6 0.6-1.1 2.5-2 0.9-1.4 2.2-1.5-2.2-1.7 3.6-1.8 0.9-1.5-1-1.2 1.8-1.4 0.7-1.7 1.4-1.6-1.1-1.9-0.7-1.2 1.6-1.6 0.9-1.9 1.2-1.4 1.5-2 0.2-1 0.4-1-0.4-1.4 0.8-1.3 1.3-1.6-0.8-1.1 0.1-1.3 3.5-1.5-1.2-1.5 1.6-1.9-0.1-1.4 0-1.1-1.2-1 1.9-1.2-0.5-1 2.5-1.1-0.4-1.1 0.3-1.2 1.1-1.6 0.7-1.7-2.1-1.5M4.6 313.2l0.3-2 0.9-1.9 1.2-1.8 0.9-1.2 0.8-1.2 0.4-1.3 1.6-1.4 1-1.2 1.3-1.5-1.8-1.7 2.4-1.7-0.3-1.4 0-1.2 1.2-1.2 1.3-1.5 0.7-1.3-0.9-1.7 1.6-1.4 1.1-1.7 1.1-1.9 0.9-2 4.7-1.7-0.5-1.1-0.2-1.1 1-1.2-0.6-1.2 0.5-1.1 1.6-1.4 0.4-2 0.9-1.1-0.5-2 0-1.1 0.6-1.3 0.6-1.6 3.3-1.7-1.8-1.2-1.4-1.1 3.4-1.3 0.6-1.6 2.2-1.6 2.9-1.7 0.7-1.9 1.9-1.5 0.4-1.9 0.9-1.8 0.7-1.9-1.1-1.7 2.4-1-1.6-1.6 1-1.1 1.6-1.9 0.5-1.1 0.1-1.9 0.2-1.1 2.1-1.7 0.1-1.5 4-1.1 0.7-1.4-2-1.9 2.2-1.9-1.2-1.6-0.3-1.2 2.4-1.4 1-1.9 1.3-1.1 0.1-1.9 0-1.9 1.5-1.5 1.7-1.4 2.2-1.1 0.3-1.6 2.5-1.2-3.4-1.2 1.4-1.4-0.2-1 0.8-1.6 2.3-1.2 3.2-1.6 0-1.8 0.6-1.6 1.2-1.4-0.2-1.4-0.6-1.6 3.3-1.8M9.5 313.2l1.1-1.8 2.6-1.1-2.7-1.5 1.2-1.7-0.1-1.9 2.7-1.7-0.3-1.6 2-1.3 1-1.4-0.5-1.4-0.8-1.8 0.6-1.2 2.7-1.6 3-1.4-0.9-1.6-0.5-1.6-0.4-1.7 1.3-1.2 0-1.6 2.1-1 1.6-1-1-1.9 1.6-1.3 1.4-1.7 0.1-1.9-0.9-1.4 1-1.2 2.3-1.5 1.9-1.5 1.5-1.8-0.4-1.9-2.3-1.5 0-1.9 0.2-1.5 1.3-1.2 0.1-2 4.5-1.8 0.2-1.3 0.2-1.5 1.3-1.9-2.2-1.4 0.7-1.1 1.1-1.1 2.2-1.2 1-1-0.7-1.9 0.1-1.6 2.3-1.5 2.5-1.2-2.2-1.7 0.2-1.9-0.7-1 2.8-1.4 1.1-1.4-1-1.6 3.3-1.7-1.4-1.5 0.9-1.8 1.3-1.9-0.2-1.9 1.5-1.1 1.4-1.2-0.6-2 1-1-1.6-1.7 1-1.1 2.7-1.5 1.9-1.6 0.3-1.9 1-1.9-0.5-1.8 1.3-1.7 0.3-1.7-0.1-1.6 1.2-1.9 1.9-1.8 2.7-1-0.1-1.4 1.2-1.4-0.5-1.6 0.2-1.4 0.8-1.6M-6 313.2l4.4-1 0-1.2-0.7-1.1 0.7-1.1 1.4-1.6 0.1-1.6 1.7-1.4-0.6-1.3-2-1.6 3-1.9-0.1-1.5 0.9-1.5 3.2-1.5-0.9-1.8 1.5-1 1.9-1.6-0.4-1.5 0.3-1.2 1.4-1.8 1.5-1.2 1.3-1.1 1.7-1.1-2.5-1.3 0.7-1.9 0.9-1.9 0.6-1 0.9-1.5 3.3-1.4-1.2-1.6 1-1.6-0.2-1.8 2.1-1.2 0.1-1.3 2-1.1 0.2-1.5-0.3-1.8 0-1.7 1.1-1.2-0.6-1.9 1-1.2 1.8-1.4-1.3-1.3 0.9-1.9 2.7-1.4 2.1-1.2-0.3-1.8 0.1-1.6-0.3-1.3 1.4-1.4-1.1-1.2 0.7-1.2 3.2-1.2-0.8-1.6 1.5-1.6 0.6-1.2 3.5-1.9-4.1-1.2-0.3-1.1 0.8-1.4 0.3-1.3-0.2-1.4 1.6-1.7 1.1-1.9 2.4-1.1 1.1-1.1 0.1-1.6-0.4-1.8 2-1.7-0.3-1.6 0.8-1.1 0.5-1.7 3.7-1.8-1.9-1.1 1.3-1.4 2.8-1.9-1.7-1.7 0.7-2 1.7-1.7 3.3-1.9-0.1-1.8-2.1-1 3.9-1.6-0.3-1.4 0.1-1.4 0.8-1.7-1.5-1M-0.8 313.2l0.7-1.4 3.1-1.2-2.4-1.5 3.3-1.1-3.2-1.8 0.9-1.2 3.7-1.2-0.9-1.2 0.3-1.8 1.3-1.3 0.8-1.3-2-1.8 0.8-1.6-0.2-1.2-0.5-1.3-0.5-1.2 3.1-1.8 2.1-1.8 2-1.3 0.3-1 0.2-1-1-1.7-1.3-1.6 4.4-2 1-1.9-0.8-1.5 2.3-1-1.9-1.6 2.9-1.5-0.8-1.1-1.4-1.7 0.1-1.8 1-1.7 0.4-1-0.6-1.8 2.4-1.5 0.1-1.6 0.7-1.6 2-1.8-1-1.7 3-2-0.9-1.6-1.5-1.4 1.7-1.7 2.2-1.7 1.9-2 0.1-1.2 1.1-1.3 1-1-0.9-1.5-0.3-1.4 1.8-1.2 3.1-1.4 0.9-1.1-4.3-1.4 0.4-1.4 1.6-1.9 1.1-1.4 4.5-1.6-1.2-1.6 1.9-1.6-0.2-1.7-2.6-2 1.5-1.8 2-1.8 0.4-1.2 0.4-1.8 1.2-1.9 1.1-1.3 1.9-1.7-1.9-1.8 2.4-1.4 1.8-1.2-0.5-1.4-1.6-1.7 1-1.7 2.8-1.2-1.5-1.1-1.4-1 2.8-1.7 0.8-1.9 0.5-2 0-1.2 1.8-1.4M12.1 313.2l-1.1-1.1 1.8-1.9 2.4-1.1-0.4-1.5 0.9-1.7-1.7-1.8 0.8-1.1 1.8-1.9-0.7-1 4.3-1.1-0.9-1.8 0.5-2-0.9-1.7 1.5-1.2 1.9-1.4-1.4-1.2 0.4-1.7 2.8-1.7 1-1.2-1.8-1 1.4-1.9 4.3-2-1.4-1.5 0.9-1.3-0.2-1.6 0.9-1-0.5-1.1-1.9-1.2 1.1-1.2 2.4-1.2-0.7-1.6 0.9-1.7 1.2-1.6-1-1.3 1.5-1.7 2.3-1.8-0.5-2 1.1-1.5-0.1-1.4 1.5-1.6 0.5-1.6 2.8-1.9-2.8-1.3 2.5-1.3-0.6-1.3-0.1-1.9-1-1.7 1-1.6 1.9-1 2-1.7-0.8-1.2-0.2-1.4 0.8-1.3 2.6-1.5 1.2-1.6-0.7-1.7 3.5-1.8 2.2-1.7-2.6-1.8-1.8-1-0.3-1.6 0.6-1.4 3.4-1.4-1.5-2 1.3-1.4 1.5-1 1.4-1.7 0.3-1.5 0.7-1.8 0.7-1.3 0.5-1.9 1.3-1.4-0.2-1.4 0.2-1.5-1.1-1.6 2.4-1.5-1.2-1.3 1.3-1.1 2.1-1.2 0.3-1.5 1.7-1-0.5-2 0.1-1.9 0.8-1.6M-3.7 313.2l1.4-1.8-0.8-1.8 2.3-1.5-0.2-1.2 1.7-1.3-3.6-1 0.5-1.3 0.6-1.7 2.1-1.4 0-2 2.5-1.4 0.1-1.2-1.8-1.1 0.9-1.4 0.3-1.5 0.6-1.1 0.7-1.9 0.2-1.2 1.5-1.5-0.1-1.3 1.1-1.7 1-1 1.8-1.5-1.5-1.4 1.3-2-0.7-1.8 0.6-1.7 1.3-1.9 2-1.4-1.3-1.9-0.8-1 3.9-1.8 0.9-1.2-0.1-2 2.5-1.1 1.1-1.1-2.9-1.5-0.2-1.4 3.3-1.9 0-1.4 1.5-2 0.7-1.4-1.8-1.9 1-1.4 0.3-1.3 0.1-1.8 1-1.6-2.3-1.1 2-2 3.1-1.1 0.3-1.8 0.9-1.2-1.1-1.9 0.5-1.2-0.4-1.2-0.7-1.8 4.6-1.2 0.3-1.9 0.3-1.7-0.8-2 3.9-1 1.1-1.5-2.6-1.1 0.5-1.5-0.3-1.4 1.2-1 0.6-1.5 1.1-1 0.1-1.1 0.4-1 0.3-2-1.2-1.4 1-1.4-1-1.7 4.5-1.6 2.4-1.2-1.8-1.1-0.5-1.5-0.1-1.6 0.8-1.8-1.1-1.6 0.5-1.6 2.6-1.9 0.8-1.5 3.8-1.1M-6.3 313.2l-1.8-1.4 3.8-1.2 2.5-1.7-2.1-1.5 1.7-1.3 0.5-1.9 2.3-1.5 2.2-1.3 1.6-1.5 2.3-1.1 2.2-1.9-1.9-1.4-1.7-1.3-0.1-1.9-0.9-1.2 1.2-1.9 1.4-1.9 1.6-1.4 0.5-1.3 2.3-1.9 2.5-1.2-0.2-1.9 2.1-1.8-1.4-1.1-3.7-1.2 3.3-1.6 0.6-1.5 1.2-1.1 0.3-1.2 2.8-1.9-0.5-1.3 1.8-1.7 1.6-1.8-0.6-1.7 0.6-1.3 2-2 0.2-1.9-0.3-2 2.4-1.5-1.4-1.1 1.9-1.1 0.6-1.7-0.9-1.1 2-1.4 1.4-1.2-1.8-1.3 2.4-1.2 0.8-1.3 1.1-1.9 0.1-1.6-0.1-1.1 1.7-1.7 2-1.9 0.7-1.4-0.2-1.8 1.3-1.4 2.3-1.8 0.4-1.3 0.6-1.3 0.9-1.1 1.4-1.6-0.8-1.8 1-1.7 0.2-1.5 2.3-1.8 0.3-1-0.6-1.7 1.2-1.9 0.9-1.5 0.7-1.3-0.6-1.2 1.2-1.9 0.5-1.6-0.7-1 4.8-1.1-3.2-1.5 2.3-1 0.6-1.8 0.3-1.4-1-1.1 1.6-1.4-0.2-1.7 4.8-1.1-0.8-1.6-0.2-1M-3.6 313.2l0.4-1 1.5-1.3 1.4-2 0.5-1.2 0.3-1 1.8-1.6-0.8-1.9 2.6-1.9 0-1.3 1.6-1-0.2-1.7-0.8-1.2 0.3-1.8 2.3-1.5 1.3-1.3 1-1.3-2.1-2-0.7-1.6 2-1.1-0.4-1.5 2.7-1 0.5-1.1 2.9-1.3-2.5-1.1 2.9-1.4-0.3-1.1-0.6-1.5-0.2-1.2 1-1.2 0.7-1.3 3.2-1.1 0.2-1.5 0.1-1.5 2.4-2-0.2-1.3 0.4-1.1 0.5-1.9 1.1-1.6 0.8-1.2 2.4-1.8-0.2-1.3-1.5-1.4 0.4-1.4 0.1-1.4 0.8-1.1 2.7-1.2 3.9-1.9-1.8-1.9-0.2-1.3 2.1-1.3-1.9-1.7 2.3-1.6 4.3-1.4-1.2-1.3-0.3-1.9 0.3-1.2 0.5-1.5 0.6-1.1 0.5-1.6-1.1-1.3 2.7-1.4 1.1-1.8 0.2-1.5 0.6-1 0.8-1.1-0.4-1.5 0.4-1.8 2.8-1.3-0.5-1.4 0.9-1.1-0.8-1.1 1-1.5 3.3-1.2 1.3-1.6-0.6-1.6 1.3-1.3-0.6-1.3 0.8-1.7-0.6-1.5 1.2-1.3 0.7-1.3 1.2-1.3 0.9-1-0.1-1.5-0.3-1.3-1.6-1.7-1.1-1.5 3-1.5 1.1-1.9M11.3 313.2l0.3-1.4 0.1-1.4 1.4-1.7-2.5-1.2 1.4-1.9 2.3-1.2 1.6-1.8-0.4-1.9 2.2-1.8-0.3-2 2.5-1.8 1.7-1.9-1.8-1.2-0.2-1.3 3.1-1.3 1.6-1.5 0.9-1 2.6-1.6-1.8-1.4 1.3-1.8 1.9-1.7-0.6-1.7 0.6-1.3-0.1-1.7 3.7-1.6-1.8-1.3 1.1-1.5-1.3-1.7 2.3-1.7 1.4-1.6 2.1-1-0.8-1.8 0.4-1.6-0.5-1.4 2.4-1.3 0.2-1.2 1.2-1.7 2.3-1.8-1.2-1.1-1.1-1.3 2.3-1.1-1.3-1.1 3.5-1.2 0-1.3-0.7-1.9 1.2-1.2-1.5-1 1.9-1.5 1.4-1.2-0.2-1.9-0.1-2-0.1-1.8 4.6-1.1 0.7-1.2 1.6-1 0.6-1.9 0.9-1.5 0.7-1.9 1-1.6 1.7-1.8 0.2-1.7 1.8-1.7-1.5-1.1 0.6-1.4-0.4-1.9 0.3-1.5 1.7-1.2 0.5-1.6 0.3-1.1 0.4-1.2 3.4-1.4-0.8-1.1-2-1.1 1.2-1.6 1.2-1.9 0.1-1.6 0.7-1.2 0.4-1.7 4.1-1.9 1.6-1.8 0.6-1.5 1.5-1.9-1.5-1.9M-4.2 313.2l-1-1.5 3-1.6-0.6-1.3 3.7-1.6 1.5-1.9-1.6-1 0-1.9-0.7-1.9 0.8-1.1 1.8-1.4 1.9-1.7-0.8-1.6 0.9-1.8-2.2-1.4 0.7-1.5 2.3-1.4 2.5-1.8 3.3-1.7 1.8-1-0.4-1.6 0.6-1.3 1.4-1.3 0.5-1.7-2.2-1.3-0.8-1.1 4-1.6-0.5-1.6-0.8-1.2 2.4-1.8 0.2-1.9 1.4-1.3 1.5-1.6-1.5-1.1 1.7-1.6 0.3-1.9 0.2-1.4 1.1-1.9 0.4-1.9-0.1-1.1 2.9-1.2 2-1.6 2.2-1.9-1.2-1.3 0-1.4-0.6-1.5 3.4-1.4-0.9-1.6-1.5-1.5 1.2-1.5-1.2-2 6.2-1.9 0.2-1.8-0.5-1.9-0.7-2 2.7-1.1-0.3-1.3 1-1-3.3-1.7 3-1.3 2.6-1.1 0.3-1.9 1.2-2 0.7-1.1-3.3-1.8 3.5-1.2 1.9-1.2 2.5-1.3-0.8-1.6 1-1.9 0.4-1.7 2.2-1.7-2-1.2 1.9-1.8 2.8-1.8-1.6-1.7-0.1-1.4 3.3-1.9-0.8-1.6-0.1-1.9 0.6-1.9 1.1-2M13 313.2l0.9-1.7 2.6-1.2-1-1.1 1.8-1.7-3.8-1.1 1.7-1.7 1.9-1.5-0.3-1.1 2.3-1 0.9-1.8-0.3-1.2 0.2-1.1 1.3-1.8 0.4-1.1-2.1-1.4 2-1.9 1.4-1.2 0.3-1.5-1.2-1.1 1.4-1.3 0.4-1.1 1.2-1.6-1.3-1.5-1.2-1.5 1.8-1.8 0.4-1.7 1.2-1.1-0.8-1 2.4-1.9-1.2-1.6-0.8-1.3 3.7-1.5-1.2-1.2 1-1.2 0.6-1.2 3.8-1.6-0.3-1.7-0.5-1.9 1.8-1.1 1.7-1.6 0.2-1.8-4.2-2-0.9-1.6 1.3-1.4 3.4-1.7 2.8-1.8 1.8-1.9 1.3-1.1 1.2-1.8 0.7-1.8 0.2-1.1-0.2-1.4-0.3-1.1 0.2-1.4 0.9-1.6-0.1-1.5-1.6-1.1 1.8-1.7 1-1 0.7-1.1 0.6-1.8-0.5-1.4 3.8-1.3-1.8-1.1-0.5-1.6 0.9-1.6 0.7-1.8-3.2-1.5 2.3-1.4 0.4-2 1.2-1.7 0.1-1.2-0.6-1.6 1.8-1.8 5.6-1.5-1.9-1.3-0.9-1.4-0.1-1.8 2.5-1.7-0.2-1.1-0.8-1.1 1.1-1.5-0.1-1.9 0-1.9 3.1-2M6.2 313.2l-0.7-1.9 1.4-1.1-0.5-1.2 2.7-1.6 1.8-1.8 0.6-1.4 0.4-1.4-0.9-2 1.6-1.5-1.2-1.1 0.2-1.4 3.3-1.7 2.9-1.4 0-1.6-1.5-1.5 0.2-1.7-0.1-1.1 3.3-1.6 1.1-1.4-0.7-1.3 2.8-1.1 2.3-1.5-2.8-1.9-0.4-1.8-1-1.2 3.3-1.6 1.9-1.7 0.7-2 0.7-1.7 1.4-1.3 0.3-1.9 0.4-1.3 1.8-1.3 2-1.6 1.5-1.7-2.9-1.7 2.5-1.4 1.2-1.4 2-1.9 0.3-1.3-1.1-1.6 1.8-1.9 0.6-1.2 1.3-1.4 1.4-1.7-2.2-1.6 0-1.4 1.9-1.7-0.7-1.3 2.2-1.8 1.1-1.8 1-2 3.5-1.5 1.7-1.3-1.5-1.4 0.7-1.4-1.3-1.6 0.6-1.8 3-1 1.7-1.3-1.1-1.4-1-2 1-1.1 0.1-1.3 1.4-1.7 1.7-1.6-0.5-1.1 1-1.3 1.4-1.3-2.8-1 4-1.3 0.2-1.5 2.5-1.3 2.3-1.9-0.2-1.1 2-1.8 0.8-1.1-1.2-1 0-1.1 0.7-1.2 0.5-1.9 2.2-1-0.2-1.5 1.5-1.4-0.1-1.1" fill="none" stroke="#464646" stroke-width="0.8" stroke-linejoin="round"/>
</g>
<path d="M16.8 313.2l0-1.4 1.9-1.3 2-1.9 0.8-1.1 1-2 1.6-1.3 2-1.7 1.8-1.3 1.6-1.3 2.7-1.8-2-1.1 3-1.3 2.2-2-1.7-1.6 1.8-1.7 3-1 2.8-1.5-0.1-1.3 0.1-1.2 0.7-1 2.5-1.8 1.6-2-1.6-1.1 1.3-1.9 2.2-1.2 1.3-1-0.2-1.4 0-1.5 1.1-1.4 1-2 0.9-1.2-0.7-1.1 2.8-1.7-0.1-1.4 3.3-1.2 1.5-1.6 1.7-1.2 1.4-1.7 1.4-1.8-1.5-2 1.2-1.5 2-1.5 1.1-1.3 1.8-1.9-0.1-1.3 1.9-1.7 0.6-1.4 0.5-1.2-1-1.2 3.4-1.8-0.7-1.4-1.4-1.9 3.1-1.7 1.5-1.3 2.6-1.1-0.9-1.1 2.7-1.2-0.5-1.2 0.3-1.6 3-1.6 0.7-1.1-0.2-2 3.2-1.8-0.9-1.1 2.3-1.4-0.5-1.2 1.2-1.8 0.6-1.1 1.3-1.8 2.8-1.6 0.2-1.4-1.5-1.3 3.8-1.7 0.6-1.7 0.2-1.7 1.3-1.8 1.7-2 1.2-1.2 0.4-1.1 0.3-1.8-1.1-1.1 4.2-1.9-0.7-1.6 0.5-1.1 4.1-1.2" fill="none" stroke="#505050" stroke-width="0.8" stroke-linejoin="round"/>
<path d="M7.5 313.2l1.6-1.2 2.7-1 2-1-1.6-1.9 0.6-1.6 2.5-1.1 0.9-1.3 0.6-1.8 0.3-1.8 3.4-1.4 3.2-1.8 0.1-1.5-2-1.4 1.4-1.1 1.4-1.1 0.4-1.1 1.1-1-0.2-1.2 1.1-2 4-1.9-1.2-1.5 3.9-1.1-0.9-1.6 1.6-1.3 2.6-1.6 0.3-1.2 0.9-1.3 1.2-1.4 3.9-2 0.7-1.6 3.2-1.5 0.6-1.5 0.7-1.3 2.1-1.7 0.7-1.1 2.2-1.2 0.8-1.5 1.7-1.8-0.6-1.2 4.2-1.9-2.2-1.4 3.3-1.3 0.3-1.3 1.9-1.1 1.5-1.4 0.6-1.9 1.5-1.6 0.3-1.4 0.5-1.6 0.7-1.4 1.8-1.9-0.9-1.8 0.8-1.1-0.3-1.8 2.6-1.2 4.2-1.7 0.7-1.4-1.3-1.3 0.5-1.4 3.6-1.9 1.6-1.8 1.4-1.5-2.1-1.9 3.1-1.3 3.4-1.8-1.6-1.3 0.4-1.6 3.2-1.7 0.8-1.8 0.2-1.1 1.6-1.1-0.1-1.1 1.1-1.3 5-1.1 0.9-1.7 1.5-1-4.1-1 1.4-1.3 2-1.3 1-1.7 1.4-1.1 2.4-1.3 1.6-1.6 0.8-1.9 2.1-1.4 0.9-1.5 0.1-1.7" fill="none" stroke="#505050" stroke-width="0.8" stroke-linejoin="round"/>
<path d="M26 303.7h1.1v-0.3h1.1v-1h1.1v-1.2h1.1v-2.2h1.1v-0.8h1.1v-1h1.1v-1.6h1.1v-2.1h1.1h1.1v-1.6h1.1v-1.8h1.1v-1.5h1.1v-1.1h1.1v-0.2h1.1v-1.4h1.1v-1.5h1.1v-1.6h1.1v-2.6h1.1v-1.7h1.1v-0.1h1.1v-2h1.1v-1.9h1.1v-2.2h1.1v-1.7h1.1v-1h1.1v-0.8h1.1v-0.9h1.1h1.1v-1.3h1.1v-0.5h1.1v-1.4h1h1.1h1.1v-2.8h1.1v-2.4h1.1v-0.9h1.1h1.1v-1.2h1.1h1.1v-1.3h1.1v-0.7h1.1v-1.4h1.1v-1.5h1.1v-1.2h1.1v-1.9h1.1h1.1v-0.7h1.1v-0.9h1.1v-1.7h1.1v-1.8h1.1v-0.2h1.1v-0.5h1.1v-1h1.1v-0.8h1.1v-2.1h1.1v-0.7h1.1v-1.2h1.1v-1.5h1.1v-1.1h1.1v-1.2h1.1h1.1v-0.3h1.1v-2h1.1v-1.4h1v-1.3h1.1v-1.9h1.1h1.1v-1h1.1v-2.1h1.1v-1.7h1.1v-0.3h1.1v-0.6h1.1v-0.6h1.1h1.1v-0.1h1.1v-1h1.1v-0.5h1.1h1.1v-0.9h1.1h1.1v-0.9h1.1v-1.7h1.1v-1.6h1.1v-1.2h1.1v-1.1h1.1v-1.3h1.1v-1.3h1.1v-0.1h1.1v-1.5h1.1v-0.8h1.1v-0.9h1.1v-0.3h1.1h1.1v-0.3h1.1v-1.7h1.1v-1.1h1.1v-0.4h1.1v-1h1v-1.2h1.1v-1.3h1.1v-0.9h1.1v-1.1h1.1v-0.2h1.1v-1h1.1v-0.1h1.1v-1.5h1.1h1.1v-1.2h1.1v-1.4h1.1h1.1v-1.5h1.1v-1.1h1.1v-2" fill="none" stroke="#e53030" stroke-width="0.9"/>
<path d="M26 311.8h1.1v-1.4h1.1v-0.5h1.1v-1.1h1.1v-1.5h1.1v-0.3h1.1v-0.3h1.1v-1.1h1.1h1.1v-0.5h1.1v-1.2h1.1v-1.3h1.1v-2.1h1.1v-0.1h1.1v-1.9h1.1v-1.3h1.1v-0.3h1.1h1.1v-2.5h1.1v-1h1.1v-0.5h1.1v-0.8h1.1v-0.3h1.1v-0.7h1.1v-0.7h1.1v-0.9h1.1v-0.1h1.1v-1.5h1.1v-0.6h1.1v-0.8h1.1v-1.6h1.1v-0.9h1v-2.1h1.1v-0.7h1.1v-1.2h1.1v-1.8h1.1v-1h1.1v-1.7h1.1v-1.4h1.1v-1.8h1.1v-1.3h1.1v-2.1h1.1v-3.7h1.1v-3.2h1.1v-3.6h1.1v-3.2h1.1h1.1v-2.7h1.1v-0.6h1.1v-1.9h1.1v-1.8h1.1v-2.1h1.1v-0.6h1.1v-1.6h1.1v-1.1h1.1v-0.5h1.1v-1h1.1v-2h1.1h1.1v-0.9h1.1v-1.5h1.1v-1.5h1.1v-0.9h1.1v-2h1.1v-0.3h1v-1.2h1.1v-1.5h1.1h1.1v-1.4h1.1v-1.5h1.1v-2h1.1v-1.5h1.1v-1.4h1.1v-2.3h1.1v-1.5h1.1v-1.2h1.1v-1.8h1.1v-1h1.1v-0.3h1.1v-1.1h1.1v-0.9h1.1v-0.4h1.1v-0.2h1.1v-0.6h1.1v-0.3h1.1v-0.3h1.1v-1.3h1.1h1.1h1.1v-0.4h1.1v-1.2h1.1v-2.8h1.1v-1.6h1.1v-1.3h1.1h1.1v-0.1h1.1v-0.7h1.1v-1.1h1.1h1v-0.9h1.1v-0.1h1.1v-1.3h1.1v-0.7h1.1h1.1v-0.4h1.1v-1.7h1.1v-0.6h1.1v-0.3h1.1v-1.2h1.1v-0.3h1.1v-1.5h1.1v-1.6h1.1v-1" fill="none" stroke="#3d9a3d" stroke-width="0.9"/>
</g>
<line x1="31.4" y1="191.5" x2="31.4" y2="310.7" stroke="#333" stroke-width="1"/>
<line x1="30.9" y1="310.2" x2="149.9" y2="310.2" stroke="#333" stroke-width="1"/>
<line x1="29.4" y1="298.4" x2="31.4" y2="298.4" stroke="#333" stroke-width="0.9"/>
<line x1="29.4" y1="274.5" x2="31.4" y2="274.5" stroke="#333" stroke-width="0.9"/>
<line x1="29.4" y1="250.6" x2="31.4" y2="250.6" stroke="#333" stroke-width="0.9"/>
<line x1="29.4" y1="226.7" x2="31.4" y2="226.7" stroke="#333" stroke-width="0.9"/>
<line x1="29.4" y1="202.8" x2="31.4" y2="202.8" stroke="#333" stroke-width="0.9"/>
<text x="28.8" y="204.9" font-size="11" text-anchor="end" fill="#222" >70</text>
<text x="28.8" y="252.9" font-size="11" text-anchor="end" fill="#222" >50</text>
<text x="28.8" y="301" font-size="11" text-anchor="end" fill="#222" >30</text>
<line x1="42.5" y1="310.2" x2="42.5" y2="308.2" stroke="#333" stroke-width="0.9"/>
<text x="43.5" y="323.5" font-size="11" text-anchor="middle" fill="#222" >80</text>
<line x1="64.4" y1="310.2" x2="64.4" y2="308.2" stroke="#333" stroke-width="0.9"/>
<text x="65.4" y="323.5" font-size="11" text-anchor="middle" fill="#222" >100</text>
<line x1="86.4" y1="310.2" x2="86.4" y2="308.2" stroke="#333" stroke-width="0.9"/>
<text x="87.4" y="323.5" font-size="11" text-anchor="middle" fill="#222" >120</text>
<line x1="108.3" y1="310.2" x2="108.3" y2="308.2" stroke="#333" stroke-width="0.9"/>
<text x="109.3" y="323.5" font-size="11" text-anchor="middle" fill="#222" >140</text>
<line x1="130.3" y1="310.2" x2="130.3" y2="308.2" stroke="#333" stroke-width="0.9"/>
<text x="131.3" y="323.5" font-size="11" text-anchor="middle" fill="#222" >160</text>
<text x="92.6" y="337.2" font-size="11.2" text-anchor="middle" fill="#222" >Neurite Length (pixels)</text>
<text transform="translate(9.4,245.3) rotate(-90)" font-size="11.4" text-anchor="middle" fill="#222">Cumulative Percent</text>
<text x="34" y="188.9" font-size="20.5" text-anchor="start" font-weight="bold" fill="#000" >e</text>
<line x1="100.5" y1="177" x2="100.5" y2="181" stroke="#000" stroke-width="1.5"/>
<path d="M98.1 180.5L102.9 180.5L100.5 187.5Z" fill="#000"/>
<line x1="104" y1="178" x2="104" y2="181.3" stroke="#f00" stroke-width="1.5"/>
<path d="M101.6 180.8L106.4 180.8L104 187.8Z" fill="#f00"/>
<line x1="17" y1="268.8" x2="21.8" y2="268.8" stroke="#000" stroke-width="1.4"/>
<path d="M21.3 266.7L21.3 270.9L27.8 268.8Z" fill="#000"/>
<line x1="17" y1="271.2" x2="23" y2="271.2" stroke="#f00" stroke-width="1.4"/>
<path d="M22.5 269.1L22.5 273.3L29 271.2Z" fill="#f00"/>
<text x="88.4" y="261" font-size="11.3" text-anchor="start" fill="#222" >Cerivastatin</text>
<rect x="79.2" y="259.4" width="6.6" height="1.3" fill="#e53030"/>
<text x="85" y="275.6" font-size="11.4" text-anchor="start" fill="#222" >DMSO</text>
<rect x="76.7" y="274.3" width="1" height="1" fill="#9c9"/><rect x="81.2" y="274.3" width="1" height="1" fill="#9c9"/>
<text x="86.5" y="285.1" font-size="11.4" text-anchor="start" fill="#222" >water</text>
<rect x="76.7" y="283.9" width="1.7" height="1.1" fill="#454"/><rect x="81.2" y="283.9" width="1.7" height="1.1" fill="#454"/>
<text x="84" y="297.5" font-size="11.4" text-anchor="start" fill="#222" >H1152</text>
<rect x="76.1" y="294.6" width="6.8" height="1.3" fill="#3d9a3d"/>
<g clip-path="url(#c8)">
<path d="M189 190L305 190L305 196L292 205L278 218L262 232L246 248L230 262L215 274L200 284L189.6 290Z" fill="url(#s5)"/>
<g transform="scale(8.0,1)">
</g>
<path d="M98.8 311.5l2.2-1.4 1.2-1.5 1.3-1.6 1.3-1 2.9-1.1 0.7-1.8 4.6-1.9 2.3-1.3-1-1.7-0.6-1 2.8-1.3 1.1-1.2 3.2-1.8-0.5-1.3 3.7-2 4.7-1.3 1.2-1.8-0.3-1.8 0.9-1.2 0.9-1.3 2.2-1.7 4.4-1.7 0.7-1.5-0.9-1.9 2.7-1.5 1.7-1.6 1.5-1.1 0.4-1.3 3-1.5 0.8-1.7 2.8-1.5 2.4-1.9-0.2-1.8 2.6-1.3 1.8-1.1-1.1-1 0.2-1.1 5.4-1.7 0.2-1.1 2-1.7 2-1 1.9-1.5 0.5-1.2 2.8-1.4 1.5-1.7 1.3-1.4 1-1.2 2.9-1.7-0.3-1.1 0.7-1.2 1.7-1.1 2.1-1.5 0.9-1.9 1.5-1.8 2.2-1.2 3.1-1.7-1.5-1.2 3.5-1.4 1.5-1.3 4.9-1.1 1.7-1.3-1.5-1.5 1.5-1.6 1.4-1.5 2.3-1.7 2.1-1.6 0.8-1.5 2.9-1.8 1.6-1.3 1.5-1.2 0.8-1.4 0.3-1.2 4.1-1.7 0.5-1.2 3.3-1 4.1-1.9 0.7-1.2 1.5-1.9 0.9-1.5 4.5-1.9 0.6-1.6 4.7-1.8 1.4-1.6 1.2-1.8 2.3-1.6M103.4 311.5l0.2-1.9 5.4-1.1 1.5-1.7 2.9-2-2.6-1.2 0.7-1.2 1.2-1.1 3.8-1.9 3.1-1.5 1.7-1.2 1.2-1 0.1-1.2 0.3-1.7 2.8-1.4 2.1-1.9 3.2-1.4 2.1-1.2 1.3-1.8 1.4-1.1 2.3-1.1 1-1.8-0.2-1.6 3.7-1.6 2.3-1 1.2-1.7 2.1-1.4 0.5-1-1.1-1.1 4.1-1.4 4.1-1.9 2.7-1.2 0.9-1.9 2.2-1.6-1.4-2 2.8-1 0.1-1.9 2.6-2 0.5-1.3 1.2-1.3 1.2-1.2 3.2-1.6 3.5-1.4 2.4-1.9 0.5-1.6 2.9-2 0.9-1.4 1.1-1.8 2.2-1.9 3-1.7 1.8-1.9 0.7-1.2-0.6-1.8 4.8-1.5 2.5-1.8 4.4-1.5-0.5-1 1.2-1.4 4.6-2-0.6-1.4 1.5-1.8-0.3-1.9 3.5-1.9 0.8-1.1 2-1.4 4.2-1.2 0.7-1.2 0.6-1.1 1.9-1 1.9-1.7 2.6-1.3 1.9-1.4 1.4-1 1.2-1.4-0.5-1.1 3.4-1.9 1.5-1.6 2.4-1.2 5-1.4-1.1-1.2 2.3-1.6-0.4-1.8 4.4-1.6 2.9-1.9 2.9-1.9M108.5 311.5l1.6-1.8 3.1-1.4 2.1-1.6 2.3-2 0.2-1.4 3.5-1.5 1.7-1.7 1.3-1.1-0.9-1.2 6-1.5 1.2-1.2 0-1.4 2-1.6 0.9-1.4 4.3-1 0.2-1.8 0.6-1.3 0.9-1.1 3.5-1.2 0.4-1.6-0.4-1.2 1.4-1.2 3.9-1.2 1.6-1.4 2.6-2 0.8-1.3 3.7-1.2 1.4-1.2 1.4-1.2 0.4-1.1 0.7-1.1 1.2-1.3 2-1.5-1.7-1 4.8-1.4 2.4-1.6 0.7-1.4 3.3-2 3.5-1.8 0.4-1.9 2.7-1.6 2.3-2 1.3-1.5 0.4-1.9 2.6-1.2 2.8-1.7 0.6-1.6 1.7-1.5 4.3-1.3 2.7-1.8-1.2-1.7 4-1.9 2.9-1.2-1-1 2.5-1.1 1.3-1.2 1.7-1.2 0.6-1.3 1.9-1.5 3.1-1.6 2.2-1.4 0.1-1.6 0.3-1.2 3.8-1.4-1-1.1 2.3-1.1 3.4-1.3-0.5-1.4 1.5-1.8 1.5-1.5 0.4-1.1 1.2-1.1 2.9-1.5 4.7-2 3.1-1.8 1.4-1.5 1.3-2 1.8-1.3 2.6-1.4-1-1.6 2.2-1.7 3.4-1.5 1.8-1.6 4.9-1.5-2-1.2 2.3-1.4M109.2 311.5l3.2-1.8 2.9-1.7 4.3-1.7 0.1-1.3 2.4-1.9 0.7-1.7 1.1-1.7 2.5-1.4 2.6-1.7 0-1.3 2.7-1.3 2.9-1.2 1.7-1.9 4-2 3.7-1.9 0.9-1.6 1.1-1.5 4.5-1.8 0.8-1.3 1.7-1.3 0.3-1.5 1.7-2 5.5-1.3 4.1-1.6 0.8-1.4 1.4-1.5-0.6-1.1 1.4-1.3 2-1.9 1.5-1.8-0.1-1.3 2.2-1.6 4.6-1.8 1-1.4 2.4-1.2 2.2-1.9-0.3-1.1 1.9-1.5 0.9-1.8 2.8-1.4 4.1-1.7 0-1.4 0.5-1.7 1.1-1.7 2-1.6 3.7-1.3 1.2-1.7 2-1.1 1.7-1.2-0.7-1.3 0.5-1.2 4.4-1.6 3.5-1.9 0.4-1.7 2.9-1.7 2.6-1.9 2.5-1.8 1.7-1.8 1.7-1.1 2-1.2-0.7-1.2 2.7-1.2 1.8-1.1 0-1.1 1.1-1 1.7-1.1-0.7-1 3.3-1.9 2.6-1.9 1.6-1 2.6-1.6 2-1.6 3.6-1.8 1.3-1.1 2.2-1-0.2-1.3 2.4-1-1.5-1 0.5-1 3.7-1.7 5.1-1.6 1.4-1.6 3-2-0.5-1.5M114 311.5l4.5-1.3 0.6-1.2 1-1.5 4.3-1.7 1.1-1.8 1.7-1.6 0.2-1.1 2.8-1.3 2.4-1.3 2.9-1.6-2.2-1.2 4.4-2 1-1.7 2.9-1.5 2.7-1.9 3.2-1.9 4.1-1.2-0.8-1.3 3.6-1.2-0.9-1.5-0.9-1.1 3.5-1.4 4.4-1.6 0.6-1.4 2-1.6 4.4-1.2 0.5-1.8 2.3-1.9 3.3-1.9 3.1-1.9 0.7-1.1 0.4-1.5 3.5-1.3 2.2-1.9 0.8-1.2 1.6-1.9 1.5-1 3-1.7 0.5-1.5 0.8-1.9 2.5-1.1 3.8-1.8 1.7-1.5 0.8-1.8 1.1-1.6-1.3-1.8 3.6-1.8 2.2-1.8 2.5-1.6 2.8-1.9 4.2-1.8 0.7-1.3 3-1.6 0.5-1.4 3.9-1.6 1.5-1.8 3.9-1.5 1.7-1.5 0.2-1.6 3.5-1.2 2.3-1.5-1.5-1.1 5-1.8-0.7-1.3-1.1-1 1.4-1.1 3-1.5 2.5-1.9 1.5-1.6 3.1-1.2 0.5-1.3 0.1-1.1 4.2-2 2.2-1.4 1-1.5 0.5-1.5 0.4-1.3 3.6-1.4 2.1-1.8 1.1-1.4 1-1.3 2.3-1.5 3.9-2M122.8 311.5l1.1-1.3 0.4-1.9 2.2-1.4 5.2-1.7 1.1-1.6 2-1.5 1.9-1.4-1.5-1.5 3.4-1.8 4.7-1.6 1.4-1.2 2.4-1.4 3.7-1.8 1.7-1.6 2.7-1.5 2-1.7 3.4-1.1-1.5-1.3 2.4-1 2.8-1.9 4.1-1.6 1.2-1.8-0.1-1.5-0.2-1.1 4.3-1.1 2.3-1.3 0.4-1.3 3.5-1.5 2.3-1.3 1.6-1.7 3.7-1.7 2.2-2 3.4-1.5 1.5-1.1 0.7-1.6 1.9-1.9 2.1-1.1 0.8-1 0.2-1.7 3-1.6-0.9-1.1 5.6-1.8-1.4-1.6 3-1.9-2.7-1 6.6-1.8 1.7-1.7 1.8-1.7 2.9-1.5 1.6-1.2 1.8-1.3 3.7-1.8-0.2-1.8 1.1-1.5 2.6-1.7 2.1-1.8 4.1-2 1.2-1.2 2.7-1.9 1.3-1.5 5.2-1.7 1.6-1.2 0.8-1.9 0.9-1.2 0.3-1-0.3-1.3 2.8-1.8 3.1-1.2 3.5-1.6 0-1.8 1.6-1.8 1.1-1.6 1-1.4 1.9-1.2 1.9-1.9 1.1-1.5 2.2-1.1 2.5-1.4 0.7-1.4 3-1.1 3-1.1 2.6-1.7 0.5-1.2 2.1-1.8M126.8 311.5l-0.7-1.1 2.3-1.4 3.8-1.6 2.6-1.9 1.5-1.7 2.1-1.9 2.5-1.7 2.1-1.1 2.4-1.3 1.8-1.5 0.7-1 4.6-1.6 2.9-1.6 0.6-1.4 2-1.5 5.5-1.6 0.3-1.9 1.6-1 6.1-1.9 0.3-2 0.4-1.3 2.2-1.4 1.4-1.6 4.7-1.6 0.9-1.7 1.2-1.8 3-1.5 2.2-1.2 2-1.6 3.7-1.9 1-1.3 3.8-1.2 0.5-1.4 1-2 2-1.7 3.1-1.5 1.6-2 2.3-1.8 2.4-1.1-0.6-1.9 4-1.6 2.4-1 1.9-1.2 0.8-1.1-3.6-1.4 5.5-2 2.1-1.5 4.6-1.3 0.1-1.7 1.3-1.4 2.6-1.9 1.7-1.6 2.6-1.7 2.6-1.9 1.4-1.7 3.6-1 0.5-1.5 0.4-1.6 3-1.6 0.7-1.9-0.3-1.5 2.9-1.8 2-1.8 4.2-1.4 0.7-1.1 3.1-1 0.9-1.3 3.2-2 2.2-1.8 0.9-1.4 1.7-1.8-0.1-1.2 3.3-2 1.9-1.3 3.2-1.4-0.6-1.7 0.2-1.5 4.1-1.9 3.8-1.6 2.1-1.4 4.2-1.9M129.1 311.5l0.2-1.3-1-1 4.7-1.6 2.8-1.4 0.8-1.8 2.3-1.5 2.7-2 4-1.8 3-1 3-1.1 0-1.8 2-1.3 2.8-1.6 0.4-1.3 2.4-1.6 2.8-1.6 3.5-1.2 2.3-1.7 3.4-1.9 3.6-2 0.9-1.5 1.4-1.6 0.6-1.7 3.5-1.2 1.1-1.3 4.9-1.3 2.1-1.6 1.6-1.8 1-1 4.4-1.8 1.1-1.7 2.5-1.9 1.9-1.1 1.8-1 2.5-1.9 1.5-1.9 1.7-1.5 2.8-1.9 1.1-1 1.1-1.4 2.1-1.7 0.8-1.4 2.9-1.8 1.6-1.4 3.3-1.8-0.7-1.9 2.7-1.8 3.3-1.4-0.1-1.4 1-1.4 3-1.6 2.8-1.2 1.3-1.1 4.6-2 1.6-1.5 2.3-1.6 0-1.9 1.3-1.1 4.5-1.5 0.4-1.1-0.8-1 3.5-1 4.7-1.7 0.7-1.1-1.2-1.9 3.1-1.4-0.7-1.4 5-1.8 2.5-1.2 1.7-1.8 0.2-1.9 4.7-1.9-0.5-1.9 2.2-2 2.9-1.7-0.8-1.4 4.9-2 4-1.2 3.6-1.8-2.7-1.4 1.5-1.4-0.1-1.1" fill="none" stroke="#1c1c1c" stroke-width="0.8" stroke-linejoin="round"/>
<g clip-path="url(#c9)">
<path d="M191.9 311.5l1.2-1.5 1.8-1.9 1.8-1.7 0.7-1.9 0-1.9 0.9-1.2 2.7-1.3 3.2-1.4 0.4-1.8 0.9-1.1 1.4-1.9 2.4-2 0.6-2 0.4-1.3-0.6-1 0.1-1.7 2.2-1.8 1.8-1.3-1.2-1.2 3.1-1.8 1.2-1.7 0.5-1.5-0.8-1.2 0-1.1 1.2-1.7 1.1-1.9 1.7-1 2.9-1.1 1.7-1.7 0.5-1.8 4.3-2-0.8-1.3-0.7-1-1.2-1.7 1.3-1.3 3.2-1-0.3-2-0.2-1.9 0.5-1.8 3.7-1.8 0-1.6 4-1.1-1.4-1.5 2.2-1.6 1-1.9 2-1.9 2.5-1.6-0.1-1.1-1.1-1.4 0.9-1.5 3.3-1.1-1.4-1 1.9-2 1.8-2 2.2-1.1-0.3-1.9 3.9-1.6-1.1-1.7 0.8-1.9 1.2-1.7 0.6-1 0.8-1.3 1-1.2 0.2-1.4 4.7-1 0.9-1.3-0.9-1.7 0.4-1.1 2.9-1.6 1.1-1.7 1-1.5 1.6-1.8 0.2-1.9 2.7-1.2 0.6-1.4 0.9-1.1 0.1-1.5 3.4-1.2-1-1.6 1.5-1.9 0.1-1.2 3.1-1.7M131.1 311.5l2.9-1.2-0.3-1.8-1-1.8 2.6-1.7-1.4-1.6 3.6-1.9 1.6-1.4 1.3-1.2 1.7-1.6 1.6-2 1.7-1.9 1.3-2 0.7-1.4 0.7-1.7 2.3-1.8 0.9-1.8 0.5-1.7 2.4-1.5 2.7-1.8-0.4-1.2-0.1-1.3 2.6-1.4 1.2-1.2 0.4-1.2-1.3-1.2 3-1.8 1.3-1.6 1.4-1.2 1.7-2-1.1-1.3 3.2-1.6 3.2-1.3-0.6-1.7-0.1-2 1.2-1.4 2-1.1 2.9-1.8 1-1.8 2.1-1.5 0.7-1.8 1.2-1.9-0.2-1.8 3.1-1.2 3.5-1.1-2.2-1.6 1.3-1.8 0.9-1.3 0.1-1.6 0.8-1.6 1-1.6 4.2-1.6 2.2-1.6 0.1-1 0.5-1.1 2.8-1.4-0.4-1.8-0.2-1.2 0.9-1.9 0.8-1.2 1-1.4 0.2-1.8 1.2-1 2.3-1.6 0.3-1.9 2.1-1.1 0.3-1.2-0.1-1.8 2.5-2 2.7-2 1.5-1.1 0.6-2-0.3-1-0.4-1.6 4.8-1.3 0.7-1.6 2.2-1.5 0.4-1.3 0.1-1.6 0.4-1.9-0.6-1.5 2.1-1.2M183.7 311.5l3.3-1.4-1.4-1.8 0.1-1.1 0.3-1 0.6-1.3 2.3-1.4-1.4-1.3 2.1-1.9 0.7-1.1 1.6-1.1-0.5-1.7-0.5-1.5 4.7-1.3-0.2-1.9 0.1-1.9 2.9-1.7 1.7-1.9 1.1-1.2 0-1.5 0.9-1.1 1.9-1.8-1-1.1-0.7-1.6 1.1-1.6 2.6-1.7 0.6-2 0.5-1.4 2.3-1.2-1.1-1.5-1.2-1.7 4.2-1.6 3-1.5-0.6-1.1-0.4-1.3 2.4-1.9 1.6-1.6-0.4-1.3 0.2-1.8 0.7-1.5 0.9-1.3 2.7-1.9 0.2-1.6 1.9-1.6 0.2-1.2 0.1-1.1 1.2-1.6 0.7-1.6 2.2-1.5 1.9-1.6-0.2-1.2-0.2-1.3 1.3-1.1 1.3-1.2 1.6-1.9-0.3-1.9-0.7-1.1 2-1.1 0.4-1.2 2.3-1.7 1.4-1.6 0-1.7 1.1-1.1-2-1.5 1.5-2 1.6-1-1.3-1.3 0.2-1.4 3.5-1.6 3-1.8 0.1-1.4 1.2-1.1 1.6-1.9-0.1-1.7 1-1.6-0.8-1.7 3.6-1.7-1-1.3 2.5-1.5-0.4-2 0.8-1.8 4.1-1.1 0.4-1.5-0.8-2 3.1-1.9M171.3 311.5l0.8-1.6 1.6-1.8 0.6-1.3 3.2-1.6-0.4-1.2 0.6-1.5 0.6-1.7 1.5-1.3 2.4-1.4 4.3-2-2.3-1.2 4.6-1.2-0.4-1.5 0-1.4 1.7-1.6 1.3-1.7 2.4-1.9 2-1.5-1.4-1.4 3.5-1.8-0.4-1.9 1.9-1.7 1.6-1.5 3.6-1.3 1.1-1.5-1.6-1.5 0.4-1.5 0.4-1.5 0.8-1.6 2.6-1.3 4.5-1.9 1.6-1.8-0.1-1.6-1.3-1.7 1.7-1.7 3.8-1.1-0.3-1.2 0.5-1.1 2-1.2 0-1.6 1.3-1.8 2.1-1.4 2-1.6-1.4-1.9 0.7-1.9 3.9-1.2 1.7-1.9 1.1-1.8 1.3-1.9 1.8-1.8 0.4-1.1 1.2-1.4 2.2-1.4 2.3-1.5 1.9-1.8 0.9-1.9 0.2-1.6 0.9-1.5 0.6-1.7 1.9-1.3 4-1.6 0.9-1.6 0.1-1.8 1.9-1.7-0.1-1.9 3.6-1.7 0.1-1.2 1.1-1.4 1.5-1.4 0.7-1.2 3.3-1.3 0.2-1.1 2.6-1.9 1-1.5-0.3-1.7 1.3-1.1 1.3-1.3 2.2-1.4-1.5-1.1 2.2-1.3 2.2-1.6 2.9-1.3M109.9 311.5l1.9-1.5 2.2-1.7 2.7-1.9-0.1-1.6-1.9-1.3 2.7-1.1 1.5-1.5 0.6-1.7 1.6-2 2.1-1.3 1.7-1.9-0.9-1.5 2.1-1.9 1.2-1.7 1.5-1.3-0.3-1.7 3.6-1.9 4.6-1.1-1.7-1.6 0.4-1.6 1.8-1.5 0.5-1.8-1.2-2 2-1.8 2.7-1.6 3.1-1.8 2.2-1.3 0.7-1.9-2.2-1.7 3.3-1.3 1.6-1.7 2.6-1.4-0.1-1.6 3-1.3 0.1-1.5 0.1-2 4.3-1.9 1.2-1.4 1.8-1.6 0.8-1.4 0.6-1.6 2.1-1.3-3-1.7 1.4-1.4 3-1.9 3.1-1.6 1.1-1.3-0.3-1.5 0.1-1.7 2.1-2 1.5-1.9 0.6-1.8 0.9-1.3 1.1-2-1.2-1.8 2.2-1.2 4.3-1.5 0.5-1.5 4.6-1.6 0.1-1.1 0.7-1.7 2.1-1 0.5-1 2.5-1.1-2.3-1.4-0.3-1.5 0.1-2 4.6-1.2 2.4-1.8-0.4-1.3 2.5-1.3-0.1-1.9 0.8-1.2-0.4-1.2 0.9-1.2-0.4-1.2 2-1.4 2.8-1.3 2-1.3 0.8-1.1 0-1.9M163.6 311.5l-2.3-1.8 2.7-1.9 3.3-1.9 1-1.1 1.3-1.9 2.9-1.7-1.4-1.9 1.7-1.5-3.4-1.9 2.1-1.6 4.8-1.9 0.1-1.8 2.6-1-0.9-1.2 0.2-1.2 1-1.4 0.7-1.7 0.9-1.7-1.3-1.1-0.3-1.2 2.4-1.3 3.2-1.9 3.2-1.5 0.5-1.2-1.2-1.9 0.5-1.1 0.3-1.1 0.5-1.4 1.3-1 3.2-1.6-0.4-1.2 0.8-1.7 1.6-2 0.1-1.2 4.4-1.9 0.8-1.4 0.3-1.3 1.1-1.7-1.1-1 1.5-1.1 1.8-1.9 1.1-1.9-1.9-1.1 1.4-1.4 0.9-1.3 1.2-1.6 1.9-1.5 0.1-1.7 2.3-1.9 0.9-1.4 0.8-1.4 1.8-1.7-0.1-1.4 0.7-1.5 3.2-2 1.4-1 0.5-1.5 0.3-1.3 2.9-1.8-0.3-1.8 1.7-1.2-0.6-1-1.3-1.8 2.4-1.1-0.3-1.6 2.6-1.9 2.4-1.7-0.1-1.2 0.4-1.9 0.7-1.6 2.9-1.9 2.5-1.4-0.9-1.3 2.9-1.1 1-1.7-2.1-1.6 2.1-1.4-1.1-1.5 3.6-1.5-0.1-1.6-0.4-1.8-0.8-1.1 4.8-2M147.5 311.5l1.2-1.3 1.2-1.7 0.5-1.8 2.9-1.1-0.2-1.6-1.2-1.2 2.6-1.1-0.6-1.5 3.6-1.9 2.4-1.4-1.4-1.7 2.4-1 1.3-1.3 0.3-1.3 1.9-1.7 3.6-1.5-0.3-1.2 1.5-1.7 0.9-1.3 1.8-2 0.6-1.5 1.7-1.6-0.1-1.7 1.8-1.3 2.3-1.7 1.5-1.1 0.6-1.1 0.2-1.1 0.4-1.6 2.9-1.1 1.4-1.4 1.1-1.2 0-1.4 1.4-1.2 0.1-1.1 3.3-1.1 0.3-1.9 1.6-1.2 0.8-1.1 1.4-2-0.5-1.1 3.9-1.7 2.5-1.9-0.3-1.6-0.6-1.3 0.5-1.7 1.4-1.5 1-1.1 4.2-1.5 2.2-1.4 2.1-2 1.3-1.8 1.4-1.5 1.5-1.9 0.2-1.3 1.9-1.4 0.9-1.9 1.3-1.3 0.1-1.5 2.1-1.5 0.6-1.5 2.9-1.9-0.5-1.7 0.9-1.3-1.6-1.1 2-1.4 2.6-1.1 1-1.1-0.6-1 2.6-1.2-1.6-1.3 2.3-1.5 1.3-1.5 1.1-1.7 2.8-1.4-0.5-1.8 5.3-1.6 0.9-1.6 0.8-1.4 2.6-1.7 0.2-1.6 0.8-1.2 2.2-1.1 1.6-1.5 0.4-1.8-0.2-1.4M142.7 311.5l0.5-1.5 0.6-1.9 4.1-1.8 0.3-1.6 0.6-1.7-0.6-1.7 0.1-1.7 2.2-1.4-0.9-1.4 0.7-1.7 3.1-1.9 3.4-2-1.2-1.4 0.5-1.3 2.2-1.6 0-2 3.2-1.2 1.9-1.5 1.8-1.1 0.4-1.8-0.6-1.3 0.2-1.1 3.8-1.9 0.2-1.9 1.4-1.5 0.5-1.2 0.9-1.3 1.5-1.2 1.9-1.1-0.8-1.7 2.6-1.9-0.2-1.1-0.8-2 1.8-1.4 3.8-2 3.5-1.5 0.4-2-0.7-1.1 3.2-1.8-1-1.4 1.8-1.8-1.7-2 3.7-1.5-1.2-1.2 0.5-1.3 1.6-1.6 1.2-1.6 3.1-1.9 0.9-2-2.1-1.1 0.9-1.8 2.4-1.9 2.6-1.6 0-1.5 2.3-1.7 3.7-1.1 0.5-1.3 0.5-1.8 2.1-1-0.3-1.8 1.1-1.1 0.3-1.5-0.3-1.7 3.3-1.2 0.3-1.8 2.5-2 0.6-1.7 1.7-1.3 1.1-1.6 1.3-1.7 0.8-1.6 0.8-1.1 1.7-1.3 0.1-1.9 1.8-1.9 1.7-1.5 1.4-1.6 2.1-1.8-1.6-1.9-0.7-1.2M180.1 311.5l1-1.3-0.5-1.8 1.9-1.4 2.9-1.4 2.2-1.4-0.2-1.4 1.7-1.4-1.6-1.4 2.1-1.6 2.8-1.7 2.3-1.8 0.7-1.8 0.7-1.8 1.9-1.5-0.9-1.8 3.3-1.9 2.2-1.5 0.6-1.9 0.8-1.2 1.3-1.6 2-1.1 0.1-1.5 2.5-1.5-0.9-1.3 0.9-1.5 0.3-1.7 1.6-1.7 3.6-1.8 2.1-1.1 0.4-1.3 2.5-1.2 0.2-1.8 2.2-1.8 2.8-1.6-0.5-1.3 1-1.4 0.4-1.4 2.5-1.5 0.7-1.2 1-2-1.2-1.1 2.2-1.8 0.8-1.7 2.6-1.1 2.5-1-0.5-1.2 0.5-1.5 2.4-1.3 3.2-1.8-1.5-1.7 3.3-2-0.6-1.8 2.3-1.4 0.7-1.4-1-1.9 1.1-1 3.7-1.3 1.7-1.8 1.3-1.9 1.5-1 0.3-1.8 1.8-1.4 1-1.8 2-1.3 2.7-1.6 1.5-1.6-1.3-1.6 0.4-1.9 1.8-1.2-0.8-1 0.2-1.4-0.1-1.4 1.9-1.2 2.3-1.2 0.6-1.8 1.3-1.3 2.6-2-0.1-1.6 2.2-1.8-1-1.2 0.9-1.6 0-1.6 3-1.2M145.9 311.5l1.4-1-1-1.5 4.2-1.6 0.4-1.3 2.5-1.5 1.7-1.8 1.3-1.1-0.1-1.1-0.7-1.2-0.5-1.3 3.3-1.4-0.3-1.5 4.4-1.5 0.5-1.3-0.8-1.6 0-1.6 4.3-1.1 2.5-1.5 1.2-1.8 2.6-1.9-0.1-1.2 2.1-1.1 1.7-1.9 1.9-1.2 2.4-1.5 0.9-1.5-0.3-1.9 0.8-1.3 0.5-1.3 0-1.9 1.2-1.2 2.4-1.7 0.4-1.3 3.3-2 4.2-2-1-1.3 3.1-1.5 2.9-1.4-0.4-1.8 0.5-1.8 3.1-1.6 3.5-1.3-3.3-1.2 2-1.9 0.7-1.3 0.6-1.3 0.2-1.2 1.6-1.3 3.9-1.4 1.2-1.6-0.6-1.1 3.2-1.8 1.3-1.5 1.9-1.8-1.2-1.5 1-1.5 3.1-1.2 0.8-1.2 1.3-1.4 3.1-1.7 0.8-1.7 0.2-1 1.8-2 0.8-1.1 2.7-1.3 0.2-1.5 3.1-1.6 1.3-2 1.4-1.4 1.7-2 1.4-2 2.6-1.4-0.3-1.1 0.8-1.7 1-1.8 1.3-1.3 1-1.2 3-1.9 0.1-1.2 1.8-1.3 0.8-1.3 0.6-1.6 0-1.3-1-1.7M109.8 311.5l0.6-1.7 0.9-1.9 0.9-1.9-1.7-1.3 1.9-1 1.5-1.3 1-1.2-1.2-1.2 3.6-1.5 4.2-1.6-0.2-1.3 0.2-1.3 1.3-1.9 1.3-2 0.7-1.1 1.9-1.2 0.7-2-2.9-1.6 1.2-1.9 0.4-1 1.3-1.6 2.7-1.6 1.3-1.3 4.1-1.4-2.3-1.3 1.9-1.6-0.4-1.6-0.2-1.5 1.1-1.7 1.4-1.1 3-1.7-0.6-1.4 1.6-1.6 0.4-1.6-0.8-1.3-3.5-1.4 2.3-1.5 2.5-2 3.7-1.8 2.6-1.7-0.1-1.8 1.1-1.9 1.9-1.1 0.9-1.3 1.3-1.8-1.8-1.2 1.8-1.5 2.3-1.7 0.5-1.9 0.1-1.4 1.1-1.3-0.1-1.7 0.6-1-0.8-1.7 2.1-1.8 1.6-1.8 2-1.2-0.4-1.6 1.3-1.5 0.2-1.3 1.3-1.7-0.1-1.1 0.6-1.2 1.6-2 2.1-1.6 4.1-1.9 0.5-1-0.3-1.2 1.9-1.6-0.2-1.3-0.5-1.5 1.9-1.5-0.5-1.3-1.3-1.1 3.9-1.2-1.3-1.5 0.2-1.6 1.9-1.8-0.1-1.7 1.8-1.5 0.9-1.9 1.9-1.3 1-1.2M173.2 311.5l-1.5-1.1 1.4-1.4 0.8-1.2 2.2-1.4-0.6-1.2 3-1.6-0.2-1.5-0.4-1.7 1.9-1.8 3.4-1 2.3-1.7-0.2-1.2 0.4-2 1.7-1.1-0.1-1.4 2.7-1 0.6-1.9-1.1-1.2 2.8-1.3 0.6-1.6 2.4-1.4-0.3-2 0.9-1.5 1-1.1 1-1.9 0.5-1.8 0.9-1.3 2.4-1.9-0.3-1.5 2.4-1.9 0.6-1.7 1.4-1.6 2.5-1.3 1.5-1.4 0.8-1.2-0.6-1.4 1.9-1.5-1.4-1.4 2.6-1.1 1.8-1.5 1.7-1.7-0.5-1.4-1.6-1.8 2.8-1.6-0.7-1.3 3.8-1.5 0.9-1.5 2.3-1.7 2.3-1.3-2.6-2 2.8-1.1-1.6-1.7 2.7-1.2-1.1-1 3.5-1.5 2.7-1.7 0.7-1.1-0.9-1.4 2.4-1.5 0.2-1.6 0.7-1.9-0.7-1.2 1.5-1.1 3.5-1 1.2-2-1.1-1.5 1.5-2 1.4-1.8 4.6-1.3-0.2-1.4 1.2-1.4 0.5-2 0.7-1.7 0-2 1.4-1.4 2.8-1.5-0.1-1.2 3.8-1.7-1.6-1 0.9-2 3-1.7 1.6-1.5-1.7-1.2 2.3-1.3M133.6 311.5l1-1.5 0.1-1.4 1.8-1.4 0.9-1.6-0.3-1.4 1.6-1.5 2.5-1.6 0.2-1.1-0.4-1.6 1.9-1.6-0.7-1.6 1.9-1.2-0.3-1 4.1-1.4 1.3-1.1 2.7-1.9-1.4-1.2-1.5-1.7 4.7-1.5-3.1-1.1 2.5-1.5 2.6-1.6 0.7-1.6 0.2-1.2 2.2-1.9 0.4-2 0.4-1.3 2.7-1.7 2-1.7 1.2-1.8 1.3-1.9-0.4-1.2-0.5-1.2 2.6-1.6 0.8-1.2 0.5-1.8 1.6-1.6 1.4-1.7 2.3-1.5-0.7-2 0.4-1.9 3-2 1.4-1.1 1.3-1.2-0.4-1.3 0.3-1.8-0.7-1.3 1.5-1.2 2.5-1.6 2.7-1.8-1.9-1.4 1.1-1.3 1.9-1 0.7-1.6 2.6-1.6 2.2-1.5-1-1.5 0.6-1.5 1.6-1.6 0.5-1.4 1.8-2 2.4-1.7 1.5-1.3-0.4-1.3 1.7-1.5 0.6-1 0.4-2-0.9-1.9 1.7-1.9 2.1-1.3 0.9-1.5 2-1 1.8-1.4 0.4-1.8 0.1-1.4 0.3-1.7 1.5-1.9 4.2-1.1 0.2-1 0-1.3 0.8-1.3 0.9-2 2.1-1.9M145.1 311.5l2.9-1.4 1.5-1.1 1.8-1.3-1.2-1.2 2.8-1.7 2.6-1.8 0.6-1.4 1.4-1.9 1.3-1.7 1.1-1.9 3.5-1.5 1.3-1 0.1-1.9 1.5-1 0-1.7 0.5-1.2 1-1.6-1.3-1.3 4.4-1.6 0.4-1.9 1.8-1.9 1.2-1.8 1.8-1.9 2.5-1.5 3.7-1.3 0.1-1.3 0.8-1.1 0.6-1.5 0.3-1.4-1-1.7 0.9-1.7 4.3-1.9 3.9-1.8 2.1-1.4 1.9-1 4.1-1.2-2.4-1.3 2.5-1.8-1.9-1.1 2.2-1.2 3.3-1.7 1.9-1.8 0.6-1.6 1.4-1.2-0.3-1 3-1.5-0.4-1.7 2.4-1.2-0.8-1.9 1-1.3 2-1.8-0.9-1.5 4.1-1.6 1.7-2-0.1-1.4-0.4-1.6 3.5-1.7 0.2-1.4 2.7-1.4 2.7-1.9 2.2-1.7 3.8-1.3-0.5-1.3-1.7-1.4 2.3-1.9 2.7-1.1-1.1-1.9 2.4-1.8 4.4-1.4-0.5-2 1.3-1.9 1.7-1.9-0.6-1.3 0.4-1.2 1.8-1.9 2-1.9 2.6-1.7-0.5-1.8 2.6-1.4 2-1.3-0.4-2M126.5 311.5l3.7-1.3-2.1-1 1.7-2-0.7-1.9 0.6-1.3 1.4-1.1 1.8-1.2 3.3-2 2.9-1.8 0.4-2-0.8-1.4-0.8-1.9 2.1-1.7 2.1-1.6 2.1-1 1.2-1.4 0-1.2 1.9-1 0.2-1.5 1.6-1.8 1.8-1.1 0.5-1.9 3.5-1.6 0.7-1-1.6-1.6-0.3-1.3-0.4-1.8 3.1-1.4 0.8-1.4 1.4-1.5 0.5-2 2.7-1.7 2.4-2 0.8-1.6 0.4-1.8 2.1-1.3 0.2-1.8 2.4-1.9-1.2-1.2-0.4-1.1 1.2-1.3 3.2-1.8 0.5-1.4 3.3-1.8-0.9-1.9 0.6-2 3.7-1.5 1-1 0.9-1.7 0.4-1.3 2.5-1.6 1.6-1.9 2.2-1.9 0.3-1.3 0-1.4 2.3-1.8-0.9-1.2 1.7-1.3 3.3-1.9 4.3-1.5-1.8-1.7-0.3-2-1-1.5 0.8-1.3 1.7-2 1.3-1.1 2.5-1.4 0.2-1.5 1.5-1.4 3.2-1.8 1.8-1.4-0.1-1.1 0-1.4 0.7-1.1 0.1-1.3 2.6-1.4-1-1.4 2.3-2 2.3-1.8 0.2-2 1.6-1.5M172.3 311.5l-0.1-1.3-0.3-1.4 1.3-1.3 1.7-1.6 0.8-1.8 1.5-1.8-1.3-1.3 2.4-1.4 0.7-1.1 3.2-2 0.2-1.2-0.1-1 0.5-1.3 1.7-1.9 1.3-1.8 1.3-1.3 2.2-1.8 0.8-1.6-1.4-1.9 2.1-1.2 4.7-1.6 0.5-1.4 0.8-1.5-1.1-1.6 1.9-1 0.7-1.9 1.1-1.4 2.1-1.9-1-1.2 0.7-1.1 0.3-1.1 2.5-1.2-0.3-1.1 1.5-1.6 2-1.3 1.1-1.7 2.4-1.1-0.5-1.5 2.6-2 1.2-1.3-0.1-1.5 2.1-1.4-0.9-1.9 0.3-1.9 2.7-1.7 2.7-1.8 1.7-1.6-1-1.9 1.1-1.8 1.5-1.1 1.7-1.3 1.7-1.3 1-1.7-2.1-1.7 2.9-1.5 0.1-1.3-0.7-1.3 4.1-1.2 2.1-1.3-3.1-1.7-0.8-1.8 2.9-1.9 1.5-1.8 0.6-1.3 4.4-1.5-0.4-1.6 0.6-1.4 1.8-1.2 0.9-1.2-0.3-1.6 2.5-1.1 0.7-1.4 0-1.7 3-1.8 0.8-1.6 1.7-1.7-0.4-1.4 2-1.8 0.2-1.1 1.2-1.6 0.7-2 1.8-1.8-1.2-1.2M115.8 311.5l3.1-1.9 0.5-1.8-0.5-1.5 1-1.6 0.6-1.1-0.7-1.3 3.4-1.9 1.2-1.8 0.1-1.4 1-1.7 3-1.6 1.2-1.3-0.7-1.4 1.6-1.7 1.2-1.7 1.7-1.9 0.9-1.1 3.1-1.3-0.2-1.2-1.4-1.3 0.8-1.2-0.2-1.4 2.2-1.9 0-1.6 0.9-1.9 0.7-1.6 3.4-1.7 2.5-1.8-0.6-1.2-0.6-1.7 0.2-1.9 0-1.9 3.6-2 1.5-1.8-1-1.6 1.8-1.2 0.1-1.1 1.2-1.9 0-1.5 2.8-1.2 2.4-1.3-1.2-1.7 2.3-1.9 1.9-1.3-1.1-1.3 1-1.1 0.6-1.2 0.8-2 3.6-1.1-0.7-1 0-1.4 1.4-1.2-1.7-1.9 1.6-1.3 2.3-1.8 2.3-1.5 2.7-1.6-2-1.3 1.5-1.8 1.2-1.2-0.1-1.1 0.6-1.6 0-1.7 0.6-1.2 1-1.9 1.5-1.8 2.2-1.1 0.6-1.4 0.8-1.2 0.6-1.4 3-1.7 0.4-1.4-1.4-1.2 3-1.6-0.6-1 1.8-1.6-1.5-1.5 1.6-1.8 2.3-1.4 0-1.1-1.4-1.1 2.1-1.6-1.2-1.7M140.7 311.5l1.9-1.6 0.6-1.2 3-2 2.3-1.7-0.7-1.2 2-1.2 1.7-1.9 1.2-1.8 1-1.6 3.4-1.4-1.3-1.4 0.3-1.8 1.5-1.3 1.9-1.6 2-1.9 2.2-1.4 0.5-1.1 3.2-1.1 1.1-1.7 1.1-2 0-1.1 1.6-1.8-0.9-1.5 4.2-1.6-1.8-1.3 0.8-1.9 4-1 2.9-1.9-0.3-1 2.1-1.7-0.7-1.4 0.3-1.9 3.1-1.7 1.3-1.2 0.7-1.5 1.1-1.4 1.6-1.3-1-1.3-0.5-1.5 1.4-1.2 2.3-1.8 1.5-1.6-0.1-1.5 4.3-1-1.4-1.2-1.7-1.4 3.4-1.1 0.5-1.6 1.8-1.2 1.5-1.8 0.5-1.1 3.3-1.4-0.8-1.4 1.9-1.6 1.6-1 2.2-1.3 0.3-1.1 0.9-1.3 0.1-1.1 1.8-1.9 2.4-1.4 1.3-1.3 0.5-1.3 0.5-1.8 1-1.3 0.3-1.1-0.9-1 1.2-1.7 1.3-1.4 2-2 1.1-1.7 1-1.3 0.6-1.1 3.1-1.2 2.7-1.5-1.3-1.7 1.9-1.6 1.6-1.8 0.2-1.7 2.5-1.4-0.3-1.6 1.6-1.2 1.2-1.7 1.3-1.1 2.6-1.5 2.6-1.9M180 311.5l2.8-1.7 1.5-1.5 1.2-1.4 3-1.9 1.4-1.9 0.9-1.1-1.2-1.4-0.9-1.1 2.3-1.2 0.6-1.8-0.7-1.8-0.8-1.3 4.8-1.9 2.6-1.4-0.5-1 0.2-1.5 2.7-1.4 1.3-2-2.5-1.2 2.3-2 2.8-1.3 1.8-1.2 2.9-1.7 1.6-1.2 1.3-1.7-0.8-2 2.9-1.5 0.9-1.7 0.7-1.5 2.8-1.8 1.2-1.2 0.1-1.4 3.1-1.6 1.8-1.9 0.8-1.1 1.1-2 2.6-1.6-0.2-1.9 1.3-1.1 0.5-1.1 1-1.2 1-1 2.6-1.6 2.3-1.8 0.9-1-0.6-1.8-0.3-1.9 3.8-1.7 2.5-1.6 2.6-1.7-0.8-1 0.9-1.3 2.7-1.3 0.3-1.1-1.7-1.5 2.3-1.7-1-1.6 3.1-1 2.2-1.5 1.8-1.9 0.4-1.8 2.4-1.7 2-1.2-1.2-1.1 1-2 1.4-1.7 2.4-1.8 1.4-2 1.8-1 2.9-1.8-1.1-1.3 1-1.5 0-1 2-1.3 2.2-1.6 0.2-1.1 1.3-1.6 3.5-1.8-1.7-1.6 2.4-1.9 1-1.3 1.5-1.8 1.2-1M194.9 311.5l1-1.3 2.6-1.7 0.6-1.4 2.1-1.2-2.5-1.5 0.5-1.7 2.7-1.8 2.2-1.9-2.3-1.7 0.9-1 0.1-1.6 2.9-1.2 1.6-1.2 3-1.9 5.3-1.6 0.4-1.3-0.2-1.3-1-1.9-0.1-1.6 2.3-1.8 2.4-1.8-0.6-1.4 2.3-1.4 0.7-1.9 1.6-1.6-1.4-1.8 2.6-1.6 0.8-1.7 1.9-1.4 1-1.2 4.2-1.2 0.1-1.2 1.8-1.9-2.5-1.4 3.1-1.3-0.1-1.7-0.5-1.9 0.9-1.5 1.9-1.3 2.5-1.9 1.4-1.7 1.7-1.7-1.5-2 0.7-1.5 3.2-2 0.9-1.9 3.5-1.9-0.3-1.1 2.7-1.7-0.6-1.4 1.2-1.1 0.3-1.1 1.5-1.3 0.6-1.6 0.1-1-1.1-1.2 2.6-1.6 3-1.3 1-1.4 1.4-1.8 1.9-1.5 1.7-1.8 0.5-1.3-0.9-1.2 1.9-1.7 1.2-1.2 0.8-1.5 1.3-1.8-1.1-1.7 0.5-1.6 3.2-1.6 3-1.6-1.7-1.9 2.6-1.2 3.3-1.6-0.9-1.8 0.4-1.8 2.2-1.5 3.6-1.8 0.7-1.7-0.3-1.2M132.6 311.5l0.6-1.1 1.8-1.5 2-1.6 1.1-1.9 0-1.5 0-1.8 2.8-1.2 2.4-1.9 2.9-1.8 1.7-2-1.4-1.3 0.9-1.9 0.3-1.7 2-1.9 0.1-1.5 3.4-1.5 1.1-2 1.2-1.4 2.8-1.9 1.6-1.7 1.6-1.4 2.5-1.8 1.1-1.9 0.1-1.1 4.1-1.5 2.6-1.3-0.8-1.8 2.9-1.8 0.4-1.1-1.7-1.4 2.2-1.8 1.2-1.1 0.6-1.4 0.6-1.2 1.6-1.9 3.2-1.4 2.5-1.6-1-1.6 1-1.9 2.4-1.3 0.7-1.3 2.9-1.8-1.3-2 1.2-1.9 1.6-1.2-0.6-1.7 2.8-1.9 1.7-1.8 1.4-1.3 2.4-1.7 2.2-1.8 0.6-1.1 0.4-1.3 2-1 1.9-1.7-0.6-1.6 1.9-1.9 3.5-1.4 0.4-1.1 1.8-1.9 1.3-1.2-0.4-1 2.1-1.8 0.3-1.7 0.2-1.4 1.7-2 1.4-1.4 2.9-1.9 0.9-1.7 2.5-1.2-0.2-1.9 0.7-2 2.7-1.6 1.5-1.9 1.7-1.1 1.7-1.3-0.1-1.2-0.2-1.4 2.9-1.6-1.7-1.3M160.9 311.5l1-1.7 2.3-1.2 1.9-1.8 2.7-1.1 0.3-1.3-0.2-1.2-0.5-1.2 0.3-1.8 0.2-1.1 2.8-1.2-0.2-1.2 1.1-1.4 1-1.4 0.3-1.9 1.6-1.3 1.2-1.1 1.3-1.1 1.1-1.3 2.9-1.5 0.9-1.6-2.3-1.1 2.9-1.9 0.4-1.5 3.8-1.8-1.5-1.7 2.3-1.7 4.7-1.8-1.8-1.6 0.2-1.3 0-1.8 2.6-1.2 0.8-1.1-0.9-1.2 1-1.4 3-1.9 1.7-1.6-0.1-2 1.7-1.3-0.2-1.3 2.1-1.1-0.1-1.5 2-2 0.3-1.5 1.7-1.6 1.2-1.5 3.6-1.3-0.1-1.2 2.3-1.7-0.8-1.2 2.7-1.5-0.7-1.2 1-2 3-1.7 1-1.7 0.5-1.8 2.1-1.8 1.2-1.9 1.3-1.9 1-1.9 2-1.6 0.4-1.1 1.9-1.4-1.1-1.1 2.7-1.3-0.5-1.1 0.2-2 2.8-1.5-1-1 2.2-1.3 2.1-1.3 1.4-1.6 0.9-1.3 1-1.6 1.6-1.6 1.3-1-1-1.2 3.2-1.1 3.4-1.8-0.8-1.9 0.2-1.7 2.4-1.5 1.6-2 0.9-1.7 0.9-1.7M145.3 311.5l1.2-1.6 1.5-1.4 0.1-2 2.7-1.9 0.1-1.6 1.9-2 3.5-1.3 2.7-1.5 0.9-1.7-0.9-1 1.2-1.4 2.6-1.9-0.1-1.3 0.3-1.9 5.1-1.2 1.4-1.1 0.1-1.7 1.2-1.8 1.2-1.6 1.3-1.4-0.7-1.4 3.3-2 2.7-1.1 1.5-1.7-0.5-1.3 2.9-1.1 0-1.3-0.5-1.2 2.3-1.7 4-1.7 0.3-1.6 0.8-1.6-2.1-1.6 3.5-1.9 3-1.4 1.1-1.5 0.8-1.5 1.2-2 2.5-1 2.1-1.7 1.5-1.7 1.4-1-1.1-1 1.7-1.7-0.3-1.1 2.9-1.7 2.2-1.5 0.8-1.3 3.7-1.9 0.4-1-0.3-1.6-0.5-1.8 4.2-1.7 1.5-1-0.9-1.7 1.5-1.4-1.3-1.1 0.7-1.4 2.8-1.5 0.5-1.5 3.2-1.4 3.5-2 2.1-1.7 0.5-1.1 0.4-1.7 0.9-1.8 3.7-1.7 0.1-1.6-0.9-1.2 1.2-1.1 1.9-1.9 1-1.3 1.9-1.8 0.2-1.2 0-1 1.2-1.1 1.7-1.4 0.4-1.8 3-1.8 1.8-1.3 2-1.8 0.5-2 2.5-1.9M123.2 311.5l-0.4-1.3 1.6-1.5 2.6-1.8 0.6-1.3 2.4-1.1 0.8-1.7 1.2-1-0.4-1.2 0.6-1.9 0.2-1.3 0.8-1.2 1.2-1.9 1.4-1.3 5.8-1.6-1.6-1.8 2.3-1.9-0.9-1.7 2.9-1.1 3.8-1.9 0.6-1.9 3-1.2-2.2-1.1 2-1.3 2-1.2 1.6-1.3-1.3-1.5 0.8-1.5 1.5-1.1 0.4-1.7 1.1-1 1.8-1.1 0.2-1.7 1.7-1.4 0.6-1.9 1.4-1.3 0.3-1.2 1.7-1.2 1.3-1.1 1.5-1 0.8-1.3 2.1-1.9 2-1.6-0.5-1.3 0-1.7 1.6-1.5 1.9-1.1-0.1-1.3 2.1-1.7 1-1.2-0.6-1.1 4-1.9-1.7-1.1 3.5-1.9 2.8-1.5-2.2-1.8 1.1-1.2 2.9-1.6 1.8-1.5-0.2-1.1 3.1-1.8-0.2-1.9 1.9-1.2-2.4-1.7 4.1-1.4 1-1.6 2-1.9 0.5-1.2 0.7-1.7-0.4-1 2.6-1.4 2.6-1 2.1-1.5 1.5-1.9 1.4-1.7 0.7-1.9 0.3-1.7 0.4-1.3 1.2-1.5 0.3-1 1.9-1.5 1.6-2-0.1-1.7 3.3-1.2 1.1-1.9 0.1-1.9M129.7 311.5l2.7-1.3 1.5-2 0.5-1.2 2.1-1.6-0.7-1.1 2.6-1.7-0.5-1.5 0.9-1.5 1.2-1.7 2-1.1 3.4-1.2 0.9-1.7 0-1.8-0.6-1 1.7-1 4.3-1.6-1.7-1.6 1.3-1.2 2.5-1.9 1.8-1.4 2.5-1.7-1.3-1.2-1.5-1.3 2.6-1 3.1-1.6-1.6-1.1 2-1.2 2.1-1.7 0.4-1.9 0.5-1 3.3-1.4-0.1-1.7 3.4-1 0.1-1.7 2.1-1.3 1.1-1.8 1.6-1.1-1.1-1.4 3.3-1.1 1.2-1.6-0.1-1.7 3.2-1.7 1.9-1.8-1.4-1.7 3.1-1.9 2.4-1.5 4.2-1.9-1.4-1.7 0.9-1.1-0.8-1.3 1.8-1.9-1.2-1.6 2.6-1.5 1.6-1.1 0.1-1.2 1.8-1.4 4.3-1.1 1.5-1.6-0.4-1.6 0.4-1.9 0.4-1.4 2.1-1.1 1.9-1.4-0.5-1.9 4.5-1.5 1.4-1.9 1.7-2 1.9-1.1 1.6-1.3 1.1-1.9 2.4-1.4-2.7-1.2 2.1-1.3 0.2-1.1 3.1-1.5 0.8-1.2 3.3-1.4 1.4-1.6 0.2-1.4-1-1.5 0.3-1.6 1.2-1.8 1.5-1.2 1.8-2 2.5-1.4M192.5 311.5l2-1.6 1.9-1.5-0.4-1.2 3.5-1.4 0-1.8 1.1-1.1 1.2-1.4 1.4-1.9-1-1.3 4.6-1.9 1.3-1.8-0.2-1.3 2.7-2 0.2-1.9 0-1.7 2.1-1.7 1.8-1.5-0.5-1.9 1.6-1.5 2.3-1.6 2.4-1.8-0.2-1.8-1.1-1.2 3.4-1.8 2.5-1.1-0.9-1.4 2.3-1.7 0.2-1.7 2.8-1.3 1.6-1.2 0.6-1.1-0.4-1.6 2.7-1.9 0-1.1 1.1-1.9 2.1-1.4 1.6-1.3-0.4-1.2-1.9-1.4 3.5-1.3 3.3-1 1.1-1.1 1.1-2 3.1-1.5 0.9-1.4-0.9-1.9 2.3-1.8 0.3-1.8 1.4-1.2 1.7-1.2 0.4-1.1-0.1-1.7 1.7-1 1.9-1.7-0.5-1.1 2.8-1.2 1.2-1.8 3-1.6 2.6-2 3.1-1.6-3.5-1.8 1.6-1.4 2-1 1.9-1.8 2.5-1.3 0.9-1.2 1.9-2-2.4-1.7 1.9-1.2 3.6-2-1.9-1.1 2-1.3-0.3-1.7 5.1-1.7-0.4-1.3 0.1-1.2 3-1.8-1-1.3 3.8-1.6 0.5-1.8 2.5-1.4-0.9-1.9 3.1-1.5M164 311.5l1.7-1.3 0.7-1.1 1.3-2 0-1.7 3.7-1.8 3.1-2-0.3-1 2-2 1.2-1 0-1.4 1.7-1.3 1.4-1.6-0.1-1.5 1.9-1.8-0.7-1.5 1.3-1.5 3-1.9 2.4-1.7 1.4-1.5 2.6-1.2-2.5-1.3 0.3-1.3 2.5-1.6 3-1.1 0.7-1.7 2-1.1 1.3-1 2-1.6-0.8-1.3 1.6-1.9 0.5-1.3 1.2-1.9-0.2-1.7 1.9-1.3 4.5-1.6 0.6-2 1.2-1.1 1.3-1.2 0.9-1.6 1.6-1.2-0.1-1.7 2.2-1.5 1.1-1.9 1.7-1 3.1-1.7 0.9-2 2-1.3-1-1 2.7-1.6 1-1 2-1.9 0.7-1.9 1.2-1.8 2.5-2 1.3-1.5 0.9-1.9 0.1-1.2-0.4-1.1 4.7-1.3 1.5-1.4 0.1-1.3 0.4-1.6 0.6-1.7 3-1.7 2.4-1.4 1-1.5 1.2-1.6 2.7-1.9-0.7-1.2 4.2-1.4 2.2-1.7-0.2-1.2 1.6-1.3 2.3-1.9-1.7-1.8 2.1-1.4 0-1.4 1.4-1.4 1.8-1.2 0.9-1.2 2-1.8 3.5-2-1.8-1.7M146.2 311.5l1.7-1.8 0.2-1.3 0.8-1.9 1-1.5 0.7-1.5-0.2-1.1 0.3-1.1-0.2-1.2 0.3-1.8 2.2-1.1 3.8-1.6 1.4-1.9 1.3-1.5 1.7-1.7-0.5-2 2.5-1.8-1.6-1.7 2.8-1.1-0.8-1.4 0.2-1-0.2-1.3 2.6-1.8 1.8-1.6 1.6-1.7-0.6-1.2 0.3-1.5 0.8-2 0.8-1.3 1.1-1.2 1.7-1.5 1.7-1.5-0.3-1.1 2.2-1.3-1.6-1.7 0.5-1.5 4.3-1.8 0.3-1.4-0.5-1.1-0.1-1.5 2.8-1.5 0.6-2-1-1.2 0.8-1.6 1.7-1.2 3.2-1.5-2.1-1.7-1.4-1.6 2.4-1.1 3.3-1.6 0.7-2 1.4-1.6 0.1-1.9 1.3-2 0.8-1.7 1.3-1 1.4-1.3 3.5-1.8-0.9-1.5 1.6-1.3 0.3-1.5 1.8-1.9-0.9-1.7 0.9-1.9 2.5-2 1.6-1.1-2.2-1.7 2.5-1.2 0.4-1.6 2.1-1.8 0.1-1.9 2.3-1 1.7-1.8 1.4-1.6-0.3-1.8-0.1-1.3 1.2-1.4 0.9-2 0.3-1.3-0.4-1.5 3.2-1 2.4-1.1-1.5-1.6M128.4 311.5l0.9-2 1.9-1.6 2.4-1.8 2.8-1.2-1.4-1.7 0.9-1.7 2.1-1.1 1.1-2 1.4-1.6 0.1-1.1 0.9-1.2 1.6-1.9 1.5-1.9 1.5-1.6 3.3-1.1-2.4-1.5-0.8-1.8 3-1.7 0.6-1.8 2.5-1.6 0.7-1 0-1.8 2.7-1.5 1.7-1.3 0.1-1.2 2-1.6 1.5-1.6 2.1-1.7-2.1-1.8 0-1.6 2.6-1.3 1.6-1.2 2-1.3 1.5-1.9 2.9-1.7-0.8-1.9 0.6-1.3 2-1.3 0.4-1.6-2.7-1.4 2.6-1.7 2.3-1.7-0.2-1.8 0.8-1.7 1.7-1.7 0.8-1.4 2.9-1.5 0.7-1.2 1.5-1.3-0.6-1.1 2.3-1.6 2.6-1.4-2.7-1.5 2.8-1.2-1.3-1.2 3.7-1.2-0.3-1.6 0.7-1.5 0.9-1.1-0.5-1.5 0.8-1.8 0.8-1.1 0.8-1.3 2.2-2 0.4-1.3 4-1.6-1.6-1.7 2.2-1.2 2.9-1.6-1.2-1.1 0.4-1.2 0.6-1.8 1.3-1.4 0.6-1 0.6-1.7 2.2-1.2 3.7-1.7-0.6-1.6-0.9-1.4 1.7-1 0.3-1.6 2.3-2 1.9-1.5M169.1 311.5l2.1-1.3 1-1.5 1.9-1.5-0.5-1.5 0.5-1.8-1.1-1 5.9-1.8-2-2 4.5-1.1 0.3-1.1 2-1.9-0.7-1.3-0.3-1 1.3-1.9 2-1.1-0.2-2 3.5-1.7 1.7-1.3 0.9-1.1 2.3-1.2 1-1.7 0.9-2 0-1.6 1.8-1.5 3-1.9 1.5-1.4 0.6-1.5 2.6-1.6 2.5-1.7 1.5-1.2-1.1-1.4 0.4-1.5 2.1-2 2.7-1.4 0.3-1.5 2.1-1.1-0.7-1.1 3.2-1.7 1.2-1.7-0.3-1.3 3-1.6 0.9-1.8-0.5-1.7 0.1-1.3 1.6-1.7 2.3-1.2 0.3-1.7-0.2-1.8 2.4-1.5 2.3-1.7 1.7-1.8 0.8-1.1 2.7-1.4 2.2-1.8-0.3-1.8-0.4-1.6 2.3-1.7 4.1-1.7-0.2-1.4-0.9-1.5 1.2-1.7-1-1.6 1.9-1.1 3.7-1.4 2.1-1.5 1.6-1.1 1.3-1.5 1.2-1.2-0.1-1.5 2.1-1.8-0.1-1.2 3-1.1 1.1-1.7 0.6-1.4 1-1.9 1.6-1.5 1-1.4 1.6-1.3 0.7-1.3 2.1-1.8 3.9-1.9-0.7-2M164.1 311.5l-0.3-1.2 0.7-1 0.5-1.5 0.2-1.6 1.8-1.1 2.8-1.6 1.9-1.4 2.6-1.8-0.8-1.7 2.3-1.9 1.1-1.9 1.5-1.3 0.3-1.5 0.4-1.2 3.9-1.8 0.3-1.9-1.4-1.6 1.7-1.8 3.6-2-1.4-1 3.1-1.9 1.3-2 2.4-1.3 2-1.7-0.1-1.6 0.4-1.7 2.5-1.6 1.2-1.4 2.1-1.7-0.6-1.6-0.3-1.5 2.7-1.6 2.2-1.8-0.3-1.2-0.1-1.5-0.7-1.4 3.7-1.8 1.3-1.4 1.4-1.4-1.2-1.2 1.7-1.2 0.1-1.5 2.4-1.6 1.7-2-0.9-1.7 3.2-1.3 2.9-1.8 0-1.9 0-1 2-1.9-3.1-1.8 2.7-1.4 3.6-1.4-1.8-1.2 0.6-1.1 3-1.9 2.1-1.3 1-1.2 3.4-1.9-0.4-1 0.3-1.4 1.1-1.3 1.3-1.7 1.3-1.8 0.6-1.2 0.5-1.1 0.8-1.7 1.6-1.7 1.3-1.2 2.5-1.9 0.9-1.1 2.5-1.7-1.7-1.3 2.6-1.5 1.4-2 1.3-1.6-0.1-1.9 4-1.8 2.6-1.6 0.1-1.4-0.9-1.6M115.7 311.5l2.3-1.7 0.8-1.1 2.1-1.3-1-1 2.2-1.3-0.8-1.2 3.9-1.9 0.3-1.3 1.9-1.7 0.2-1.3 3.4-1.1 0.1-1.7-0.2-1.2 2.5-1.1 0.3-1 2.4-1 1.3-2 0.9-2 1-1.6 3.1-1.1 2.1-1-1.7-1.8-1.1-1.3 4-1.4 0-1.3 3.5-1.9 0.5-1.5 1.3-1.2 1.8-1.2-1.5-1.4 1.8-1.2 3.2-1.6 1.2-1.1 2.2-1.7-0.1-1.4 0.1-1.7 3.3-1.7-1-1 2-1.7 1.2-1.1 1.7-1.8 0.1-1.3 0-1.5 2.5-1.9 1.8-1.9 3.3-1.9 0.8-1.3 2-1.9 0.2-1.3 1.3-1.8-0.6-1.3 4-1.2 1.3-1.6 1.3-1.9 0.4-1.3-1.4-1.8 3.7-1.2 1.1-1.6 0.9-1.3 3.1-1-0.8-1.8 0.3-1.3 2.8-1.2 4.3-2-2-1.1 2.5-1.4 1.2-1.3 0.3-1.1-0.2-1.4 4.1-1.7 0.6-1.2 1.4-1.3 1.1-1.2-1-1.5 2-1-2-1 3-1.5 1.8-1.7 1.9-1.9 0.1-1.7 2.1-1.7 1-1.3 1-2 2.1-1.5 3.3-1.5 1.2-1.8M141.7 311.5l1.2-1.3 0.3-1.9 2.6-1.3 1.8-1.1-1.7-1.2 2.7-1.2 0-1.4 0.5-1.1 1.9-1.9 2.4-1.5 4.8-2-2.8-1.1 2.4-1.9-0.2-1.5 3.4-1.9 0.7-1.9-1-1.8 2-1.3 2.4-1.3 0.5-1.1 1.3-1.7 1.8-2 0-1.5 1.5-1.8 1.5-1.5 1.7-1.4 0.8-1 4.5-1.8 1.8-1.8-1-1.9 1.3-1.2 1.6-1.4 0.8-1.7 2.7-1.5 3.5-1.4 0-1.8 0.1-1.4 0.1-1.9 4.3-2-0.9-2 0.1-1.6 0.2-1.9 2.3-1.2 3-1.5 2.7-1.1 0-1.9 3.4-1.8 2.3-1.4 0.3-1.6 1.4-1.1 3.6-2-2.1-1.4 0.6-1.8 0.9-1.7 3.3-1.7-0.2-1.2 3.9-1.9-0.4-1.1-0.2-1.6 2.3-1.6 3.4-1.3 1.5-1.7 0.5-1.6 0.2-1.1 0.7-1.4 2.6-1.6 0.8-1.3 1.6-1.7 0.4-1.8 1.7-1.1 1.4-1.2 1.8-1.7 0.7-1.6-1.8-1.5 2.6-1.1 2.8-1.7-0.8-1.8 2.5-1.6 3.3-1.3 0.4-1.9 2.1-1.5M123.7 311.5l2.7-1.2-1.7-1.6 0.2-1.5 3.7-1.8 1.8-1.8 0.5-1.9-2.8-1.8 2.1-1.9 3-1.6-0.2-1.3 1.9-1.4 2.5-1 0.3-1.4 3.2-1.4 0.6-1.2 0.1-1.6 1.4-1.9 1.5-1.2 1.4-1.2 2.5-1.9 0.1-1.1 0.6-1.7-0.6-1.1 0.5-1.8 0.7-1.1 1.3-1.6 3.6-1.6 0.7-1 1.6-1.9 0.6-2 0.1-1.1 3.9-1.3-0.4-1.1-1.5-1.2 1-1.9 1.8-1 1.8-1.4 0.3-1 0.6-1.2 2.5-1.6 0.3-1.4 0.5-1.6 2.8-1.4 1.3-1.2 1-1.7-2.7-1.5 2.1-1.2 2.4-1.3 1.3-1.4 1.5-1.4 1.3-1.8 0.9-1.4 0.1-1.2-0.4-1.2 3.7-1.7 3.4-1.1-1.2-1.6 0.3-1.7-1-1.5 3.2-1.8 3.9-1.8 0.2-2-1.1-1.8 2.5-1.4-0.3-1.3 2.8-1.1 0.8-1.8 0.5-1.9 1.4-1.4 1.6-1.5 3.4-1.3-1.2-1.3 3.4-1.6 0.9-1.3 1.8-1.7 0.3-1.4 1.2-1.9-1.3-1.3 3.3-1.7 0.3-1.5 1.8-1.3 2-1.6-1-1.1 2.9-1.6-0.3-1.2M163.1 311.5l2.5-1.3-1.8-1.1 1.2-1.1 1.2-1.1 0.4-1.3 1.5-1.4 1.2-1.2 4.3-1-1.8-1.2-0.3-1.4-0.4-1.1-0.6-1.6 3-1.8 0.7-1.7-0.2-1.5 0.4-1 2.7-1.9-0.7-1.3 2.3-1.1 2.2-1.2 0.6-1.7 0.2-1.4-0.6-1.5 1.4-1.4 0.5-1.3 0.3-1.2 3.4-1.6-0.8-1.3-0.4-1.4 0.3-1.5 2.4-1.6 1-1.6 1.7-1.4 0.5-1.7 2.3-1.4 1.9-1-1.7-1.2 0.4-1.2 0.6-1.1 0.7-1.8 3.3-1.6 0.2-1.6-0.7-1.8-0.8-1.6 0.3-1.8 1.5-1.3 3.7-1.2 1.4-1.9-1.9-2 1.5-1.4 0.8-1.9 2.4-1.7 2.4-1.1 1.6-1.1 0.4-1-0.5-1.3 1.8-1.2 1.5-2 0.9-1 2.1-1.4-0.9-1.4 1.9-1.7-2.5-1.5 0.7-1.6 0.5-1.1 0.9-1.8 1.8-1.5 0.2-1 1.2-1.4 1.8-2 2.6-1.9 2.1-1.8 1.8-1.9 3.3-1.4-0.6-1.3 0.1-1.8-0.3-1.3-1.2-1.8-1.5-1.9 2.7-1.5-0.4-1.1 3.6-1.5 1.4-1.4 0.9-1.7-0.7-1.6 2.8-1.1M114.8 311.5l2.9-1.1 0.9-1.5 2.8-1.8 1.4-1.3-0.8-1.6 1.8-1.4 1.1-2 1.2-1.3 4.3-1.6 0.3-1.4 1.4-1.7-0.1-1.6 0.9-1.9 1.3-1.7 3-1.6 1.4-1.5 1.4-2 1.4-1.6-0.2-1.5 0.4-2 4-1.1-2.5-1.8 3.1-1.1-0.3-1.6 1.6-1.2 3.8-1.9-0.1-1.6 1.3-1.8 0.2-1.8 0.5-1.1 0.4-1.4 1.7-1 2.5-1.5 1.6-1.2 1-1.2 1.9-1.4 1.8-1.1 2.3-1.3-2.3-1.2 2.4-1.4 0.8-1.8 0.1-1.8 1.2-1.1 5.1-1.3-1.3-1.6-0.7-2 1.9-1.5 0.6-1.5-0.1-1.4 3.3-1.5 1.4-1.7 2-2-2.9-1.4 1.9-1.4 4.1-1.2 0.2-1.5 2.8-1.6-0.2-1.8 2.3-1.9 0.1-1.1 2.5-1.4 1.1-2 3.1-1.5-0.2-1.4 1.8-1.9 3.8-1.2-0.6-1.8 1.5-1.8 3.1-1.2-0.1-1.9-1.9-1.1 0.1-1.3 2.5-1.3 0-1.4 1.5-1.2 2.5-1.4-0.7-1.7-1.3-1.1 2.9-1.3 2.4-1.6 2.6-1.3-0.1-1.2 3.1-1.8M113.2 311.5l1.6-1.1-0.2-1.4-1.5-1.6 0.4-1.7 0.9-1.5 1.8-1.4 4-1.7 3.9-1.8 0.7-1.5-0.3-1.6 3-1.9-0.5-1.4 0.1-1 0.5-1.7 2.1-1.9 3.7-1-0.9-2 0.3-1.3 0.3-1 1.7-1.4 2.6-1.5-1.2-1.6 1.8-1 2.7-2-1.4-1 3.1-1.3-0.4-1.7 0.3-1.3 2.6-2 0.2-1.1 2.7-1.4 1-1.3-0.2-1.1 0-1 2.5-2-1.2-1.2 1.6-1.5 2-1.7 1.1-1.5-0.7-1.4 2.2-1.2 1.3-1.6 1.8-1.4 1.1-1.7 0.8-1.6 2.1-1.3 1.3-1.6 2.6-1.9-0.7-1.1 3-1.7 0.2-1.3 0.3-1.2-1.6-1.6 0-1.3 2.6-1.1 0.7-1.4 2.4-1.9 1.5-1.5 0.5-1.2 0.9-1.8 2.7-1.9 0.2-1.2-0.9-1.4 0.3-1.3 1.6-1 1.7-1.4 1.2-1.6 2.7-1.7-0.8-1.1 2.4-1.5 0.4-1.6 1.8-1.9 1.6-1.1 0.5-1.8 1.1-1.1 0.5-1.7 3.7-1.6 0.9-1.7-0.5-1.9 2.1-1.8 1.2-1 1.7-1.1-1.6-1.5-0.1-1.7 2.2-1.8M121.3 311.5l0.5-1.5 2.2-1.5 0.8-1.3 3-1.1 0.3-1.2 0.9-1.4 0.1-1.3 1.2-1.6 1.6-1.7 2.8-1.8 3-1.7 1.3-1.1-0.6-1.4 0-1.9 2.3-1.1 0.3-1.5 0.9-1.9 2-1.9-0.3-1.4 2.6-1.2-1.1-1.2 2.5-1.7 2.8-1.9 2.3-1.5-0.2-2 1.9-1.3 1.5-1.2 1.2-1.1 1.8-1.3 0.6-1.8 2.7-1.1 0.2-1.4 1.4-1.1-0.9-1.2-1.6-1.4 0.8-1.8 1.9-1.8 3.7-1.6 1.7-1.4 2.1-1.7-0.3-1.5 2.2-1.1 1.2-1.6 1.4-2 0.6-1.1-0.1-1.2 3.5-2 1.4-1.6 1.3-1.2 0.9-1.3-0.5-1.3 2.4-1.9 2.1-1.8 2.1-1.5 0.9-1.3-0.9-1.6 1-1 2.8-1.5 2.2-1.8-0.1-1.2 1.8-1.7-0.8-1.2 3-2 3.7-1.9 1.8-1.1 3-1.9-1.7-1.7 1.4-1.4 2.4-2 0.4-2 1.9-1.1 0.4-1.3 2.2-1.7-0.3-1.2-1.4-1.2 3.9-1.3-0.1-1.3 2.8-1.7 0.9-1.3 1.8-1.4 1.5-2 2.8-1.9-1-1.3 0.4-1.4M163.2 311.5l0.7-1.5 1.7-1.9 1-1.2 1.7-1.5 0.7-1.9-1.8-1.3 2.4-1.8 4.2-1.5 0.3-1.2 0.7-1.2 2.4-1.4-0.5-1.4-1.9-1.1 2.4-1 2.5-1.1 2.3-1.4 1.1-1 1.9-1.5 1-1.6-0.4-1.2 0.9-1.7 1.1-1.5 2.4-1.3 0.7-1.3 1.9-1.2 0-1.2 0.6-1.7 2.5-2 1-1.4 2.7-1.5 0-1.5 1.4-1.6 0.6-1.5-0.3-1.5 1.6-1.1 1.1-1.4 2.1-1.4-0.9-1 0.6-1.7 2.6-1.1-0.5-2 5.6-1.5-0.7-1.4 2.9-1.7 1.8-1.2-1.3-1.1 2.8-2 2.5-1.9 3.8-1-0.4-1.3 0.5-1.8 0.2-1.2 1.9-1.9 2.2-1.9 1.4-1.4 0.2-1.9 0.6-1.3 1.5-1.9 1.3-1.8 0.7-1.4 2.2-1.1 0.2-1.6 3.6-1.4-0.2-1.2 1.7-1.2 1.2-1 0.3-1.6 1.8-1.8 1.3-1.1 2.3-1.8 0.1-1.5 0.5-1 3.9-1.7 0.5-1.5 0.2-1.3 1.5-1.9 3-1.9 1.8-1.7 1-1.2 1-2-1-1.2 2.7-1.1 0.3-1.6 3.7-1.2 1.3-1.9 4.1-1.8M162.1 311.5l1.5-1.7-0.1-1.8 0.5-1.5 2.4-1-0.6-1.1 0.2-1.2 1.2-1.1 1.3-1.6 2.5-1.6 0.5-1.6 0.7-1 0.9-1.7 1.2-1.6-2.1-1.2 6-1.6-0.6-1.5 3.3-1.7-1.7-1.3 1.8-1.4 1.8-1.9 2.3-1.2-1.1-1.7-0.7-1.7 2.7-1-0.7-1.2 0.9-1.2 1.1-1 1.9-1.9 2.6-1.6-1.2-1.1 3.2-1.3-0.5-1.9-0.1-1.2 0.1-1.5 0-1.6 2.8-1.3 1.5-1.7-1.8-1 1.6-2 0.2-1.2 1.5-1.6 1-1.4 2.5-1.9 2.2-1.7 2.1-1.1 0.4-1.2 0-1.2-0.2-1.2 1.7-1.8 0.3-1.6 2.3-1.8 4.2-1.8-1.2-1.7 0.9-1.3 1.3-1.3 0.1-1.4 3.4-1.4-0.6-1.4 0.4-1.6 0-1.1-0.7-1.2 2.8-1.9-0.7-1.8 2.8-1.8 0.5-1.4 4.3-1.9 2.6-1.9-2.1-1.4 1.3-1.4 0.6-1.4 1.4-2-1.3-1.1 1.4-1.5 1.4-2 0.9-1.9 0.6-1.1 2-1.7 0-1.3 1.2-1 2.4-1.6 0.2-1.6 1.6-1.7 2.4-1.9-0.4-1.7" fill="none" stroke="#1c1c1c" stroke-width="0.8" stroke-linejoin="round"/>
</g>
<path d="M54.1 311.5l1.8-1.6 3.7-1.4 1.9-1.9 2.2-1.9 1-1.5 3.3-1.3 1.5-1.1 2-1.4 3.2-1.4 2-1.2-0.8-1.3 3.9-1.9-1.7-1.8 6.2-2 2.3-1.4 1-1.1 2.1-1.5 1.7-1.4 2.2-1.7 0.9-1.6 0.7-1.8 4.6-1.4 4.1-1.5 1.3-1.6-0.7-1-0.7-1.2 3.3-1.5 2.5-2 1.3-1.7 2.2-1.4 2-1.8 2.9-1.4 2.6-1.3 4.1-1.7 2.8-1.9 1.5-1.3 2.6-1.6 3.1-2 0.7-1.1 1.9-1.9 3.2-1.1 4.8-1.7 1.4-1.3 0.6-1 0.4-1 2.3-2 0.8-1.7 1.4-1.2 5.4-1.9 2.5-1.5-0.4-1.1 3.2-1.7 2.6-1.9 0.3-1.4 3-1.7 2.8-1.8 1.6-2 1.1-1.8 1.3-1.7 2.1-1.4 4.6-1.9 0.5-1.2 2.9-1.2-0.8-1.2 6-1.4 2.7-1.9-0.5-1.6 2.5-1.8 2.8-1.5 0.2-1.2 5-2 0.9-1.2 1.6-1.8 1.5-1.3 3.4-1.5 6.1-2 1.9-1.2-0.8-1.7 4-1.8 4.2-1.8 5.5-1.7" fill="none" stroke="#1c1c1c" stroke-width="0.8" stroke-linejoin="round"/>
<path d="M96.2 311.5l0.9-2 2.2-1.2 0.5-1 0.8-1.9-0.6-1.2 2.2-2 1.7-1.1-1-1.2 3.2-2 3.7-1.2-1.4-1.2 3.2-1.5-0.5-1.3 1.3-1.7 2.2-1.2 1.3-1.3 3.4-1.9-1.7-1.4 2.2-1.5 0.6-1.2 1.1-1.1 1.4-1.9-0.6-1.4 0.9-1.2 1.6-1.2 2.6-2 1.2-1.7 1.2-1 1.9-1.2 1.7-1.5 1.3-1.5 0.2-1.6 1.4-1.5 0.1-2 0.3-1.4 5.4-1.6-1.7-1.3 0.8-1.9 1.8-1.9 0.4-1.6 3.3-1.9 0.7-2 1.2-1.3 1.3-1.7 1-1.8 1.9-1.9 1.5-2 1.5-1.1 3.9-1.2-1-1.2 1.1-1.7 2.2-1.1 2.1-1.6 0.1-1.9 2.5-1.1 2.5-1.6 0.4-1.8 2.5-1.2-1.6-1.9 0.9-1.5 0.5-1.2 1.4-1.3 1.8-1.1 0.4-1.8 2.9-1.3 0.2-1.3-1.3-1.2 0.6-1.8 4.2-1.6 2.7-1.6 1.7-1.8-1.5-1.1 2.7-1.8 3.9-1.4-2.6-1.3 0.5-1.6 1.8-1.2 3.1-1.9 1.2-1.4-1.5-1.1 1.7-1.6 2.6-1.4 1.1-1 0.9-1.2" fill="none" stroke="#1c1c1c" stroke-width="0.8" stroke-linejoin="round"/>
<path d="M71 311.5l3.3-1.7 1.7-1.9 1.2-1.4 2.5-1.8 3.8-1.8 2-1.2 1.8-1.1 2-1.6 1.4-1.8 0.4-1.2 3.5-1.8 2.8-1.7-0.8-1.1 1.1-1.2-0.1-1.1 2.6-1.4 0.9-1.4 1-1.2 4.1-1 1.6-1.8 2.7-1.8 3.3-2 2.9-1.2 1.3-1.9 2.2-1.8 1.1-1.6-0.3-1.1 2.7-1.6 4.1-1.3 1.3-1.6 2.4-1.3 2.6-1.9 2.1-1.2 4.4-1.4 1.8-1.6-0.4-1.2 2.1-1.8-0.3-1.6 2.6-1.4 0.2-1.9 2.5-1.6 3.6-1.6 2.8-1.7 1.3-1.2 1.3-1.4 2.9-1.4 0.5-1.8 3.3-1.3 1.6-1.8 2.5-1.9 1.5-1.5 0.7-1.5 2.8-1.1 3.5-1.5 1.4-1.1 0.7-1.2 1.7-1.6 3.7-2 4.2-2 0.9-1.1 1.8-1.8 1.8-1.2 2-2 1.4-2 1.4-1.2 2.4-1.1 2.2-1.4 0.6-1.4 4.2-1.3 1.4-1.7 1.7-1.5 1.2-1.2 1.7-1.6 3.9-1.1 4.1-1.6 0.6-1.5 1.4-1.2 3.2-1.4 3.4-1.6 5.6-1.5 1-1.9 1.2-1 1.6-1.7" fill="none" stroke="#1c1c1c" stroke-width="0.8" stroke-linejoin="round"/>
<path d="M145.3 311.5l3.3-1.8-0.2-1.1-0.8-1.3 4.2-1.3 1-1.2 3.6-1.3 4.4-1.9 3.6-2 0.3-1.1 0.2-1.3 4.5-1.5-0.9-1.4 1.7-1.7 2.2-1.4 2.3-1.6 2.8-1.3 1.3-1.4 0.9-1.1 0.9-1.4 3.6-1.6 1.3-1.4 1.3-1.4 1.4-2 3-1.7 2.3-1.5 1.3-1.3 1.7-1 0.6-1.4 1.8-1.3 2.6-1.5 0.5-1.7 2.5-1.9 3.4-1.2 3.6-1.1 0.9-1.7 0-1.5 3.5-1.1 4.8-1.5-2.4-1.5 2.1-1.1 4.5-2-1.3-1.4 3.3-1.3 1.6-1.9 0-1.1 3-1.3 1.8-1.4-0.5-1.6 0.3-1.5 0.5-1.8 4.6-1.9 1.8-1.7-1.7-1.8 2.9-1.1-0.2-1.9 0.7-1 1-1.3 0.8-1.4 1.4-1.1 1.9-1.5-0.3-1.3 0.1-1.4 4.2-1.9 3.6-1.8 2-1.6 1.1-1.5 3.3-1.1-0.6-1.8 3.9-1.9 0.8-1.4 0.7-1.7 1.8-1.6 2.8-1.2 3-1.3 3-1.7 1.4-1 1.5-2 2.1-1.6 2.8-2 1.2-1 2.9-1.3 4.1-1.4 1.4-1.2 1.2-1.6 0.5-1.6" fill="none" stroke="#1c1c1c" stroke-width="0.8" stroke-linejoin="round"/>
<path d="M181.2 311.5l0.2-1.6 1.1-1.4 0.7-1 1.9-1.6 0.8-1.6 1.8-1.8 2-1.7 0.7-1.6-1.5-1.1 1.4-1.8 3.1-2 0.7-1.5 1.2-1.6 2-1.5-2.1-1.7 2.3-1.5 1.3-1.8 1.6-1.8 1.7-1.3 1.5-1.9 1.6-1.7 1.6-1.3 1-1.2 0.6-1.4 0-1.8 2-1.3-0.4-1.1 1.1-1.4-0.4-1.4 2.2-1.2 0.5-1.9 0.9-1 0.4-1.6 1.5-2-0.1-1.6 2.5-1.1 1.2-1.4 1.5-1.5-0.3-1.6-0.4-1.1 0.7-1.5 3.7-1.9 2.5-1.4 2.7-1.8-1-1.9 1.6-1.8 1.2-1.3 2.1-1.6-0.1-1.2 0.7-1.6 1.7-1.8 0.6-1.3 0.5-1.1-0.1-1.3 1.1-1.8 0.8-1.7 1.7-1.5 0.5-1 2.1-1.9-1.9-1.7-0.7-1.2 3.3-1.2 3.6-1.7 2.6-1 1.7-1 2.5-1.5 2.1-1.8 2.6-1.5 2.4-1.9-0.4-1.2 2.5-1.5 2.9-1.2 0.8-1.8 1.1-1.6 1.5-1.1 2.3-1.9 4.9-1.6 3.8-1.4-1.1-1 1.7-1.2 2-1 0.1-1 3.3-1.9 2.5-1.7" fill="none" stroke="#1c1c1c" stroke-width="0.8" stroke-linejoin="round"/>
<path d="M183.5 287.2h1.5v-0.4h1.5h1.4v-1.3h1.5v-0.2h1.4v-0.5h1.5v-1.6h1.5v-2.6h1.4h1.5v-0.4h1.4v-0.6h1.5v-1.2h1.5v-1.4h1.4h1.5v-0.5h1.4v-0.4h1.5v-1.1h1.5v-0.4h1.4v-0.6h1.5v-0.6h1.4v-1.9h1.5v-0.5h1.5v-0.3h1.4v-0.2h1.5v-0.3h1.4v-1.5h1.5v-1.7h1.5v-1.5h1.4v-2.5h1.5h1.4v-0.6h1.5v-1h1.5v-1.7h1.4v-1.6h1.5v-2.8h1.4v-1.8h1.5v-1.8h1.5v-0.9h1.4v-2.4h1.5v-1.7h1.4v-2h1.5v-1.8h1.5v-1.5h1.4v-2.4h1.5v-1.2h1.4v-2.4h1.5v-1.4h1.5v-1.6h1.4v-0.8h1.5v-2.6h1.4v-1.1h1.5v-1.1h1.5h1.4v-1h1.5v-1.3h1.4h1.5v-1h1.5v-1.2h1.4v-2h1.5v-1.2h1.4v-0.7h1.5v-1.1h1.5v-0.5h1.4h1.5v-1.7h1.4v-1.7h1.5v-0.8h1.5h1.4v-0.4h1.5v-2.1h1.4v-1.1h1.5v-0.7h1.5v-1.3h1.4v-0.8h1.5v-1.6h1.4v-1.7h1.5h1.5h1.4h1.5v-0.9h1.4v-1.5h1.5h1.5h1.4h1.5v-0.5h1.4v-0.6h1.5v-0.2h1.5h1.4h1.5v-1.9" fill="none" stroke="#e53030" stroke-width="0.9"/>
<path d="M190.8 313.7h1.5v-4.4h1.5v-4.8h1.4v-2.4h1.5v-3h1.4v-0.1h1.5v-2.2h1.5v-0.5h1.4v-1.3h1.5v-1.1h1.4v-0.8h1.5v-1.5h1.5v-1.7h1.4v-0.7h1.5v-1h1.4v-1.7h1.5v-0.9h1.5v-2.6h1.4v-1.8h1.5v-2h1.4h1.5v-1.2h1.5v-2.7h1.4v-1.1h1.5v-2.4h1.4v-3.7h1.5v-1.9h1.5v-2h1.4v-2h1.5v-1.1h1.4v-1.6h1.5v-2h1.5v-0.2h1.4v-1.5h1.5v-2.5h1.4v-1.5h1.5v-1.5h1.5v-2.6h1.4v-1.8h1.5v-1.8h1.4v-0.3h1.5v-1.7h1.5v-2.5h1.4v-0.6h1.5v-0.6h1.4v-1.2h1.5v-2h1.5v-1.6h1.4v-2.7h1.5v-0.7h1.4v-1.4h1.5v-1.4h1.5v-0.8h1.4v-0.8h1.5v-0.8h1.4v-2.3h1.5v-1h1.5v-2.6h1.4v-1h1.5v-2.3h1.4v-1.4h1.5v-0.7h1.5v-1.7h1.4v-0.4h1.5v-0.7h1.4v-2.2h1.5v-1.9h1.5v-1.4h1.4v-1.1h1.5v-1h1.4h1.5v-1.1h1.5v-0.7h1.4v-1.3h1.5v-2.4h1.4v-1.8h1.5v-0.9h1.5v-0.3h1.4v-1.3h1.5v-0.7h1.4v-0.4h1.5v-1.2h1.5v-0.8h1.4v-1.3h1.5v-1.2" fill="none" stroke="#3d9a3d" stroke-width="0.9"/>
</g>
<line x1="189.6" y1="191" x2="189.6" y2="309" stroke="#333" stroke-width="1"/>
<line x1="189.1" y1="308.5" x2="307.5" y2="308.5" stroke="#333" stroke-width="1"/>
<line x1="187.6" y1="295.5" x2="189.6" y2="295.5" stroke="#333" stroke-width="0.9"/>
<line x1="187.6" y1="272.1" x2="189.6" y2="272.1" stroke="#333" stroke-width="0.9"/>
<line x1="187.6" y1="248.8" x2="189.6" y2="248.8" stroke="#333" stroke-width="0.9"/>
<line x1="187.6" y1="225.4" x2="189.6" y2="225.4" stroke="#333" stroke-width="0.9"/>
<line x1="187.6" y1="202" x2="189.6" y2="202" stroke="#333" stroke-width="0.9"/>
<text x="187.3" y="204.3" font-size="11" text-anchor="end" fill="#222" >70</text>
<text x="187.3" y="251.6" font-size="11" text-anchor="end" fill="#222" >50</text>
<text x="187.3" y="298" font-size="11" text-anchor="end" fill="#222" >30</text>
<line x1="192.3" y1="308.5" x2="192.3" y2="306.5" stroke="#333" stroke-width="0.9"/>
<text x="192.3" y="319.4" font-size="11" text-anchor="middle" fill="#222" >80</text>
<line x1="221.5" y1="308.5" x2="221.5" y2="306.5" stroke="#333" stroke-width="0.9"/>
<text x="221.5" y="319.4" font-size="11" text-anchor="middle" fill="#222" >100</text>
<line x1="250.7" y1="308.5" x2="250.7" y2="306.5" stroke="#333" stroke-width="0.9"/>
<text x="250.7" y="319.4" font-size="11" text-anchor="middle" fill="#222" >120</text>
<line x1="279.9" y1="308.5" x2="279.9" y2="306.5" stroke="#333" stroke-width="0.9"/>
<text x="279.9" y="319.4" font-size="11" text-anchor="middle" fill="#222" >140</text>
<text x="245" y="333.2" font-size="11.2" text-anchor="middle" fill="#222" >Neurite Length (pixels)</text>
<text transform="translate(170.6,249.3) rotate(-90)" font-size="11.4" text-anchor="middle" fill="#222">Cumulative Percent</text>
<text x="190.3" y="187.8" font-size="20.5" text-anchor="start" font-weight="bold" fill="#000" >f</text>
<line x1="265.4" y1="177" x2="265.4" y2="183" stroke="#000" stroke-width="1.5"/>
<path d="M263 182.5L267.8 182.5L265.4 189.5Z" fill="#000"/>
<line x1="267.1" y1="177.8" x2="267.1" y2="183" stroke="#f00" stroke-width="1.5"/>
<path d="M264.7 182.5L269.5 182.5L267.1 189.5Z" fill="#f00"/>
<line x1="175.6" y1="261.4" x2="182.7" y2="261.4" stroke="#000" stroke-width="1.4"/>
<path d="M182.2 259.3L182.2 263.5L188.7 261.4Z" fill="#000"/>
<line x1="175.6" y1="264.4" x2="181.8" y2="264.4" stroke="#f00" stroke-width="1.4"/>
<path d="M181.3 262.3L181.3 266.5L187.8 264.4Z" fill="#f00"/>
<text x="251.4" y="257.9" font-size="11.3" text-anchor="start" fill="#222" >Cerivastatin</text>
<rect x="242.2" y="256.3" width="6.6" height="1.3" fill="#e53030"/>
<text x="248" y="272.6" font-size="11.4" text-anchor="start" fill="#222" >DMSO</text>
<rect x="239.7" y="271.3" width="1" height="1" fill="#9c9"/><rect x="244.2" y="271.3" width="1" height="1" fill="#9c9"/>
<text x="249.5" y="281.9" font-size="11.4" text-anchor="start" fill="#222" >water</text>
<rect x="239.7" y="280.7" width="1.7" height="1.1" fill="#454"/><rect x="244.2" y="280.7" width="1.7" height="1.1" fill="#454"/>
<text x="247" y="294.5" font-size="11.4" text-anchor="start" fill="#222" >H1152</text>
<rect x="239.1" y="291.6" width="6.8" height="1.3" fill="#3d9a3d"/>
<line x1="382.5" y1="195.5" x2="382.5" y2="302.5" stroke="#333" stroke-width="1"/>
<line x1="382" y1="302" x2="485.5" y2="302" stroke="#333" stroke-width="1"/>
<line x1="380.3" y1="302" x2="382.5" y2="302" stroke="#333" stroke-width="0.9"/>
<text x="379" y="305.9" font-size="10.9" text-anchor="end" fill="#222" >0</text>
<line x1="380.3" y1="267" x2="382.5" y2="267" stroke="#333" stroke-width="0.9"/>
<text x="379" y="270.9" font-size="10.9" text-anchor="end" fill="#222" >100</text>
<line x1="380.3" y1="232" x2="382.5" y2="232" stroke="#333" stroke-width="0.9"/>
<text x="379" y="235.9" font-size="10.9" text-anchor="end" fill="#222" >200</text>
<line x1="380.3" y1="197" x2="382.5" y2="197" stroke="#333" stroke-width="0.9"/>
<text x="379" y="200.9" font-size="10.9" text-anchor="end" fill="#222" >300</text>
<line x1="396.1" y1="226.2" x2="396.1" y2="231" stroke="#555" stroke-width="0.8"/>
<line x1="393.1" y1="226.2" x2="399.1" y2="226.2" stroke="#555" stroke-width="0.8"/>
<rect x="387.1" y="231" width="18" height="71" fill="url(#hstripe)" stroke="#333" stroke-width="0.9"/>
<text x="396.1" y="316.6" font-size="13.5" text-anchor="middle" fill="#222" >W</text>
<line x1="396.1" y1="302" x2="396.1" y2="304" stroke="#333" stroke-width="0.8"/>
<line x1="422.6" y1="236.8" x2="422.6" y2="237.8" stroke="#555" stroke-width="0.8"/>
<line x1="419.6" y1="236.8" x2="425.6" y2="236.8" stroke="#555" stroke-width="0.8"/>
<rect x="413.8" y="237.8" width="17.6" height="64.2" fill="#a2a2a6" stroke="#333" stroke-width="0.9"/>
<text x="422.6" y="316.6" font-size="13.5" text-anchor="middle" fill="#222" >D</text>
<line x1="422.6" y1="302" x2="422.6" y2="304" stroke="#333" stroke-width="0.8"/>
<line x1="449.6" y1="209.5" x2="449.6" y2="212.7" stroke="#555" stroke-width="0.8"/>
<line x1="446.6" y1="209.5" x2="452.6" y2="209.5" stroke="#555" stroke-width="0.8"/>
<rect x="440.5" y="212.7" width="18.3" height="89.3" fill="url(#vgrad)" stroke="#333" stroke-width="0.9"/>
<text x="449.6" y="316.6" font-size="13.5" text-anchor="middle" fill="#222" >H</text>
<line x1="449.6" y1="302" x2="449.6" y2="304" stroke="#333" stroke-width="0.8"/>
<line x1="475.8" y1="212" x2="475.8" y2="215.9" stroke="#555" stroke-width="0.8"/>
<line x1="472.8" y1="212" x2="478.8" y2="212" stroke="#555" stroke-width="0.8"/>
<rect x="466.8" y="215.9" width="18" height="86.1" fill="#7a7a7a" stroke="#333" stroke-width="0.9"/>
<text x="475.8" y="316.6" font-size="13.5" text-anchor="middle" fill="#222" >C</text>
<line x1="475.8" y1="302" x2="475.8" y2="304" stroke="#333" stroke-width="0.8"/>
<text x="449.1" y="209.5" font-size="9.5" text-anchor="middle" fill="#222" >**</text>
<text x="475.8" y="211.8" font-size="9.5" text-anchor="middle" fill="#222" >***</text>
<text x="385.2" y="192.5" font-size="20.5" text-anchor="start" font-weight="bold" fill="#000" >g</text>
<text transform="translate(342.6,246.7) rotate(-90)" font-size="11.2" text-anchor="middle" fill="#222">Average Neurite Length</text>
<text transform="translate(353.6,246.1) rotate(-90)" font-size="11.2" text-anchor="middle" fill="#222">(pixels)</text>
<text x="558" y="196.2" font-size="20.5" text-anchor="start" font-weight="bold" fill="#000" >h</text>
<line x1="611" y1="208.1" x2="612" y2="208.1" stroke="#666" stroke-width="0.8"/>
<line x1="612" y1="206.2" x2="612" y2="209.9" stroke="#666" stroke-width="0.8"/>
<rect x="559.2" y="203.3" width="51.8" height="9.5" fill="url(#check)" stroke="#333" stroke-width="0.9"/>
<line x1="557.2" y1="208.1" x2="559.2" y2="208.1" stroke="#333" stroke-width="0.9"/>
<text x="560" y="212.2" font-size="11.6" text-anchor="end" fill="#222" >DMSO</text>
<line x1="644.2" y1="222.4" x2="652.7" y2="222.4" stroke="#666" stroke-width="0.8"/>
<line x1="652.7" y1="220.6" x2="652.7" y2="224.2" stroke="#666" stroke-width="0.8"/>
<rect x="559.2" y="217.5" width="85" height="9.9" fill="#a2a2a6" stroke="#333" stroke-width="0.9"/>
<line x1="557.2" y1="222.4" x2="559.2" y2="222.4" stroke="#333" stroke-width="0.9"/>
<text x="560" y="226.5" font-size="11.6" text-anchor="end" fill="#222" >Cerivastatin</text>
<rect x="655" y="220.5" width="1.2" height="1.2" fill="#333"/><rect x="655" y="222.9" width="1.2" height="1.2" fill="#333"/>
<text x="660.3" y="224.8" font-size="11.4" fill="#222">1 <tspan font-family="Liberation Serif" font-size="12">μ</tspan>M</text>
<line x1="635.6" y1="236.8" x2="638.5" y2="236.8" stroke="#666" stroke-width="0.8"/>
<line x1="638.5" y1="234.9" x2="638.5" y2="238.6" stroke="#666" stroke-width="0.8"/>
<rect x="559.2" y="232.2" width="76.4" height="9.1" fill="#000" stroke="#333" stroke-width="0.9"/>
<line x1="557.2" y1="236.8" x2="559.2" y2="236.8" stroke="#333" stroke-width="0.9"/>
<text x="560" y="240.8" font-size="11.6" text-anchor="end" fill="#222" >Fluvastatin</text>
<rect x="646.4" y="236.2" width="1.3" height="1.3" fill="#333"/>
<text x="651.8" y="239" font-size="11.4" fill="#222">1 <tspan font-family="Liberation Serif" font-size="12">μ</tspan>M</text>
<line x1="637.5" y1="251.2" x2="641.3" y2="251.2" stroke="#666" stroke-width="0.8"/>
<line x1="641.3" y1="249.3" x2="641.3" y2="253" stroke="#666" stroke-width="0.8"/>
<rect x="559.2" y="246.4" width="78.3" height="9.5" fill="#d8d8d8" stroke="#333" stroke-width="0.9"/>
<line x1="557.2" y1="251.2" x2="559.2" y2="251.2" stroke="#333" stroke-width="0.9"/>
<text x="560" y="255.2" font-size="11.6" text-anchor="end" fill="#222" >Simvastatin</text>
<rect x="643.6" y="249.2" width="1.2" height="1.2" fill="#333"/><rect x="643.6" y="251.7" width="1.2" height="1.2" fill="#333"/>
<text x="653.7" y="252.9" font-size="11.4" fill="#222">5 <tspan font-family="Liberation Serif" font-size="12">μ</tspan>M</text>
<line x1="636.6" y1="265.2" x2="646.5" y2="265.2" stroke="#666" stroke-width="0.8"/>
<line x1="646.5" y1="263.4" x2="646.5" y2="267.1" stroke="#666" stroke-width="0.8"/>
<rect x="559.2" y="260.3" width="77.4" height="9.9" fill="#6e6e6e" stroke="#333" stroke-width="0.9"/>
<line x1="557.2" y1="265.2" x2="559.2" y2="265.2" stroke="#333" stroke-width="0.9"/>
<text x="560" y="269.4" font-size="11.6" text-anchor="end" fill="#222" >Lovastatin</text>
<rect x="648.9" y="264.6" width="1.3" height="1.3" fill="#333"/>
<text x="654.6" y="266.6" font-size="11.4" fill="#222">5 <tspan font-family="Liberation Serif" font-size="12">μ</tspan>M</text>
<line x1="635.6" y1="279.6" x2="642.3" y2="279.6" stroke="#666" stroke-width="0.8"/>
<line x1="642.3" y1="277.8" x2="642.3" y2="281.4" stroke="#666" stroke-width="0.8"/>
<rect x="559.2" y="274.9" width="76.4" height="9.5" fill="#a8a8a8" stroke="#333" stroke-width="0.9"/>
<line x1="557.2" y1="279.6" x2="559.2" y2="279.6" stroke="#333" stroke-width="0.9"/>
<text x="560" y="283.8" font-size="11.6" text-anchor="end" fill="#222" >Atorvastatin</text>
<rect x="643.6" y="279" width="1.3" height="1.3" fill="#333"/>
<text x="651.8" y="284" font-size="11.4" fill="#222">10 <tspan font-family="Liberation Serif" font-size="12">μ</tspan>M</text>
<line x1="618" y1="294.1" x2="620.5" y2="294.1" stroke="#666" stroke-width="0.8"/>
<line x1="620.5" y1="292.3" x2="620.5" y2="295.9" stroke="#666" stroke-width="0.8"/>
<rect x="559.2" y="289.2" width="58.8" height="9.8" fill="#555" stroke="#333" stroke-width="0.9"/>
<line x1="557.2" y1="294.1" x2="559.2" y2="294.1" stroke="#333" stroke-width="0.9"/>
<text x="560" y="298.2" font-size="11.6" text-anchor="end" fill="#222" >Pravastatin</text>
<text x="629" y="297.9" font-size="11.4" fill="#222">25 <tspan font-family="Liberation Serif" font-size="12">μ</tspan>M</text>
<line x1="559.2" y1="202.6" x2="559.2" y2="302.3" stroke="#333" stroke-width="1"/>
<line x1="558.7" y1="301.8" x2="660" y2="301.8" stroke="#333" stroke-width="1"/>
<line x1="592.8" y1="301.8" x2="592.8" y2="299.8" stroke="#333" stroke-width="0.9"/>
<line x1="626" y1="301.8" x2="626" y2="299.8" stroke="#333" stroke-width="0.9"/>
<line x1="660" y1="301.8" x2="660" y2="299.8" stroke="#333" stroke-width="0.9"/>
<text x="592.8" y="312.4" font-size="10.9" text-anchor="middle" fill="#222" >50</text>
<text x="624.8" y="312.4" font-size="10.9" text-anchor="middle" fill="#222" >100</text>
<text x="658.1" y="312.4" font-size="10.9" text-anchor="middle" fill="#222" >150</text>
<text x="616.2" y="325.5" font-size="11.3" text-anchor="middle" fill="#222" >Average Median</text>
<text x="618.1" y="338.3" font-size="11.4" text-anchor="middle" fill="#222" >Neurite Length (pixels)</text>
</svg></body></html>
